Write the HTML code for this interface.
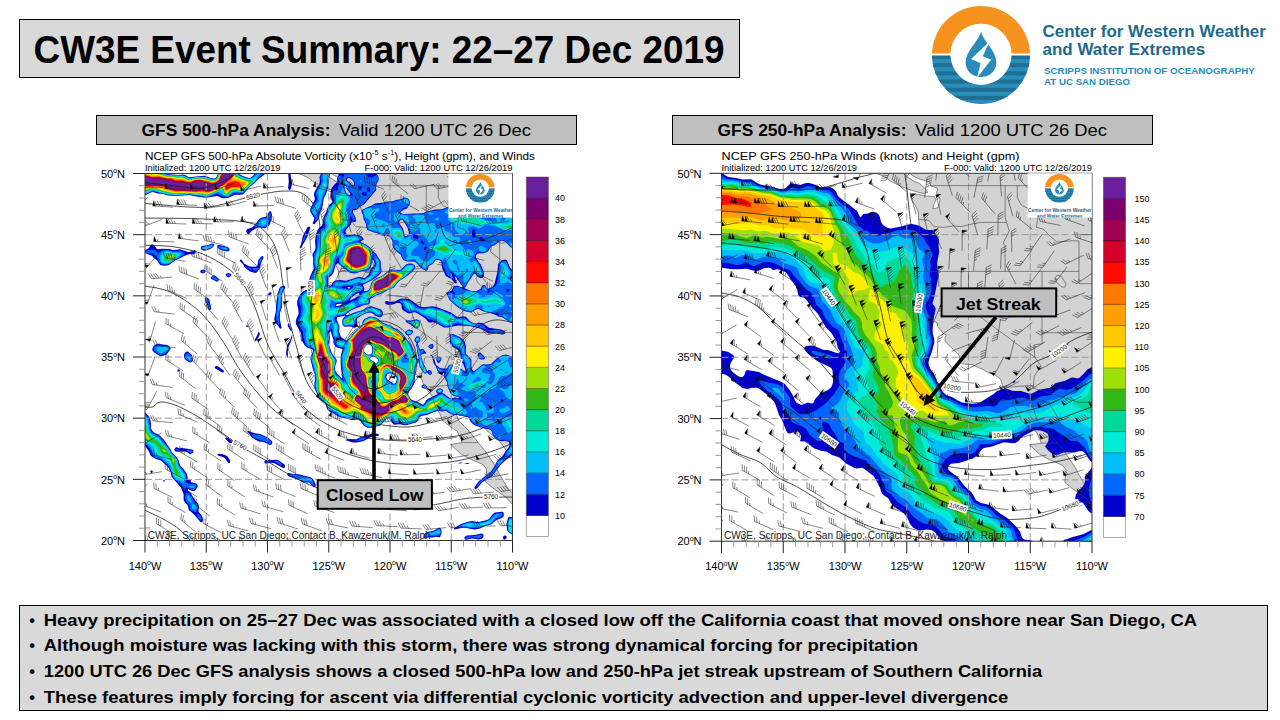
<!DOCTYPE html>
<html lang="en"><head><meta charset="utf-8"><title>CW3E Event Summary: 22–27 Dec 2019</title>
<style>html,body{margin:0;padding:0;background:#fff;overflow:hidden}svg{display:block}text{font-family:"Liberation Sans", sans-serif}</style></head><body>
<svg width="1280" height="720" viewBox="0 0 1280 720">
<rect width="1280" height="720" fill="#fff"/>
<rect x="19.5" y="19.5" width="720" height="58" fill="#d9d9d9" stroke="#000" stroke-width="1"/>
<text x="33.5" y="62.5" font-size="38.4" font-weight="bold" text-anchor="start" fill="#000" textLength="691" lengthAdjust="spacingAndGlyphs">CW3E Event Summary: 22–27 Dec 2019</text>
<clipPath id="lg981"><circle cx="981" cy="55" r="49"/></clipPath>
<g clip-path="url(#lg981)">
<rect x="932" y="6" width="98" height="49" fill="#f6921e"/>
<rect x="932" y="55" width="98" height="49" fill="#2a8cbb"/>
<rect x="932" y="55.00" width="98" height="4.08" fill="#1f6f94"/>
<rect x="932" y="63.17" width="98" height="4.08" fill="#1f6f94"/>
<rect x="932" y="71.33" width="98" height="4.08" fill="#1f6f94"/>
<rect x="932" y="79.50" width="98" height="4.08" fill="#1f6f94"/>
<rect x="932" y="87.67" width="98" height="4.08" fill="#1f6f94"/>
<rect x="932" y="95.83" width="98" height="4.08" fill="#1f6f94"/>
<rect x="932" y="53.52" width="98" height="1.96" fill="#fff"/>
</g>
<circle cx="981" cy="54.31" r="30.6" fill="#fff"/>
<path d="M981.00,31.67 C983.72,41.86 996.40,50.92 996.40,62.24 C996.40,71.30 989.15,76.96 981.00,76.96 C972.85,76.96 965.60,71.30 965.60,62.24 C965.60,50.92 978.28,41.86 981.00,31.67Z" fill="#2a8cbb"/>
<path d="M989.38,41.63 L971.04,59.07 L980.55,63.37 L977.15,77.41 L991.19,59.75 L982.81,56.13 Z" fill="#fff"/>
<text x="1042.5" y="37.1" font-size="16.6" font-weight="bold" text-anchor="start" fill="#1d6a8c" textLength="223.3" lengthAdjust="spacingAndGlyphs">Center for Western Weather</text>
<text x="1042.5" y="54.9" font-size="16.6" font-weight="bold" text-anchor="start" fill="#1d6a8c" textLength="162.7" lengthAdjust="spacingAndGlyphs">and Water Extremes</text>
<text x="1044" y="73.6" font-size="9.0" font-weight="bold" text-anchor="start" fill="#2a8cbb" textLength="210.8" lengthAdjust="spacingAndGlyphs">SCRIPPS INSTITUTION OF OCEANOGRAPHY</text>
<text x="1044" y="84.9" font-size="9.0" font-weight="bold" text-anchor="start" fill="#2a8cbb" textLength="86.1" lengthAdjust="spacingAndGlyphs">AT UC SAN DIEGO</text>
<rect x="96.5" y="115.5" width="480" height="29" fill="#bfbfbf" stroke="#000" stroke-width="1"/>
<text x="141.5" y="135.7" font-size="16.3" font-weight="bold" text-anchor="start" fill="#000" textLength="189" lengthAdjust="spacingAndGlyphs">GFS 500-hPa Analysis:</text>
<text x="339.0" y="135.7" font-size="16.3" font-weight="normal" text-anchor="start" fill="#000" textLength="192" lengthAdjust="spacingAndGlyphs">Valid 1200 UTC 26 Dec</text>
<rect x="672.5" y="115.5" width="480" height="29" fill="#bfbfbf" stroke="#000" stroke-width="1"/>
<text x="717.5" y="135.7" font-size="16.3" font-weight="bold" text-anchor="start" fill="#000" textLength="189" lengthAdjust="spacingAndGlyphs">GFS 250-hPa Analysis:</text>
<text x="915.0" y="135.7" font-size="16.3" font-weight="normal" text-anchor="start" fill="#000" textLength="192" lengthAdjust="spacingAndGlyphs">Valid 1200 UTC 26 Dec</text>
<text x="145" y="159.7" font-size="11.3" font-weight="normal" text-anchor="start" fill="#000" textLength="390" lengthAdjust="spacingAndGlyphs">NCEP GFS 500-hPa Absolute Vorticity (x10<tspan font-size="7" dy="-4.5">-5</tspan><tspan dy="4.5"> s</tspan><tspan font-size="7" dy="-4.5">-1</tspan><tspan dy="4.5">), Height (gpm), and Winds</tspan></text>
<text x="145" y="171.3" font-size="8.9" font-weight="normal" text-anchor="start" fill="#000" textLength="135.5" lengthAdjust="spacingAndGlyphs">Initialized: 1200 UTC 12/26/2019</text>
<text x="512.5" y="171.3" font-size="8.9" font-weight="normal" text-anchor="end" fill="#000" textLength="148" lengthAdjust="spacingAndGlyphs">F-000: Valid: 1200 UTC 12/26/2019</text>
<clipPath id="clipL"><rect x="145" y="173.5" width="367.5" height="367.0"/></clipPath>
<g clip-path="url(#clipL)">
<rect x="140" y="170" width="380" height="380" fill="#fff"/>
<path d="M323.8 155.2L328.8 168.6L331.8 173.5L334.9 175.9L342.2 179.6L351.4 182.1L352.6 185.7L359.4 188.8L358.2 193.1L361.8 199.2L361.2 202.9L360.0 207.8L354.5 209.0L355.7 204.7L357.5 199.8L355.9 196.5L348.3 196.1L332.2 193.3L333.0 199.2L337.3 205.9L339.8 211.4L340.4 214.5L340.4 219.4L341.4 228.5L340.1 239.6L336.7 254.8L334.1 261.1L338.5 271.4L338.5 274.4L339.2 283.0L336.1 290.4L340.4 295.8L343.2 303.2L344.3 308.7L352.6 316.6L353.2 320.3L359.4 322.7L359.4 326.4L364.9 333.1L368.0 335.0L366.7 337.4L366.7 341.1L374.7 349.0L380.8 355.2L382.0 362.1L384.2 363.7L393.7 364.3L399.8 367.4L404.7 369.2L409.6 372.3L415.7 374.1L421.8 379.0L423.7 385.1L425.3 387.6L431.7 395.5L435.3 405.9L439.6 413.3L442.7 420.6L448.8 425.5L457.4 431.6L462.3 442.6L450.6 444.5L460.4 453.6L469.0 458.5L483.1 464.6L486.8 469.5L485.5 481.8L492.9 487.9L506.4 497.7L513.1 505.0L519.2 503.2L519.2 498.9L508.8 489.7L503.9 481.8L499.0 473.2L496.0 467.1L488.6 456.1L484.9 450.6L478.2 442.6L469.0 431.0L458.6 420.6L455.5 412.0L453.7 405.9L454.3 397.4L469.0 402.3L475.8 412.0L479.4 419.4L483.1 426.7L488.6 432.2L495.3 437.7L501.5 443.6L505.8 450.0L513.7 456.1L521.1 461.0L530.9 461.0L530.9 155.2ZM288.3 162.5L294.5 172.3L303.0 175.3L309.2 178.4L312.8 181.5L317.7 183.9L323.8 187.0L330.0 189.4L336.1 191.2L344.7 193.7L349.6 192.8L348.3 190.0L341.6 183.7L336.1 181.5L329.4 177.3L325.7 173.3L317.7 168.6L299.3 162.5Z" fill="#d3d3d3" stroke="none"/>
<path fill="#0000cd" fill-rule="evenodd" d="M143.0,195.7L143.0,171.0L160.8,171.0L167.1,174.0L178.0,174.9L183.0,174.6L186.0,175.6L189.0,177.2L204.0,175.8L207.0,176.4L211.0,178.1L214.0,178.4L215.7,178.0L216.5,177.0L219.1,171.0L239.8,171.0L239.0,174.0L242.9,176.0L249.0,178.0L250.0,178.0L253.1,176.0L255.0,172.5L256.4,171.0L265.7,171.0L265.3,173.0L264.0,175.0L258.5,179.0L254.7,183.0L250.7,186.0L243.0,194.2L241.0,194.7L235.0,194.8L228.0,197.9L223.0,198.2L217.0,195.9L206.0,197.7L196.0,196.5L189.0,195.0L178.0,195.9L168.0,195.5L163.3,194.0L158.0,193.4L153.0,191.9L150.0,192.8L147.0,194.6ZM288.1,171.0L290.9,171.0L290.7,176.0L291.9,183.0L291.2,188.0L290.0,190.2L289.0,190.1L288.0,188.0L288.8,182.0ZM330.5,171.0L330.2,174.0L328.7,180.0L328.5,186.0L326.4,193.0L323.7,199.0L322.1,209.0L319.9,213.0L319.1,218.0L318.1,220.0L315.0,223.6L314.0,224.2L313.0,224.1L312.7,223.0L314.1,220.0L314.2,218.0L310.5,212.0L310.2,210.0L310.6,208.0L315.0,199.0L314.0,195.0L314.4,192.0L319.2,184.0L319.8,182.0L319.5,177.0L322.3,171.0ZM339.0,172.6L342.0,172.2L343.4,171.0L369.6,171.0L370.0,172.8L371.0,172.2L371.1,171.0L373.0,171.0L373.0,172.0L374.0,172.9L377.0,174.3L378.6,177.0L378.7,180.0L376.5,184.0L376.0,188.0L376.4,190.0L364.0,204.5L360.0,206.5L357.0,209.5L354.0,210.4L353.0,210.0L353.0,212.6L355.4,217.0L356.2,221.0L355.0,221.9L352.0,221.8L350.5,225.0L347.0,228.4L345.4,231.0L345.8,233.0L348.0,235.2L355.0,234.3L360.0,235.5L362.3,237.0L363.7,239.0L363.2,240.0L361.2,241.0L360.5,242.0L366.0,244.6L370.7,248.0L373.0,251.2L376.4,254.0L377.8,257.0L380.6,261.0L380.9,267.0L381.5,270.0L380.9,273.0L379.0,275.2L373.0,279.4L362.8,285.0L364.6,288.0L363.8,291.0L366.0,291.2L368.7,290.0L370.0,287.7L371.3,283.0L373.0,280.5L376.0,278.6L382.0,276.0L389.0,270.3L393.0,269.8L400.0,270.0L401.6,269.0L406.0,264.5L409.0,263.6L412.0,263.5L414.5,265.0L415.5,267.0L415.3,268.0L412.0,272.3L403.0,278.7L399.0,281.0L394.0,287.5L387.9,290.0L382.0,293.5L377.6,295.0L370.0,298.9L370.3,302.0L369.0,304.2L364.2,305.0L351.8,310.0L348.6,312.0L345.8,315.0L347.0,315.2L351.0,314.0L355.0,312.2L363.1,310.0L370.0,306.5L372.0,306.4L380.0,309.0L381.5,310.0L382.8,312.0L383.0,314.0L382.3,316.0L381.0,317.1L379.0,317.2L377.0,316.4L372.0,312.9L370.0,312.6L367.0,313.0L362.2,315.0L357.7,318.0L356.7,320.0L357.5,324.0L357.3,326.0L356.0,327.2L354.0,327.5L350.0,326.5L345.0,326.7L344.0,326.4L342.8,325.0L342.2,323.0L342.4,320.0L343.4,318.0L345.5,316.0L345.0,315.5L343.0,316.3L337.5,317.0L336.7,318.0L336.8,320.0L339.4,326.0L339.2,332.0L341.0,337.0L346.0,340.4L347.0,340.4L350.0,337.5L353.3,333.0L361.0,326.6L362.0,325.0L362.9,321.0L364.3,319.0L370.0,316.5L375.0,317.3L378.0,318.7L383.0,323.1L385.0,323.8L386.0,323.7L388.0,324.9L390.0,325.3L393.3,328.0L397.0,328.7L402.0,332.8L411.2,345.0L412.6,348.0L415.0,356.7L418.0,359.1L418.5,359.0L418.6,358.0L417.4,353.0L417.0,348.0L416.1,345.0L416.6,343.0L415.0,341.7L414.4,340.0L414.6,339.0L416.0,337.0L417.0,336.3L419.0,336.5L420.2,338.0L420.4,340.0L419.5,342.0L417.6,343.0L420.0,349.8L422.0,348.7L423.0,348.8L426.3,353.0L426.0,353.4L424.0,353.4L421.0,354.7L423.0,363.1L426.4,369.0L427.0,371.1L429.0,369.9L430.0,370.1L431.2,371.0L431.9,373.0L431.6,374.0L430.0,374.9L429.0,374.8L427.0,372.3L426.0,373.6L425.0,373.8L424.0,373.1L419.6,367.0L419.0,359.4L418.5,362.0L415.9,366.0L414.8,372.0L414.6,383.0L411.4,389.0L410.0,390.2L408.4,393.0L408.2,395.0L411.0,399.2L412.0,400.0L418.0,401.9L423.0,404.9L424.0,404.2L426.6,400.0L428.0,398.7L438.0,394.0L436.1,392.0L436.1,391.0L437.0,389.5L439.0,388.6L441.0,388.5L442.9,390.0L443.0,391.0L442.1,393.0L444.0,393.8L449.6,398.0L459.8,398.0L458.0,396.9L453.0,395.8L450.3,393.0L447.3,386.0L447.0,382.0L445.5,380.0L445.1,378.0L443.5,376.0L444.3,373.0L440.0,372.9L437.6,371.0L435.5,366.0L433.6,363.0L432.5,358.0L431.4,356.0L430.0,355.0L431.0,354.6L433.0,356.6L433.5,358.0L433.0,359.0L434.0,359.3L434.5,360.0L436.0,365.0L440.0,368.1L443.0,368.6L447.0,368.4L448.1,366.0L450.0,364.5L454.0,365.2L458.0,367.0L462.0,369.3L465.0,371.7L465.7,371.0L463.3,364.0L461.3,362.0L460.3,360.0L460.5,355.0L459.0,350.4L452.8,347.0L450.3,344.0L449.7,342.0L450.0,338.0L449.4,335.0L450.2,334.0L453.0,333.9L459.0,336.5L461.4,338.0L464.9,342.0L466.0,346.0L465.7,353.0L466.1,354.0L470.3,358.0L471.4,360.0L471.4,367.0L473.0,371.3L474.0,371.2L477.0,369.1L481.0,365.4L483.0,364.3L487.0,364.6L491.0,364.0L497.0,358.3L502.0,355.4L506.0,354.5L513.0,357.0L515.0,357.3L515.0,453.2L508.0,458.2L501.0,464.6L492.0,476.3L482.0,482.6L477.4,488.0L476.0,489.0L475.0,488.9L474.4,488.0L474.6,487.0L479.0,481.0L491.0,471.4L494.0,467.0L497.8,460.0L502.8,456.0L504.9,452.0L508.9,447.0L509.6,445.0L509.0,441.9L505.0,440.8L501.0,441.2L497.0,439.9L494.0,437.0L492.4,434.0L492.0,432.0L490.7,430.0L488.0,428.9L484.0,428.5L482.0,427.6L480.0,427.6L479.0,426.8L475.0,425.5L471.7,423.0L469.5,420.0L469.2,418.0L467.4,417.0L459.0,415.6L458.0,415.0L455.0,415.1L452.0,414.5L449.0,413.1L446.0,410.7L442.0,411.5L440.0,410.9L437.9,411.0L434.0,411.9L427.0,415.0L421.1,416.0L419.9,417.0L417.6,421.0L416.0,422.4L407.0,425.0L404.0,425.2L400.0,424.3L394.0,424.7L392.2,423.0L390.4,419.0L389.0,418.2L387.0,418.7L385.1,420.0L382.9,423.0L380.0,425.6L372.0,427.8L368.0,427.8L364.0,425.8L359.0,419.5L352.0,419.9L341.0,417.6L338.0,416.4L334.0,413.4L329.0,411.3L327.0,409.0L326.0,405.0L325.0,403.1L320.0,399.4L317.7,396.0L314.4,387.0L314.4,383.0L314.9,380.0L314.7,374.0L312.6,368.0L310.6,360.0L310.6,357.0L313.2,351.0L313.1,350.0L311.7,349.0L307.0,347.5L304.4,345.0L301.6,340.0L301.0,332.9L295.9,324.0L295.7,322.0L296.3,319.0L298.6,314.0L298.3,309.0L297.2,305.0L297.2,301.0L298.6,297.0L300.0,294.6L303.8,291.0L308.1,289.0L309.2,287.0L309.8,284.0L309.4,280.0L309.6,278.0L312.5,271.0L313.8,269.0L313.1,264.0L313.2,258.0L312.4,255.0L313.0,253.0L315.0,250.1L315.5,248.0L315.1,241.0L315.7,235.0L318.0,229.0L321.5,226.0L322.6,224.0L323.6,217.0L325.3,214.0L328.0,206.8L329.1,205.0L332.5,202.0L332.5,201.0L330.4,197.0L330.8,190.0L332.0,187.6L334.9,184.0L337.2,182.0L336.9,178.0L338.2,176.0ZM345.0,185.4L344.2,186.0L346.0,192.4L347.3,194.0L349.0,194.8L350.0,194.7L350.4,194.0L350.2,193.0L347.5,190.0L346.0,186.3ZM347.0,178.8L346.7,180.0L347.6,181.0L350.0,182.6L352.0,184.9L353.4,185.0L354.1,184.0L354.1,183.0L353.0,180.7L351.0,179.0L349.0,178.1ZM374.0,261.2L373.0,259.7L372.0,260.0L371.4,265.0L370.4,268.0L369.0,269.5L367.0,270.4L362.0,270.9L356.0,273.2L354.0,273.5L350.0,272.8L342.0,266.7L338.0,263.0L335.7,265.0L333.7,272.0L332.1,275.0L328.5,278.0L328.2,285.0L329.0,285.7L331.0,285.5L333.1,282.0L335.0,280.8L337.0,280.2L340.0,280.1L346.0,280.8L359.0,276.8L361.0,277.1L363.0,278.1L365.0,278.1L369.0,274.0L370.7,269.0L374.0,266.0L374.6,264.0ZM369.0,343.6L367.7,344.0L365.0,346.8L364.0,348.7L363.9,350.0L364.0,351.2L365.2,353.0L367.0,354.4L369.0,354.8L371.0,354.2L372.0,353.1L372.3,351.0L372.0,346.5L371.0,344.9ZM387.5,374.0L386.2,377.0L387.0,379.2L393.0,383.6L394.0,383.8L395.7,383.0L396.9,379.0L395.0,375.6L392.9,374.0L391.0,373.4L389.0,373.4ZM331.0,331.3L330.0,331.7L329.4,333.0L330.0,338.0L329.1,345.0L331.0,351.0L332.9,355.0L335.6,358.0L336.7,360.0L336.6,362.0L334.9,367.0L335.0,370.1L337.0,373.5L342.0,378.4L342.3,377.0L341.5,375.0L341.7,372.0L341.1,367.0L341.4,354.0L342.9,350.0L342.6,349.0L337.0,347.6L334.4,345.0L333.5,343.0L333.3,339.0L332.0,336.0ZM336.0,305.2L336.3,306.0L338.0,306.0L343.3,304.0L341.0,303.7L337.0,304.0ZM347.6,288.0L349.0,288.6L350.4,288.0L350.0,287.0L348.0,287.1ZM359.0,293.3L358.0,293.2L356.2,294.0L351.0,297.8L350.0,300.2L351.0,300.2L353.0,298.9L355.0,298.3L359.3,295.0L359.5,294.0ZM371.0,357.2L369.9,359.0L370.5,360.0L373.0,361.1L376.0,363.5L377.0,363.4L378.0,361.0L378.1,360.0L377.6,359.0L375.0,356.9L373.0,356.6ZM362.0,210.0L369.0,206.5L371.0,206.1L375.0,203.4L385.0,202.4L387.0,201.5L393.0,201.3L396.0,199.9L402.0,199.1L404.0,197.6L405.0,197.5L408.0,198.6L409.8,201.0L409.8,204.0L407.0,208.4L404.0,209.5L400.7,212.0L400.3,213.0L403.5,214.0L423.0,213.3L424.0,213.0L425.0,211.9L435.0,209.6L442.0,209.3L448.0,206.7L450.0,206.4L453.0,207.6L454.0,209.2L457.0,211.0L461.0,212.0L464.0,211.3L467.0,211.4L471.0,210.3L475.0,210.0L483.0,212.1L488.0,212.0L490.0,210.7L492.0,210.3L503.0,212.3L508.0,210.4L512.0,212.0L515.0,212.7L515.0,247.6L511.0,247.6L505.0,241.7L503.0,240.8L500.0,240.8L499.0,242.3L497.4,243.0L495.0,245.0L491.0,246.5L488.3,251.0L487.0,252.1L483.0,253.4L479.0,253.2L477.0,254.0L475.8,256.0L476.0,257.6L479.0,262.5L480.5,264.0L483.2,270.0L484.0,273.0L483.9,276.0L483.0,277.7L481.0,278.2L479.0,277.6L477.0,276.2L475.0,273.4L472.7,275.0L471.3,278.0L468.0,282.3L465.6,287.0L464.2,288.0L471.0,291.0L476.0,291.2L480.6,289.0L482.0,286.0L483.0,285.1L484.0,284.8L485.0,285.3L487.0,288.5L489.0,288.6L492.2,287.0L494.5,284.0L497.4,272.0L498.0,265.0L498.6,263.0L502.0,260.3L505.0,259.6L507.0,260.2L509.8,267.0L513.0,270.8L513.9,273.0L513.5,276.0L511.4,279.0L511.8,280.0L513.8,282.0L515.0,282.2L515.0,322.6L511.0,322.7L501.7,317.0L498.0,316.4L497.0,315.4L491.0,313.3L485.0,312.0L481.0,310.3L479.0,308.9L476.0,309.6L471.0,312.5L465.0,311.2L459.0,308.2L457.8,307.0L456.0,306.1L449.6,300.0L446.0,293.0L447.0,292.2L448.5,292.0L451.0,290.7L454.0,286.3L457.0,285.4L461.0,287.3L462.8,287.0L456.0,276.9L455.0,276.5L454.8,277.0L457.0,283.0L456.0,283.6L454.8,283.0L452.0,279.5L445.9,276.0L442.4,269.0L441.7,266.0L441.5,262.0L440.7,261.0L439.0,259.9L436.0,259.8L433.0,263.7L428.7,266.0L427.6,270.0L426.0,270.7L422.0,268.7L415.0,261.8L413.0,261.4L407.0,261.6L403.2,260.0L401.5,257.0L401.0,254.8L397.0,252.0L393.4,248.0L392.4,245.0L392.6,243.0L392.1,240.0L389.5,237.0L387.0,235.6L382.0,235.5L376.7,233.0L374.0,232.6L367.5,230.0L366.5,228.0L366.0,224.3L363.6,219.0L363.0,215.0L361.6,212.0L361.5,211.0ZM401.0,219.8L399.6,221.0L398.8,223.0L399.2,224.0L402.7,228.0L404.9,236.0L406.0,236.2L408.0,235.0L409.1,233.0L407.3,227.0L403.0,220.5L402.0,219.8ZM271.0,211.5L271.9,214.0L271.7,218.0L270.1,224.0L268.4,226.0L265.0,228.3L259.0,227.6L257.0,227.9L251.6,231.0L249.0,233.9L248.0,234.1L247.0,233.6L246.1,231.0L247.0,229.3L252.0,227.4L255.0,224.9L258.0,220.4L260.0,218.4L262.0,217.4L266.0,216.7L267.0,215.7L269.0,211.7L270.0,211.1ZM310.0,226.7L310.3,228.0L307.4,237.0L302.7,245.0L302.0,247.1L301.0,248.3L300.0,248.3L299.8,247.0L301.1,244.0L302.8,236.0L307.0,227.9L308.0,226.8ZM214.4,245.0L213.0,247.3L209.0,249.6L206.0,250.5L204.0,250.7L202.0,250.1L200.9,249.0L200.7,248.0L201.0,247.0L202.0,246.1L208.0,245.1L212.0,243.5L213.9,244.0ZM144.7,252.0L145.4,250.0L149.0,248.0L150.6,245.0L152.0,244.3L153.9,245.0L157.0,249.1L158.0,249.3L162.0,248.7L170.0,249.1L173.0,250.3L180.0,249.2L188.0,252.0L192.0,251.5L195.0,249.8L195.5,251.0L195.2,253.0L194.0,254.3L189.0,254.3L184.0,256.0L180.0,258.3L175.7,260.0L169.0,264.9L165.0,265.8L162.0,265.6L160.0,264.7L157.0,260.3L154.0,258.2L152.0,255.8L146.0,253.5ZM217.2,246.0L218.0,245.1L219.0,245.0L227.0,246.8L228.9,248.0L229.5,249.0L229.3,251.0L228.0,251.6L222.0,250.5L217.6,248.0ZM263.4,257.0L263.4,258.0L261.9,261.0L259.4,269.0L257.0,272.2L255.0,273.1L250.0,271.5L246.0,268.6L244.5,267.0L242.9,264.0L239.9,261.0L239.8,260.0L241.0,259.5L242.0,260.3L244.0,263.6L249.0,266.3L252.0,266.8L256.0,266.4L257.0,266.0L257.6,265.0L258.1,261.0L259.0,259.1L262.0,256.0L263.0,256.3ZM200.2,272.0L200.3,271.0L201.0,270.3L203.0,269.4L204.8,270.0L205.5,271.0L205.0,272.5L203.0,273.5L201.2,273.0ZM225.7,275.0L226.0,273.8L228.0,273.1L231.0,273.8L231.4,275.0L230.0,276.8L228.0,277.5L226.1,276.0ZM211.1,277.0L213.0,275.4L215.0,275.6L218.8,279.0L218.5,281.0L217.0,281.8L211.0,278.8L210.7,278.0ZM283.0,285.7L284.0,285.8L285.0,286.6L285.3,288.0L283.0,291.6L282.2,294.0L282.1,307.0L280.0,313.0L279.8,319.0L281.6,328.0L281.0,328.7L280.0,328.6L275.9,323.0L274.3,320.0L274.2,319.0L275.9,311.0L276.1,305.0L277.4,294.0L279.5,288.0L281.0,286.4ZM268.1,294.0L268.7,293.0L270.0,292.2L271.0,292.3L271.5,293.0L271.5,294.0L270.0,295.3L268.4,295.0ZM206.0,297.3L208.0,298.1L209.2,300.0L211.4,309.0L210.0,310.2L209.0,310.0L208.1,309.0L207.0,304.8L204.8,300.0L205.0,298.2ZM385.0,302.0L386.0,301.0L387.0,300.9L390.0,301.7L395.0,301.6L399.0,299.2L402.0,298.4L409.0,298.9L411.0,299.9L419.0,306.1L424.0,307.2L433.0,306.3L438.0,307.6L451.0,312.4L457.0,316.8L459.0,317.0L463.0,316.2L466.0,316.8L469.7,321.0L473.1,323.0L476.0,323.4L480.0,322.8L482.0,323.0L484.1,324.0L489.0,327.8L501.0,329.5L504.2,331.0L505.3,332.0L505.5,333.0L504.7,334.0L502.0,334.5L496.0,333.4L489.0,333.5L480.0,328.5L470.0,326.0L458.0,325.6L448.0,327.6L444.0,327.4L436.0,322.9L433.0,322.3L429.0,322.4L428.0,321.8L424.9,318.0L416.0,312.6L414.0,312.2L409.0,313.4L407.0,312.7L402.7,310.0L401.7,308.0L401.5,305.0L401.0,304.0L399.4,303.0L397.0,302.8L393.0,304.5L389.0,305.1L386.0,304.3L385.0,303.0ZM405.3,321.0L406.0,320.3L411.0,320.6L417.0,319.3L419.5,321.0L419.9,323.0L419.7,326.0L418.0,328.0L417.0,328.4L415.0,328.3L411.3,325.0L407.0,322.7ZM288.0,320.9L288.2,323.0L289.0,323.9L291.7,330.0L291.8,331.0L291.0,331.6L287.8,326.0ZM245.6,326.0L247.0,325.2L248.7,326.0L248.0,326.8L247.0,327.1ZM405.3,333.0L405.4,332.0L406.2,331.0L409.0,329.5L412.0,330.2L413.1,331.0L413.4,332.0L411.0,334.6L409.0,335.4L408.0,335.5L406.0,334.4ZM259.0,331.4L259.8,334.0L259.3,336.0L256.0,340.9L255.0,340.5L255.0,339.2L257.3,335.0L258.0,332.7ZM292.0,334.3L292.3,336.0L292.0,338.8L288.5,347.0L287.8,352.0L288.0,358.0L287.0,357.1L286.0,354.0L287.0,345.9L287.6,344.0L290.3,340.0ZM152.3,350.0L152.5,348.0L153.7,346.0L157.0,343.8L167.0,345.1L169.0,346.1L170.6,348.0L170.1,350.0L166.0,354.9L162.0,356.1L160.0,355.9L158.0,355.1L153.6,352.0ZM428.4,346.0L430.0,344.4L432.0,344.1L433.0,344.5L433.7,346.0L433.0,348.1L432.0,348.8L431.0,348.9L429.2,348.0L428.4,347.0ZM186.0,351.8L188.0,351.5L191.9,355.0L193.1,360.0L192.0,362.1L190.0,362.4L186.0,360.3L184.8,359.0L184.1,357.0L184.0,355.0L184.8,353.0ZM478.0,353.6L479.0,352.6L480.0,352.5L481.0,352.9L484.8,357.0L485.0,358.0L484.4,359.0L483.0,359.5L481.0,359.5L479.0,358.5L477.5,356.0ZM439.0,356.5L441.0,357.6L441.6,359.0L440.0,362.1L439.0,363.0L438.0,362.7L437.0,361.6L436.3,359.0L437.0,357.4ZM214.6,367.0L216.0,366.1L218.0,366.2L224.0,370.7L223.8,372.0L223.0,372.5L222.0,372.4L215.0,368.2ZM177.2,371.0L178.0,369.5L179.0,369.3L179.7,370.0L179.3,371.0L178.0,372.0ZM421.6,386.0L423.0,384.7L425.0,384.4L426.8,386.0L426.7,388.0L425.0,388.8L423.0,388.3L421.4,387.0ZM143.0,409.9L148.0,415.3L149.8,418.0L151.0,423.0L150.8,428.0L152.0,430.5L154.0,432.4L159.0,434.9L164.0,439.8L170.3,449.0L172.0,452.5L176.4,457.0L178.6,460.0L180.0,465.2L183.5,469.0L186.9,474.0L188.0,479.8L190.0,479.4L190.6,480.0L191.0,482.3L195.0,482.9L196.9,484.0L197.7,485.0L197.6,487.0L195.0,490.7L192.0,490.9L188.0,488.9L187.5,490.0L190.8,493.0L193.6,498.0L198.3,504.0L199.0,507.0L198.5,511.0L198.8,512.0L201.5,515.0L202.9,519.0L202.9,521.0L202.0,521.9L201.0,522.0L200.0,521.5L194.0,514.4L188.9,510.0L187.5,505.0L184.6,502.0L183.6,500.0L183.6,494.0L180.7,487.0L171.6,477.0L170.7,472.0L168.0,467.0L161.0,460.5L156.0,459.1L151.1,456.0L150.3,455.0L149.0,451.6L145.0,446.1L144.3,444.0L143.0,442.4ZM247.6,431.0L248.7,431.0L253.9,433.0L261.0,434.2L268.0,437.8L271.8,441.0L272.4,442.0L272.0,443.9L271.0,444.8L270.0,445.0L264.0,442.2L259.0,441.2L255.0,439.5L251.4,437.0L249.6,434.0L247.4,432.0ZM379.2,435.0L378.0,436.0L373.0,435.9L363.0,441.2L356.0,442.5L353.0,442.4L345.0,440.0L348.0,438.9L356.0,439.2L362.0,436.5L365.0,435.9L372.0,433.6L378.0,433.8ZM225.3,438.0L226.0,437.2L228.4,438.0L231.7,441.0L232.1,443.0L231.0,443.5L229.0,442.4L225.4,439.0ZM174.4,449.0L176.0,447.3L177.0,447.3L179.0,448.2L182.0,448.1L191.0,449.2L193.0,450.0L193.6,451.0L192.6,453.0L190.0,454.4L187.0,452.1L185.0,451.4L176.0,451.7L174.7,451.0ZM217.7,454.0L219.0,453.7L223.0,454.3L227.0,456.1L228.0,457.0L230.2,461.0L230.0,462.8L229.0,463.5L228.3,463.0L224.7,458.0L223.0,456.9L218.0,455.5L217.4,455.0ZM264.3,462.0L264.7,461.0L266.0,460.3L277.0,459.8L279.0,460.4L285.0,465.0L285.2,466.0L285.0,467.0L284.0,468.0L283.0,468.0L274.0,462.9L271.0,462.7L266.0,463.7L264.6,463.0ZM458.3,463.0L461.0,462.6L463.4,463.0L459.0,463.5ZM464.1,463.0L469.5,463.0L468.0,463.9L467.0,463.9ZM150.4,471.0L151.0,470.4L152.0,470.4L152.7,471.0L152.7,472.0L152.0,472.9L151.0,473.1L150.3,472.0ZM287.2,474.0L288.0,472.8L293.0,474.1L300.0,474.5L305.0,476.1L310.0,476.9L311.8,478.0L313.5,480.0L315.6,484.0L315.8,486.0L315.0,487.0L314.0,487.3L309.0,482.6L303.0,482.5L299.0,480.0L289.0,476.5L287.4,475.0ZM163.1,481.0L164.0,479.8L165.1,481.0L164.0,481.7ZM503.7,513.0L503.8,516.0L502.0,518.1L496.5,520.0L491.0,524.6L485.4,526.0L480.0,528.4L475.0,529.4L471.0,529.1L465.0,527.4L460.9,528.0L455.0,529.6L453.9,529.0L454.2,528.0L461.0,524.1L468.0,521.7L472.0,521.0L477.0,522.1L479.0,522.1L486.9,520.0L489.0,519.0L492.8,514.0L495.0,512.4L502.0,511.7L503.0,512.1ZM509.0,516.8L513.0,517.2L515.0,518.9L515.0,535.5L513.0,535.5L508.0,531.5L507.0,530.0L506.6,524.0L507.9,518.0ZM441.3,529.0L441.6,533.0L440.0,537.3L436.0,536.7L432.0,537.6L428.0,537.6L425.0,538.7L423.8,538.0L423.5,536.0L424.4,534.0L426.0,532.4L434.0,530.4L439.0,527.7L440.0,527.9ZM483.6,535.0L483.4,537.0L482.0,538.7L479.0,539.6L472.0,538.6L466.0,539.7L464.6,539.0L464.4,538.0L465.0,536.5L467.0,535.4L475.0,535.0L481.0,533.6L482.7,534.0ZM505.0,535.4L506.2,536.0L506.7,537.0L506.6,538.0L505.0,539.6L504.0,539.7L503.2,539.0L503.0,537.0L504.0,535.5Z"/>
<path fill="#0066ff" fill-rule="evenodd" d="M143.0,194.8L143.0,171.0L147.8,171.0L151.0,171.5L152.7,171.0L159.9,171.0L163.4,173.0L168.0,174.7L177.0,175.3L183.0,175.2L190.0,177.9L197.0,176.8L204.0,176.4L213.0,179.0L215.0,178.8L216.4,178.0L219.5,171.0L239.3,171.0L238.3,174.0L239.0,174.9L249.0,178.6L251.0,178.2L253.0,177.0L256.0,173.1L259.0,171.2L262.3,171.0L263.2,173.0L262.0,175.0L258.0,178.3L254.8,182.0L250.0,185.9L247.4,189.0L243.0,193.0L241.0,193.4L237.0,192.9L234.0,193.1L228.0,197.0L222.0,196.3L217.0,193.5L209.0,196.5L206.0,197.0L189.0,194.6L178.0,195.6L168.0,194.9L153.0,191.1L151.0,191.6L146.0,194.1ZM329.7,171.0L329.2,175.0L327.7,180.0L327.7,186.0L325.0,193.7L323.3,197.0L320.6,209.0L318.4,213.0L318.0,218.0L316.0,220.6L315.5,220.0L314.9,217.0L311.4,212.0L311.2,209.0L314.0,203.9L316.9,200.0L317.0,198.0L315.7,195.0L315.6,193.0L321.1,183.0L321.4,181.0L320.5,178.0L321.0,175.8L323.7,171.0ZM344.8,171.0L358.0,171.0L360.0,172.3L365.0,172.4L367.1,176.0L369.0,177.2L372.0,177.7L376.0,174.9L377.0,175.6L378.0,177.2L378.1,180.0L375.6,184.0L375.2,187.0L375.4,190.0L373.3,192.0L370.3,196.0L367.1,199.0L363.4,204.0L362.0,205.1L360.0,205.3L357.6,208.0L356.1,209.0L353.0,209.1L352.0,209.8L352.2,213.0L354.4,217.0L355.1,220.0L354.0,220.6L353.0,220.1L351.0,216.3L350.0,215.7L350.2,218.0L349.2,224.0L343.3,231.0L343.7,233.0L345.0,235.0L347.0,236.4L351.0,236.1L354.0,235.3L360.0,236.4L361.0,237.0L361.9,238.0L361.9,239.0L361.0,239.9L357.0,242.0L354.0,241.7L352.9,242.0L353.0,242.5L356.0,242.0L359.0,242.2L364.0,244.3L370.0,248.2L371.6,250.0L373.7,254.0L373.0,254.1L371.2,260.0L370.7,265.0L369.0,268.5L367.0,269.7L363.0,270.1L356.0,272.6L352.0,272.6L350.0,271.9L342.0,265.9L340.0,264.0L339.0,262.0L339.0,257.7L338.0,257.5L337.0,257.9L336.2,259.0L335.8,262.0L334.4,265.0L332.0,273.0L331.0,274.3L326.9,277.0L327.1,286.0L329.0,286.6L332.8,286.0L333.4,283.0L335.0,281.8L337.0,281.2L346.0,281.8L358.0,277.8L360.0,277.8L363.0,279.1L365.0,278.9L370.0,275.0L370.6,274.0L371.4,270.0L374.4,267.0L375.5,265.0L375.7,263.0L373.7,258.0L373.8,255.0L374.5,254.0L375.0,254.0L379.7,261.0L380.5,271.0L380.0,272.4L378.7,274.0L370.0,280.6L364.0,283.4L362.0,283.8L359.0,283.5L358.0,283.9L361.0,285.5L363.0,287.4L363.2,289.0L361.5,291.0L357.0,292.4L352.0,295.6L350.4,297.0L348.0,300.2L346.0,301.5L343.0,302.4L335.6,303.0L334.9,304.0L335.2,307.0L336.0,307.3L339.0,306.7L347.4,304.0L352.0,301.0L356.0,300.4L357.9,298.0L360.4,296.0L360.9,294.0L362.0,292.8L367.0,291.6L369.0,290.4L370.0,289.0L371.9,283.0L373.2,281.0L375.0,279.6L382.6,276.0L389.0,270.8L393.0,270.3L400.0,270.7L402.0,269.5L406.0,265.4L408.0,264.5L413.0,264.6L414.4,266.0L414.7,267.0L411.1,272.0L403.0,278.1L398.5,281.0L393.7,287.0L386.9,290.0L382.0,292.8L378.4,294.0L369.0,298.5L368.6,299.0L369.4,302.0L369.0,303.0L368.0,303.7L365.0,304.0L361.0,305.4L358.0,305.8L354.7,308.0L349.0,310.8L343.7,315.0L338.0,315.7L335.5,317.0L334.8,318.0L334.8,320.0L338.1,324.0L338.8,327.0L338.1,332.0L339.2,335.0L339.3,337.0L340.6,339.0L346.0,341.6L347.0,341.5L353.9,333.0L361.1,327.0L364.2,320.0L366.0,318.7L370.0,317.2L374.0,317.6L377.0,318.8L383.6,324.0L387.0,324.7L388.0,325.6L391.0,326.7L393.0,328.5L397.0,329.5L400.0,331.7L403.4,335.0L409.2,343.0L411.4,347.0L415.0,357.7L417.0,358.7L417.7,360.0L417.2,363.0L415.3,366.0L414.5,371.0L414.1,383.0L410.7,389.0L409.3,390.0L408.0,392.3L407.5,394.0L407.7,395.0L411.0,400.2L412.0,400.9L417.0,402.7L423.0,405.8L424.0,405.4L427.0,401.1L429.0,399.5L441.0,393.8L443.0,394.3L449.0,398.4L451.0,398.8L458.0,398.8L459.0,399.1L460.0,400.2L461.0,400.4L461.6,400.0L461.8,399.0L461.0,397.6L453.0,395.2L451.0,393.0L447.8,386.0L447.5,382.0L444.6,376.0L444.6,375.0L446.0,373.0L446.0,371.9L445.0,371.3L443.0,372.2L440.0,372.1L438.0,370.5L436.9,368.0L437.0,366.7L441.0,369.2L446.0,370.4L447.0,369.9L449.0,365.6L450.0,365.2L453.0,365.6L458.0,367.5L461.9,370.0L465.0,372.9L467.0,373.0L467.3,372.0L465.3,367.0L464.8,363.0L462.9,361.0L462.0,359.0L461.9,355.0L460.0,349.6L459.0,348.5L453.4,346.0L451.0,343.1L451.0,334.8L453.0,334.8L458.5,337.0L460.1,338.0L463.6,342.0L465.0,347.0L465.0,354.0L469.1,358.0L470.8,361.0L470.5,368.0L472.0,372.6L473.0,372.6L477.0,369.7L481.0,366.0L483.0,364.9L487.0,365.4L491.0,364.6L493.0,363.4L497.2,359.0L502.0,356.0L506.0,355.2L509.0,355.9L512.0,357.7L515.0,357.8L515.0,439.6L513.0,439.3L511.0,440.0L515.0,441.4L515.0,452.0L506.0,457.8L503.7,461.0L497.7,467.0L495.0,471.5L492.1,475.0L483.0,480.6L477.0,486.8L476.7,486.0L480.0,480.9L484.0,478.3L487.5,475.0L491.5,472.0L494.3,468.0L498.0,461.0L500.0,459.2L504.1,457.0L505.0,456.0L506.2,452.0L508.7,449.0L511.1,445.0L510.7,441.0L510.0,440.7L507.0,440.7L504.0,439.5L500.0,440.2L497.0,439.2L494.0,435.7L493.0,433.9L492.7,432.0L491.0,429.3L488.0,428.2L484.9,428.0L483.0,426.9L480.0,426.9L479.0,426.0L475.0,424.6L470.8,421.0L470.0,417.5L469.0,416.5L464.0,416.1L458.0,414.5L454.0,414.4L450.0,413.1L447.0,410.4L446.0,410.2L442.0,410.8L440.0,410.3L437.0,410.4L434.0,411.2L427.0,414.1L421.0,414.9L419.2,416.0L417.3,420.0L416.0,421.4L414.0,422.4L407.0,424.2L404.0,424.2L400.0,423.0L395.0,423.4L394.0,423.0L391.4,418.0L390.0,417.2L388.0,417.7L385.4,419.0L382.0,423.1L379.0,425.3L372.0,427.2L368.0,427.0L364.3,425.0L359.0,418.3L352.0,418.9L341.8,417.0L339.0,416.0L335.0,412.7L330.0,410.7L328.0,408.7L326.8,405.0L325.7,403.0L320.7,399.0L319.0,397.1L316.7,392.0L315.0,386.0L315.6,380.0L315.4,374.0L311.7,362.0L311.2,359.0L311.6,356.0L314.1,350.0L313.0,348.5L308.0,346.7L305.9,345.0L303.6,338.0L302.7,331.0L298.2,324.0L298.1,320.0L300.7,315.0L300.6,312.0L301.3,308.0L299.0,302.1L298.9,300.0L300.0,296.9L304.0,292.2L309.0,289.8L310.6,287.0L311.4,284.0L310.6,280.0L310.9,278.0L313.2,272.0L315.1,269.0L314.1,264.0L313.9,255.0L316.0,251.0L316.8,248.0L317.2,236.0L320.3,230.0L324.4,227.0L324.8,225.0L324.2,221.0L324.4,218.0L326.7,214.0L327.8,210.0L329.0,207.8L333.8,202.0L334.2,200.0L332.7,196.0L332.9,192.0L334.0,190.6L337.0,190.5L338.1,190.0L337.7,187.0L339.3,185.0L339.4,182.0L338.0,177.9L340.0,175.2L341.5,177.0L342.0,179.2L344.3,175.0ZM347.0,177.5L345.8,180.0L346.5,181.0L349.4,183.0L352.0,186.5L353.0,186.6L354.8,185.0L354.9,183.0L353.4,180.0L350.0,177.1L349.0,176.9ZM361.0,185.9L359.5,186.0L358.2,187.0L358.0,188.1L359.0,189.4L361.0,189.2L362.1,188.0L362.3,187.0ZM363.0,192.3L362.1,193.0L361.9,194.0L362.5,195.0L364.0,196.0L366.0,196.0L366.9,195.0L366.9,194.0L366.0,192.2ZM369.0,186.9L367.0,187.8L366.4,189.0L366.8,191.0L368.0,191.7L370.0,191.5L370.5,191.0L370.1,188.0ZM332.0,328.5L329.0,330.2L328.0,332.0L327.9,334.0L328.8,338.0L327.9,344.0L330.6,352.0L332.8,356.0L335.8,360.0L335.8,362.0L334.2,369.0L335.0,372.1L336.0,374.2L339.0,376.6L343.0,381.3L343.5,381.0L343.7,380.0L343.0,379.0L343.0,377.0L342.3,375.0L342.3,371.0L341.6,367.0L341.6,357.0L341.9,354.0L343.7,349.0L343.5,348.0L338.0,346.8L335.0,344.1L334.6,342.0L334.9,339.0L332.9,336.0ZM340.9,287.0L341.8,288.0L346.0,288.5L349.0,289.6L352.1,288.0L353.3,286.0L353.0,285.4L344.0,286.0ZM369.0,343.1L367.0,344.0L365.0,346.2L363.9,348.0L363.7,351.0L364.0,352.2L366.0,354.3L367.1,355.0L369.0,355.3L371.0,354.8L372.0,353.8L372.9,351.0L372.2,346.0L371.0,344.5ZM387.0,373.6L385.5,376.0L385.6,378.0L386.8,380.0L393.0,384.4L395.0,384.3L396.0,383.6L397.0,381.6L397.4,379.0L395.3,375.0L393.0,373.4L391.0,372.7L389.0,372.7ZM406.0,354.6L405.0,354.9L404.0,357.0L405.0,358.4L406.0,358.9L406.9,358.0ZM502.0,399.2L501.0,400.0L501.1,401.0L502.0,401.7L503.0,401.7L503.8,401.0L503.5,400.0ZM344.0,184.7L343.4,186.0L346.0,193.7L349.0,195.6L352.0,195.8L352.9,195.0L352.4,194.0L348.4,190.0L346.0,185.1L345.0,184.5ZM371.0,356.5L369.7,358.0L369.9,360.0L373.0,361.4L376.0,364.0L377.0,364.0L378.4,361.0L378.0,358.8L375.0,356.4L373.0,356.1ZM362.2,211.0L362.9,210.0L365.0,208.9L371.0,206.7L374.0,204.8L380.0,204.5L383.0,203.4L385.0,203.4L387.0,202.4L390.0,202.0L392.0,202.7L393.0,202.5L395.4,201.0L402.0,199.6L405.0,198.2L407.0,198.6L409.0,200.5L409.4,202.0L409.3,204.0L407.0,207.3L403.0,208.3L399.7,212.0L399.4,213.0L402.0,214.3L414.0,214.5L416.0,213.9L420.0,214.3L423.0,214.0L429.0,211.6L436.0,210.5L439.0,210.5L440.0,209.9L442.0,210.0L448.0,207.5L450.0,207.2L452.5,208.0L455.0,210.6L461.0,212.5L464.0,211.9L467.0,212.2L472.0,210.6L475.0,210.4L482.0,212.5L489.0,212.5L491.0,211.1L492.0,211.0L503.0,212.8L505.0,212.4L508.0,211.0L515.0,213.6L515.0,234.4L512.7,235.0L513.2,236.0L515.0,237.0L515.0,246.7L512.0,247.2L511.0,247.0L504.0,240.2L501.0,239.9L500.0,240.1L498.2,242.0L494.0,244.7L491.0,245.4L488.0,249.4L487.3,251.0L485.7,252.0L483.0,252.6L479.0,252.3L477.0,252.7L475.0,255.0L474.7,258.0L479.0,264.0L482.9,272.0L482.9,274.0L481.7,276.0L480.0,276.5L479.0,276.4L477.1,275.0L475.0,272.1L472.0,274.6L471.2,277.0L466.8,283.0L466.0,285.2L465.0,286.6L464.0,287.0L461.0,283.6L457.9,278.0L454.7,275.0L454.0,273.5L451.0,271.5L450.4,272.0L450.5,273.0L453.5,278.0L453.0,278.4L447.0,275.1L444.7,269.0L443.0,266.0L442.4,262.0L441.8,261.0L439.0,259.4L437.0,259.1L435.0,260.0L433.0,263.0L429.0,265.0L428.0,266.0L427.0,269.9L426.0,270.2L422.0,268.1L417.0,263.2L416.0,261.7L415.0,261.1L412.0,260.6L408.0,261.1L404.0,259.5L402.8,258.0L401.2,254.0L397.9,252.0L394.1,248.0L393.0,245.0L393.4,243.0L392.8,240.0L390.0,236.6L387.0,234.7L384.0,235.1L382.0,234.7L377.0,232.4L374.2,232.0L368.0,229.5L366.8,226.0L366.7,224.0L366.0,223.0L365.7,221.0L364.5,219.0ZM401.0,219.1L398.6,221.0L397.7,223.0L397.9,224.0L402.0,228.2L404.2,236.0L405.0,237.3L408.0,235.8L409.9,234.0L410.1,233.0L407.8,226.0L403.5,220.0L402.0,219.1ZM413.8,234.0L412.9,236.0L413.5,238.0L416.0,239.0L418.3,239.0L418.1,236.0L417.3,235.0L415.0,233.8ZM420.5,241.0L421.0,242.7L422.0,243.9L424.0,244.6L424.1,243.0L423.1,241.0L422.0,240.6ZM427.0,246.6L425.0,246.5L424.0,248.3L424.0,250.1L425.0,250.2L427.0,248.4L427.4,247.0ZM474.0,229.0L473.0,229.6L472.1,231.0L471.7,235.0L472.4,237.0L474.0,237.7L475.4,237.0L475.9,236.0L475.2,230.0ZM479.6,237.0L479.2,238.0L479.5,239.0L480.8,241.0L484.0,241.8L485.0,241.1L485.1,240.0L483.2,238.0L481.0,237.1ZM270.1,213.0L271.0,214.9L270.5,218.0L267.9,224.0L266.0,226.4L264.0,227.4L259.0,226.5L255.0,227.5L254.3,227.0L260.0,219.7L262.0,218.5L266.0,217.8L267.1,217.0L269.0,213.7ZM306.0,233.7L306.6,234.0L304.0,240.7L303.0,241.7L303.0,240.0L304.0,236.9ZM213.6,245.0L213.4,246.0L212.0,247.3L207.0,249.6L203.0,249.7L201.8,249.0L201.5,248.0L202.0,247.0L207.0,246.1L212.0,244.2L213.0,244.3ZM218.3,247.0L219.0,245.9L227.0,247.5L228.6,249.0L228.5,250.0L227.0,250.5L223.0,249.8L219.0,248.1ZM145.9,251.0L148.0,250.0L153.0,249.5L155.0,250.2L157.0,252.5L158.0,252.7L162.0,250.5L165.0,249.9L168.7,250.0L173.0,251.5L180.0,250.7L181.4,251.0L184.6,253.0L184.9,254.0L179.0,257.8L174.4,260.0L170.0,263.3L167.0,264.5L163.0,264.7L161.1,264.0L160.1,263.0L157.0,257.6L153.0,253.6L148.0,253.4L146.0,252.2ZM262.0,257.6L261.9,259.0L260.0,263.7L259.0,263.7L258.8,262.0L259.2,260.0L261.0,258.0ZM515.0,321.9L513.0,322.4L511.0,322.2L502.0,316.4L499.0,315.7L498.3,315.0L498.7,313.0L497.0,312.3L495.0,313.2L493.0,313.3L485.0,311.6L479.0,308.2L477.0,308.3L471.0,311.8L466.0,311.0L459.7,308.0L452.2,302.0L448.9,298.0L447.3,293.0L452.0,292.3L453.2,294.0L454.0,294.5L455.0,294.2L455.0,293.0L453.8,292.0L453.0,290.0L454.6,287.0L457.0,286.5L459.1,287.0L464.0,289.4L467.0,289.9L470.0,291.2L476.0,291.7L482.0,289.4L482.5,287.0L483.0,286.2L484.0,285.8L485.0,286.3L487.6,290.0L487.7,292.0L487.2,293.0L488.7,293.0L489.5,292.0L490.1,289.0L491.3,288.0L494.0,287.0L496.0,285.0L498.0,279.0L499.1,265.0L499.8,263.0L502.5,261.0L505.7,261.0L507.0,262.5L509.2,268.0L512.2,272.0L512.2,275.0L510.0,278.0L510.0,279.0L513.0,282.2L515.0,282.7ZM509.0,288.9L507.1,289.0L506.3,290.0L506.2,291.0L507.0,291.9L508.0,292.0L509.5,291.0L509.8,290.0ZM246.0,267.0L247.0,266.8L252.0,268.7L254.0,268.0L257.0,267.9L258.0,267.3L258.5,268.0L257.0,270.3L256.0,270.9L253.0,269.7L250.0,269.5ZM201.6,272.0L201.6,271.0L203.0,270.3L204.6,271.0L204.0,272.3L203.0,272.5ZM226.5,275.0L227.0,274.0L229.0,274.1L230.0,275.0L229.8,276.0L228.0,276.8L226.8,276.0ZM211.9,277.0L213.0,276.1L214.1,276.0L217.0,278.0L217.8,279.0L218.0,280.2L217.0,280.8L213.0,279.0L211.7,278.0ZM283.0,286.7L283.9,287.0L284.2,288.0L282.0,292.0L281.5,294.0L281.2,307.0L279.4,312.0L278.8,318.0L279.4,323.0L279.0,325.2L276.7,322.0L276.1,319.0L276.1,315.0L277.8,300.0L277.7,296.0L280.4,288.0L281.7,287.0ZM206.0,298.6L207.0,298.6L208.2,300.0L208.4,302.0L210.4,308.0L210.4,309.0L210.0,309.4L209.0,309.1L208.4,308.0L207.6,304.0L205.7,300.0ZM399.1,301.0L400.2,300.0L403.0,299.4L408.0,300.3L411.0,301.8L417.0,306.7L422.0,308.5L424.0,308.6L429.0,307.5L433.0,307.4L442.0,310.0L451.0,313.9L457.0,317.9L459.0,318.3L463.0,317.7L465.0,318.0L469.9,322.0L472.0,323.1L476.0,324.1L480.0,324.0L482.0,324.5L484.0,325.9L486.2,329.0L486.0,329.5L477.0,326.7L469.0,325.3L464.0,325.1L458.0,323.6L455.0,323.9L451.1,326.0L449.0,326.6L445.0,326.7L440.0,324.3L434.0,320.6L432.0,319.8L429.0,319.4L426.0,317.0L422.0,315.1L416.0,311.2L414.0,311.0L410.0,311.9L408.0,311.5L404.6,309.0L402.7,304.0ZM381.8,312.0L382.1,314.0L381.8,315.0L380.0,316.3L377.0,315.5L373.0,312.5L371.0,311.8L366.0,312.7L357.6,317.0L355.9,319.0L355.4,321.0L356.1,325.0L355.0,326.3L350.0,325.6L345.0,325.9L344.0,325.5L343.0,324.0L342.7,322.0L343.1,320.0L344.0,318.5L346.0,316.8L356.0,312.6L364.0,310.2L369.0,307.4L372.0,307.1L380.0,309.9ZM406.4,321.0L410.0,321.3L416.0,320.1L418.0,320.5L419.0,321.5L419.5,323.0L419.2,326.0L418.0,327.6L415.0,327.6L412.5,325.0L407.1,322.0ZM486.3,330.0L487.0,329.6L491.0,330.4L495.0,329.5L498.6,330.0L502.0,331.0L503.4,332.0L503.4,333.0L500.0,333.4L489.0,331.5ZM405.8,333.0L406.0,332.0L407.0,330.9L409.0,330.2L412.0,331.0L412.4,332.0L412.0,333.0L411.0,333.9L409.0,334.8L407.0,334.5ZM418.0,336.8L419.5,338.0L419.7,340.0L419.0,341.4L417.0,342.2L415.4,341.0L415.3,339.0L416.9,337.0ZM417.0,343.9L418.3,346.0L420.0,351.1L422.0,349.7L423.0,350.1L424.0,352.0L422.0,353.5L421.0,353.5L420.5,355.0L422.8,364.0L426.3,370.0L426.6,372.0L426.0,373.0L424.6,373.0L422.0,369.9L419.9,366.0L419.3,358.0L417.6,352.0L417.3,347.0L416.4,345.0ZM153.5,349.0L154.0,347.4L155.2,346.0L158.0,344.8L162.0,345.7L167.0,345.9L168.9,347.0L169.5,348.0L168.9,350.0L166.0,353.1L164.0,354.2L161.0,355.1L160.0,355.0L156.9,353.0L154.0,350.4ZM430.0,345.3L432.0,345.0L432.8,346.0L432.0,347.8L431.0,348.1L429.5,347.0L429.4,346.0ZM186.0,353.6L187.0,353.0L188.0,353.2L190.4,355.0L192.0,358.9L192.0,361.1L191.0,361.7L190.0,361.6L187.1,360.0L186.1,359.0L185.1,356.0ZM479.0,354.5L480.0,354.0L481.0,354.4L483.6,357.0L483.7,358.0L482.0,358.7L480.0,358.2L478.7,356.0ZM439.0,357.2L440.5,358.0L440.8,359.0L440.0,360.8L439.0,361.6L437.6,361.0L436.9,359.0L437.3,358.0ZM429.0,370.9L430.0,370.9L431.1,372.0L431.0,373.6L430.0,374.2L429.0,373.9L428.5,373.0L428.4,372.0ZM422.5,386.0L424.0,384.9L425.0,384.9L426.3,386.0L426.5,387.0L426.0,388.0L424.0,388.1L422.4,387.0ZM442.4,390.0L442.5,391.0L441.0,392.8L439.0,393.1L436.8,392.0L436.7,391.0L438.0,389.5L440.0,389.0ZM143.0,412.3L147.8,417.0L149.0,418.9L149.7,423.0L149.9,428.0L151.0,431.3L153.0,433.3L158.0,435.6L161.5,439.0L168.6,448.0L172.0,453.5L177.1,459.0L179.3,466.0L182.9,470.0L186.1,475.0L186.3,477.0L185.6,481.0L186.0,482.6L190.0,484.1L194.0,484.1L196.1,485.0L196.2,487.0L194.0,489.7L192.0,489.7L189.0,488.0L187.0,487.5L185.4,488.0L185.0,490.4L184.0,489.9L181.5,485.0L175.0,479.6L172.6,477.0L171.2,471.0L169.0,466.6L161.0,459.1L156.0,458.0L152.1,455.0L150.6,451.0L148.3,447.0L144.1,442.0L143.0,441.3ZM251.9,434.0L260.0,435.1L262.9,436.0L266.6,438.0L270.4,441.0L271.2,442.0L271.2,443.0L270.0,443.8L265.0,441.4L254.0,438.0L251.9,436.0L251.5,435.0ZM365.9,438.0L363.4,440.0L358.0,441.0L353.8,441.0L357.0,440.6L362.0,437.4L365.0,437.3ZM175.8,450.0L176.0,449.3L182.0,450.0L177.0,450.5ZM186.9,450.0L189.0,449.6L191.4,450.0L192.4,451.0L192.2,452.0L191.0,453.0L190.0,453.1L187.4,451.0ZM269.7,462.0L267.0,462.7L266.0,462.6L265.5,462.0L268.0,461.0ZM272.8,461.0L277.5,461.0L280.5,463.0L282.2,465.0L280.2,465.0L274.0,461.2ZM288.5,474.0L300.0,475.6L310.0,477.9L313.1,481.0L314.5,485.0L314.0,486.0L309.0,481.6L304.0,481.7L302.1,481.0L299.0,478.6L291.8,477.0L288.5,475.0ZM186.1,493.0L187.0,492.7L189.5,494.0L193.0,499.5L197.3,505.0L197.8,508.0L196.0,512.6L191.0,510.2L190.0,509.0L189.7,505.0L186.1,501.0L185.2,499.0L185.1,497.0ZM502.8,514.0L502.0,516.0L496.0,518.7L491.0,523.8L480.0,527.5L471.0,528.2L465.0,526.7L461.0,527.3L458.4,527.0L462.0,524.4L468.0,522.5L473.0,522.0L478.0,523.0L486.0,521.2L489.0,519.9L494.0,514.4L496.9,513.0L501.0,512.7L502.1,513.0ZM197.0,513.2L199.0,514.2L200.7,516.0L201.5,519.0L201.0,520.1L200.0,519.6L197.9,517.0L196.9,515.0ZM510.0,517.7L513.0,518.3L514.0,520.0L515.0,524.0L515.0,534.4L512.0,534.1L508.3,531.0L507.7,530.0L507.6,523.0L508.6,519.0ZM440.8,530.0L440.9,533.0L440.0,535.0L439.0,535.6L429.0,536.2L425.0,537.9L424.2,537.0L425.0,534.4L427.0,532.8L434.0,531.2L439.0,528.6L440.0,528.9ZM482.6,536.0L482.0,537.1L478.0,538.5L473.0,537.4L471.0,537.5L467.0,538.7L465.6,538.0L465.9,537.0L467.0,536.5L474.0,536.2L481.0,534.6L482.4,535.0Z"/>
<path fill="#00bef8" fill-rule="evenodd" d="M143.0,194.1L143.0,171.0L146.7,171.0L149.0,172.0L151.0,172.2L153.8,171.0L158.9,171.0L162.0,172.9L167.3,175.0L177.0,175.7L183.0,175.7L188.0,178.0L190.0,178.4L196.0,177.3L204.0,176.9L213.0,179.5L215.0,179.2L217.0,178.0L219.9,171.0L238.9,171.0L237.7,174.0L237.9,175.0L242.0,176.9L249.0,179.2L251.0,178.8L254.0,177.0L257.0,173.9L258.0,173.6L259.7,174.0L259.7,175.0L254.2,182.0L250.0,185.3L247.0,188.7L243.0,191.9L241.0,192.5L237.0,191.8L233.1,192.0L229.0,195.6L227.0,196.4L225.0,195.9L218.0,192.0L209.0,195.9L206.0,196.5L189.0,194.1L178.0,195.2L168.0,194.3L159.0,192.2L154.0,190.5L151.0,190.9L146.0,193.4ZM328.3,171.0L328.2,175.0L326.5,180.0L327.2,184.0L327.0,186.0L322.2,196.0L321.0,203.1L318.8,208.0L316.8,211.0L316.0,215.5L313.0,213.0L312.1,210.0L315.0,205.4L318.4,202.0L318.9,197.0L317.5,193.0L318.0,191.0L321.6,185.0L323.3,181.0L322.5,177.0L323.2,175.0L325.7,171.0ZM346.7,174.0L346.0,171.0L350.1,171.0L349.9,172.0L348.9,173.0L347.0,174.2ZM361.0,179.9L361.7,181.0L361.2,182.0L360.4,182.0L360.0,181.0ZM345.0,180.8L348.1,183.0L348.8,184.0L348.9,185.0L348.0,186.4L346.0,184.2L343.1,183.0ZM342.8,188.0L344.8,193.0L346.0,194.6L349.5,197.0L349.8,199.0L349.2,201.0L346.8,205.0L347.0,206.3L347.8,207.0L347.0,207.2L346.0,209.0L348.3,217.0L348.0,223.0L346.4,226.0L341.8,230.0L342.0,232.0L344.0,237.1L345.0,237.6L354.0,236.3L359.0,237.2L360.3,238.0L359.9,239.0L358.0,240.0L346.5,243.0L345.1,244.0L343.4,250.0L341.0,254.0L340.0,254.9L336.5,256.0L335.0,257.5L332.7,268.0L331.5,271.0L330.0,273.1L325.5,276.0L325.2,277.0L326.2,282.0L325.8,286.0L326.1,287.0L327.0,287.3L334.0,287.2L339.0,288.7L346.0,289.7L349.0,290.6L352.3,289.0L356.0,285.8L360.0,286.4L361.2,287.0L361.9,288.0L361.6,289.0L360.4,290.0L357.0,291.2L351.0,294.9L347.0,299.1L344.5,301.0L342.0,301.7L337.0,302.0L334.0,301.7L332.0,300.0L331.1,301.0L329.6,305.0L329.9,307.0L330.7,308.0L332.0,307.7L333.0,306.3L333.9,308.0L335.0,308.3L339.0,307.5L348.0,304.5L352.0,302.4L354.9,303.0L355.7,304.0L355.8,305.0L354.6,307.0L344.0,313.6L342.0,314.5L337.0,315.0L333.5,317.0L333.2,320.0L333.7,321.0L337.0,323.8L337.8,326.0L337.2,332.0L338.2,335.0L337.0,337.4L334.0,336.1L333.6,335.0L333.1,331.0L333.6,327.0L332.0,322.7L331.0,322.9L327.0,330.7L326.7,334.0L327.7,339.0L327.1,344.0L329.7,352.0L335.1,360.0L335.2,362.0L333.8,369.0L335.0,374.4L340.0,378.7L344.0,383.5L345.2,380.0L342.9,375.0L343.6,369.0L342.4,365.0L342.3,357.0L342.8,354.0L344.5,351.0L345.6,347.0L340.0,346.2L337.7,345.0L336.5,343.0L337.4,340.0L338.0,339.3L340.8,341.0L344.5,342.0L345.7,343.0L347.0,345.6L347.7,344.0L347.4,342.0L348.4,340.0L351.0,337.4L354.3,333.0L361.4,327.0L364.9,320.0L370.0,317.6L374.0,318.0L377.0,319.3L383.0,324.1L386.0,325.0L390.0,327.0L393.0,329.1L397.0,330.3L402.0,334.0L405.1,338.0L410.5,347.0L414.5,358.0L417.2,360.0L417.0,362.1L415.4,364.0L414.3,367.0L413.5,374.0L413.7,376.0L413.3,382.0L410.0,388.8L408.3,390.0L406.9,393.0L407.3,395.0L409.5,398.0L411.0,401.6L414.0,402.3L423.0,406.6L424.0,406.6L427.0,402.4L429.0,400.6L435.5,398.0L440.0,395.1L442.0,394.8L448.0,398.5L452.0,400.0L454.7,402.0L458.0,402.6L459.5,404.0L461.4,407.0L464.8,409.0L466.7,411.0L467.1,413.0L466.0,414.3L464.0,414.5L462.0,413.5L459.0,414.1L455.0,414.1L449.7,412.0L447.0,409.3L443.0,409.2L441.0,408.3L439.9,409.0L434.0,410.4L427.0,413.2L423.0,413.4L420.0,414.1L418.0,415.8L416.2,420.0L415.0,421.0L413.0,421.8L405.0,423.3L401.0,421.8L395.0,421.5L394.0,420.6L392.4,417.0L391.0,416.2L388.0,417.0L385.0,418.7L381.0,423.2L378.3,425.0L373.0,426.4L369.0,426.5L365.4,425.0L360.9,419.0L359.0,417.2L353.0,417.7L342.0,416.2L339.4,415.0L336.0,412.0L330.8,410.0L328.7,408.0L326.4,403.0L320.6,398.0L319.0,395.9L316.8,391.0L315.9,387.0L315.6,384.0L316.3,380.0L316.0,374.0L311.8,359.0L312.3,356.0L314.8,350.0L314.6,349.0L313.0,347.3L308.0,345.2L306.8,344.0L305.3,335.0L305.4,333.0L306.2,331.0L306.0,329.1L303.0,326.2L300.0,321.0L300.4,319.0L302.5,315.0L302.7,312.0L303.6,309.0L303.2,307.0L300.8,301.0L300.8,299.0L301.7,297.0L305.0,293.0L310.6,290.0L313.5,285.0L313.6,283.0L312.4,279.0L313.7,273.0L316.4,269.0L315.1,264.0L315.5,255.0L317.3,251.0L318.3,245.0L319.3,242.0L319.4,236.0L322.6,231.0L326.2,228.0L326.7,227.0L326.8,225.0L325.6,221.0L325.9,218.0L327.5,215.0L329.6,209.0L331.6,206.0L334.5,203.0L335.5,201.0L335.9,199.0L335.6,196.0L336.3,195.0L339.2,194.0L340.5,193.0L342.0,188.8ZM368.4,343.0L366.8,344.0L364.0,347.3L363.6,352.0L366.3,355.0L370.8,356.0L369.1,359.0L370.0,360.5L373.0,361.8L376.0,364.4L377.0,364.4L378.5,362.0L378.9,360.0L378.6,359.0L376.0,356.6L372.0,355.0L373.2,352.0L372.9,347.0L371.9,345.0L370.0,343.2ZM385.6,374.0L384.7,376.0L384.5,378.0L384.8,379.0L387.0,381.4L391.0,384.6L394.0,385.4L396.0,384.6L397.0,382.9L397.9,379.0L397.6,377.0L396.2,375.0L393.4,373.0L390.0,372.0L388.0,372.2ZM406.0,352.9L403.3,356.0L401.1,360.0L401.0,361.0L402.0,363.1L405.0,362.4L408.0,362.5L409.0,361.1L408.9,359.0L407.0,354.2ZM372.1,380.0L371.0,381.0L371.0,382.9L372.0,382.8L373.1,382.0L373.3,381.0ZM399.5,202.0L400.0,201.0L402.0,201.0L404.0,199.0L405.0,198.9L407.0,199.2L409.0,202.0L408.0,204.1L407.0,204.2L406.0,203.9L403.0,201.4L401.0,201.2L400.0,202.1ZM363.0,211.0L366.0,209.0L370.0,207.8L371.3,208.0L372.0,210.6L374.4,209.0L378.0,208.2L379.0,208.8L379.5,210.0L378.9,211.0L376.0,212.8L375.1,214.0L374.8,216.0L375.5,218.0L377.0,218.9L380.0,219.4L384.0,221.5L386.0,221.7L392.0,227.4L394.0,227.9L400.0,227.7L401.0,228.6L403.0,232.9L404.0,238.6L405.0,239.0L406.0,238.6L410.0,235.7L410.6,236.0L410.4,239.0L411.0,239.8L416.0,241.0L417.8,242.0L418.5,243.0L418.6,245.0L413.0,249.4L411.5,252.0L410.9,255.0L414.0,256.2L418.0,255.7L421.3,260.0L427.0,261.8L428.9,261.0L431.0,258.0L434.0,256.5L434.9,255.0L435.5,252.0L434.9,251.0L433.5,250.0L430.0,249.6L429.1,248.0L430.0,246.2L435.4,245.0L436.4,244.0L436.5,241.0L436.0,238.3L430.6,242.0L429.0,242.6L428.0,242.3L427.6,240.0L425.5,238.0L423.0,234.7L420.0,233.0L420.6,231.0L420.0,228.0L419.0,227.5L417.6,228.0L416.0,231.1L412.0,231.4L411.0,231.0L409.8,228.0L410.0,225.0L414.0,224.5L415.0,223.8L415.9,222.0L415.1,219.0L412.0,216.0L416.0,214.8L423.0,215.0L424.4,216.0L424.7,219.0L426.0,223.7L428.0,224.1L433.0,222.7L435.0,224.0L436.5,229.0L434.3,231.0L434.2,232.0L435.0,232.7L436.3,232.0L436.6,230.0L437.3,229.0L442.0,226.7L443.0,226.8L444.1,228.0L445.0,230.8L449.6,232.0L453.0,236.3L455.0,236.9L459.0,237.1L460.0,237.9L460.2,239.0L459.4,243.0L459.8,244.0L463.7,248.0L464.6,250.0L466.0,250.6L468.0,249.1L469.0,249.3L472.0,250.6L474.0,252.7L473.0,256.4L472.0,257.5L469.2,259.0L470.0,261.6L471.0,262.4L472.0,262.5L474.0,260.8L475.0,260.8L476.8,262.0L481.5,271.0L481.8,274.0L481.0,275.1L479.0,275.4L477.4,274.0L475.0,270.3L474.0,270.3L472.9,272.0L470.3,274.0L470.1,277.0L467.0,281.3L465.0,282.8L464.0,282.3L463.1,281.0L462.9,279.0L463.6,277.0L462.0,274.1L460.0,273.4L458.0,275.2L457.0,275.5L456.0,275.0L452.0,270.2L448.8,268.0L448.6,265.0L446.1,261.0L446.4,259.0L446.0,257.8L445.0,257.4L444.1,258.0L443.0,260.0L442.0,260.1L438.0,258.5L436.0,258.5L435.0,259.1L432.0,263.0L427.8,265.0L426.0,269.2L421.4,266.0L415.0,259.6L413.0,259.1L408.0,260.3L406.8,260.0L405.7,259.0L405.8,258.0L408.2,256.0L406.3,253.0L406.2,251.0L406.9,248.0L406.1,247.0L400.0,246.8L399.0,251.0L396.0,249.2L395.0,248.0L394.6,245.0L399.0,246.2L399.3,242.0L397.0,240.0L394.0,240.1L390.3,236.0L389.6,234.0L390.1,231.0L389.0,229.0L387.0,228.5L386.2,229.0L384.2,233.0L383.0,234.0L377.0,231.2L375.1,231.0L374.0,229.4L372.0,230.0L368.9,229.0L367.9,226.0L370.0,223.4L370.2,221.0L369.0,219.5L366.0,217.7L365.0,216.5L363.0,212.0ZM384.0,223.1L383.0,223.6L382.1,225.0L383.0,226.3L384.5,226.0L384.6,224.0ZM418.4,222.0L421.0,223.0L421.2,222.0L420.0,220.9ZM453.0,240.4L453.0,241.8L454.0,242.6L456.0,243.2L457.1,243.0L457.3,242.0L456.0,240.2L454.0,239.8ZM468.0,268.3L467.0,268.2L465.8,270.0L466.0,270.7L467.0,271.0L468.0,270.2ZM453.0,259.9L452.5,261.0L453.0,262.7L456.5,265.0L456.9,266.0L457.0,269.0L458.0,270.2L459.0,270.4L459.6,270.0L459.6,269.0L457.6,265.0L457.6,263.0L456.9,261.0L455.0,259.5ZM444.6,212.0L446.0,210.6L448.6,209.0L451.0,208.4L454.0,210.9L456.0,211.8L460.0,212.9L465.0,212.8L467.0,213.7L468.0,215.0L469.0,215.1L470.3,215.0L471.6,214.0L471.1,212.0L472.2,211.0L476.0,210.9L480.0,212.8L485.3,214.0L482.0,215.4L477.3,216.0L479.5,218.0L489.0,221.0L495.0,222.3L496.9,222.0L497.3,221.0L496.6,219.0L495.0,217.6L491.0,216.3L488.3,214.0L492.0,212.2L495.0,212.2L497.9,213.0L499.3,214.0L500.9,216.0L500.2,221.0L501.0,221.5L503.0,221.3L504.8,220.0L505.4,219.0L506.0,215.5L507.0,214.4L511.0,215.0L513.0,215.9L515.0,217.6L515.0,231.0L511.0,229.7L507.0,230.7L505.0,230.5L497.0,227.0L493.0,225.8L491.0,225.8L488.0,224.6L486.0,224.5L484.1,225.0L483.0,226.8L481.0,227.3L479.0,228.9L475.0,226.9L468.8,226.0L467.8,229.0L467.9,230.0L469.0,231.1L469.0,232.9L468.0,233.4L467.4,233.0L466.9,231.0L466.0,230.6L464.3,234.0L463.0,234.8L461.0,235.0L455.1,230.0L454.2,227.0L454.6,224.0L453.6,223.0L450.0,221.5L448.3,220.0L448.1,218.0L449.0,214.7L445.2,213.0ZM394.0,213.3L398.0,211.5L398.1,213.0L400.0,214.5L405.0,215.1L408.4,216.0L408.0,218.8L409.4,221.0L409.7,223.0L409.0,223.8L408.0,223.6L407.0,223.0L404.0,219.3L402.0,218.1L400.0,218.3L396.0,221.8L395.0,221.3L393.9,220.0ZM427.7,214.0L428.5,213.0L430.0,212.5L433.4,213.0L433.0,214.0L431.0,214.6ZM434.5,220.0L434.8,219.0L436.2,218.0L438.0,217.5L438.9,218.0L438.7,220.0L438.0,220.6L436.0,220.7ZM267.0,219.2L267.4,220.0L266.9,222.0L265.0,225.5L263.0,226.1L258.7,225.0L258.4,224.0L258.8,223.0L261.3,220.0L263.0,219.3ZM468.0,239.9L469.0,239.5L472.0,242.5L472.0,243.5L471.0,243.8L469.0,243.1L468.0,241.3ZM491.5,244.0L491.6,243.0L493.0,241.5L495.0,241.1L495.8,242.0L494.0,244.0ZM358.0,242.7L362.0,243.8L367.0,246.6L370.0,248.9L371.6,251.0L372.2,254.0L370.7,259.0L370.1,265.0L369.0,267.5L367.0,269.0L362.0,269.9L356.0,272.0L351.0,271.6L341.0,264.1L339.9,262.0L339.9,260.0L340.6,258.0L343.0,255.4L343.7,254.0L344.2,249.0L345.4,247.0L350.0,244.3ZM510.0,242.7L512.0,242.6L512.7,243.0L512.9,245.0L512.4,246.0L511.3,246.0L510.0,245.0L509.6,244.0ZM212.6,245.0L212.5,246.0L207.0,248.9L203.2,249.0L202.4,248.0L203.0,247.5L208.0,246.5L211.4,245.0ZM478.8,248.0L480.0,246.3L482.0,245.9L485.6,248.0L486.4,250.0L485.0,251.3L481.0,251.5L479.5,251.0ZM221.0,248.0L222.0,247.4L226.3,248.0L227.4,249.0L224.0,249.2ZM159.4,258.0L159.7,256.0L161.5,253.0L163.0,251.9L166.0,250.9L168.0,250.9L172.0,252.2L180.0,252.7L181.5,254.0L181.2,255.0L178.8,257.0L174.0,259.6L171.0,262.0L167.0,263.5L164.0,263.7L161.7,263.0L160.4,261.0ZM378.1,260.0L378.9,262.0L379.0,271.2L377.7,273.0L370.0,280.0L363.0,283.0L358.0,282.0L351.0,284.4L344.0,284.6L338.0,286.2L336.0,285.8L334.7,285.0L334.2,284.0L334.9,283.0L336.0,282.5L338.0,282.3L345.0,283.1L347.0,282.8L352.9,280.0L357.0,278.8L360.0,278.8L363.0,279.9L365.0,279.6L371.5,275.0L372.7,270.0L376.1,266.0L376.8,263.0L375.3,259.0L375.6,258.0L376.0,257.8ZM502.8,262.0L504.8,262.0L506.0,263.0L508.4,269.0L510.3,272.0L510.1,275.0L507.3,278.0L513.0,283.0L515.0,283.6L515.0,291.0L513.8,290.0L511.8,285.0L508.0,282.1L506.0,282.4L503.0,284.4L498.9,285.0L498.7,284.0L500.2,280.0L499.8,274.0L500.0,271.0L500.9,268.0L500.6,264.0L501.2,263.0ZM413.6,266.0L413.9,267.0L411.0,270.8L403.0,277.7L397.9,281.0L393.0,286.9L382.0,292.4L378.0,293.7L372.0,296.7L367.7,298.0L367.1,299.0L368.6,301.0L368.6,302.0L368.0,302.8L360.0,304.1L358.4,303.0L358.1,302.0L358.7,300.0L360.0,298.0L361.9,297.0L362.3,294.0L364.0,293.0L368.0,291.7L370.0,290.0L372.2,283.0L374.0,280.7L383.0,276.1L389.0,271.2L393.0,270.6L400.0,271.3L402.0,270.4L407.0,265.5L409.0,265.0L412.0,265.0ZM484.0,286.8L485.3,288.0L486.2,290.0L486.0,291.1L485.0,290.7L483.6,289.0L483.3,288.0ZM282.0,287.8L283.0,288.0L280.6,293.0L280.8,298.0L280.2,307.0L279.0,310.3L278.3,311.0L278.0,315.6L277.4,315.0L278.4,305.0L278.5,296.0L280.9,289.0ZM452.0,299.0L456.0,298.3L459.0,295.1L463.0,294.2L467.0,291.0L478.0,292.8L479.2,297.0L481.0,297.5L491.0,296.1L494.0,292.8L497.0,292.1L499.0,293.9L501.0,294.2L503.0,296.0L503.5,300.0L505.3,303.0L505.4,304.0L503.0,306.8L499.5,307.0L499.5,308.0L498.7,309.0L494.0,310.7L492.3,312.0L489.0,312.0L488.0,311.5L485.0,311.3L482.1,309.0L482.0,308.0L483.0,307.0L483.1,306.0L479.0,304.5L476.3,305.0L475.4,306.0L475.2,308.0L474.4,309.0L471.0,311.1L465.6,310.0L456.7,305.0L452.0,300.0ZM490.5,306.0L490.0,305.7L488.0,306.0L487.5,307.0L489.0,307.3L489.8,307.0ZM402.6,301.0L405.0,300.7L408.0,301.6L416.0,307.9L422.0,310.0L424.0,310.0L428.0,308.6L431.0,308.4L442.0,311.0L451.0,315.3L458.0,319.5L465.0,319.5L471.0,323.2L476.5,325.0L474.0,325.6L465.0,324.5L460.0,322.3L457.0,321.8L454.0,322.5L450.0,325.3L446.0,325.8L440.4,323.0L433.0,317.4L423.0,314.4L416.0,309.7L411.0,310.5L408.6,310.0L406.0,307.6ZM510.0,304.7L511.0,305.0L511.6,306.0L511.0,307.4L510.0,307.4L509.2,306.0L509.4,305.0ZM380.9,313.0L380.1,315.0L379.0,315.3L376.0,314.2L373.0,311.6L370.0,311.2L367.0,311.8L356.5,317.0L354.6,320.0L353.8,324.0L353.0,324.5L345.0,325.3L344.0,324.7L343.2,323.0L344.0,319.6L347.0,317.2L356.5,313.0L365.0,310.3L369.0,308.0L372.0,307.7L379.7,311.0ZM511.0,310.4L513.0,313.0L515.0,313.2L515.0,321.1L513.0,321.6L511.0,321.2L509.6,320.0L509.5,319.0L512.0,316.0L512.9,314.0L510.5,312.0L510.3,311.0ZM502.7,315.0L504.0,314.7L505.0,315.2L507.5,318.0L507.0,318.4L505.0,317.8L502.9,316.0ZM410.2,322.0L416.0,320.8L418.0,321.3L419.1,323.0L418.9,326.0L418.0,327.1L416.0,327.5L414.9,327.0L413.0,324.5L410.7,323.0ZM406.4,333.0L406.6,332.0L408.0,330.9L410.0,330.9L411.4,332.0L411.1,333.0L409.0,334.3L407.0,334.0ZM453.0,336.4L458.2,338.0L460.0,339.4L462.2,342.0L464.0,349.1L463.8,352.0L463.0,354.2L461.8,352.0L460.8,348.0L460.0,347.3L455.0,345.2L452.9,343.0L452.3,341.0L452.5,337.0ZM418.0,337.5L419.0,338.7L419.0,340.0L418.0,341.3L417.0,341.5L416.0,340.6L415.9,339.0L417.0,337.7ZM156.4,348.0L158.0,346.7L162.0,347.1L166.0,346.7L168.0,347.6L168.3,349.0L164.8,352.0L161.0,353.5L159.4,353.0L158.2,352.0L156.4,349.0ZM418.0,346.2L422.4,364.0L425.4,369.0L426.1,371.0L426.0,372.1L425.0,372.7L422.0,369.2L420.3,366.0L419.5,357.0L417.7,350.0L417.6,347.0ZM422.0,350.7L422.6,352.0L422.0,352.6L420.9,352.0ZM464.0,355.0L467.0,357.3L469.3,360.0L469.8,362.0L469.5,370.0L470.2,373.0L472.0,374.5L473.0,374.6L473.9,374.0L475.9,371.0L477.0,370.5L481.0,366.8L483.0,365.8L485.1,366.0L485.4,367.0L482.2,369.0L481.7,371.0L483.0,373.0L484.0,373.4L490.2,374.0L490.4,375.0L489.9,377.0L488.0,378.9L486.7,379.0L490.0,379.0L491.0,380.0L487.1,383.0L487.4,384.0L490.0,384.2L492.3,383.0L494.9,379.0L494.4,378.0L495.2,376.0L495.0,374.5L493.2,372.0L492.6,369.0L489.4,366.0L493.0,364.4L496.0,361.9L499.0,362.8L501.0,362.0L501.0,360.5L499.3,359.0L501.5,357.0L504.0,355.9L507.3,356.0L508.6,357.0L507.9,361.0L510.2,367.0L511.0,367.6L512.9,367.0L512.9,365.0L515.0,363.3L515.0,367.7L514.0,367.5L513.0,368.0L512.6,371.0L509.0,374.6L507.0,375.6L502.0,376.3L499.9,377.0L499.0,378.0L496.6,386.0L495.9,387.0L493.0,389.0L490.0,389.0L487.0,392.9L482.0,393.9L480.9,395.0L480.9,399.0L479.5,401.0L479.7,402.0L482.0,402.0L485.7,407.0L486.2,408.0L486.2,410.0L487.0,410.7L489.0,410.4L490.5,409.0L492.2,406.0L492.0,403.8L493.0,404.0L493.9,406.0L493.8,409.0L493.0,412.4L491.0,413.1L488.0,412.2L487.0,413.0L486.7,414.0L487.2,417.0L483.4,419.0L484.2,420.0L486.0,420.8L490.0,420.2L492.7,421.0L495.5,423.0L495.6,424.0L495.0,424.5L486.0,426.0L481.0,423.1L476.0,423.0L472.0,420.5L471.9,419.0L474.0,417.5L476.0,417.4L478.0,419.3L479.0,419.5L482.3,418.0L482.9,412.0L482.0,411.0L479.0,410.0L476.0,407.6L475.0,407.3L471.0,409.1L470.3,408.0L471.8,405.0L472.3,402.0L475.0,400.6L475.9,399.0L476.0,396.0L475.3,392.0L472.0,391.6L470.0,390.9L467.0,391.7L462.0,389.7L461.2,389.0L461.5,388.0L465.1,386.0L465.0,385.0L459.9,383.0L458.9,382.0L458.0,379.6L457.0,379.5L455.7,384.0L453.1,387.0L452.6,389.0L455.0,389.1L457.0,390.0L457.7,391.0L458.0,393.5L458.7,395.0L454.0,395.0L452.0,393.3L450.7,390.0L449.0,387.2L447.9,384.0L447.9,381.0L446.6,378.0L446.7,377.0L448.0,375.8L448.7,374.0L448.0,371.0L449.2,366.0L450.0,365.7L452.8,366.0L455.0,367.5L458.0,368.1L460.8,370.0L462.0,372.0L461.9,375.0L463.0,375.9L467.0,376.4L468.0,375.7L468.7,374.0L468.8,372.0L466.6,367.0L466.7,363.0L463.7,359.0L463.4,357.0ZM480.5,378.0L479.0,377.0L477.0,377.2L472.2,382.0L473.0,382.9L480.9,380.0ZM486.1,385.0L485.0,384.5L481.9,386.0L481.1,387.0L483.0,388.1L484.0,388.2L485.5,387.0ZM500.2,369.0L500.4,370.0L502.3,370.0L502.4,369.0ZM505.2,373.0L506.7,373.0L507.9,372.0L507.0,371.3L505.7,372.0ZM187.4,357.0L188.0,356.4L190.0,357.5L191.0,360.3L190.0,360.6L188.8,360.0L187.8,359.0ZM439.0,357.9L440.0,359.2L439.0,360.4L438.0,360.2L437.6,359.0L438.0,358.2ZM438.0,368.4L441.7,371.0L440.0,371.2L438.0,369.5ZM515.0,376.7L515.0,381.9L514.0,380.7L513.6,379.0L514.0,377.6ZM515.0,395.1L512.7,396.0L511.0,399.8L510.0,399.6L506.0,397.4L505.1,394.0L504.0,392.1L503.0,391.1L499.9,390.0L499.2,389.0L500.0,388.1L501.0,388.0L504.0,389.3L506.0,389.0L508.0,388.0L509.8,386.0L515.0,384.8ZM423.2,386.0L425.0,385.4L425.8,386.0L426.1,387.0L425.0,387.8L424.0,387.6L423.2,387.0ZM437.3,391.0L438.0,390.0L440.0,389.4L441.8,390.0L442.0,391.0L441.0,392.1L439.0,392.5L437.7,392.0ZM464.0,398.4L465.0,398.2L467.0,398.9L468.4,400.0L468.6,401.0L467.0,401.9L465.0,401.9L464.1,401.0ZM510.1,409.0L510.0,410.0L508.8,411.0L503.0,413.6L501.1,413.0L499.1,411.0L500.0,408.7L504.0,408.5L506.0,406.0L507.0,405.8L508.8,407.0ZM143.0,414.7L145.0,415.9L147.6,419.0L149.4,430.0L151.0,433.0L153.0,434.6L157.0,436.2L159.0,437.7L163.1,443.0L168.0,448.3L171.7,454.0L176.5,459.0L178.3,466.0L184.5,474.0L185.3,476.0L184.0,482.6L183.0,483.8L176.0,479.1L173.6,477.0L170.4,467.0L168.0,463.6L161.0,457.6L157.0,456.7L154.5,455.0L153.2,453.0L150.9,447.0L143.0,440.4ZM515.0,415.1L515.0,429.8L512.0,430.4L509.0,433.3L508.0,433.5L507.0,433.1L506.5,432.0L506.0,429.0L502.0,424.4L502.0,420.0L504.0,417.2L509.0,417.5L513.0,415.5ZM500.0,435.1L500.8,436.0L500.0,438.0L497.9,438.0L499.0,435.5ZM515.0,443.9L515.0,450.2L509.0,454.2L508.0,454.5L507.2,454.0L507.9,452.0L511.0,447.3L514.0,443.8ZM502.5,460.0L502.1,461.0L498.0,464.8L497.9,463.0L499.0,461.2L501.0,459.9L502.0,459.6ZM301.6,478.0L303.0,477.7L308.0,478.4L309.9,479.0L311.9,481.0L311.0,481.4L309.0,480.3L304.0,480.7L302.7,480.0ZM188.7,486.0L194.0,485.7L194.7,486.0L194.7,487.0L193.8,488.0L192.0,488.1L189.7,487.0ZM188.0,495.5L189.0,496.0L190.0,497.6L192.0,503.0L196.0,506.0L196.4,508.0L196.0,509.0L195.0,509.7L193.0,509.4L192.0,508.3L192.0,503.0L189.0,501.6L187.5,500.0L186.9,497.0ZM499.2,515.0L495.0,517.8L491.0,523.0L489.0,524.1L486.0,524.6L481.0,526.5L479.0,526.9L473.0,526.6L470.0,527.4L466.0,526.2L461.3,526.0L463.0,524.7L469.0,523.1L473.0,522.9L478.0,523.7L486.0,522.0L490.0,520.0L495.3,515.0L498.0,514.1ZM510.0,518.8L512.0,518.8L513.0,520.0L513.7,524.0L512.4,528.0L513.0,530.0L515.0,529.4L515.0,532.7L512.0,533.2L509.0,531.0L508.4,530.0L508.3,523.0L509.0,520.0ZM440.0,530.0L440.1,533.0L439.0,534.1L432.0,535.0L429.0,534.6L426.0,536.4L425.0,536.0L426.8,534.0L428.9,533.0L433.0,532.5L439.0,529.6Z"/>
<path fill="#00ecd8" fill-rule="evenodd" d="M143.0,193.4L143.0,171.0L145.8,171.0L148.0,172.2L151.0,172.8L155.1,171.0L157.5,171.0L167.0,175.4L177.0,176.2L183.0,176.1L189.0,178.8L191.0,178.8L196.0,177.6L203.0,177.3L206.0,177.8L210.0,179.3L213.0,179.9L215.0,179.6L217.0,178.4L220.2,171.0L238.5,171.0L237.0,175.0L242.0,177.5L249.0,179.7L251.0,179.3L254.0,177.8L255.5,178.0L255.1,180.0L253.5,182.0L243.0,191.2L241.0,191.7L236.0,190.9L233.0,191.2L231.0,192.4L228.6,195.0L227.0,195.8L225.0,195.2L223.7,194.0L222.0,189.5L211.0,194.6L207.0,195.9L202.0,195.1L196.0,194.9L189.0,193.8L176.0,194.7L167.0,193.5L160.0,191.9L154.0,189.9L151.0,190.2L146.0,192.7ZM325.0,182.7L326.2,184.0L326.0,186.0L322.8,189.0L322.1,188.0L324.0,183.3ZM343.0,193.3L344.0,193.6L346.7,196.0L347.9,198.0L347.4,201.0L345.3,205.0L344.5,210.0L346.7,217.0L346.7,222.0L346.3,224.0L345.1,226.0L340.5,229.0L340.4,231.0L342.0,235.0L343.0,239.1L354.0,237.4L355.7,238.0L356.0,239.0L351.0,241.4L343.6,243.0L342.7,247.0L340.4,252.0L339.0,253.2L335.0,255.0L334.2,256.0L333.3,258.0L332.2,266.0L331.0,269.4L328.2,273.0L324.5,275.0L323.7,276.0L324.9,279.0L325.2,281.0L324.5,287.0L325.0,288.0L333.0,288.0L338.0,289.9L349.0,291.9L350.0,291.8L356.0,288.1L357.0,288.1L357.7,289.0L354.0,292.2L350.0,294.1L345.0,299.1L343.0,300.5L340.0,301.1L337.0,301.1L330.0,298.2L329.5,299.0L329.4,302.0L327.4,306.0L328.0,309.4L329.0,310.8L330.0,310.8L339.0,308.3L352.0,303.7L353.3,304.0L354.0,305.0L353.2,307.0L344.0,312.6L341.0,313.7L336.0,314.0L332.0,315.4L330.0,315.3L329.6,316.0L329.2,322.0L325.5,326.0L325.8,329.0L325.4,334.0L326.6,339.0L326.4,344.0L328.9,352.0L334.0,359.4L334.6,361.0L333.4,369.0L334.3,375.0L340.0,379.7L344.0,385.5L346.0,384.5L348.0,385.4L348.4,384.0L348.3,378.0L349.0,373.1L345.3,368.0L344.4,365.0L345.6,359.0L348.0,351.7L349.1,344.0L348.0,342.0L348.1,341.0L354.6,333.0L361.6,327.0L363.0,325.0L364.6,321.0L365.5,320.0L370.0,318.0L374.0,318.4L377.0,319.7L383.0,324.5L387.0,326.3L393.0,329.8L399.0,332.0L402.0,334.5L405.3,339.0L410.0,348.0L414.4,360.0L415.0,360.6L415.3,360.0L416.3,360.0L416.6,361.0L416.0,362.3L414.0,362.4L412.6,374.0L412.8,379.0L412.0,380.0L411.0,379.8L409.4,378.0L409.5,374.0L408.7,369.0L409.7,360.0L406.0,350.6L405.4,353.0L398.1,362.0L397.6,366.0L402.0,368.1L406.5,373.0L408.5,377.0L408.8,382.0L407.3,385.0L404.0,389.7L403.4,392.0L406.0,393.6L409.8,399.0L410.1,402.0L410.7,403.0L414.0,403.2L423.0,407.4L424.0,407.5L425.0,407.0L427.0,403.6L429.0,401.7L436.0,399.0L440.0,395.9L442.0,395.6L443.8,397.0L445.0,400.0L447.0,402.1L455.0,406.9L458.0,407.6L461.0,409.0L461.9,410.0L461.9,411.0L461.0,412.2L452.0,409.2L448.0,407.2L441.0,405.1L437.0,408.5L430.0,411.3L426.0,412.5L422.0,412.7L419.0,413.5L417.3,415.0L415.7,419.0L414.7,420.0L413.0,420.7L405.0,422.0L401.0,420.4L396.0,419.4L395.0,418.6L393.7,416.0L392.0,414.9L385.0,418.1L379.0,424.0L376.0,425.1L370.0,425.9L368.0,425.5L366.0,424.3L361.3,418.0L359.0,416.1L355.0,416.3L342.0,415.2L340.0,414.1L336.4,411.0L331.0,408.9L329.3,407.0L327.0,402.9L321.0,397.6L319.1,395.0L317.4,391.0L316.4,386.0L316.9,380.0L316.5,374.0L315.6,371.0L315.2,367.0L312.4,359.0L312.9,356.0L315.0,351.0L315.3,349.0L313.0,345.9L308.9,343.0L308.1,339.0L308.7,335.0L308.0,329.1L304.8,323.0L302.6,321.0L302.2,320.0L306.2,311.0L305.5,307.0L302.9,302.0L302.5,299.0L306.0,293.8L311.1,291.0L314.7,287.0L315.9,285.0L315.9,283.0L314.4,279.0L314.2,275.0L315.0,272.0L317.5,269.0L316.0,263.3L316.0,260.0L317.0,255.4L321.1,243.0L321.4,237.0L325.1,231.0L328.4,228.0L328.9,227.0L329.0,225.0L327.7,222.0L327.5,220.0L330.2,210.0L332.1,207.0L335.6,203.0L338.6,197.0L341.8,195.0ZM347.1,389.0L354.0,394.5L356.1,393.0L356.5,392.0L356.1,391.0L354.7,390.0L350.0,388.2ZM368.0,342.9L364.0,347.0L363.3,351.0L363.8,353.0L366.0,355.3L369.3,356.0L369.5,357.0L368.7,359.0L369.0,360.0L370.0,360.9L373.0,362.1L376.0,364.7L377.0,364.8L378.0,364.0L379.2,360.0L379.0,359.0L376.0,356.1L373.0,355.0L373.6,350.0L372.9,346.0L370.3,343.0L369.0,342.6ZM373.0,378.1L371.0,379.5L369.7,382.0L371.0,390.7L373.9,394.0L381.3,398.0L381.0,395.0L377.4,391.0L376.4,389.0L376.2,385.0L377.5,380.0L377.4,378.0L377.0,377.2ZM385.0,370.0L384.0,371.2L383.2,377.0L383.8,387.0L385.0,389.1L387.9,392.0L390.7,392.0L397.0,389.0L397.2,384.0L398.4,378.0L398.1,376.0L394.5,373.0L386.3,370.0ZM450.5,218.0L452.0,217.6L456.0,219.0L460.0,219.1L469.0,216.4L473.0,215.8L475.0,216.5L479.0,219.2L484.0,220.1L494.0,223.5L505.0,224.7L507.0,224.4L512.0,222.5L515.0,223.7L515.0,229.5L511.0,228.8L506.0,229.6L493.0,224.3L488.0,223.3L484.0,223.7L478.0,226.2L476.0,226.0L470.0,223.9L465.0,224.3L462.0,223.5L458.0,223.8L451.9,221.0L450.8,220.0ZM263.0,221.2L264.0,221.8L264.1,223.0L263.3,224.0L262.1,224.0L261.5,223.0L261.9,222.0ZM393.0,230.2L397.0,229.4L399.0,229.7L401.0,231.0L402.0,232.1L403.0,235.0L402.0,239.4L400.0,240.2L394.7,237.0L392.7,234.0L392.6,231.0ZM446.0,234.7L447.0,234.4L448.1,235.0L448.4,237.0L448.0,237.8L447.0,238.0L445.8,237.0L445.4,236.0ZM429.9,248.0L431.0,246.8L436.0,246.1L438.4,245.0L439.3,244.0L440.0,241.5L441.0,240.5L443.0,239.7L444.0,240.1L444.4,241.0L443.7,243.0L444.8,244.0L451.0,246.8L452.9,249.0L457.0,251.2L460.1,252.0L466.0,252.7L469.7,255.0L469.8,256.0L468.0,256.8L466.0,256.9L462.0,255.1L455.0,254.8L452.0,253.6L446.0,255.3L438.0,251.7L435.0,249.9L431.0,248.8ZM346.4,247.0L348.0,245.7L351.0,244.5L356.0,243.4L359.0,243.3L362.0,244.3L369.4,249.0L371.4,252.0L371.6,254.0L370.2,259.0L369.6,265.0L368.0,267.8L357.0,271.4L352.0,271.2L349.3,270.0L346.0,266.9L342.0,264.2L340.7,262.0L340.7,260.0L341.6,258.0L344.0,255.0L345.2,249.0ZM161.4,260.0L161.3,258.0L162.5,255.0L164.1,253.0L166.0,252.1L168.0,251.9L172.0,252.8L176.0,253.1L178.6,254.0L179.1,255.0L177.4,257.0L169.0,262.2L164.0,262.5L162.7,262.0ZM475.0,262.7L476.0,263.3L477.1,266.0L480.4,271.0L481.0,273.0L480.0,274.3L479.0,274.3L478.0,273.4L476.1,270.0L474.7,266.0L474.6,264.0ZM412.6,267.0L411.0,269.3L408.0,271.7L404.4,276.0L397.5,281.0L393.6,286.0L392.2,287.0L382.0,291.9L378.0,293.2L372.0,296.2L366.0,297.4L364.4,297.0L363.6,296.0L363.4,295.0L363.9,294.0L368.0,292.3L370.0,290.7L372.5,283.0L374.0,281.1L383.0,276.3L389.0,271.5L393.0,271.0L399.0,271.8L401.0,271.7L407.6,266.0L411.8,266.0ZM377.0,268.9L377.0,270.0L375.0,272.2L374.3,272.0L374.0,271.0L376.0,268.8ZM506.0,269.4L507.0,270.2L507.9,272.0L507.9,274.0L505.0,276.1L504.0,276.4L503.0,276.2L501.9,275.0L502.1,272.0L504.0,269.7ZM371.7,277.0L370.5,279.0L366.8,281.0L364.0,281.4L363.0,282.1L361.9,282.0L360.0,281.0L365.0,280.7L368.1,278.0L371.0,276.8ZM459.1,298.0L459.3,297.0L461.0,296.1L464.0,296.7L469.0,296.1L473.0,296.6L480.0,299.2L485.0,299.0L493.0,297.6L496.0,297.5L499.9,299.0L504.0,303.0L504.1,304.0L503.0,304.9L502.0,305.1L495.9,303.0L494.0,302.8L486.0,304.7L478.0,302.9L473.0,304.4L469.0,306.4L467.0,306.5L464.0,305.6L460.9,303.0L459.5,300.0ZM360.7,300.0L362.0,298.8L364.0,298.6L367.0,300.3L367.7,301.0L367.5,302.0L365.0,302.7L363.0,302.7L361.4,302.0ZM405.1,303.0L406.0,302.2L408.0,303.0L410.4,305.0L412.7,308.0L411.0,309.1L409.0,308.5L407.0,306.5ZM364.8,311.0L369.0,308.6L371.0,308.4L375.4,310.0L378.7,312.0L379.4,313.0L379.0,314.0L377.6,314.0L373.0,310.6L370.0,310.5L366.0,311.3ZM424.4,312.0L426.8,310.0L430.0,309.4L441.0,311.6L453.6,318.0L455.6,320.0L449.7,324.0L447.0,324.6L445.3,324.0L440.3,320.0L436.8,318.0L433.0,314.4L427.0,313.7L424.6,313.0ZM484.8,310.0L485.0,309.6L486.0,309.5L487.1,310.0L486.0,310.9ZM364.6,312.0L356.0,316.4L352.0,323.0L351.0,323.6L345.0,324.6L344.0,323.9L343.7,322.0L344.0,320.8L345.0,319.5L347.0,318.0L358.0,313.0L363.0,311.7ZM462.3,322.0L462.7,321.0L465.0,320.8L471.9,324.0L471.0,324.4L465.8,324.0L463.2,323.0ZM412.4,323.0L413.8,322.0L416.0,321.5L418.0,322.0L418.9,324.0L418.6,326.0L417.5,327.0L416.0,327.2ZM334.0,323.5L335.0,323.5L336.0,324.4L337.0,327.0L336.1,332.0L337.1,335.0L336.0,335.8L334.6,335.0L334.1,332.0L334.7,327.0ZM406.9,333.0L407.2,332.0L408.0,331.4L409.0,331.3L410.4,332.0L410.2,333.0L409.0,333.8L408.0,333.9ZM417.0,338.6L418.0,338.5L418.3,339.0L418.0,340.4L417.0,340.6L416.6,340.0ZM455.0,339.4L456.0,339.0L460.0,341.4L461.0,343.0L461.0,344.0L460.2,345.0L458.0,345.1L456.6,344.0L455.0,341.0ZM339.7,343.0L343.6,343.0L344.6,344.0L344.5,345.0L343.0,345.5L340.6,345.0L339.4,344.0ZM421.0,359.8L422.4,365.0L425.4,370.0L425.6,371.0L425.0,372.0L422.0,368.5L420.7,366.0L420.3,362.0ZM497.6,375.0L501.0,374.3L502.5,375.0L498.0,375.7ZM486.0,381.9L481.0,385.0L472.0,388.5L470.0,388.5L469.0,388.1L468.5,387.0L468.7,386.0L470.0,384.7L478.0,382.0L485.0,381.3ZM424.0,386.0L425.0,385.8L425.4,387.0L424.0,387.0ZM438.0,391.0L439.0,390.0L440.0,389.8L441.0,390.0L441.5,391.0L440.0,392.0L439.0,392.0ZM143.0,416.9L145.0,417.8L146.5,420.0L148.8,431.0L150.0,433.3L152.0,435.4L156.0,436.9L158.0,438.2L162.6,444.0L167.0,448.2L171.0,454.0L175.8,459.0L176.6,461.0L177.7,467.0L184.0,475.6L184.0,477.7L183.0,480.5L182.0,481.0L174.9,477.0L173.6,475.0L171.1,466.0L169.0,461.5L165.0,459.5L162.0,456.8L156.4,454.0L155.0,452.0L154.4,448.0L153.2,446.0L148.0,443.1L143.0,439.5ZM507.0,421.6L509.0,421.1L510.0,421.8L511.4,426.0L511.0,427.0L510.0,426.7L506.7,423.0ZM514.0,448.0L513.1,450.0L511.0,450.8L511.0,449.2L512.0,447.9L513.0,447.4ZM511.0,519.8L512.0,520.3L512.7,523.0L511.1,528.0L512.2,531.0L512.0,532.1L509.8,531.0L508.9,529.0L509.3,522.0L510.0,520.2ZM491.1,521.0L490.8,522.0L489.7,523.0L481.0,525.7L479.0,526.0L477.8,525.0L479.7,524.0L486.0,522.8ZM466.1,525.0L469.0,523.9L470.7,525.0L470.0,526.4L468.1,526.0Z"/>
<path fill="#00d89a" fill-rule="evenodd" d="M143.0,192.7L143.0,171.0L144.7,171.0L148.0,172.6L151.0,173.3L155.0,171.8L157.0,171.6L167.0,175.8L177.0,176.6L182.0,176.4L184.0,176.9L189.0,179.3L191.0,179.2L196.0,177.9L203.0,177.7L213.0,180.3L215.0,180.0L217.0,178.9L220.5,171.0L238.1,171.0L236.4,175.0L237.0,175.8L248.0,180.1L250.0,180.3L254.1,179.0L254.2,180.0L252.7,182.0L243.0,190.5L241.0,191.1L236.0,190.3L233.0,190.5L231.0,191.5L228.0,194.7L227.0,195.1L226.0,195.0L224.5,194.0L223.4,192.0L222.7,189.0L222.0,188.7L210.0,194.5L207.0,195.4L188.0,193.4L176.0,194.3L167.0,193.0L154.0,189.3L151.0,189.7L146.0,192.0ZM340.0,198.7L343.0,197.5L345.0,197.5L345.9,199.0L346.0,200.0L344.3,204.0L343.1,212.0L345.3,218.0L345.1,224.0L343.6,226.0L339.0,227.7L338.3,229.0L341.2,236.0L341.5,241.0L341.1,246.0L339.0,251.0L338.0,252.0L334.1,254.0L332.6,256.0L332.2,258.0L332.1,263.0L331.1,267.0L330.1,269.0L326.4,273.0L322.7,275.0L324.2,281.0L323.1,288.0L323.1,290.0L325.0,296.5L327.5,301.0L327.0,303.0L324.9,306.0L326.9,313.0L326.8,315.0L324.4,322.0L321.4,326.0L323.0,327.4L323.9,329.0L324.1,334.0L325.5,339.0L325.6,343.0L328.1,352.0L333.8,361.0L333.0,369.0L333.2,374.0L333.9,376.0L340.3,381.0L341.7,383.0L343.0,386.5L345.6,390.0L350.0,392.3L353.0,395.6L354.0,396.0L356.0,393.8L357.4,393.0L357.4,392.0L356.0,390.0L351.0,387.5L349.5,385.0L348.8,379.0L349.6,373.0L349.0,371.6L346.0,368.0L345.2,366.0L345.7,361.0L349.0,351.0L350.0,344.0L348.4,342.0L348.5,341.0L354.9,333.0L361.9,327.0L364.4,322.0L366.0,320.1L370.0,318.4L374.0,318.7L377.0,320.1L383.0,324.9L392.5,330.0L399.0,332.4L402.0,334.9L405.4,340.0L407.3,346.0L410.0,350.2L413.0,357.4L413.5,361.0L412.8,365.0L412.9,369.0L411.5,375.0L411.5,378.0L411.0,378.2L409.4,369.0L410.2,361.0L410.1,359.0L406.6,349.0L402.3,344.0L402.0,342.8L402.0,344.7L403.0,347.4L404.7,350.0L405.3,352.0L401.0,358.0L397.6,361.0L396.7,363.0L396.6,366.0L397.0,366.7L401.0,368.5L404.0,370.9L406.5,374.0L407.8,377.0L408.3,381.0L407.7,383.0L404.0,388.8L402.8,392.0L402.9,393.0L405.0,393.5L406.0,394.2L409.5,399.0L409.8,401.0L408.8,404.0L410.0,404.3L413.4,404.0L424.0,408.3L425.0,408.0L426.0,407.0L427.7,404.0L429.0,402.8L436.2,400.0L440.0,396.9L442.0,396.5L445.7,402.0L454.0,407.7L458.0,408.5L461.0,410.0L461.0,411.3L459.0,411.1L441.0,403.8L436.1,408.0L431.0,410.1L426.0,411.7L421.0,412.1L418.0,413.0L416.0,415.0L415.0,418.0L413.0,419.4L407.0,420.7L405.0,420.6L398.0,417.8L394.0,414.2L392.0,413.7L384.3,418.0L378.0,423.8L375.0,424.7L370.0,425.1L367.0,423.9L362.6,418.0L359.0,414.9L355.0,414.8L352.0,414.0L343.0,414.3L341.0,413.5L337.0,410.1L332.0,408.3L330.0,406.5L327.0,402.0L321.3,397.0L319.7,395.0L318.3,392.0L317.1,385.0L317.5,380.0L316.1,367.0L313.1,359.0L313.5,356.0L315.9,349.0L315.0,346.9L311.3,342.0L310.3,340.0L310.6,335.0L309.6,329.0L309.9,326.0L308.0,323.3L305.7,318.0L306.1,316.0L308.4,312.0L307.9,309.0L308.0,307.0L304.7,301.0L304.4,299.0L307.0,294.5L312.5,291.0L315.6,288.0L317.8,285.0L317.7,283.0L316.4,280.0L315.2,275.0L316.0,272.0L318.5,269.0L318.5,267.0L316.9,262.0L317.1,259.0L320.4,252.0L322.0,247.1L322.7,239.0L323.3,237.0L326.2,232.0L330.0,228.6L331.1,227.0L331.4,225.0L329.9,221.0L329.5,218.0L330.8,211.0L332.6,208.0ZM368.0,342.7L363.8,347.0L363.1,351.0L363.4,353.0L366.0,355.7L369.0,356.9L368.3,359.0L368.5,360.0L369.5,361.0L373.0,362.5L376.0,365.1L377.0,365.3L378.4,364.0L379.2,362.0L379.4,359.0L377.0,356.3L374.0,355.0L373.4,354.0L373.9,349.0L372.8,345.0L370.0,342.5ZM375.3,327.0L387.0,334.2L389.0,335.1L394.1,336.0L392.6,334.0L389.4,332.0L384.0,330.4L377.4,327.0ZM377.4,370.0L375.8,372.0L374.7,375.0L373.2,377.0L370.7,379.0L369.5,381.0L369.1,383.0L370.0,389.4L371.0,391.8L373.1,394.0L381.0,399.6L383.0,400.2L383.4,400.0L381.2,394.0L377.5,390.0L376.7,388.0L376.7,385.0L378.3,379.0L378.1,370.0ZM385.0,369.0L383.9,370.0L383.0,373.2L382.9,387.0L384.0,389.0L387.0,392.2L390.0,393.0L396.0,390.4L397.8,389.0L397.7,384.0L399.0,377.0L398.0,375.1L395.2,373.0L387.0,369.0ZM484.6,222.0L480.0,224.3L477.0,225.0L474.4,224.0L472.0,222.2L467.0,222.8L463.0,222.2L458.0,222.5L456.0,222.0L453.6,220.0L460.0,220.3L469.0,217.5L473.0,217.0L475.0,217.7L479.0,220.4L483.6,221.0ZM515.0,228.4L512.0,228.0L506.0,228.7L500.0,226.0L500.0,225.5L501.0,225.1L506.0,225.6L510.0,224.4L512.0,224.3L515.0,225.1ZM395.0,232.6L398.0,231.1L401.0,232.4L402.0,233.6L402.4,235.0L401.5,238.0L400.0,238.7L396.5,237.0L394.7,234.0ZM344.0,241.0L344.7,240.0L348.0,239.0L351.0,238.6L352.7,239.0L352.2,240.0L350.0,241.1L346.0,241.5ZM359.0,243.7L362.0,244.7L368.0,248.5L369.6,250.0L370.9,252.0L371.1,254.0L369.7,259.0L369.1,265.0L368.0,267.0L367.0,267.8L358.0,270.6L355.0,271.0L351.0,270.3L349.0,269.0L346.0,266.0L342.7,264.0L341.5,262.0L341.6,260.0L344.5,255.0L345.7,249.0L347.1,247.0L349.0,245.7L352.0,244.6L356.0,243.8ZM432.4,248.0L438.0,246.5L441.0,245.2L444.0,245.1L448.0,247.0L452.0,250.0L452.6,251.0L450.0,251.5L447.0,253.3L445.0,253.4L438.0,250.8L434.0,248.4ZM163.3,260.0L163.3,258.0L164.0,256.0L166.0,253.6L168.0,253.1L175.0,253.7L177.3,255.0L177.2,256.0L176.2,257.0L170.0,261.2L166.0,261.5L164.2,261.0ZM409.0,267.0L409.5,268.0L407.0,270.0L406.1,273.0L402.7,277.0L397.1,281.0L393.0,286.0L372.0,295.7L368.0,296.4L365.7,296.0L365.1,295.0L365.7,294.0L369.0,292.4L370.3,291.0L372.8,283.0L375.0,280.6L383.0,276.6L389.0,271.8L393.0,271.3L401.0,272.3L406.3,269.0L408.0,267.1ZM325.3,290.0L326.0,289.1L333.0,289.0L339.0,291.8L343.0,292.2L345.2,293.0L346.2,294.0L346.2,295.0L344.2,298.0L342.0,299.7L339.0,300.3L336.0,300.1L333.0,298.8L328.0,295.5L325.6,292.0ZM459.6,298.0L460.0,297.2L461.0,296.8L465.0,297.7L472.0,297.9L475.7,299.0L478.1,301.0L476.6,302.0L472.0,303.4L469.0,305.3L466.0,305.5L464.0,304.8L461.8,303.0ZM500.5,303.0L499.0,303.0L494.0,301.5L488.0,303.3L483.7,303.0L480.7,302.0L480.0,301.0L482.0,300.6L485.0,301.3L488.7,300.0L496.0,298.7L499.0,300.0L500.4,302.0ZM363.2,301.0L364.0,300.1L366.2,301.0L365.0,302.0ZM352.3,306.0L351.8,307.0L343.0,312.1L339.0,312.8L335.8,312.0L335.5,311.0L336.7,310.0L344.0,306.9L351.0,305.0L352.0,305.3ZM434.9,313.0L436.0,312.4L438.0,312.3L441.9,313.0L452.3,319.0L452.5,320.0L449.0,322.5L447.0,322.5L443.1,318.0L437.0,315.4ZM354.4,316.0L353.0,319.4L350.1,323.0L346.0,324.1L345.0,324.0L344.2,323.0L344.6,321.0L346.0,319.6L350.8,317.0ZM464.9,322.0L467.9,323.0L465.3,323.0ZM414.4,323.0L416.0,322.2L418.0,322.7L418.6,325.0L418.0,326.4L417.0,326.9L416.0,326.7L415.2,326.0ZM421.0,362.7L421.3,365.0L422.0,365.2L424.5,369.0L424.0,369.9L421.7,367.0L421.0,365.2ZM482.4,383.0L481.0,384.0L476.0,385.4L472.0,387.2L470.0,387.4L469.6,387.0L469.8,386.0L471.0,385.3L475.0,384.3L477.7,383.0L480.0,382.6ZM143.0,418.9L144.8,420.0L145.2,423.0L147.0,426.7L147.9,431.0L150.0,434.9L152.0,436.8L157.0,439.0L162.0,444.7L167.0,449.3L170.2,454.0L175.2,459.0L176.0,461.0L176.7,467.0L180.7,473.0L181.3,475.0L181.0,476.0L178.0,476.8L175.6,476.0L174.4,474.0L172.0,465.0L169.7,460.0L165.0,456.7L161.0,454.7L158.3,452.0L157.2,448.0L154.7,445.0L152.0,443.4L148.0,441.9L143.0,438.6Z"/>
<path fill="#30b818" fill-rule="evenodd" d="M143.0,191.9L143.0,171.0L150.0,173.7L152.0,173.7L155.0,172.6L157.0,172.4L167.0,176.2L172.0,176.2L177.0,177.0L183.0,177.0L189.0,179.8L196.0,178.2L202.0,178.1L205.0,178.5L210.0,180.3L213.0,180.7L216.0,180.0L217.3,179.0L220.9,171.0L237.7,171.0L235.8,175.0L236.0,176.0L242.0,178.7L248.0,180.7L252.0,181.0L250.7,183.0L243.0,189.8L241.0,190.5L236.0,189.8L232.9,190.0L230.6,191.0L227.0,194.5L225.0,193.8L223.8,192.0L223.0,188.3L222.0,188.2L211.0,193.7L207.0,195.0L202.0,194.1L196.0,194.1L188.0,193.1L176.0,194.0L166.0,192.2L161.0,191.0L157.0,189.3L154.0,188.8L151.0,189.1L146.0,191.2ZM341.0,200.2L343.0,199.6L343.8,200.0L344.0,200.8L342.9,204.0L342.8,208.0L341.5,213.0L343.8,218.0L343.8,223.0L342.8,225.0L338.0,225.9L336.4,227.0L336.4,229.0L340.2,236.0L340.2,240.0L339.3,246.0L337.0,250.9L334.0,252.5L331.6,255.0L331.1,257.0L331.4,263.0L330.0,267.5L326.0,272.0L322.2,274.0L321.7,275.0L323.2,280.0L323.1,282.0L322.1,285.0L322.0,289.0L324.1,302.0L323.0,307.0L324.6,312.0L324.7,314.0L321.6,322.0L318.2,325.0L318.8,327.0L321.0,328.5L321.8,330.0L322.1,333.0L324.4,339.0L325.0,343.0L326.3,347.0L327.3,352.0L333.1,361.0L332.7,376.0L340.3,382.0L341.4,384.0L342.6,388.0L345.3,391.0L349.4,393.0L353.0,397.4L354.0,396.9L356.0,394.3L358.2,393.0L358.0,391.9L356.6,390.0L352.0,387.5L350.5,386.0L349.2,380.0L350.1,373.0L349.1,371.0L346.4,368.0L345.5,366.0L345.6,363.0L349.2,352.0L350.5,344.0L348.8,342.0L348.8,341.0L355.2,333.0L362.1,327.0L366.0,320.6L370.0,318.8L373.0,318.8L376.1,320.0L384.0,325.9L392.0,330.1L399.0,332.8L402.0,335.4L405.0,340.0L405.8,343.0L405.0,344.8L404.0,344.6L401.0,340.0L400.9,341.0L402.0,346.0L404.8,351.0L404.7,353.0L400.0,358.7L396.8,361.0L396.0,365.0L396.6,367.0L400.0,368.4L404.0,371.3L406.1,374.0L407.5,377.0L407.7,382.0L404.0,388.2L402.3,393.0L406.0,394.6L409.2,399.0L409.5,401.0L407.7,404.0L407.7,405.0L410.0,405.5L413.0,405.0L423.0,408.8L425.0,408.9L426.2,408.0L429.0,403.8L431.0,402.7L437.0,400.7L441.0,397.5L442.1,398.0L443.0,401.2L450.5,406.0L450.0,406.5L444.0,404.2L442.0,401.6L435.0,407.6L429.0,410.1L417.9,412.0L416.0,413.2L413.0,417.3L408.0,419.0L406.0,419.4L404.0,418.8L400.0,417.0L396.0,413.6L394.0,412.8L392.0,412.8L383.5,418.0L377.9,423.0L375.0,423.9L370.0,424.2L367.7,423.0L363.0,416.7L359.0,413.4L352.0,412.5L347.0,413.4L343.0,413.2L341.0,412.2L337.0,409.1L332.0,407.1L330.6,406.0L327.0,401.2L322.0,396.8L319.8,394.0L318.4,390.0L317.9,385.0L318.2,380.0L316.9,371.0L316.9,367.0L313.8,358.0L316.4,349.0L312.2,339.0L311.7,329.0L313.0,326.7L313.4,325.0L313.0,323.8L309.5,321.0L308.5,318.0L308.5,316.0L310.5,312.0L310.0,309.0L310.6,306.0L309.0,302.6L306.7,299.0L307.1,297.0L308.4,295.0L312.0,292.6L319.2,286.0L319.6,285.0L316.3,275.0L316.5,273.0L318.9,270.0L319.6,268.0L319.6,266.0L318.0,262.0L317.9,260.0L319.0,257.5L323.0,252.0L324.2,249.0L324.6,246.0L324.0,240.0L324.5,238.0L327.9,232.0L331.7,229.0L333.5,227.0L333.8,226.0L331.1,219.0L331.0,215.0L331.5,212.0L336.0,205.2ZM369.0,342.2L367.0,343.2L364.0,346.4L363.0,350.0L363.0,353.0L363.4,354.0L365.0,355.6L368.3,357.0L367.8,359.0L369.0,361.1L373.0,362.8L376.0,365.6L377.0,365.7L378.2,365.0L379.4,363.0L379.9,359.0L377.4,356.0L373.9,354.0L374.5,350.0L374.0,346.0L374.2,344.0L371.0,342.4ZM373.9,326.0L375.9,328.0L381.0,330.7L387.4,335.0L394.0,336.5L394.8,336.0L393.0,333.8L390.4,332.0L385.0,330.4L378.0,326.7L376.0,326.0ZM377.0,369.2L374.8,372.0L373.2,376.0L370.0,379.0L368.7,381.0L368.6,383.0L370.3,391.0L372.6,394.0L381.3,401.0L387.0,402.0L389.7,401.0L390.0,400.5L392.5,400.0L391.0,399.7L386.0,400.7L384.0,398.9L381.7,394.0L377.5,389.0L377.1,386.0L378.7,379.0L379.0,370.0L378.0,369.2ZM386.0,368.3L384.0,369.2L383.0,371.0L382.2,386.0L383.0,388.3L386.0,392.0L388.0,393.4L390.0,393.6L396.0,391.1L398.0,389.4L398.1,383.0L399.2,377.0L398.2,375.0L395.6,373.0L390.0,370.3L387.0,368.2ZM505.7,227.0L509.0,225.9L512.6,226.0L508.0,227.3ZM397.1,234.0L399.0,233.1L400.0,233.3L401.3,235.0L401.0,236.4L400.0,236.8L398.0,236.3L396.9,235.0ZM347.0,247.8L349.0,246.2L352.0,245.0L356.0,244.2L359.0,244.1L361.7,245.0L368.0,249.1L370.0,251.5L370.5,254.0L369.2,259.0L368.8,264.0L368.0,266.2L366.0,267.6L357.0,270.4L355.0,270.5L350.0,269.1L347.0,266.0L343.8,264.0L342.3,262.0L342.3,260.0L344.9,255.0L345.9,250.0ZM436.8,249.0L437.1,248.0L443.0,246.3L446.0,246.9L448.4,249.0L448.0,250.1L445.0,251.1L439.0,249.9ZM165.7,259.0L166.4,256.0L168.0,254.6L173.0,254.2L175.8,255.0L176.0,256.0L175.1,257.0L170.0,260.4L167.0,260.5L166.0,260.0ZM404.4,272.0L404.8,273.0L403.1,276.0L395.5,282.0L392.0,286.3L382.0,291.1L378.0,292.3L372.0,295.2L370.0,295.5L367.5,295.0L371.0,290.7L373.1,283.0L376.0,280.2L382.8,277.0L388.0,272.7L390.0,271.7L394.0,271.6L401.0,272.9ZM326.5,291.0L327.7,290.0L333.0,290.0L339.0,294.0L342.0,294.7L342.8,296.0L342.7,297.0L342.0,298.1L340.3,299.0L335.0,298.9L332.9,298.0L328.9,295.0L327.2,293.0ZM460.4,298.0L461.0,297.5L465.0,298.8L470.0,299.3L472.3,300.0L472.3,301.0L469.0,304.1L467.0,304.7L465.0,304.5L463.0,303.4L460.8,300.0ZM349.8,307.0L346.0,310.0L343.8,311.0L340.0,311.7L338.6,311.0L339.4,310.0L345.0,307.3ZM352.2,318.0L352.1,319.0L350.0,322.0L347.0,323.3L344.8,323.0L345.0,321.4L347.0,319.8L350.7,318.0ZM416.0,322.9L418.0,323.3L418.3,324.0L418.0,326.0L417.0,326.6L416.0,326.3L415.3,325.0L415.3,324.0ZM411.0,355.7L412.4,358.0L412.9,361.0L412.0,371.7L411.0,373.3L410.1,371.0L409.8,369.0L410.8,361.0L410.5,356.0ZM143.0,424.8L146.0,427.6L147.3,432.0L150.0,436.5L152.0,438.5L156.8,441.0L166.0,449.4L169.0,454.1L174.5,459.0L175.3,461.0L175.7,467.0L178.9,473.0L178.0,474.5L177.0,474.7L176.0,474.2L175.0,472.7L174.0,470.0L172.8,464.0L168.0,455.1L166.0,454.2L163.0,453.9L161.5,453.0L158.7,447.0L156.0,443.7L154.0,442.5L148.0,440.8L143.0,437.4L143.0,433.2L144.6,430.0L144.0,427.8L143.0,426.2Z"/>
<path fill="#9fe00a" fill-rule="evenodd" d="M143.0,171.5L151.0,174.3L157.0,173.2L167.0,176.6L172.0,176.6L177.0,177.5L182.0,177.2L189.0,180.2L195.0,178.7L201.0,178.4L204.0,178.7L210.0,180.7L213.0,181.1L216.0,180.4L217.8,179.0L221.2,171.0L237.3,171.0L235.1,176.0L236.0,176.8L241.0,179.0L249.4,182.0L249.4,183.0L245.8,187.0L242.0,189.7L240.0,190.0L235.0,189.3L232.0,189.7L229.6,191.0L227.0,193.8L226.0,193.8L224.9,193.0L223.0,187.6L211.0,193.2L207.0,194.5L202.0,193.6L196.0,193.7L188.0,192.7L183.0,192.8L176.0,193.5L167.0,191.9L161.0,190.4L157.0,188.7L154.0,188.4L151.0,188.6L143.0,190.9ZM341.0,202.6L341.6,204.0L341.8,208.0L339.7,214.0L341.8,218.0L342.1,222.0L341.0,223.6L337.0,224.3L335.0,223.4L332.8,220.0L332.2,217.0L332.3,214.0L332.9,212.0L336.5,206.0L339.0,203.5ZM334.0,229.8L336.0,231.2L339.1,236.0L339.2,239.0L338.5,244.0L336.0,249.7L333.0,251.8L329.7,255.0L330.8,262.0L329.3,267.0L325.0,271.4L321.1,274.0L320.8,276.0L322.1,280.0L322.0,281.2L321.0,282.7L320.0,281.9L319.0,280.0L317.4,274.0L317.6,273.0L319.9,270.0L320.9,267.0L320.8,265.0L319.2,262.0L319.1,260.0L321.6,256.0L325.4,253.0L327.6,246.0L325.7,242.0L325.7,239.0L329.0,233.0L332.0,230.5ZM348.0,247.4L353.0,245.2L359.0,244.4L362.0,245.7L368.2,250.0L369.6,252.0L370.0,254.0L368.8,259.0L368.4,264.0L367.0,266.5L358.0,269.7L355.0,269.9L351.0,269.0L347.0,265.2L343.7,263.0L343.1,262.0L343.0,260.0L345.4,255.0L346.3,250.0ZM174.7,256.0L173.8,257.0L170.0,259.4L169.0,259.6L167.9,259.0L168.2,257.0L168.8,256.0L170.0,255.3L173.9,255.0ZM402.1,274.0L402.7,275.0L401.4,277.0L395.1,282.0L391.8,286.0L382.0,290.7L377.6,292.0L373.0,294.3L371.0,294.7L369.7,294.0L371.3,291.0L373.3,283.0L376.0,280.4L383.0,277.1L388.0,273.0L390.0,272.0L394.0,271.9ZM320.0,288.0L321.0,289.5L321.9,293.0L321.0,307.0L322.6,311.0L322.9,314.0L322.4,316.0L320.0,320.5L317.0,323.0L316.0,324.5L312.0,320.8L311.0,319.0L311.1,316.0L312.3,313.0L312.8,306.0L308.9,298.0L309.6,296.0L316.0,290.4ZM328.8,292.0L332.0,291.0L334.0,291.8L336.7,294.0L338.1,297.0L337.0,298.0L334.0,297.7L331.6,296.0L328.9,293.0ZM461.5,299.0L462.7,299.0L468.0,301.0L468.4,302.0L468.0,303.0L466.0,303.6L464.0,303.2L462.0,300.9ZM349.1,320.0L349.3,321.0L348.2,322.0L347.0,322.3L345.8,322.0L347.0,320.9ZM316.0,326.1L319.3,330.0L320.6,334.0L323.7,340.0L327.0,353.0L332.4,361.0L332.1,377.0L339.4,382.0L340.7,384.0L342.0,389.3L345.0,392.0L349.1,394.0L351.7,398.0L353.0,398.9L356.0,394.6L358.7,393.0L357.0,389.9L352.0,386.9L350.5,385.0L349.5,379.0L350.5,373.0L349.5,371.0L346.7,368.0L345.9,366.0L346.2,362.0L349.7,352.0L351.0,344.0L349.2,342.0L349.1,341.0L355.5,333.0L362.3,327.0L366.0,321.0L368.0,319.8L371.0,319.0L375.3,320.0L383.0,325.7L392.0,330.4L398.0,332.6L400.0,333.9L403.0,337.2L404.8,341.0L405.0,342.0L404.0,343.0L400.6,339.0L399.0,338.3L398.8,339.0L400.5,341.0L401.8,346.0L404.2,350.0L404.7,352.0L403.7,354.0L399.0,359.0L395.0,361.0L393.2,358.0L395.0,356.4L394.1,354.0L388.0,351.0L385.0,353.1L383.0,357.3L382.0,358.0L381.0,358.1L379.2,356.0L374.9,354.0L375.0,352.9L376.0,350.4L378.0,349.4L382.0,351.7L383.0,351.8L384.0,350.8L384.5,349.0L383.7,347.0L382.4,346.0L377.0,344.7L371.0,341.8L368.0,342.4L364.0,346.1L362.8,351.0L363.0,356.0L367.0,357.4L367.4,360.0L369.0,361.8L372.5,363.0L376.0,366.1L377.0,366.4L379.0,365.5L380.0,366.3L381.0,366.0L385.0,363.3L390.0,363.5L392.0,364.2L396.1,367.0L400.0,368.7L403.0,370.8L406.4,375.0L407.6,379.0L407.4,382.0L403.0,389.6L401.9,393.0L402.0,394.0L404.0,393.9L406.0,395.0L409.0,399.0L409.2,401.0L408.8,402.0L405.9,405.0L409.0,406.6L414.0,406.5L423.9,410.0L417.0,411.3L412.0,415.5L408.0,417.7L406.0,418.1L401.0,416.1L396.0,411.9L395.0,411.6L392.0,412.1L382.7,418.0L377.7,422.0L376.0,422.7L371.0,423.1L368.6,422.0L364.0,415.9L359.0,412.0L353.0,410.9L347.0,412.5L344.0,412.5L342.0,411.8L337.0,408.1L331.9,406.0L327.7,401.0L321.2,395.0L319.2,391.0L318.9,381.0L317.4,371.0L317.5,367.0L316.5,363.0L314.5,358.0L314.9,355.0L316.9,349.0L314.8,342.0L313.4,334.0L314.1,330.0ZM372.8,326.0L387.0,335.2L395.0,337.2L396.7,337.0L391.0,332.0L384.0,329.6L377.0,325.9L374.0,325.4ZM363.0,361.5L363.0,364.9L363.6,363.0ZM366.0,370.8L366.0,372.0L367.0,373.3L367.5,373.0L367.3,372.0ZM377.0,368.2L374.6,371.0L373.0,375.0L372.0,376.0L370.0,377.0L369.0,376.3L368.5,377.0L368.0,382.6L369.6,390.0L370.5,392.0L372.2,394.0L376.2,397.0L380.0,401.3L382.0,402.4L386.0,403.0L391.0,400.6L393.5,400.0L394.0,399.4L395.9,399.0L392.0,398.9L388.0,399.8L386.0,399.7L384.1,398.0L381.5,393.0L378.0,389.1L377.5,386.0L379.1,379.0L379.4,370.0L379.0,368.5ZM387.0,367.6L384.0,368.8L382.7,371.0L381.8,386.0L383.0,389.0L386.0,392.6L388.0,393.9L390.0,394.2L395.0,392.2L398.0,390.0L398.5,388.0L398.4,383.0L399.5,377.0L399.0,375.5L397.3,374.0L390.1,370.0ZM417.0,323.6L418.0,324.0L418.1,325.0L417.0,326.2L415.8,325.0L416.1,324.0ZM412.0,360.7L412.0,369.0L411.0,371.5L410.4,369.0L411.0,363.6L411.9,363.0ZM440.2,400.0L440.4,401.0L439.8,402.0L436.0,406.0L430.0,408.9L428.0,409.4L426.8,409.0L428.3,406.0L430.3,404.0L438.0,401.3ZM145.0,433.0L146.0,432.7L147.0,433.8L150.2,439.0L149.0,439.9L148.0,439.7L144.5,437.0L143.9,435.0ZM162.4,449.0L163.0,448.9L165.1,450.0L166.0,451.0L165.8,452.0L164.2,452.0L163.0,451.1ZM171.0,457.8L172.0,457.6L174.0,459.4L174.5,461.0L174.0,463.1L173.0,462.1Z"/>
<path fill="#fff000" fill-rule="evenodd" d="M248.1,183.0L246.0,186.0L242.0,189.1L240.0,189.5L235.0,188.8L232.0,189.2L230.0,190.0L227.0,193.0L226.0,193.2L224.8,192.0L223.7,188.0L223.0,187.0L211.0,192.8L207.0,194.0L202.0,193.1L196.0,193.3L188.0,192.4L183.0,192.4L176.0,193.1L167.0,191.3L156.0,188.0L151.7,188.0L143.0,189.7L143.0,172.1L151.0,174.8L157.0,174.1L167.0,177.0L172.0,176.9L177.0,178.0L182.0,177.7L189.0,180.7L195.0,179.0L200.0,178.7L204.0,179.1L210.0,181.1L213.0,181.5L216.0,180.7L218.0,179.2L221.5,171.0L237.0,171.0L234.9,175.0L234.6,177.0L241.0,179.7L247.5,182.0ZM340.0,204.5L340.8,206.0L340.7,208.0L337.9,213.0L338.2,215.0L340.2,219.0L340.3,221.0L339.0,222.6L337.0,222.7L335.7,222.0L334.2,220.0L333.6,218.0L333.6,215.0L337.0,207.0L338.0,205.7ZM334.0,231.8L336.0,233.6L337.7,236.0L338.1,238.0L337.7,243.0L335.0,248.6L330.0,252.3L329.0,252.2L328.6,250.0L330.5,246.0L330.2,245.0L327.5,242.0L327.2,240.0L331.0,233.5L332.7,232.0ZM359.0,244.8L361.0,245.5L366.1,249.0L368.9,252.0L369.4,254.0L368.1,263.0L367.5,265.0L366.0,266.6L358.0,269.3L355.0,269.5L350.6,268.0L348.0,265.1L344.6,263.0L343.9,262.0L343.7,260.0L345.8,255.0L346.8,250.0L348.0,248.0L352.0,245.9L356.0,244.9ZM327.0,255.2L328.7,257.0L329.9,260.0L330.1,262.0L329.4,265.0L328.0,267.2L323.8,271.0L321.0,272.5L320.0,272.1L321.8,268.0L322.2,266.0L320.2,261.0L320.7,259.0L322.1,257.0L324.0,255.5ZM401.3,275.0L401.4,276.0L400.8,277.0L395.7,281.0L392.3,285.0L390.0,286.7L382.0,290.4L378.0,291.5L374.0,293.3L372.0,293.6L371.5,293.0L372.9,285.0L374.3,282.0L377.0,280.1L383.0,277.4L389.0,272.7L391.0,272.2L394.0,272.3L399.9,274.0ZM319.0,290.1L320.3,291.0L320.8,294.0L320.1,302.0L318.7,306.0L321.0,311.0L321.4,314.0L321.0,316.0L319.0,319.5L317.0,321.1L316.0,321.3L314.0,320.2L313.2,319.0L313.9,310.0L314.7,306.0L312.7,303.0L310.8,298.0L311.7,296.0L315.0,292.5L317.0,290.9ZM333.6,294.0L335.0,295.0L335.0,296.1L333.8,296.0L333.3,295.0ZM316.0,330.8L317.0,330.2L317.6,331.0L320.9,338.0L323.0,341.0L325.0,347.0L326.3,353.0L331.8,361.0L332.1,363.0L331.9,371.0L331.1,377.0L332.0,378.3L337.0,380.9L339.0,382.5L340.4,385.0L341.2,390.0L344.0,392.5L348.0,394.7L350.2,399.0L353.0,400.6L354.5,397.0L356.0,395.0L359.1,393.0L357.0,389.4L352.0,386.4L351.0,385.0L349.9,379.0L350.8,373.0L350.0,371.1L347.1,368.0L346.2,366.0L346.5,362.0L350.6,350.0L351.4,344.0L351.1,343.0L349.6,342.0L349.4,341.0L355.8,333.0L362.5,327.0L366.0,321.5L368.0,320.2L371.0,319.4L375.0,320.3L383.0,326.2L399.6,334.0L403.1,338.0L404.0,340.0L403.0,340.7L401.0,338.7L396.0,336.2L391.0,331.6L384.0,329.2L378.0,325.7L375.0,324.9L371.8,325.0L372.0,326.0L381.0,331.3L387.0,335.5L395.0,337.5L399.0,339.6L400.1,341.0L401.6,346.0L404.0,350.0L404.5,352.0L404.0,353.3L400.0,357.9L398.0,359.1L397.0,359.2L396.2,358.0L396.0,355.8L395.1,354.0L389.0,350.6L383.4,346.0L381.4,345.0L376.0,343.8L371.0,341.5L369.0,341.8L367.0,342.8L364.8,345.0L363.1,348.0L361.6,360.0L362.0,366.7L364.0,370.8L366.4,374.0L367.5,377.0L367.8,383.0L370.2,392.0L372.0,394.1L375.8,397.0L380.0,402.1L382.0,403.5L384.0,404.1L386.0,403.7L390.0,401.4L397.0,399.0L398.4,398.0L398.0,397.4L395.0,398.3L388.0,399.2L386.0,398.9L384.8,398.0L382.1,393.0L378.5,389.0L378.0,388.0L377.9,385.0L379.5,380.0L379.5,372.0L380.3,368.0L384.0,364.6L387.0,363.6L391.0,364.2L402.0,370.3L405.5,374.0L406.9,377.0L407.4,380.0L406.7,383.0L403.0,389.1L401.2,394.0L402.0,394.5L404.0,394.1L405.0,394.5L407.5,397.0L409.0,400.0L408.5,402.0L407.7,403.0L403.5,405.0L410.0,408.7L415.0,408.1L418.6,409.0L418.0,410.0L415.4,411.0L412.0,414.0L408.0,416.5L406.0,417.0L402.0,415.4L398.8,413.0L396.0,410.0L395.0,409.9L390.0,412.4L378.0,420.7L376.0,421.3L371.0,421.2L368.0,419.2L365.0,415.0L360.0,411.4L356.0,409.2L353.0,409.0L348.0,411.4L344.0,411.7L342.0,410.9L337.0,407.2L332.0,405.1L328.0,400.2L322.0,395.0L319.9,391.0L319.7,381.0L318.5,376.0L318.0,366.0L315.2,358.0L315.5,355.0L317.4,349.0L316.3,344.0L315.9,339.0L314.8,335.0ZM387.0,367.0L384.0,368.5L382.4,371.0L381.5,378.0L381.3,386.0L382.6,389.0L386.0,393.4L388.0,394.5L390.0,394.8L395.0,392.8L398.4,390.0L398.8,388.0L398.6,383.0L399.7,377.0L399.0,375.2L397.7,374.0L390.6,370.0ZM437.2,403.0L436.8,404.0L434.4,406.0L430.0,408.0L428.9,408.0L428.8,407.0L429.4,406.0L431.0,404.5L435.0,402.9Z"/>
<path fill="#ffc800" fill-rule="evenodd" d="M246.9,183.0L246.0,185.1L242.0,188.4L240.0,188.9L235.0,188.4L232.0,188.7L230.0,189.4L227.0,192.1L226.0,192.4L224.7,191.0L224.0,186.8L223.0,186.6L212.0,192.0L208.0,193.4L206.0,193.5L202.0,192.5L196.0,192.9L184.0,192.0L177.0,192.8L167.0,190.7L157.0,187.6L152.0,187.5L147.0,188.4L143.0,188.1L143.0,172.7L151.0,175.3L157.0,174.8L167.0,177.3L172.0,177.3L177.0,178.6L182.0,178.3L189.0,181.1L195.0,179.3L200.0,179.0L204.0,179.6L212.0,181.9L215.0,181.5L218.0,179.6L221.8,171.0L236.7,171.0L234.1,176.0L234.0,178.3L237.0,178.7L241.0,180.5L245.0,181.6ZM336.0,215.2L337.0,216.0L338.6,219.0L338.7,220.0L338.0,221.1L337.0,221.1L336.0,220.4L335.1,219.0L335.0,216.0ZM334.0,234.5L336.4,237.0L336.8,241.0L336.0,244.5L334.0,247.3L333.0,247.6L331.6,244.0L329.4,242.0L329.1,240.0L332.7,235.0ZM348.0,248.7L352.0,246.3L358.0,245.1L361.0,245.9L366.5,250.0L368.2,252.0L368.7,254.0L367.7,263.0L366.9,265.0L366.0,266.0L358.0,268.9L356.0,269.1L351.7,268.0L348.0,264.4L345.6,263.0L344.7,262.0L344.3,260.0L346.2,255.0L347.2,250.0ZM326.0,256.3L327.4,257.0L328.8,259.0L329.3,261.0L329.2,263.0L327.7,266.0L323.0,269.4L323.3,265.0L321.8,262.0L321.5,260.0L323.0,257.5L324.0,256.7ZM400.0,275.0L400.5,276.0L400.1,277.0L395.0,281.1L391.7,285.0L390.0,286.3L382.0,290.0L374.0,292.8L373.0,292.7L372.4,292.0L372.7,287.0L373.4,284.0L374.6,282.0L376.0,280.8L383.0,277.6L388.0,273.6L390.0,272.6L395.0,272.8L398.7,274.0ZM319.0,292.0L319.5,294.0L318.9,301.0L318.0,303.1L317.0,304.1L316.0,304.3L313.6,302.0L312.7,298.0L316.0,293.1L318.0,291.9ZM317.0,308.8L319.2,311.0L319.9,313.0L319.9,315.0L318.0,318.7L317.0,319.4L316.0,319.4L315.0,318.2L315.8,310.0ZM371.0,319.7L373.0,319.9L375.0,320.8L382.0,326.3L388.6,329.0L392.1,331.0L392.0,331.5L384.3,329.0L379.0,325.4L376.0,324.5L373.0,324.4L369.8,325.0L370.9,326.0L381.0,331.6L387.0,335.9L395.0,337.7L399.0,340.0L400.3,342.0L401.4,346.0L403.8,350.0L404.3,352.0L404.0,353.0L400.0,357.5L398.0,358.7L396.8,358.0L396.3,355.0L395.0,353.4L389.0,350.1L384.0,346.0L382.0,344.9L376.0,343.5L371.0,341.1L368.0,342.0L364.0,345.6L362.9,348.0L361.0,359.7L362.0,368.3L366.7,376.0L367.5,383.0L369.9,392.0L371.6,394.0L376.0,397.6L381.0,403.8L383.0,405.0L385.0,404.8L390.0,401.7L397.5,399.0L401.8,395.0L403.0,394.4L404.0,394.4L406.0,395.6L408.0,398.0L408.7,400.0L408.2,402.0L406.0,403.7L398.7,404.0L394.6,406.0L393.9,407.0L393.7,409.0L393.0,410.0L385.9,415.0L379.0,419.2L377.0,419.8L375.0,419.8L370.0,418.5L365.7,414.0L360.0,410.4L357.4,408.0L357.3,407.0L358.5,406.0L358.7,405.0L354.6,401.0L354.2,399.0L354.8,397.0L357.0,394.4L359.1,394.0L359.5,393.0L357.0,388.9L352.4,386.0L351.6,385.0L350.3,380.0L351.0,372.4L350.3,371.0L347.0,367.4L346.3,365.0L346.8,362.0L351.3,349.0L351.6,343.0L350.1,342.0L349.8,341.0L356.0,333.0L362.7,327.0L366.0,322.0L368.0,320.6ZM392.1,332.0L393.0,331.5L399.0,333.9L402.0,337.0L402.3,338.0L402.0,338.5L396.3,336.0ZM317.0,335.0L318.0,336.0L318.0,338.8L317.7,337.0L317.0,336.0ZM318.2,339.0L319.0,338.8L322.0,341.3L323.0,342.9L326.0,354.0L329.0,357.8L331.4,362.0L331.6,371.0L330.6,378.0L332.0,379.4L337.0,381.7L339.0,383.6L340.0,386.0L340.1,390.0L346.6,396.0L346.5,399.0L346.9,400.0L352.0,401.5L353.8,403.0L355.0,405.0L355.0,406.3L348.0,410.4L345.0,411.0L343.0,410.5L338.0,406.8L332.0,404.0L329.0,400.0L323.0,395.0L320.9,392.0L320.5,390.0L320.4,381.0L319.0,376.0L318.5,371.0L318.6,366.0L315.8,357.0L317.8,349.0L317.1,344.0ZM385.0,364.5L387.0,364.1L391.0,364.5L393.1,366.0L400.0,369.2L403.6,372.0L406.3,376.0L407.1,380.0L406.4,383.0L402.8,389.0L400.7,394.0L399.0,395.9L397.0,397.1L388.0,398.3L386.1,398.0L384.9,395.0L379.8,390.0L378.7,388.0L378.6,385.0L380.0,381.2L380.7,382.0L380.6,385.0L381.1,387.0L382.6,390.0L386.0,394.9L389.0,395.7L391.0,395.7L395.0,393.6L398.0,391.1L399.0,389.1L398.7,384.0L400.0,378.0L399.7,376.0L398.0,374.0L390.0,369.2L388.0,367.0L385.8,367.0L384.0,368.3L382.5,370.0L381.8,372.0L381.0,377.8L379.9,375.0L380.3,369.0L381.7,367.0ZM396.5,407.0L398.0,405.4L401.0,405.2L406.0,407.3L409.0,410.0L411.0,410.4L413.5,410.0L413.3,411.0L411.4,413.0L408.0,415.5L406.0,416.0L403.0,414.9L399.3,412.0L396.5,408.0Z"/>
<path fill="#ffa000" fill-rule="evenodd" d="M245.8,184.0L244.3,186.0L241.4,188.0L232.0,188.2L230.0,188.9L226.0,191.7L224.7,190.0L224.0,185.7L212.0,191.6L208.0,193.0L206.0,193.0L202.0,192.0L196.0,192.5L183.0,191.6L176.0,192.2L168.0,190.4L158.0,187.3L153.0,187.1L147.0,187.6L143.0,186.7L143.0,173.2L152.0,176.0L158.0,175.6L167.0,177.7L172.0,177.7L176.0,179.1L182.0,178.9L189.0,181.5L195.0,179.6L200.0,179.3L203.0,179.7L212.0,182.3L215.0,181.8L218.1,180.0L219.3,178.0L222.1,171.0L236.4,171.0L233.7,176.0L232.6,179.0L233.0,179.5L237.0,179.5L241.0,181.3L244.1,182.0L245.7,183.0ZM334.0,237.6L335.0,238.2L335.6,241.0L335.0,243.4L334.0,244.0L331.8,242.0L331.1,241.0L331.1,240.0L332.0,238.6ZM358.0,245.5L361.0,246.4L366.0,250.4L367.9,253.0L368.1,255.0L367.2,263.0L366.3,265.0L364.0,266.5L358.0,268.5L356.0,268.7L353.0,268.0L351.3,267.0L349.0,264.5L345.5,262.0L344.9,260.0L346.6,255.0L347.4,251.0L348.4,249.0L352.0,246.8ZM325.0,257.5L327.1,258.0L328.0,259.3L328.4,261.0L328.0,263.5L326.0,265.8L325.0,265.7L322.7,261.0L323.1,259.0ZM399.1,275.0L399.7,276.0L399.5,277.0L393.5,282.0L389.9,286.0L382.0,289.6L374.0,292.1L373.0,291.2L372.9,288.0L373.6,284.0L374.9,282.0L376.1,281.0L383.0,277.8L388.0,273.9L390.0,272.9L394.6,273.0L397.6,274.0ZM317.0,295.5L317.7,298.0L317.7,300.0L317.0,301.8L316.0,302.4L315.0,301.9L314.1,299.0L315.0,296.8L316.0,295.8ZM371.0,320.1L374.5,321.0L376.3,323.0L375.0,323.7L370.0,324.5L367.4,326.0L372.0,326.6L381.0,331.8L387.0,336.2L394.0,337.5L398.0,339.4L400.0,341.8L401.2,346.0L403.6,350.0L404.1,352.0L403.7,353.0L400.0,357.1L398.0,358.2L396.1,354.0L395.1,353.0L390.0,350.4L384.4,346.0L382.0,344.7L376.0,343.3L371.0,340.8L368.0,341.8L364.0,345.4L362.8,348.0L361.0,357.0L360.8,361.0L361.4,367.0L362.0,369.1L366.4,376.0L367.2,383.0L369.6,392.0L371.3,394.0L376.1,398.0L381.0,404.6L383.0,405.7L385.0,405.4L391.0,401.4L398.0,399.1L403.0,394.7L404.0,394.6L406.0,395.9L407.7,398.0L408.5,400.0L407.9,402.0L406.0,403.4L400.0,403.4L397.3,404.0L395.3,405.0L393.0,407.0L391.8,410.0L386.6,414.0L380.0,417.9L377.0,418.8L370.0,416.7L366.0,413.0L360.6,410.0L358.9,408.0L359.5,406.0L359.3,405.0L355.9,402.0L354.5,400.0L354.4,399.0L356.0,395.5L357.0,394.7L360.0,394.0L359.8,393.0L357.0,388.4L353.3,386.0L352.0,384.6L350.7,380.0L351.4,374.0L351.2,372.0L347.7,368.0L346.6,365.0L347.4,361.0L351.7,350.0L352.1,343.0L350.1,341.0L356.4,333.0L362.9,327.0L366.5,322.0L368.0,320.9ZM392.8,332.0L394.0,332.0L398.0,333.6L399.8,335.0L401.0,337.0L400.0,337.1L397.0,336.1ZM319.0,341.4L321.0,341.8L322.3,343.0L323.5,346.0L325.2,354.0L329.0,358.8L330.8,362.0L331.2,370.0L329.9,377.0L330.1,379.0L332.0,380.5L337.0,382.5L338.5,384.0L339.3,386.0L339.7,391.0L344.2,396.0L344.1,400.0L344.7,401.0L346.4,402.0L351.0,402.7L352.5,404.0L352.6,405.0L349.0,408.8L347.0,409.9L345.0,410.2L343.0,409.6L338.0,405.9L333.0,403.4L330.4,400.0L324.0,395.0L321.7,392.0L321.2,390.0L321.0,380.0L319.5,376.0L319.1,371.0L319.2,366.0L316.4,357.0L316.8,354.0L318.3,349.0L317.8,344.0ZM386.0,364.4L391.0,364.7L394.6,367.0L400.0,369.4L404.0,372.7L406.1,376.0L406.8,379.0L406.6,382.0L402.6,389.0L401.0,392.7L400.0,394.3L398.0,395.7L395.6,396.0L395.7,395.0L399.0,390.0L398.9,384.0L400.2,378.0L400.0,376.0L398.0,373.8L391.4,370.0L388.3,367.0L387.0,366.6L385.4,367.0L383.0,369.0L381.3,372.0L381.0,374.1L380.4,371.0L380.7,369.0L383.3,366.0ZM398.7,407.0L401.0,406.3L405.0,407.8L409.7,412.0L409.5,413.0L407.0,414.8L404.0,414.4L401.9,413.0L399.2,410.0L398.3,408.0Z"/>
<path fill="#ff7800" fill-rule="evenodd" d="M244.4,184.0L243.0,186.0L241.0,187.4L232.0,187.6L230.0,188.3L226.0,190.9L224.8,189.0L224.8,187.0L225.4,185.0L225.0,184.6L213.0,190.8L208.0,192.5L206.0,192.4L202.0,191.4L196.0,192.1L183.0,191.2L177.0,191.8L169.0,190.1L164.0,188.0L159.0,186.9L148.0,187.0L143.0,185.8L143.0,173.8L152.0,176.5L159.0,176.3L167.0,178.1L171.1,178.0L176.0,179.8L182.0,179.6L189.0,181.9L195.0,179.9L199.0,179.6L203.0,180.1L212.0,182.7L216.0,181.7L218.5,180.0L222.5,171.0L236.1,171.0L230.8,180.0L231.0,180.7L235.0,180.2L237.0,180.4L243.8,183.0ZM358.0,245.9L361.0,246.9L366.5,252.0L367.4,255.0L367.1,261.0L366.4,264.0L365.0,265.5L359.0,267.7L356.0,268.2L352.0,266.8L349.3,264.0L346.4,262.0L345.5,260.0L347.8,251.0L349.0,249.0L352.7,247.0ZM325.0,259.0L326.0,258.9L327.1,260.0L327.2,262.0L326.0,263.1L324.3,261.0L324.2,260.0ZM398.9,276.0L398.8,277.0L393.9,281.0L389.0,286.2L381.0,289.6L375.0,291.3L373.8,291.0L373.2,289.0L373.6,285.0L374.4,283.0L376.5,281.0L383.2,278.0L388.0,274.2L390.0,273.2L393.0,273.0L396.6,274.0ZM371.0,320.6L373.2,321.0L374.3,322.0L374.2,323.0L368.0,324.9L366.9,326.0L367.0,327.0L370.0,326.4L372.0,326.9L381.0,332.0L387.0,336.5L393.0,337.4L398.0,339.7L399.8,342.0L401.1,346.0L403.4,350.0L404.0,352.0L403.0,353.7L399.0,357.5L398.0,357.6L397.1,355.0L395.5,353.0L390.0,350.1L384.8,346.0L382.0,344.4L376.0,343.0L371.0,340.6L368.0,341.7L364.0,345.1L362.9,347.0L360.9,356.0L360.5,360.0L361.0,366.0L362.0,369.8L365.6,375.0L366.4,377.0L366.9,383.0L369.3,392.0L371.0,394.0L375.8,398.0L381.0,405.2L383.0,406.2L385.0,405.9L391.0,401.7L398.0,399.3L403.0,394.9L404.0,394.8L405.8,396.0L407.5,398.0L408.2,400.0L407.6,402.0L406.0,403.1L400.0,402.9L395.0,404.8L393.3,406.0L390.9,410.0L386.0,414.0L381.0,416.7L378.0,417.8L376.0,417.7L371.3,416.0L367.0,412.6L361.0,409.6L359.7,408.0L360.3,406.0L359.8,405.0L355.3,401.0L354.6,399.0L355.8,396.0L357.0,394.9L358.0,394.6L360.0,395.5L360.2,393.0L358.0,389.1L353.2,385.0L352.0,383.1L351.0,379.0L351.7,374.0L351.5,372.0L348.0,367.9L346.9,365.0L347.7,361.0L352.6,349.0L352.5,343.0L352.0,342.0L350.6,341.0L356.8,333.0L362.3,328.0L367.0,322.0L369.0,321.0ZM394.3,333.0L396.0,333.0L398.0,334.0L399.7,336.0L398.0,336.1L395.0,334.2ZM320.0,342.4L321.2,343.0L322.6,345.0L325.0,355.0L329.0,359.8L330.2,362.0L330.9,370.0L329.3,379.0L331.0,380.9L336.0,382.7L338.0,384.5L338.8,387.0L338.9,391.0L342.5,396.0L342.9,401.0L345.0,402.8L349.0,404.0L350.0,405.0L349.4,407.0L347.0,409.0L345.0,409.3L343.7,409.0L334.8,403.0L330.9,399.0L325.0,394.8L322.6,392.0L322.0,390.0L321.9,380.0L320.3,377.0L319.9,375.0L319.7,365.0L317.0,357.0L317.3,354.0L318.7,349.0L318.5,344.0L319.0,342.9ZM385.4,365.0L387.0,364.6L390.0,364.6L400.0,369.6L404.0,373.0L405.8,376.0L406.6,379.0L406.3,382.0L401.0,392.0L399.0,394.1L398.1,393.0L399.4,390.0L399.2,384.0L400.4,378.0L400.2,376.0L398.6,374.0L391.0,369.5L388.0,366.5L386.0,366.4L385.0,366.9L381.4,370.0L381.0,371.0L381.0,369.5L381.7,368.0L383.7,366.0ZM400.4,408.0L402.0,407.7L405.0,408.8L407.8,412.0L407.8,413.0L406.0,413.9L403.6,413.0L400.8,410.0Z"/>
<path fill="#ff0a00" fill-rule="evenodd" d="M235.8,171.0L231.0,178.9L223.5,185.0L213.0,190.4L208.0,192.0L202.0,190.9L196.0,191.7L183.0,190.9L176.0,191.2L169.0,189.6L165.0,187.5L163.0,186.9L157.0,186.2L148.0,186.4L143.0,185.0L143.0,174.3L152.0,177.0L159.0,176.8L167.0,178.5L171.0,178.5L176.0,180.5L182.0,180.3L188.0,182.2L190.0,182.2L195.0,180.2L199.0,179.9L202.0,180.3L212.0,183.1L216.0,182.1L218.9,180.0L222.8,171.0ZM225.1,188.0L225.6,186.0L228.0,183.1L234.0,181.3L236.0,181.2L238.3,182.0L240.7,184.0L241.0,185.0L240.8,186.0L239.0,186.7L231.0,187.2L226.0,190.2ZM349.8,249.0L354.1,247.0L358.0,246.3L360.3,247.0L364.7,251.0L366.1,253.0L366.8,256.0L366.5,262.0L366.0,263.7L365.0,265.0L359.0,267.3L356.0,267.7L353.0,266.8L347.0,261.6L346.1,260.0L348.3,251.0ZM398.0,276.0L398.0,277.0L397.2,278.0L393.0,281.2L388.7,286.0L382.0,288.9L375.0,290.8L373.8,290.0L373.5,288.0L373.8,285.0L375.5,282.0L378.0,280.4L384.0,277.8L389.0,273.9L393.0,273.4L397.0,274.9ZM371.0,321.3L372.4,322.0L371.5,323.0L370.0,323.3L367.2,325.0L365.6,327.0L366.0,327.8L369.0,326.8L372.0,327.2L380.6,332.0L387.0,336.8L393.0,337.6L398.0,339.9L399.6,342.0L400.9,346.0L403.3,350.0L403.7,352.0L401.0,355.4L398.6,357.0L398.0,356.6L397.5,355.0L396.0,353.0L390.0,349.8L383.7,345.0L381.0,343.8L376.0,342.8L371.0,340.3L370.0,340.4L368.0,341.5L363.9,345.0L362.8,347.0L360.5,357.0L360.3,361.0L360.9,367.0L361.8,370.0L365.3,375.0L366.1,377.0L366.7,383.0L368.6,391.0L370.6,394.0L375.5,398.0L381.0,405.7L383.0,406.6L385.0,406.3L391.0,401.9L398.0,399.6L403.0,395.2L404.0,395.1L405.5,396.0L407.2,398.0L407.9,400.0L407.3,402.0L406.0,402.8L400.0,402.6L395.0,404.5L392.9,406.0L390.2,410.0L386.0,413.4L382.0,415.7L378.0,416.9L372.0,415.1L367.7,412.0L362.0,409.7L360.4,408.0L360.9,406.0L360.4,405.0L355.6,401.0L354.8,399.0L356.0,396.1L358.0,394.9L361.0,396.6L361.0,395.0L359.0,390.0L353.5,384.0L352.0,381.6L351.4,379.0L351.9,374.0L351.7,372.0L351.0,370.6L347.7,367.0L347.1,365.0L347.7,362.0L350.4,355.0L353.1,350.0L352.8,342.0L351.3,341.0L351.8,340.0L353.9,338.0L358.0,332.0L362.6,328.0L367.0,322.7L368.0,322.0ZM395.6,334.0L397.0,333.9L398.1,335.0L397.0,335.1ZM320.0,343.4L321.0,343.7L322.0,345.1L324.3,355.0L329.0,360.9L329.9,363.0L330.5,370.0L328.6,378.0L328.8,380.0L332.0,382.4L336.0,383.5L337.5,385.0L338.1,387.0L338.1,391.0L339.0,393.1L341.1,396.0L341.8,401.0L343.0,402.7L348.0,405.8L348.0,407.0L347.0,408.0L345.0,408.5L343.0,407.6L337.1,403.0L332.9,399.0L326.0,394.4L323.1,391.0L322.7,380.0L320.9,377.0L320.3,375.0L320.0,371.0L320.4,365.0L317.6,357.0L317.8,354.0L319.1,349.0L319.0,345.0ZM384.1,366.0L387.0,364.8L390.5,365.0L400.3,370.0L402.8,372.0L405.0,374.8L406.3,378.0L406.1,382.0L401.0,391.1L400.0,392.2L399.4,384.0L400.6,378.0L399.8,375.0L397.0,372.7L391.0,369.3L388.0,366.3L386.0,366.2L384.0,367.2L383.0,367.0ZM403.0,409.3L405.0,410.2L406.0,412.2L405.0,412.3L403.0,411.0L402.5,410.0Z"/>
<path fill="#d2002a" fill-rule="evenodd" d="M235.5,171.0L231.0,178.2L223.0,185.0L213.0,190.0L209.0,191.4L207.0,191.5L202.0,190.3L196.0,191.3L183.0,190.5L176.0,190.8L169.0,189.1L165.0,186.7L163.0,186.1L149.0,186.0L143.0,184.4L143.0,174.9L152.0,177.5L160.0,177.4L167.0,178.9L171.0,178.9L176.0,181.2L182.0,181.0L189.0,182.7L195.0,180.5L200.0,180.3L212.0,183.5L216.0,182.4L219.0,180.3L223.2,171.0ZM234.3,183.0L233.9,184.0L231.0,184.7L228.0,188.0L226.0,188.8L226.0,186.6L228.0,184.4ZM358.0,246.7L361.0,248.1L365.0,253.0L366.2,256.0L366.2,261.0L365.8,263.0L364.2,265.0L359.0,266.9L356.0,267.2L354.0,266.7L352.0,265.3L347.2,261.0L346.7,259.0L348.9,251.0L349.5,250.0L352.7,248.0ZM396.9,276.0L397.1,277.0L396.5,278.0L392.6,281.0L389.4,285.0L388.1,286.0L381.0,288.8L376.0,290.2L375.0,290.2L374.0,289.3L373.8,287.0L374.4,284.0L375.8,282.0L377.3,281.0L383.0,278.6L388.0,274.8L390.0,273.9L393.9,274.0ZM365.0,325.6L365.7,326.0L361.7,331.0L367.0,327.6L370.0,326.9L372.0,327.4L380.2,332.0L386.0,336.6L388.0,337.3L393.0,337.8L397.7,340.0L399.4,342.0L400.7,346.0L403.5,351.0L403.0,353.1L399.0,356.5L396.0,352.7L390.0,349.5L384.0,344.9L381.0,343.6L376.0,342.5L371.0,340.1L370.0,340.1L366.0,342.8L363.6,345.0L362.6,347.0L360.2,358.0L360.7,367.0L361.5,370.0L365.0,375.0L365.9,377.0L366.4,383.0L368.3,391.0L369.3,393.0L375.2,398.0L381.0,406.1L383.0,407.0L386.0,406.0L391.2,402.0L398.0,399.9L403.0,395.4L405.0,395.8L407.5,399.0L407.5,401.0L406.9,402.0L405.0,402.6L400.0,402.2L396.0,403.5L393.0,405.5L390.0,409.6L386.0,412.9L383.0,414.8L380.0,415.8L377.8,416.0L375.0,415.2L372.2,414.0L368.0,411.2L362.0,409.1L361.0,408.0L361.5,406.0L360.9,405.0L355.8,401.0L355.1,399.0L356.4,396.0L358.0,395.2L361.0,397.8L362.0,398.0L361.7,395.0L359.4,390.0L352.4,381.0L351.8,379.0L352.0,372.0L347.6,366.0L347.5,364.0L348.0,361.9L351.0,354.4L353.7,350.0L353.0,345.0L353.4,340.0L357.0,334.7L359.0,333.0L358.7,332.0ZM320.0,344.5L321.0,344.8L321.6,346.0L324.0,355.9L328.4,361.0L329.6,364.0L330.1,370.0L327.7,379.0L327.8,380.0L331.0,382.8L335.0,383.9L336.5,385.0L337.4,387.0L337.6,392.0L340.3,397.0L341.1,402.0L342.0,403.3L346.3,406.0L346.0,407.3L343.8,407.0L338.0,402.1L335.3,399.0L327.0,394.0L324.3,391.0L323.5,384.0L323.6,380.0L321.5,377.0L320.8,375.0L320.9,364.0L318.1,357.0L318.1,355.0L319.5,350.0ZM387.9,365.0L390.0,365.0L400.0,370.0L402.5,372.0L405.0,375.2L406.1,378.0L406.1,381.0L401.0,390.1L400.0,388.7L399.6,385.0L400.7,379.0L400.6,376.0L398.0,373.2L390.9,369.0L389.0,366.7L387.6,366.0Z"/>
<path fill="#a00050" fill-rule="evenodd" d="M235.2,171.0L231.0,177.5L222.4,185.0L213.0,189.6L209.0,190.9L207.0,191.0L202.0,189.7L196.0,190.8L176.0,190.3L170.0,189.0L164.0,185.6L149.0,185.5L143.0,183.9L143.0,175.4L147.0,176.2L152.0,178.0L160.0,177.8L167.0,179.3L171.0,179.5L176.0,181.8L182.0,181.6L189.0,183.0L191.0,182.6L195.0,180.9L199.0,180.6L202.1,181.0L210.0,183.6L213.0,183.8L216.0,182.8L219.0,180.8L220.2,179.0L223.5,171.0ZM350.3,250.0L354.1,248.0L357.0,247.2L359.0,247.4L361.0,248.8L365.5,256.0L365.8,261.0L364.6,264.0L363.0,265.1L360.0,266.2L356.0,266.7L353.0,265.4L348.1,261.0L347.5,260.0L347.5,258.0L349.1,252.0ZM396.0,276.3L396.3,277.0L395.8,278.0L392.0,280.9L389.0,284.9L387.4,286.0L377.0,289.6L375.0,289.6L374.5,289.0L374.1,287.0L374.7,284.0L376.0,282.1L377.7,281.0L384.0,278.4L388.0,275.2L390.0,274.2L393.0,274.2ZM369.0,327.3L372.0,327.7L379.9,332.0L387.0,337.4L393.0,338.0L397.4,340.0L399.2,342.0L400.4,346.0L403.3,351.0L402.8,353.0L400.0,355.5L399.0,355.8L396.0,352.3L390.0,349.2L384.0,344.7L381.0,343.3L376.0,342.3L371.0,339.8L370.0,339.9L367.0,341.8L362.8,346.0L360.0,358.0L360.5,367.0L361.3,370.0L365.6,377.0L366.1,383.0L368.5,393.0L375.0,398.2L380.5,406.0L383.0,407.4L386.0,406.4L389.9,403.0L391.8,402.0L398.0,400.7L403.0,395.7L405.0,396.1L407.2,399.0L407.2,401.0L406.0,402.1L399.0,401.8L395.0,403.6L392.1,406.0L389.0,410.0L383.0,414.4L380.0,415.2L376.0,414.5L369.6,411.0L362.9,409.0L361.7,408.0L362.2,406.0L361.5,405.0L358.3,403.0L356.0,400.9L355.3,399.0L355.5,398.0L357.0,395.8L358.0,395.6L361.0,398.5L363.0,399.0L363.8,398.0L365.0,394.6L363.0,394.4L362.0,393.9L359.0,389.0L353.0,380.8L352.1,378.0L352.3,372.0L351.2,370.0L348.4,367.0L347.7,365.0L348.0,362.9L351.1,355.0L354.3,350.0L353.4,344.0L354.5,339.0L356.4,336.0L358.0,334.4L366.0,328.5ZM321.0,346.7L323.4,356.0L328.0,361.5L329.2,365.0L329.5,371.0L326.7,380.0L330.0,383.2L335.0,384.9L336.2,386.0L336.7,388.0L336.9,392.0L339.0,397.0L339.0,399.2L338.0,399.2L328.0,393.5L325.0,390.0L324.5,384.0L324.7,380.0L321.6,376.0L321.0,371.0L321.7,365.0L318.6,356.0L319.0,353.0ZM389.0,365.5L391.0,365.7L394.0,367.5L399.6,370.0L403.0,372.8L405.0,375.6L406.0,379.0L405.8,381.0L403.0,386.5L401.0,389.0L400.0,387.1L399.8,385.0L401.1,378.0L400.4,375.0L398.0,373.0L391.2,369.0L388.6,366.0Z"/>
<path fill="#7b006b" fill-rule="evenodd" d="M234.9,171.0L231.0,176.8L223.0,184.1L218.0,187.0L212.0,189.6L209.0,190.4L207.0,190.4L202.0,189.1L196.0,190.4L176.0,189.8L170.0,188.5L166.0,185.7L163.0,184.6L151.0,185.2L143.0,183.5L143.0,176.0L147.0,176.6L152.0,178.4L160.0,178.3L166.0,179.7L170.8,180.0L174.0,181.8L176.0,182.4L183.0,182.3L189.0,183.4L195.0,181.2L199.0,180.9L202.0,181.4L210.0,184.0L213.0,184.2L217.0,182.6L219.3,181.0L220.6,179.0L223.9,171.0ZM357.0,247.7L359.0,248.0L361.2,250.0L364.8,256.0L365.4,260.0L365.0,262.5L364.0,264.0L362.0,265.0L357.0,266.3L355.0,265.9L353.0,264.7L349.0,261.0L348.0,259.0L350.3,251.0L353.2,249.0ZM395.4,277.0L395.0,278.0L392.0,280.2L389.0,284.3L387.0,285.8L377.7,289.0L376.0,289.3L375.0,288.8L374.5,287.0L374.9,284.0L376.5,282.0L378.0,281.1L384.0,278.7L388.0,275.5L390.0,274.6L393.0,274.8ZM370.0,327.4L372.2,328.0L381.0,333.0L386.0,337.3L388.0,337.8L392.1,338.0L397.0,340.0L399.0,342.2L400.7,347.0L403.0,350.8L403.1,352.0L400.0,355.1L399.0,355.1L397.0,352.7L390.1,349.0L384.0,344.4L382.0,343.4L376.0,342.1L371.0,339.6L369.0,340.2L364.0,344.1L362.5,346.0L362.0,349.2L360.4,354.0L359.6,361.0L360.6,369.0L365.3,377.0L365.9,383.0L367.0,387.1L367.2,390.0L367.0,391.2L366.1,392.0L363.0,392.7L362.0,392.5L353.0,379.7L352.5,378.0L352.5,372.0L351.6,370.0L348.7,367.0L348.1,364.0L351.5,355.0L354.8,350.0L353.7,344.0L354.5,340.0L356.0,337.1L358.0,334.8L366.0,328.8L368.0,327.8ZM321.0,349.8L322.7,356.0L327.6,362.0L328.9,366.0L329.0,371.0L327.2,377.0L326.0,378.6L325.0,378.7L322.8,377.0L321.8,375.0L321.6,371.0L322.4,366.0L322.2,364.0L319.5,358.0L319.1,356.0L319.5,353.0ZM389.3,366.0L391.0,365.9L399.3,370.0L402.9,373.0L405.0,376.2L405.7,379.0L405.2,382.0L402.0,387.5L401.0,388.1L400.1,385.0L401.4,378.0L400.6,375.0L398.0,372.7L391.6,369.0ZM326.0,382.4L327.0,382.3L330.0,384.2L335.0,386.1L335.9,388.0L336.1,392.0L336.8,395.0L336.6,396.0L336.0,396.2L334.0,395.7L329.0,393.0L326.7,391.0L325.6,388.0ZM355.6,399.0L356.2,397.0L357.0,396.1L358.0,395.9L362.0,399.6L365.8,399.0L367.6,395.0L369.0,394.5L374.4,398.0L381.0,406.9L383.0,407.8L385.0,407.4L390.0,403.4L392.9,402.0L396.3,402.0L393.0,404.5L388.0,410.3L383.0,413.9L380.0,414.6L376.0,413.5L371.0,410.5L363.0,408.5L362.4,408.0L362.2,407.0L362.9,406.0L362.2,405.0L357.5,402.0L356.0,400.4ZM399.6,400.0L402.0,396.7L403.0,396.0L404.0,395.9L406.0,397.6L407.0,400.0L406.7,401.0L405.0,402.0L400.3,401.0Z"/>
<path fill="#6a1e9c" fill-rule="evenodd" d="M234.5,171.0L231.0,176.1L226.0,180.3L222.5,184.0L215.0,188.0L209.0,189.8L202.0,188.4L195.0,190.0L175.0,189.2L170.0,188.0L165.0,184.3L163.0,183.7L152.0,184.9L149.0,184.6L143.0,183.0L143.0,176.5L147.0,177.1L152.0,178.8L160.0,178.8L166.0,180.4L170.0,180.5L174.0,182.5L176.0,182.9L183.0,182.9L189.0,183.8L191.0,183.5L195.0,181.6L199.0,181.3L202.0,181.8L209.0,184.4L213.0,184.6L218.0,182.5L219.8,181.0L221.5,178.0L224.4,171.0ZM351.3,251.0L354.8,249.0L357.0,248.3L359.0,248.7L360.0,249.5L364.6,257.0L365.0,260.0L364.0,263.2L363.0,264.1L360.0,265.2L356.0,265.7L354.0,264.8L349.8,261.0L349.0,259.8L348.8,258.0L350.2,253.0ZM394.2,277.0L393.9,278.0L391.0,280.4L388.6,284.0L387.0,285.4L378.0,288.5L376.0,288.6L375.1,288.0L375.0,284.8L375.9,283.0L377.0,281.9L384.0,279.0L388.0,275.9L390.0,275.0L392.0,275.2ZM370.0,327.7L372.0,328.2L379.0,332.0L382.0,334.0L386.0,337.7L394.0,338.8L397.0,340.4L399.0,342.8L400.4,347.0L402.2,350.0L402.7,352.0L401.0,354.0L399.0,354.5L396.0,351.6L390.6,349.0L383.0,343.5L380.0,342.5L376.7,342.0L371.0,339.3L369.0,339.9L363.8,344.0L362.3,346.0L360.2,354.0L359.4,360.0L360.3,369.0L365.0,377.0L365.5,383.0L366.7,388.0L366.0,390.4L363.0,391.6L362.0,391.4L360.0,389.2L353.3,379.0L352.5,371.0L349.1,367.0L348.5,364.0L351.8,355.0L355.5,350.0L354.0,344.0L354.5,341.0L356.0,337.7L358.4,335.0L366.2,329.0L368.0,328.0ZM321.0,352.3L322.5,357.0L327.4,363.0L328.5,367.0L328.5,370.0L327.0,375.9L326.0,377.5L325.0,377.8L323.0,376.4L322.2,374.0L322.9,364.0L320.1,358.0L319.7,356.0L320.0,353.4ZM391.0,366.3L400.0,370.7L404.0,375.0L405.1,377.0L405.4,380.0L405.0,381.7L402.0,386.7L401.0,387.0L400.5,385.0L401.7,379.0L401.4,376.0L399.0,373.1L391.9,369.0L390.2,367.0ZM327.0,384.7L328.0,384.4L333.0,386.1L334.4,387.0L335.2,389.0L335.6,394.0L335.0,394.7L331.0,393.2L327.8,391.0L326.5,388.0ZM356.0,398.0L357.0,396.6L358.0,396.5L361.0,399.7L363.0,400.4L369.0,398.7L370.3,397.0L372.0,397.2L375.0,399.2L381.0,407.7L382.0,408.4L384.0,408.3L386.0,407.4L390.0,404.0L392.1,404.0L391.0,406.2L388.8,409.0L383.0,413.3L380.0,414.0L377.0,413.0L372.0,409.7L363.3,408.0L363.0,407.0L363.8,406.0L363.0,405.0L359.3,403.0L357.0,401.1L356.0,399.7ZM402.2,397.0L404.0,396.4L405.1,397.0L406.3,399.0L406.0,401.1L402.6,401.0L400.8,400.0L400.8,399.0Z"/>
<g stroke="#9a9a9a" stroke-width="1" stroke-dasharray="7 3" fill="none"><line x1="206.25" y1="173.5" x2="206.25" y2="540.5"/><line x1="145" y1="234.67" x2="512.5" y2="234.67"/><line x1="267.50" y1="173.5" x2="267.50" y2="540.5"/><line x1="145" y1="295.83" x2="512.5" y2="295.83"/><line x1="328.75" y1="173.5" x2="328.75" y2="540.5"/><line x1="145" y1="357.00" x2="512.5" y2="357.00"/><line x1="390.00" y1="173.5" x2="390.00" y2="540.5"/><line x1="145" y1="418.17" x2="512.5" y2="418.17"/><line x1="451.25" y1="173.5" x2="451.25" y2="540.5"/><line x1="145" y1="479.33" x2="512.5" y2="479.33"/></g>
<path d="M323.8 155.2L328.8 168.6L331.8 173.5L334.9 175.9L342.2 179.6L351.4 182.1L352.6 185.7L359.4 188.8L358.2 193.1L361.8 199.2L361.2 202.9L360.0 207.8L354.5 209.0L355.7 204.7L357.5 199.8L355.9 196.5L348.3 196.1L332.2 193.3L333.0 199.2L337.3 205.9L339.8 211.4L340.4 214.5L340.4 219.4L341.4 228.5L340.1 239.6L336.7 254.8L334.1 261.1L338.5 271.4L338.5 274.4L339.2 283.0L336.1 290.4L340.4 295.8L343.2 303.2L344.3 308.7L352.6 316.6L353.2 320.3L359.4 322.7L359.4 326.4L364.9 333.1L368.0 335.0L366.7 337.4L366.7 341.1L374.7 349.0L380.8 355.2L382.0 362.1L384.2 363.7L393.7 364.3L399.8 367.4L404.7 369.2L409.6 372.3L415.7 374.1L421.8 379.0L423.7 385.1L425.3 387.6L431.7 395.5L435.3 405.9L439.6 413.3L442.7 420.6L448.8 425.5L457.4 431.6L462.3 442.6L450.6 444.5L460.4 453.6L469.0 458.5L483.1 464.6L486.8 469.5L485.5 481.8L492.9 487.9L506.4 497.7L513.1 505.0L519.2 503.2L519.2 498.9L508.8 489.7L503.9 481.8L499.0 473.2L496.0 467.1L488.6 456.1L484.9 450.6L478.2 442.6L469.0 431.0L458.6 420.6L455.5 412.0L453.7 405.9L454.3 397.4L469.0 402.3L475.8 412.0L479.4 419.4L483.1 426.7L488.6 432.2L495.3 437.7L501.5 443.6L505.8 450.0L513.7 456.1L521.1 461.0L530.9 461.0L530.9 155.2ZM288.3 162.5L294.5 172.3L303.0 175.3L309.2 178.4L312.8 181.5L317.7 183.9L323.8 187.0L330.0 189.4L336.1 191.2L344.7 193.7L349.6 192.8L348.3 190.0L341.6 183.7L336.1 181.5L329.4 177.3L325.7 173.3L317.7 168.6L299.3 162.5ZM349.6 185.7L537.0 185.7M341.0 219.4L350.8 220.6L355.7 226.7L365.5 227.3L375.3 226.1L382.7 226.7L394.9 223.7L402.2 222.4L427.7 222.4M426.3 185.7L426.3 217.5L427.7 222.4L430.4 231.0L424.3 243.2L426.1 245.1L426.4 271.4M438.4 185.7L438.4 198.2L442.7 205.3L451.9 210.2L459.2 214.5L457.4 227.3L464.1 229.2L472.1 237.1L477.6 242.0L494.1 240.8L499.6 241.1L499.6 283.6L537.0 283.6M499.6 234.7L537.0 234.7M338.5 271.4L499.6 271.4M390.0 271.4L390.0 308.1L455.8 357.0L461.7 365.6L454.9 376.6L454.7 384.9M462.9 271.4L462.9 343.5L454.9 344.8L455.8 357.0M462.9 332.5L537.0 332.5M425.3 387.2L454.7 384.9L453.7 387.6L499.4 401.9L537.0 401.9M462.3 442.6L478.2 442.6M478.2 275.0L475.8 278.1L477.6 282.4L481.9 286.7L485.5 287.3L486.8 283.6L484.3 279.9L481.9 276.3Z" fill="none" stroke="#444" stroke-width="0.6" stroke-linejoin="round"/>
<path d="M130.8,172.0L150.7,167.1M135.4,170.9l-4.2,-4.3M155.8,170.7L175.4,164.9M155.8,170.7l-4.3,-4.1M158.2,170.0l-4.3,-4.1M160.6,169.3l-4.3,-4.1M163.0,168.6l-4.3,-4.1M165.4,167.9l-2.2,-2.1M178.9,171.4L198.8,166.6M183.4,170.3l-2.1,-2.2M204.3,170.6L224.3,165.8M208.9,169.5l-2.1,-2.2M229.3,172.0L249.3,167.3M233.9,171.0l-4.1,-4.4M253.9,170.4L274.3,168.4M258.6,170.0l-3.5,-4.9M276.7,171.1L297.2,170.2M281.4,170.9l-1.6,-2.5M304.0,165.9L323.6,172.0M328.7,168.2L348.3,174.2M328.7,168.2l-1.4,-5.8M331.1,169.0l-1.4,-5.8M333.5,169.7l-1.4,-5.8M335.8,170.4l-0.7,-2.9M351.6,164.1L368.5,175.7M351.6,164.1l0.5,-6.0M353.6,165.5l0.5,-6.0M355.7,167.0l0.5,-6.0M357.7,168.4l0.2,-3.0M377.2,167.9L396.5,174.7M377.2,167.9l-1.1,-5.9M379.5,168.7l-1.1,-5.9M381.9,169.5l-1.1,-5.9M401.1,167.7L421.6,168.4M401.1,167.7l-2.8,-5.3M403.6,167.8l-2.8,-5.3M425.4,167.4L445.4,171.6M425.4,167.4l-1.9,-5.7M427.8,167.9l-1.9,-5.7M452.6,178.4L467.6,164.3M452.6,178.4l-5.7,-1.7M454.5,176.6l-5.7,-1.7M456.3,174.9l-2.9,-0.9M486.3,178.4L482.1,158.4M486.3,178.4l-4.5,4.0M485.8,176.0l-2.2,2.0M500.4,174.5L518.8,165.6M502.6,173.4l-2.5,-1.7M142.9,187.8L163.4,187.6M147.6,187.8l-3.0,-5.2M150.1,187.8l-3.0,-5.2M152.6,187.7l-1.5,-2.6M164.9,188.7L185.4,189.5M169.6,188.9l-2.8,-5.3M172.1,189.0l-2.8,-5.3M190.5,189.0L210.9,187.3M195.2,188.6l-3.4,-4.9M215.7,189.6L235.1,183.0M220.1,188.1l-2.3,-2.0M241.0,190.9L260.9,186.0M245.5,189.8l-4.2,-4.3M263.4,188.0L283.8,186.5M268.1,187.7l-3.4,-5.0M289.1,183.5L308.9,188.7M293.6,184.7l-1.6,-5.8M313.3,186.2L332.9,192.3M317.8,187.6l-0.7,-2.9M340.7,183.9L360.3,189.9M345.2,185.3l-0.7,-2.9M365.1,181.7L384.1,189.4M365.1,181.7l-0.8,-5.9M367.4,182.6l-0.8,-5.9M369.7,183.6l-0.8,-5.9M372.1,184.5l-0.8,-5.9M374.4,185.5l-0.4,-3.0M391.9,181.3L408.1,193.8M391.9,181.3l0.8,-5.9M393.9,182.8l0.8,-5.9M395.8,184.4l0.8,-5.9M397.8,185.9l0.4,-3.0M414.3,188.7L434.3,184.3M414.3,188.7l-4.1,-4.4M416.8,188.2l-4.1,-4.4M437.2,188.9L457.3,184.7M437.2,188.9l-4.0,-4.5M439.7,188.4l-4.0,-4.5M442.1,187.9l-4.0,-4.5M444.6,187.3l-2.0,-2.2M464.7,190.5L484.0,183.7M464.7,190.5l-4.6,-3.9M467.0,189.7l-4.6,-3.9M469.4,188.9l-4.6,-3.9M486.9,190.0L507.4,188.4M486.9,190.0l-3.4,-4.9M489.4,189.8l-3.4,-4.9M491.9,189.6l-3.4,-4.9M133.7,212.4L147.5,197.3M136.9,209.0l-5.9,-1.3M138.6,207.1l-5.9,-1.3M140.2,205.3l-5.9,-1.3M152.7,205.8L173.2,207.2M157.4,206.2l-2.6,-5.4M159.9,206.3l-2.6,-5.4M162.4,206.5l-2.6,-5.4M176.6,204.3L197.1,205.4M181.3,204.6l-2.7,-5.3M183.8,204.7l-2.7,-5.3M186.3,204.8l-2.7,-5.3M204.5,208.4L224.8,205.6M209.1,207.7l-3.7,-4.7M211.6,207.4l-3.7,-4.7M214.1,207.0l-1.8,-2.4M226.8,206.1L246.7,201.1M231.4,205.0l-4.2,-4.3M233.8,204.4l-4.2,-4.3M253.4,206.2L273.9,205.4M258.1,206.0l-1.6,-2.5M276.4,202.2L295.9,208.5M276.4,202.2l-1.3,-5.9M278.8,202.9l-1.3,-5.9M281.2,203.7l-1.3,-5.9M283.5,204.5l-1.3,-5.9M302.1,199.8L318.3,212.4M302.1,199.8l0.8,-5.9M304.1,201.3l0.8,-5.9M306.1,202.9l0.8,-5.9M308.0,204.4l0.8,-5.9M330.1,198.3L343.3,214.0M330.1,198.3l2.1,-5.6M331.7,200.2l2.1,-5.6M333.3,202.1l2.1,-5.6M334.9,204.0l1.0,-2.8M355.1,196.7L364.2,215.1M355.1,196.7l3.3,-5.0M356.2,198.9l3.3,-5.0M357.3,201.2l3.3,-5.0M358.4,203.4l1.7,-2.5M381.6,195.8L389.4,214.8M381.6,195.8l3.7,-4.8M382.5,198.1l3.7,-4.8M383.5,200.4l3.7,-4.8M384.4,202.8l1.8,-2.4M401.1,200.8L419.0,210.9M401.1,200.8l-0.1,-6.0M403.3,202.0l-0.1,-6.0M405.5,203.3l-0.0,-3.0M426.8,210.9L444.6,200.7M426.8,210.9l-5.2,-3.0M428.9,209.6l-5.2,-3.0M431.1,208.4l-5.2,-3.0M433.3,207.1l-5.2,-3.0M448.2,205.4L468.5,203.0M448.2,205.4l-3.6,-4.8M450.7,205.1l-3.6,-4.8M453.1,204.8l-3.6,-4.8M455.6,204.5l-3.6,-4.8M472.9,204.0L493.3,205.6M472.9,204.0l-2.6,-5.4M475.4,204.2l-2.6,-5.4M477.9,204.4l-2.6,-5.4M499.2,203.9L519.7,203.6M499.2,203.9l-3.1,-5.2M501.7,203.8l-3.1,-5.2M504.2,203.8l-3.1,-5.2M506.7,203.8l-1.5,-2.6M142.4,226.7L161.6,219.6M146.8,225.1l-4.6,-3.8M149.2,224.2l-4.6,-3.8M165.8,223.2L186.3,224.0M170.5,223.4l-2.8,-5.3M173.0,223.5l-2.8,-5.3M175.5,223.6l-1.4,-2.7M192.2,223.3L212.7,223.9M196.9,223.4l-2.8,-5.3M199.4,223.5l-2.8,-5.3M201.9,223.5l-1.4,-2.6M213.6,221.8L234.1,221.8M218.3,221.8l-3.0,-5.2M220.8,221.8l-1.5,-2.6M240.8,221.0L261.1,224.0M245.4,221.7l-1.1,-2.8M266.7,218.7L285.1,227.8M266.7,218.7l-0.4,-6.0M268.9,219.8l-0.4,-6.0M271.2,220.9l-0.4,-6.0M273.4,222.0l-0.4,-6.0M294.6,214.9L303.5,233.4M294.6,214.9l3.4,-5.0M295.7,217.2l3.4,-5.0M296.8,219.4l3.4,-5.0M297.9,221.7l3.4,-5.0M320.4,212.4L325.5,232.3M320.4,212.4l4.3,-4.2M321.1,214.8l4.3,-4.2M321.7,217.3l4.3,-4.2M322.3,219.7l2.1,-2.1M344.9,213.1L351.3,232.6M344.9,213.1l4.0,-4.5M345.7,215.5l4.0,-4.5M346.5,217.9l4.0,-4.5M347.3,220.2l2.0,-2.2M371.5,214.9L379.0,234.0M371.5,214.9l3.7,-4.7M372.5,217.2l3.7,-4.7M373.4,219.6l3.7,-4.7M374.3,221.9l1.9,-2.3M395.2,214.5L404.1,233.0M395.2,214.5l3.4,-4.9M396.3,216.7l3.4,-4.9M397.4,219.0l3.4,-4.9M414.6,230.3L427.6,214.4M414.6,230.3l-5.9,-1.0M416.2,228.3l-5.9,-1.0M417.8,226.4l-5.9,-1.0M419.3,224.5l-3.0,-0.5M438.2,228.5L457.3,221.1M438.2,228.5l-4.7,-3.8M440.5,227.6l-4.7,-3.8M442.9,226.7l-2.3,-1.9M461.9,221.1L481.9,225.7M461.9,221.1l-1.8,-5.7M464.4,221.7l-1.8,-5.7M466.8,222.2l-0.9,-2.9M488.4,223.8L508.7,221.4M488.4,223.8l-3.6,-4.8M490.8,223.5l-3.6,-4.8M493.3,223.2l-3.6,-4.8M137.4,251.4L142.6,231.6M138.6,246.9l-5.8,1.6M139.2,244.4l-5.8,1.6M139.9,242.0l-5.8,1.6M140.5,239.6l-5.8,1.6M141.1,237.2l-2.9,0.8M153.6,241.4L174.0,241.8M158.3,241.5l-1.4,-2.6M178.2,238.3L198.5,240.8M182.8,238.9l-1.2,-2.8M204.7,240.5L224.6,245.4M204.7,240.5l-1.7,-5.8M207.2,241.1l-1.7,-5.8M209.6,241.7l-1.7,-5.8M212.0,242.3l-1.7,-5.8M214.4,242.9l-0.8,-2.9M229.5,237.0L248.8,244.1M229.5,237.0l-1.0,-5.9M231.9,237.8l-1.0,-5.9M234.2,238.7l-1.0,-5.9M236.6,239.6l-1.0,-5.9M256.0,234.7L270.1,249.6M256.0,234.7l1.7,-5.8M257.7,236.6l1.7,-5.8M259.4,238.4l1.7,-5.8M261.1,240.2l1.7,-5.8M281.5,232.8L289.4,251.7M281.5,232.8l3.6,-4.8M282.5,235.1l3.6,-4.8M283.4,237.4l3.6,-4.8M284.4,239.7l3.6,-4.8M309.4,232.6L311.0,253.1M309.4,232.6l4.9,-3.4M309.6,235.1l4.9,-3.4M309.8,237.6l4.9,-3.4M310.0,240.1l4.9,-3.4M333.9,232.8L337.2,253.1M333.9,232.8l4.7,-3.8M334.3,235.3l4.7,-3.8M334.7,237.8l4.7,-3.8M356.7,231.6L363.7,250.9M356.7,231.6l3.9,-4.6M357.6,234.0l3.9,-4.6M358.4,236.3l3.9,-4.6M359.3,238.7l1.9,-2.3M383.5,233.5L391.1,252.6M383.5,233.5l3.7,-4.7M384.5,235.9l3.7,-4.7M385.4,238.2l3.7,-4.7M386.3,240.5l1.9,-2.4M403.3,248.6L419.7,236.3M403.3,248.6l-5.5,-2.4M405.3,247.1l-5.5,-2.4M407.3,245.6l-5.5,-2.4M431.6,251.8L438.3,232.4M431.6,251.8l-5.9,1.1M432.4,249.4l-5.9,1.1M433.2,247.1l-2.9,0.6M449.9,246.1L469.3,239.5M449.9,246.1l-4.5,-3.9M476.1,237.7L495.7,243.5M476.1,237.7l-1.4,-5.8M478.5,238.4l-0.7,-2.9M501.3,243.6L520.0,235.1M501.3,243.6l-4.9,-3.5M146.5,267.7L159.6,251.9M149.5,264.1l-5.9,-1.0M165.3,257.9L185.5,261.3M165.3,257.9l-2.1,-5.6M167.7,258.3l-2.1,-5.6M170.2,258.7l-2.1,-5.6M172.6,259.1l-2.1,-5.6M175.1,259.5l-1.0,-2.8M192.2,256.2L211.6,262.9M192.2,256.2l-1.1,-5.9M194.6,257.0l-1.1,-5.9M196.9,257.8l-1.1,-5.9M199.3,258.6l-1.1,-5.9M201.7,259.4l-0.6,-2.9M217.9,254.0L236.1,263.4M217.9,254.0l-0.3,-6.0M220.1,255.1l-0.3,-6.0M222.3,256.3l-0.3,-6.0M224.6,257.4l-0.3,-6.0M242.1,251.3L256.7,265.7M242.1,251.3l1.5,-5.8M243.9,253.0l1.5,-5.8M245.7,254.8l1.5,-5.8M247.5,256.6l1.5,-5.8M270.3,249.4L277.7,268.5M270.3,249.4l3.8,-4.7M271.2,251.7l3.8,-4.7M272.1,254.0l3.8,-4.7M273.0,256.3l3.8,-4.7M300.4,250.3L300.8,270.7M300.4,250.3l5.1,-3.1M300.4,252.7l5.1,-3.1M300.5,255.2l5.1,-3.1M300.5,257.7l5.1,-3.1M300.6,260.2l2.6,-1.6M326.1,250.0L323.4,270.3M326.1,250.0l5.5,-2.3M325.8,252.5l5.5,-2.3M325.5,254.9l5.5,-2.3M325.1,257.4l2.8,-1.1M350.3,249.4L351.3,269.9M350.3,249.4l5.0,-3.3M350.4,251.9l5.0,-3.3M350.6,254.4l5.0,-3.3M369.3,249.6L374.7,269.4M369.3,249.6l4.2,-4.3M369.9,252.0l4.2,-4.3M370.6,254.4l4.2,-4.3M391.4,250.8L401.5,268.6M391.4,250.8l3.0,-5.2M392.6,253.0l3.0,-5.2M393.8,255.1l3.0,-5.2M420.8,268.3L429.2,249.6M420.8,268.3l-6.0,0.6M421.9,266.0l-6.0,0.6M422.9,263.7l-3.0,0.3M443.3,265.2L455.7,248.9M443.3,265.2l-6.0,-0.8M444.8,263.2l-6.0,-0.8M464.5,254.8L484.2,260.5M464.5,254.8l-1.4,-5.8M466.9,255.5l-1.4,-5.8M469.3,256.2l-0.7,-2.9M490.5,251.8L506.6,264.5M490.5,251.8l0.9,-5.9M136.8,285.5L140.4,265.3M137.6,280.9l-5.6,2.0M138.0,278.4l-5.6,2.0M138.5,276.0l-5.6,2.0M138.9,273.5l-5.6,2.0M139.4,271.0l-2.8,1.0M151.6,278.7L172.1,277.1M151.6,278.7l-3.4,-5.0M154.1,278.5l-3.4,-5.0M156.6,278.3l-3.4,-5.0M159.1,278.1l-3.4,-5.0M161.6,277.9l-1.7,-2.5M179.8,271.7L199.0,279.1M179.8,271.7l-0.9,-5.9M182.1,272.6l-0.9,-5.9M184.5,273.5l-0.9,-5.9M186.8,274.4l-0.9,-5.9M204.8,270.6L222.4,281.2M204.8,270.6l0.1,-6.0M207.0,271.9l0.1,-6.0M209.1,273.2l0.1,-6.0M211.2,274.5l0.1,-6.0M232.5,267.8L246.3,283.0M232.5,267.8l1.8,-5.7M234.2,269.7l1.8,-5.7M235.9,271.5l1.8,-5.7M237.5,273.4l1.8,-5.7M259.3,268.8L266.4,288.1M259.3,268.8l3.8,-4.6M260.2,271.2l3.8,-4.6M261.0,273.5l3.8,-4.6M261.9,275.9l3.8,-4.6M262.8,278.2l1.9,-2.3M286.4,267.4L288.3,287.8M314.6,267.6L311.7,287.9M314.6,267.6l5.6,-2.2M314.2,270.1l5.6,-2.2M313.9,272.5l5.6,-2.2M313.5,275.0l5.6,-2.2M313.2,277.5l2.8,-1.1M342.2,266.5L333.6,285.1M342.2,266.5l6.0,-0.5M341.2,268.8l6.0,-0.5M340.1,271.0l6.0,-0.5M368.0,268.0L357.8,285.8M368.0,268.0l6.0,-0.0M366.8,270.2l6.0,-0.0M365.6,272.4l6.0,-0.0M390.0,267.7L385.3,287.7M390.0,267.7l5.7,-1.7M389.4,270.1l5.7,-1.7M388.8,272.6l2.9,-0.9M405.5,286.9L417.7,270.5M405.5,286.9l-6.0,-0.7M407.0,284.9l-6.0,-0.7M427.1,286.1L440.6,270.7M427.1,286.1l-5.9,-1.2M428.7,284.2l-5.9,-1.2M430.4,282.3l-2.9,-0.6M451.5,284.9L467.0,271.5M451.5,284.9l-5.7,-2.0M453.4,283.2l-5.7,-2.0M455.3,281.6l-2.8,-1.0M474.5,272.2L492.9,281.3M474.5,272.2l-0.4,-6.0M476.7,273.3l-0.4,-6.0M479.0,274.5l-0.2,-3.0M500.2,271.5L515.9,284.7M500.2,271.5l1.1,-5.9M502.1,273.1l1.1,-5.9M504.0,274.7l0.5,-3.0M147.0,304.3L154.1,285.1M148.6,299.9l-5.9,1.0M167.8,290.2L186.6,298.4M167.8,290.2l-0.7,-6.0M170.1,291.2l-0.7,-6.0M172.4,292.2l-0.7,-6.0M174.7,293.2l-0.3,-3.0M194.0,288.8L210.6,300.9M194.0,288.8l0.6,-6.0M196.0,290.3l0.6,-6.0M198.0,291.8l0.6,-6.0M200.1,293.2l0.6,-6.0M220.5,288.1L233.9,303.6M220.5,288.1l2.0,-5.7M222.2,290.0l2.0,-5.7M223.8,291.9l2.0,-5.7M225.4,293.8l2.0,-5.7M247.6,286.4L256.6,304.9M247.6,286.4l3.3,-5.0M248.7,288.7l3.3,-5.0M249.8,290.9l3.3,-5.0M250.9,293.2l3.3,-5.0M252.0,295.4l1.7,-2.5M271.8,284.9L276.4,304.9M301.0,286.3L301.7,306.7M301.1,291.0l2.5,-1.6M325.9,283.9L320.6,303.7M325.9,283.9l5.8,-1.6M325.3,286.3l5.8,-1.6M324.6,288.8l5.8,-1.6M324.0,291.2l5.8,-1.6M354.9,287.8L341.0,302.8M354.9,287.8l5.8,1.3M353.2,289.6l5.8,1.3M351.5,291.5l5.8,1.3M380.1,288.9L364.7,302.4M380.1,288.9l5.7,1.9M378.2,290.5l5.7,1.9M376.4,292.2l5.7,1.9M407.8,297.5L387.5,294.8M407.8,297.5l2.3,5.6M405.3,297.2l2.3,5.6M420.1,306.6L424.0,286.4M420.1,306.6l-5.7,1.9M420.5,304.1l-5.7,1.9M421.0,301.7l-5.7,1.9M440.2,300.5L454.0,285.4M440.2,300.5l-5.9,-1.3M441.8,298.7l-5.9,-1.3M443.5,296.8l-2.9,-0.6M462.1,301.1L480.0,291.1M462.1,301.1l-5.2,-3.1M464.3,299.8l-5.2,-3.1M466.5,298.6l-2.6,-1.5M487.3,288.1L504.3,299.5M487.3,288.1l0.4,-6.0M489.4,289.5l0.4,-6.0M491.5,290.9l0.4,-6.0M139.6,322.5L142.3,302.2M140.3,317.9l-5.5,2.3M140.6,315.4l-5.5,2.3M140.9,312.9l-5.5,2.3M141.2,310.4l-5.5,2.3M141.6,308.0l-2.8,1.1M154.1,311.7L174.4,314.1M154.1,311.7l-2.4,-5.5M156.6,312.0l-2.4,-5.5M159.1,312.3l-1.2,-2.8M179.9,308.4L196.7,320.2M179.9,308.4l0.5,-6.0M181.9,309.8l0.5,-6.0M184.0,311.3l0.5,-6.0M204.5,304.5L218.0,319.9M204.5,304.5l1.9,-5.7M206.1,306.4l1.9,-5.7M207.8,308.3l1.9,-5.7M209.4,310.2l1.9,-5.7M232.6,304.5L242.6,322.4M232.6,304.5l3.1,-5.2M233.8,306.7l3.1,-5.2M235.0,308.9l3.1,-5.2M236.3,311.0l3.1,-5.2M260.2,301.0L266.6,320.5M283.5,301.6L287.7,321.7M284.5,306.2l2.2,-2.0M310.8,303.5L311.7,324.0M311.0,308.2l2.5,-1.6M340.9,304.7L334.3,324.1M340.9,304.7l5.9,-1.2M340.1,307.1l5.9,-1.2M339.3,309.4l5.9,-1.2M338.5,311.8l5.9,-1.2M368.7,305.7L353.1,319.1M368.7,305.7l5.7,2.0M366.8,307.3l5.7,2.0M364.9,309.0l5.7,2.0M363.0,310.6l2.8,1.0M394.7,312.8L374.4,315.8M394.7,312.8l3.7,4.7M392.2,313.2l3.7,4.7M389.8,313.5l3.7,4.7M415.6,324.2L409.0,304.8M415.6,324.2l-3.9,4.5M414.8,321.9l-3.9,4.5M414.0,319.5l-3.9,4.5M413.2,317.1l-2.0,2.3M436.5,324.5L436.2,304.0M436.5,324.5l-5.1,3.1M436.5,322.0l-5.1,3.1M436.4,319.5l-5.1,3.1M453.7,321.8L467.0,306.3M453.7,321.8l-5.9,-1.1M455.3,319.9l-5.9,-1.1M457.0,318.0l-2.9,-0.5M474.0,315.6L494.2,311.9M474.0,315.6l-3.9,-4.6M476.5,315.1l-3.9,-4.6M478.9,314.7l-1.9,-2.3M500.3,314.3L520.7,312.0M500.3,314.3l-3.6,-4.8M502.8,314.0l-3.6,-4.8M505.3,313.8l-3.6,-4.8M507.8,313.5l-1.8,-2.4M149.9,341.2L155.5,321.4M151.2,336.6l-2.9,0.7M166.1,323.8L184.0,333.8M166.1,323.8l-0.1,-6.0M168.3,325.0l-0.1,-6.0M170.5,326.3l-0.1,-3.0M192.9,322.0L207.2,336.7M192.9,322.0l1.6,-5.8M194.7,323.8l1.6,-5.8M196.4,325.6l1.6,-5.8M221.8,322.0L232.4,339.5M221.8,322.0l2.9,-5.3M223.1,324.1l2.9,-5.3M224.4,326.2l2.9,-5.3M225.6,328.4l2.9,-5.3M247.2,322.8L254.9,341.8M247.2,322.8l3.7,-4.7M248.2,325.1l3.7,-4.7M249.1,327.4l3.7,-4.7M250.0,329.7l3.7,-4.7M251.0,332.1l1.8,-2.4M272.8,322.3L279.2,341.8M274.3,326.8l2.0,-2.2M297.7,321.6L301.8,341.7M298.7,326.2l4.5,-4.0M299.2,328.6l2.2,-2.0M327.0,320.1L325.2,340.6M355.2,323.8L344.3,341.1M352.7,327.7l3.0,0.1M382.5,326.2L362.7,331.6M378.0,327.4l4.3,4.2M375.6,328.1l2.1,2.1M405.9,339.0L390.7,325.3M402.4,335.9l-0.6,2.9M426.6,339.1L419.7,319.8M426.6,339.1l-3.9,4.6M425.7,336.7l-3.9,4.6M424.9,334.4l-3.9,4.6M424.1,332.0l-3.9,4.6M450.5,340.7L448.9,320.3M450.5,340.7l-4.9,3.4M450.3,338.2l-4.9,3.4M450.1,335.7l-4.9,3.4M449.9,333.2l-2.5,1.7M464.9,336.1L479.5,321.7M464.9,336.1l-5.8,-1.6M466.7,334.3l-5.8,-1.6M468.5,332.6l-5.8,-1.6M486.9,334.8L506.9,330.2M486.9,334.8l-4.1,-4.4M489.3,334.3l-4.1,-4.4M491.8,333.7l-4.1,-4.4M494.2,333.1l-2.1,-2.2M137.1,359.7L140.4,339.5M137.8,355.1l-5.6,2.1M138.2,352.6l-5.6,2.1M138.6,350.2l-5.6,2.1M139.1,347.7l-5.6,2.1M139.5,345.2l-2.8,1.1M155.2,345.2L175.6,347.8M155.2,345.2l-2.3,-5.5M157.7,345.5l-2.3,-5.5M160.2,345.8l-1.2,-2.8M181.3,340.5L197.0,353.7M181.3,340.5l1.1,-5.9M183.3,342.1l1.1,-5.9M185.2,343.7l0.5,-3.0M206.9,341.8L219.4,358.0M206.9,341.8l2.3,-5.5M208.4,343.8l2.3,-5.5M209.9,345.8l2.3,-5.5M232.3,340.4L242.1,358.4M232.3,340.4l3.1,-5.1M233.5,342.6l3.1,-5.1M234.7,344.8l3.1,-5.1M235.9,347.0l3.1,-5.1M237.1,349.2l1.6,-2.6M257.2,339.6L266.1,358.1M284.6,339.0L291.7,358.3M286.2,343.5l3.8,-4.6M287.1,345.8l1.9,-2.3M309.0,339.5L313.4,359.5M310.0,344.0l4.4,-4.1M310.5,346.5l4.4,-4.1M336.5,337.7L333.8,358.0M335.9,342.3l5.6,-2.3M368.8,340.4L356.1,356.6M365.9,344.1l5.9,0.8M392.4,355.5L376.3,342.9M392.4,355.5l-0.8,5.9M390.5,354.0l-0.8,5.9M388.5,352.4l-0.8,5.9M386.5,350.9l-0.8,5.9M384.6,349.4l-0.4,3.0M416.4,356.6L408.3,337.8M414.6,352.3l-1.8,2.4M437.5,356.8L436.6,336.3M437.5,356.8l-5.1,3.2M437.4,354.3l-5.1,3.2M437.3,351.8l-5.1,3.2M437.2,349.3l-5.1,3.2M458.2,358.5L465.6,339.4M458.2,358.5l-5.9,0.9M459.1,356.2l-5.9,0.9M460.0,353.8l-5.9,0.9M460.9,351.5l-5.9,0.9M475.7,353.4L491.9,340.9M475.7,353.4l-5.6,-2.3M477.7,351.9l-5.6,-2.3M479.7,350.4l-5.6,-2.3M481.7,348.8l-2.8,-1.1M499.3,350.6L519.2,345.8M499.3,350.6l-4.1,-4.4M501.7,350.0l-4.1,-4.4M504.1,349.4l-4.1,-4.4M506.6,348.9l-4.1,-4.4M147.9,376.1L154.9,356.8M165.8,359.8L183.0,370.9M165.8,359.8l0.3,-6.0M167.9,361.2l0.3,-6.0M170.0,362.5l0.1,-3.0M192.2,360.3L206.5,375.1M192.2,360.3l1.7,-5.8M193.9,362.1l1.7,-5.8M195.7,363.9l1.7,-5.8M218.2,358.7L229.9,375.5M218.2,358.7l2.5,-5.4M219.6,360.7l2.5,-5.4M221.0,362.8l2.5,-5.4M222.5,364.8l1.3,-2.7M243.1,358.3L253.9,375.7M243.1,358.3l2.8,-5.3M244.4,360.4l2.8,-5.3M245.7,362.6l2.8,-5.3M247.0,364.7l2.8,-5.3M248.4,366.8l1.4,-2.6M269.5,357.5L279.6,375.3M271.9,361.6l1.5,-2.6M297.2,356.0L303.9,375.3M298.7,360.4l3.9,-4.5M299.5,362.8l3.9,-4.5M321.6,358.4L328.5,377.7M323.2,362.8l3.9,-4.6M324.0,365.2l3.9,-4.6M324.8,367.5l1.9,-2.3M349.2,356.6L350.6,377.0M349.5,361.3l5.0,-3.4M349.7,363.8l5.0,-3.4M349.9,366.2l5.0,-3.4M365.6,373.1L383.3,362.8M365.6,373.1l-5.2,-3.0M394.5,378.4L398.4,358.3M395.4,373.8l-2.8,1.0M421.1,378.1L424.7,357.9M421.9,373.4l-2.8,1.0M442.0,375.0L450.0,356.1M467.2,375.3L478.2,358.0M467.2,375.3l-6.0,-0.3M468.5,373.2l-6.0,-0.3M469.8,371.1l-6.0,-0.3M471.2,369.0l-6.0,-0.3M490.3,371.3L507.5,360.1M490.3,371.3l-5.4,-2.7M492.4,369.9l-5.4,-2.7M494.5,368.5l-5.4,-2.7M496.6,367.2l-5.4,-2.7M134.6,394.5L141.3,375.2M136.1,390.1l-5.9,1.1M136.9,387.7l-5.9,1.1M137.8,385.4l-2.9,0.6M152.2,384.4L172.5,387.5M152.2,384.4l-2.2,-5.6M154.7,384.8l-2.2,-5.6M157.2,385.2l-1.1,-2.8M179.2,376.1L195.5,388.5M179.2,376.1l0.7,-6.0M181.1,377.6l0.7,-6.0M183.1,379.1l0.7,-6.0M206.5,375.8L220.7,390.6M206.5,375.8l1.7,-5.8M208.2,377.6l1.7,-5.8M210.0,379.4l1.7,-5.8M233.1,374.6L245.8,390.8M233.1,374.6l2.2,-5.6M234.7,376.6l2.2,-5.6M236.2,378.6l2.2,-5.6M237.8,380.6l2.2,-5.6M256.4,376.5L268.6,392.9M282.3,373.5L292.0,391.6M284.6,377.7l3.2,-5.1M285.7,379.9l1.6,-2.6M307.4,373.7L316.6,392.0M309.5,377.9l3.3,-5.0M310.6,380.1l3.3,-5.0M311.7,382.3l1.6,-2.5M329.1,377.4L340.4,394.5M331.7,381.3l2.7,-5.4M333.1,383.4l2.7,-5.4M334.5,385.5l2.7,-5.4M335.8,387.6l1.3,-2.7M354.3,374.3L366.4,390.8M357.0,378.1l2.4,-5.5M358.5,380.1l2.4,-5.5M360.0,382.1l1.2,-2.7M374.7,389.9L393.4,381.6M379.0,388.0l-4.9,-3.5M406.2,393.6L418.1,376.9M408.9,389.8l-6.0,-0.6M410.4,387.8l-6.0,-0.6M430.5,391.7L442.7,375.2M433.3,387.9l-3.0,-0.3M453.5,392.8L467.4,377.7M476.2,392.1L491.4,378.4M476.2,392.1l-5.7,-1.9M478.0,390.4l-5.7,-1.9M479.9,388.7l-5.7,-1.9M481.7,387.1l-5.7,-1.9M483.6,385.4l-2.8,-0.9M500.7,386.8L520.6,381.9M500.7,386.8l-4.2,-4.3M503.2,386.2l-4.2,-4.3M505.6,385.6l-4.2,-4.3M508.0,385.0l-4.2,-4.3M510.4,384.4l-2.1,-2.2M147.1,409.4L156.7,391.3M147.1,409.4l-6.0,0.2M148.3,407.1l-6.0,0.2M149.5,404.9l-6.0,0.2M150.6,402.7l-6.0,0.2M166.1,397.6L185.1,405.3M166.1,397.6l-0.8,-5.9M168.4,398.6l-0.8,-5.9M170.7,399.5l-0.4,-3.0M191.8,398.0L208.6,409.8M191.8,398.0l0.6,-6.0M193.9,399.4l0.6,-6.0M195.9,400.9l0.6,-6.0M197.9,402.3l0.3,-3.0M219.7,393.4L234.7,407.4M219.7,393.4l1.4,-5.8M221.6,395.1l1.4,-5.8M223.4,396.8l1.4,-5.8M225.2,398.6l0.7,-2.9M243.5,393.5L257.5,408.5M243.5,393.5l1.8,-5.7M245.2,395.3l1.8,-5.7M246.9,397.1l1.8,-5.7M248.6,399.0l1.8,-5.7M268.5,396.6L282.4,411.6M271.7,400.0l0.9,-2.9M291.9,393.6L304.4,409.9M294.7,397.3l2.3,-5.5M296.3,399.3l2.3,-5.5M316.1,396.1L331.2,410.0M319.5,399.3l1.3,-5.9M321.4,401.0l1.3,-5.9M323.2,402.7l1.3,-5.9M341.8,394.5L358.6,406.2M345.6,397.2l0.5,-6.0M347.7,398.6l0.5,-6.0M349.8,400.1l0.5,-6.0M351.8,401.5l0.5,-6.0M353.9,402.9l0.3,-3.0M362.5,399.2L382.4,404.2M367.1,400.3l-1.6,-5.8M369.5,400.9l-1.6,-5.8M371.9,401.6l-1.6,-5.8M374.4,402.2l-1.6,-5.8M376.8,402.8l-0.8,-2.9M391.0,407.8L409.4,398.7M395.2,405.7l-5.0,-3.3M397.5,404.6l-5.0,-3.3M399.7,403.5l-5.0,-3.3M401.9,402.4l-2.5,-1.7M414.6,409.1L432.5,399.0M418.7,406.8l-5.2,-3.1M420.9,405.6l-2.6,-1.5M439.0,409.3L455.7,397.5M463.3,407.5L479.6,395.0M490.2,409.1L507.4,397.9M494.2,406.5l-2.7,-1.4M136.1,428.4L142.9,409.1M137.6,424.0l-5.9,1.1M138.5,421.6l-5.9,1.1M152.8,420.8L173.2,422.8M152.8,420.8l-2.5,-5.5M155.2,421.1l-2.5,-5.5M157.7,421.3l-1.2,-2.7M178.7,414.4L197.7,422.1M178.7,414.4l-0.8,-5.9M181.0,415.4l-0.8,-5.9M183.4,416.3l-0.4,-3.0M203.7,414.5L220.4,426.4M203.7,414.5l0.6,-6.0M205.7,416.0l0.6,-6.0M207.8,417.4l0.6,-6.0M209.8,418.9l0.3,-3.0M231.5,413.2L247.0,426.7M231.5,413.2l1.2,-5.9M233.4,414.8l1.2,-5.9M235.3,416.5l1.2,-5.9M237.2,418.1l1.2,-5.9M253.6,414.8L269.4,427.8M253.6,414.8l1.0,-5.9M255.5,416.3l1.0,-5.9M257.4,417.9l1.0,-5.9M259.4,419.5l1.0,-5.9M278.6,412.6L294.3,425.7M282.2,415.6l1.0,-5.9M304.0,414.1L320.5,426.3M307.7,416.9l0.7,-6.0M309.8,418.4l0.7,-6.0M311.8,419.8l0.3,-3.0M328.9,415.3L347.2,424.6M333.1,417.4l-0.3,-6.0M335.3,418.5l-0.3,-6.0M337.6,419.7l-0.3,-6.0M339.8,420.8l-0.2,-3.0M352.3,416.3L371.5,423.5M356.7,418.0l-1.0,-5.9M359.0,418.9l-1.0,-5.9M361.4,419.7l-1.0,-5.9M363.7,420.6l-1.0,-5.9M366.0,421.5l-0.5,-3.0M376.5,421.6L397.0,421.8M381.2,421.6l-2.9,-5.2M383.7,421.7l-2.9,-5.2M386.2,421.7l-2.9,-5.2M388.7,421.7l-2.9,-5.2M391.2,421.8l-1.5,-2.6M399.0,423.4L419.2,420.0M403.6,422.6l-3.8,-4.6M406.1,422.2l-3.8,-4.6M408.5,421.8l-3.8,-4.6M427.3,422.7L446.7,416.4M431.7,421.3l-4.5,-4.0M434.1,420.5l-2.2,-2.0M448.9,424.5L467.3,415.4M453.1,422.4l-5.0,-3.3M476.5,423.8L494.5,414.0M480.6,421.6l-5.1,-3.1M498.9,423.8L517.6,415.3M503.2,421.8l-2.4,-1.7M144.4,444.0L161.5,432.8M144.4,444.0l-5.4,-2.7M146.5,442.7l-5.4,-2.7M148.6,441.3l-5.4,-2.7M166.9,435.8L186.8,440.9M166.9,435.8l-1.6,-5.8M169.3,436.4l-1.6,-5.8M171.8,437.0l-0.8,-2.9M192.7,432.3L210.2,443.2M192.7,432.3l0.2,-6.0M194.9,433.7l0.2,-6.0M197.0,435.0l0.1,-3.0M217.1,430.4L233.8,442.4M217.1,430.4l0.6,-6.0M219.2,431.9l0.6,-6.0M221.2,433.4l0.6,-6.0M243.7,430.8L260.5,442.6M243.7,430.8l0.5,-6.0M245.8,432.2l0.5,-6.0M247.8,433.7l0.5,-6.0M249.9,435.1l0.5,-6.0M267.5,433.0L284.8,444.1M267.5,433.0l0.3,-6.0M269.6,434.4l0.3,-6.0M271.7,435.7l0.3,-6.0M273.8,437.1l0.3,-6.0M292.0,432.4L309.1,443.8M315.5,432.3L333.4,442.4M319.6,434.6l-0.1,-6.0M321.8,435.9l-0.1,-6.0M337.6,435.2L356.9,441.9M342.0,436.7l-1.1,-5.9M344.4,437.5l-1.1,-5.9M346.7,438.3l-0.6,-2.9M364.0,435.7L384.2,438.9M368.6,436.5l-2.2,-5.6M371.1,436.9l-2.2,-5.6M373.6,437.2l-2.2,-5.6M389.8,439.4L410.3,440.0M394.5,439.6l-2.8,-5.3M397.0,439.6l-2.8,-5.3M399.5,439.7l-2.8,-5.3M412.3,439.1L432.7,436.6M417.0,438.5l-3.6,-4.8M419.5,438.2l-3.6,-4.8M422.0,437.9l-1.8,-2.4M436.5,440.6L456.7,437.2M441.1,439.8l-3.8,-4.6M443.6,439.4l-3.8,-4.6M461.5,440.4L481.0,434.2M465.9,438.9l-4.4,-4.1M468.3,438.2l-2.2,-2.0M489.6,440.7L508.4,432.5M493.9,438.8l-4.8,-3.6M135.8,465.2L145.4,447.1M152.5,454.9L172.5,459.4M152.5,454.9l-1.8,-5.7M154.9,455.5l-1.8,-5.7M157.4,456.0l-0.9,-2.9M179.9,451.9L197.6,462.2M179.9,451.9l0.0,-6.0M182.0,453.1l0.0,-6.0M184.2,454.4l0.0,-3.0M204.1,449.4L221.1,460.9M204.1,449.4l0.4,-6.0M206.2,450.8l0.4,-6.0M208.3,452.2l0.2,-3.0M227.7,448.7L244.7,460.1M227.7,448.7l0.4,-6.0M229.8,450.1l0.4,-6.0M231.9,451.5l0.4,-6.0M253.7,450.3L271.4,460.7M253.7,450.3l0.1,-6.0M255.9,451.5l0.1,-6.0M258.1,452.8l0.1,-6.0M260.2,454.1l0.1,-6.0M276.7,449.2L294.1,460.1M276.7,449.2l0.2,-6.0M278.9,450.6l0.2,-6.0M281.0,451.9l0.2,-6.0M283.1,453.2l0.2,-6.0M303.0,449.0L320.7,459.2M303.0,449.0l-0.0,-6.0M305.1,450.2l-0.0,-6.0M307.3,451.5l-0.0,-6.0M309.5,452.7l-0.0,-6.0M311.6,454.0l-0.0,-3.0M325.1,452.7L344.2,460.4M349.8,452.9L369.6,458.2M354.3,454.1l-1.6,-5.8M356.7,454.8l-0.8,-2.9M377.5,453.3L397.9,455.3M382.2,453.7l-2.5,-5.5M384.7,454.0l-1.2,-2.7M400.0,454.8L420.5,454.5M404.7,454.8l-3.1,-5.2M407.2,454.7l-1.5,-2.6M426.4,456.9L446.8,455.1M431.0,456.5l-3.4,-4.9M448.4,458.8L468.5,455.0M453.0,458.0l-3.9,-4.6M476.6,459.8L496.3,454.3M498.4,460.3L518.3,455.4M498.4,460.3l-4.2,-4.3M500.9,459.7l-4.2,-4.3M503.3,459.1l-4.2,-4.3M505.7,458.5l-4.2,-4.3M508.1,457.9l-2.1,-2.2M142.0,475.0L162.2,471.6M142.0,475.0l-3.8,-4.6M144.4,474.6l-3.8,-4.6M146.9,474.2l-1.9,-2.3M165.3,469.1L183.5,478.7M165.3,469.1l-0.2,-6.0M167.6,470.3l-0.2,-6.0M169.8,471.5l-0.1,-3.0M190.5,466.7L207.6,477.9M190.5,466.7l0.3,-6.0M192.6,468.1l0.3,-6.0M194.7,469.4l0.2,-3.0M217.6,469.0L234.5,480.6M217.6,469.0l0.5,-6.0M219.7,470.4l0.5,-6.0M221.7,471.8l0.2,-3.0M241.8,468.4L259.4,478.8M241.8,468.4l0.1,-6.0M244.0,469.6l0.1,-6.0M246.1,470.9l0.0,-3.0M267.2,470.4L285.2,480.1M267.2,470.4l-0.2,-6.0M269.4,471.6l-0.2,-6.0M271.6,472.8l-0.2,-6.0M288.7,469.8L306.7,479.7M288.7,469.8l-0.1,-6.0M290.9,471.0l-0.1,-6.0M293.1,472.2l-0.1,-6.0M295.3,473.4l-0.1,-6.0M316.0,470.3L334.9,478.2M316.0,470.3l-0.8,-6.0M318.3,471.2l-0.8,-6.0M320.6,472.2l-0.8,-6.0M322.9,473.2l-0.8,-6.0M325.3,474.1l-0.4,-3.0M338.9,471.9L358.5,477.9M338.9,471.9l-1.3,-5.9M341.3,472.6l-1.3,-5.9M343.6,473.3l-1.3,-5.9M346.0,474.1l-1.3,-5.9M348.4,474.8l-0.7,-2.9M361.7,473.3L381.8,477.5M361.7,473.3l-1.9,-5.7M364.2,473.8l-1.9,-5.7M366.6,474.3l-1.9,-5.7M369.1,474.9l-1.9,-5.7M371.5,475.4l-0.9,-2.8M388.3,473.5L408.7,474.7M413.5,474.2L433.9,473.1M436.8,474.1L457.1,471.5M461.1,473.9L481.1,469.8M488.5,477.6L508.6,473.8M488.5,477.6l-3.9,-4.5M491.0,477.1l-3.9,-4.5M493.4,476.7l-3.9,-4.5M495.9,476.2l-3.9,-4.5M498.3,475.7l-2.0,-2.3M132.1,497.7L147.4,484.1M132.1,497.7l-5.7,-1.9M133.9,496.0l-5.7,-1.9M135.8,494.4l-5.7,-1.9M137.7,492.7l-5.7,-1.9M154.1,488.5L172.5,497.4M154.1,488.5l-0.4,-6.0M156.3,489.6l-0.4,-6.0M158.6,490.7l-0.2,-3.0M179.6,485.9L197.0,496.7M179.6,485.9l0.2,-6.0M181.7,487.2l0.2,-6.0M183.9,488.5l0.1,-3.0M206.0,484.7L222.5,496.9M206.0,484.7l0.7,-6.0M208.0,486.2l0.7,-6.0M210.0,487.7l0.3,-3.0M227.6,485.7L244.8,496.9M227.6,485.7l0.3,-6.0M229.7,487.1l0.3,-6.0M231.8,488.4l0.2,-3.0M254.4,490.3L273.7,497.1M254.4,490.3l-1.1,-5.9M256.7,491.1l-1.1,-5.9M259.1,491.9l-0.5,-2.9M276.6,488.9L295.6,496.7M276.6,488.9l-0.8,-5.9M278.9,489.9l-0.8,-5.9M281.2,490.8l-0.8,-5.9M300.9,488.3L319.7,496.4M300.9,488.3l-0.7,-6.0M303.2,489.3l-0.7,-6.0M305.5,490.3l-0.7,-6.0M307.8,491.3l-0.4,-3.0M325.3,487.4L344.8,493.8M325.3,487.4l-1.2,-5.9M327.7,488.1l-1.2,-5.9M330.1,488.9l-1.2,-5.9M332.5,489.7l-1.2,-5.9M352.5,487.8L372.4,492.5M352.5,487.8l-1.7,-5.7M354.9,488.4l-1.7,-5.7M357.3,488.9l-1.7,-5.7M359.7,489.5l-1.7,-5.7M362.2,490.1l-0.9,-2.9M375.9,489.9L396.2,492.3M375.9,489.9l-2.4,-5.5M378.4,490.2l-2.4,-5.5M380.9,490.4l-2.4,-5.5M383.3,490.7l-2.4,-5.5M385.8,491.0l-1.2,-2.8M402.4,492.8L422.9,492.7M402.4,492.8l-3.0,-5.2M404.9,492.8l-3.0,-5.2M407.4,492.8l-3.0,-5.2M409.9,492.8l-3.0,-5.2M412.4,492.8l-1.5,-2.6M424.4,495.1L444.7,492.2M424.4,495.1l-3.7,-4.7M426.9,494.7l-3.7,-4.7M429.3,494.4l-3.7,-4.7M431.8,494.0l-3.7,-4.7M434.3,493.7l-1.9,-2.4M450.5,492.0L470.8,488.6M450.5,492.0l-3.8,-4.6M453.0,491.6l-3.8,-4.6M455.5,491.2l-3.8,-4.6M457.9,490.8l-3.8,-4.6M460.4,490.4l-1.9,-2.3M473.7,493.8L494.2,492.1M473.7,493.8l-3.4,-4.9M476.2,493.6l-3.4,-4.9M478.7,493.4l-3.4,-4.9M481.2,493.2l-3.4,-4.9M501.2,491.6L521.4,488.1M501.2,491.6l-3.8,-4.6M503.7,491.1l-3.8,-4.6M506.2,490.7l-3.8,-4.6M508.6,490.3l-3.8,-4.6M142.1,504.7L161.2,512.1M142.1,504.7l-0.9,-5.9M144.4,505.6l-0.9,-5.9M146.7,506.5l-0.5,-3.0M168.0,502.5L185.7,512.8M168.0,502.5l0.0,-6.0M170.2,503.7l0.0,-6.0M172.3,505.0l0.0,-3.0M193.6,503.4L209.8,516.1M193.6,503.4l0.8,-5.9M195.6,505.0l0.8,-5.9M197.6,506.5l0.4,-3.0M217.3,504.1L234.7,515.0M217.3,504.1l0.2,-6.0M219.4,505.4l0.2,-6.0M221.6,506.7l0.1,-3.0M241.0,507.9L260.7,513.9M241.0,507.9l-1.4,-5.8M243.4,508.7l-1.4,-5.8M245.8,509.4l-0.7,-2.9M263.3,506.3L283.0,511.6M263.3,506.3l-1.5,-5.8M265.7,506.9l-1.5,-5.8M268.1,507.6l-0.8,-2.9M289.0,505.2L307.7,513.7M289.0,505.2l-0.6,-6.0M291.3,506.2l-0.6,-6.0M293.6,507.2l-0.6,-6.0M315.0,506.0L334.4,512.5M315.0,506.0l-1.2,-5.9M317.3,506.8l-1.2,-5.9M319.7,507.5l-1.2,-5.9M340.1,505.2L360.0,510.1M340.1,505.2l-1.7,-5.8M342.6,505.8l-1.7,-5.8M345.0,506.4l-1.7,-5.8M347.4,507.0l-0.8,-2.9M362.2,506.7L382.4,509.6M362.2,506.7l-2.2,-5.6M364.6,507.0l-2.2,-5.6M367.1,507.4l-2.2,-5.6M369.6,507.7l-1.1,-2.8M386.5,509.3L406.9,510.7M386.5,509.3l-2.6,-5.4M389.0,509.5l-2.6,-5.4M391.5,509.7l-2.6,-5.4M394.0,509.8l-2.6,-5.4M413.6,509.9L434.0,508.2M413.6,509.9l-3.4,-4.9M416.1,509.7l-3.4,-4.9M418.6,509.5l-3.4,-4.9M421.1,509.3l-3.4,-4.9M438.5,510.8L458.7,507.3M438.5,510.8l-3.9,-4.6M440.9,510.4l-3.9,-4.6M443.4,510.0l-3.9,-4.6M445.9,509.5l-1.9,-2.3M462.6,508.4L483.0,507.1M462.6,508.4l-3.3,-5.0M465.1,508.3l-3.3,-5.0M467.6,508.1l-3.3,-5.0M470.1,507.9l-1.7,-2.5M486.3,508.1L506.8,507.6M486.3,508.1l-3.1,-5.1M488.8,508.0l-3.1,-5.1M491.3,507.9l-3.1,-5.1M129.8,528.4L150.3,527.9M129.8,528.4l-3.1,-5.1M132.3,528.4l-3.1,-5.1M134.8,528.3l-3.1,-5.1M156.4,523.6L173.8,534.4M156.4,523.6l0.2,-6.0M158.5,524.9l0.2,-6.0M160.7,526.2l0.2,-6.0M180.7,519.6L196.5,532.6M180.7,519.6l1.0,-5.9M182.6,521.2l1.0,-5.9M184.5,522.7l0.5,-3.0M203.2,523.4L221.4,532.7M203.2,523.4l-0.3,-6.0M205.4,524.5l-0.3,-6.0M207.6,525.7l-0.2,-3.0M228.7,525.6L248.4,531.0M228.7,525.6l-1.5,-5.8M231.1,526.3l-1.5,-5.8M233.5,526.9l-0.8,-2.9M251.0,523.4L270.8,528.6M251.0,523.4l-1.6,-5.8M253.4,524.0l-1.6,-5.8M255.8,524.6l-0.8,-2.9M278.3,522.7L297.9,529.0M278.3,522.7l-1.3,-5.9M280.7,523.4l-1.3,-5.9M283.1,524.2l-1.3,-5.9M302.3,523.7L321.5,530.8M302.3,523.7l-1.0,-5.9M304.7,524.5l-1.0,-5.9M307.0,525.4l-1.0,-5.9M327.9,523.7L347.9,528.0M327.9,523.7l-1.9,-5.7M330.3,524.2l-1.9,-5.7M332.7,524.8l-1.9,-5.7M352.0,526.1L372.5,527.6M352.0,526.1l-2.6,-5.4M354.5,526.3l-2.6,-5.4M357.0,526.5l-2.6,-5.4M359.5,526.6l-1.3,-2.7M376.5,525.6L397.0,526.7M376.5,525.6l-2.7,-5.3M379.0,525.8l-2.7,-5.3M381.5,525.9l-2.7,-5.3M384.0,526.0l-1.4,-2.7M400.9,528.1L421.4,528.9M400.9,528.1l-2.8,-5.3M403.4,528.2l-2.8,-5.3M405.9,528.3l-2.8,-5.3M408.4,528.4l-1.4,-2.7M426.0,529.5L446.4,527.6M426.0,529.5l-3.5,-4.9M428.5,529.3l-3.5,-4.9M430.9,529.1l-3.5,-4.9M450.3,527.7L470.8,527.5M450.3,527.7l-3.0,-5.2M452.8,527.6l-3.0,-5.2M455.3,527.6l-3.0,-5.2M475.2,525.9L495.7,526.0M475.2,525.9l-3.0,-5.2M477.7,525.9l-3.0,-5.2M480.2,525.9l-3.0,-5.2M500.0,525.2L520.4,527.0M500.0,525.2l-2.6,-5.4M502.4,525.4l-2.6,-5.4M504.9,525.7l-2.6,-5.4M507.4,525.9l-1.3,-2.7M143.2,538.9L159.2,551.7M143.2,538.9l0.9,-5.9M145.2,540.4l0.9,-5.9M147.1,542.0l0.9,-5.9M166.5,537.9L182.5,550.6M166.5,537.9l0.9,-5.9M168.4,539.5l0.9,-5.9M170.4,541.0l0.9,-5.9M192.3,541.8L211.0,550.1M192.3,541.8l-0.6,-6.0M194.6,542.8l-0.6,-6.0M196.9,543.8l-0.6,-6.0M215.7,542.9L235.1,549.4M215.7,542.9l-1.2,-5.9M218.0,543.7l-1.2,-5.9M220.4,544.5l-1.2,-5.9M240.0,541.9L259.4,548.7M240.0,541.9l-1.1,-5.9M242.4,542.7l-1.1,-5.9M244.8,543.6l-0.6,-2.9M264.9,543.0L284.2,549.8M264.9,543.0l-1.1,-5.9M267.2,543.8l-1.1,-5.9M269.6,544.7l-0.5,-2.9M288.4,542.7L307.3,550.6M288.4,542.7l-0.8,-6.0M290.7,543.7l-0.8,-6.0M293.0,544.6l-0.4,-3.0M312.2,543.1L332.4,546.3M312.2,543.1l-2.1,-5.6M314.6,543.5l-2.1,-5.6M317.1,543.9l-1.1,-2.8M340.6,543.7L361.1,545.0M340.6,543.7l-2.7,-5.4M343.1,543.8l-2.7,-5.4M345.6,544.0l-2.7,-5.4M362.9,543.4L383.3,544.7M362.9,543.4l-2.7,-5.4M365.4,543.6l-2.7,-5.4M367.9,543.7l-2.7,-5.4M389.5,543.5L409.9,544.8M389.5,543.5l-2.7,-5.4M392.0,543.6l-2.7,-5.4M394.5,543.8l-2.7,-5.4M412.4,544.2L432.9,545.3M412.4,544.2l-2.7,-5.3M414.9,544.4l-2.7,-5.3M417.4,544.5l-2.7,-5.3M436.4,545.2L456.8,546.1M436.4,545.2l-2.8,-5.3M438.9,545.3l-2.8,-5.3M441.4,545.4l-1.4,-2.7M461.7,546.7L482.1,547.6M461.7,546.7l-2.8,-5.3M464.1,546.8l-2.8,-5.3M466.6,546.9l-1.4,-2.7M486.7,546.2L507.2,546.3M486.7,546.2l-3.0,-5.2M489.2,546.2l-3.0,-5.2M491.7,546.3l-1.5,-2.6" fill="none" stroke="#222" stroke-width="0.55"/><path d="M130.8,172.0L130.1,166.9L133.5,171.3ZM178.9,171.4L178.1,166.2L181.6,170.7ZM204.3,170.6L203.6,165.4L207.1,169.9ZM229.3,172.0L228.6,166.9L232.0,171.4ZM253.9,170.4L253.9,165.2L256.7,170.2ZM276.7,171.1L277.0,165.9L279.5,171.0ZM304.0,165.9L306.1,161.1L306.7,166.8ZM142.9,187.8L143.3,182.6L145.7,187.8ZM164.9,188.7L165.6,183.6L167.7,188.8ZM190.5,189.0L190.6,183.7L193.3,188.7ZM215.7,189.6L214.4,184.5L218.3,188.7ZM241.0,190.9L240.2,185.8L243.7,190.3ZM263.4,188.0L263.5,182.8L266.2,187.8ZM289.1,183.5L290.9,178.6L291.8,184.2ZM313.3,186.2L315.4,181.4L316.0,187.0ZM340.7,183.9L342.7,179.1L343.4,184.8ZM133.7,212.4L130.2,208.6L135.6,210.4ZM152.7,205.8L153.6,200.7L155.5,206.0ZM176.6,204.3L177.4,199.2L179.4,204.5ZM204.5,208.4L204.2,203.1L207.2,208.0ZM226.8,206.1L226.0,200.9L229.5,205.4ZM253.4,206.2L253.7,200.9L256.2,206.1ZM142.4,226.7L141.1,221.7L145.0,225.7ZM165.8,223.2L166.5,218.0L168.6,223.3ZM192.2,223.3L192.9,218.1L195.0,223.3ZM213.6,221.8L214.1,216.6L216.4,221.8ZM240.8,221.0L242.1,215.9L243.6,221.4ZM137.4,251.4L132.5,249.6L138.1,248.7ZM153.6,241.4L154.2,236.2L156.4,241.5ZM178.2,238.3L179.3,233.2L180.9,238.7ZM146.5,267.7L142.8,264.0L148.3,265.5ZM136.8,285.5L131.7,284.1L137.3,282.8ZM286.4,267.4L291.6,267.4L286.6,270.2ZM147.0,304.3L142.3,302.1L148.0,301.7ZM271.8,284.9L277.0,284.3L272.5,287.7ZM301.0,286.3L306.2,286.6L301.1,289.1ZM139.6,322.5L134.6,321.4L140.0,319.8ZM260.2,301.0L265.3,299.8L261.1,303.6ZM283.5,301.6L288.7,301.0L284.1,304.4ZM310.8,303.5L316.0,303.8L310.9,306.3ZM149.9,341.2L145.0,339.3L150.7,338.5ZM272.8,322.3L277.9,321.2L273.7,325.0ZM297.7,321.6L302.9,321.0L298.3,324.3ZM327.0,320.1L332.1,321.1L326.7,322.9ZM355.2,323.8L359.4,327.0L353.7,326.1ZM382.5,326.2L383.4,331.3L379.8,326.9ZM405.9,339.0L402.0,342.6L403.8,337.2ZM137.1,359.7L132.0,358.4L137.5,357.0ZM257.2,339.6L262.1,337.8L258.4,342.2ZM284.6,339.0L289.7,337.7L285.6,341.7ZM309.0,339.5L314.1,338.8L309.6,342.2ZM336.5,337.7L341.6,338.9L336.2,340.4ZM368.8,340.4L372.5,344.0L367.0,342.6ZM416.4,356.6L411.5,358.2L415.3,354.0ZM147.9,376.1L143.2,373.9L148.8,373.5ZM269.5,357.5L274.3,355.4L270.9,359.9ZM297.2,356.0L302.3,354.7L298.1,358.6ZM321.6,358.4L326.7,357.1L322.5,361.0ZM349.2,356.6L354.4,356.7L349.4,359.4ZM394.5,378.4L389.5,377.0L395.1,375.7ZM421.1,378.1L416.1,376.7L421.6,375.3ZM442.0,375.0L437.4,372.5L443.1,372.4ZM134.6,394.5L129.8,392.3L135.5,391.9ZM256.4,376.5L260.9,373.8L258.1,378.7ZM282.3,373.5L287.2,371.5L283.7,376.0ZM307.4,373.7L312.2,371.8L308.6,376.2ZM329.1,377.4L333.8,374.9L330.7,379.7ZM354.3,374.3L358.7,371.6L355.9,376.6ZM374.7,389.9L373.0,385.0L377.2,388.8ZM406.2,393.6L402.2,390.2L407.8,391.4ZM430.5,391.7L426.6,388.2L432.1,389.4ZM453.5,392.8L450.0,388.9L455.4,390.7ZM268.5,396.6L272.6,393.4L270.4,398.6ZM291.9,393.6L296.3,390.8L293.6,395.8ZM316.1,396.1L320.0,392.6L318.1,398.0ZM341.8,394.5L345.2,390.5L344.1,396.1ZM362.5,399.2L364.3,394.3L365.3,399.9ZM391.0,407.8L389.1,403.0L393.5,406.6ZM414.6,409.1L412.5,404.3L417.1,407.7ZM439.0,409.3L436.4,404.8L441.2,407.7ZM463.3,407.5L460.5,403.1L465.5,405.8ZM490.2,409.1L487.8,404.5L492.6,407.5ZM136.1,428.4L131.3,426.2L137.0,425.8ZM278.6,412.6L282.3,408.9L280.7,414.4ZM304.0,414.1L307.5,410.2L306.2,415.7ZM328.9,415.3L331.7,410.9L331.4,416.5ZM352.3,416.3L354.6,411.6L354.9,417.3ZM376.5,421.6L377.0,416.4L379.3,421.6ZM399.0,423.4L398.6,418.2L401.7,422.9ZM427.3,422.7L426.1,417.6L429.9,421.9ZM448.9,424.5L447.1,419.6L451.4,423.2ZM476.5,423.8L474.5,419.0L479.0,422.5ZM498.9,423.8L497.2,418.8L501.4,422.6ZM292.0,432.4L295.3,428.4L294.4,434.0ZM315.5,432.3L318.5,428.0L318.0,433.7ZM337.6,435.2L339.8,430.4L340.2,436.1ZM364.0,435.7L365.3,430.7L366.7,436.2ZM389.8,439.4L390.4,434.2L392.6,439.5ZM412.3,439.1L412.2,433.9L415.1,438.8ZM436.5,440.6L436.1,435.4L439.3,440.1ZM461.5,440.4L460.4,435.2L464.1,439.5ZM489.6,440.7L488.0,435.8L492.2,439.6ZM135.8,465.2L131.4,462.3L137.1,462.7ZM325.1,452.7L327.5,448.1L327.7,453.8ZM349.8,452.9L351.6,448.0L352.5,453.6ZM377.5,453.3L378.5,448.1L380.3,453.5ZM400.0,454.8L400.4,449.6L402.8,454.8ZM426.4,456.9L426.4,451.6L429.1,456.6ZM448.4,458.8L447.9,453.6L451.1,458.3ZM476.6,459.8L475.7,454.7L479.3,459.1ZM388.3,473.5L389.1,468.4L391.1,473.7ZM413.5,474.2L413.7,469.0L416.3,474.1ZM436.8,474.1L436.6,468.9L439.6,473.8ZM461.1,473.9L460.5,468.7L463.8,473.4Z" fill="#000" stroke="#000" stroke-width="0.3"/>
<path d="M140.0,182.0L142.9,182.3L145.9,182.7L149.0,183.0L152.0,183.4L155.1,183.8L158.1,184.1L161.1,184.5L164.1,184.8L167.0,185.1L169.7,185.4L172.4,185.7L175.0,186.0L178.2,186.4L181.3,186.7L184.2,187.1L187.0,187.5L189.6,187.8L192.3,188.0L194.8,188.1L197.4,188.1L200.0,188.0L202.9,187.7L205.8,187.2L208.6,186.6L211.3,185.9L214.0,185.0L216.7,184.1L219.4,183.1L222.0,182.0L225.0,180.6L227.9,179.0L230.7,177.3L233.5,175.5L236.3,173.6L239.2,171.8L242.0,170.0M140.0,203.0L143.0,203.2L146.0,203.5L149.1,203.8L152.3,204.0L155.5,204.3L158.7,204.6L161.8,204.9L165.0,205.2L168.1,205.4L171.2,205.7L174.2,206.0L177.1,206.2L180.0,206.4L182.7,206.6L185.3,206.8L187.7,206.9L190.0,207.0L193.8,207.2L197.0,207.3L199.7,207.4L202.1,207.4L204.4,207.3L206.6,207.2L209.1,206.9L211.8,206.5L215.0,206.0L217.3,205.6L219.8,205.0L222.4,204.4L225.1,203.7L227.9,202.9L230.7,202.1L233.6,201.2L236.5,200.4L239.3,199.6L242.2,198.8L245.0,198.0L247.8,197.2L250.4,196.6L253.0,196.0L256.2,195.3L259.3,194.7L262.5,194.0L265.6,193.4L268.6,192.9L271.6,192.4L274.5,191.9L277.3,191.6L280.0,191.3L282.6,191.1L285.0,191.0L288.5,191.0L291.8,191.0L294.8,191.2L297.5,191.7L300.1,192.4L302.6,193.5L305.0,195.0L307.0,196.6L309.0,198.5L310.9,200.7L312.6,203.1L314.2,205.7L315.7,208.6L316.9,211.7L318.0,215.0L318.6,217.4L319.1,220.0L319.5,222.7L319.8,225.6L320.0,228.5L320.2,231.6L320.3,234.7L320.3,237.8L320.3,240.9L320.3,244.0L320.1,247.0L320.0,250.0L319.8,253.0L319.4,256.0L319.0,259.1L318.5,262.2L317.9,265.3L317.3,268.4L316.7,271.5L316.1,274.4L315.5,277.3L314.9,280.0L314.4,282.6L314.0,285.0L313.4,288.6L312.8,291.5L312.2,294.1L311.8,296.5L311.4,299.0L311.1,301.7L311.0,305.0L311.0,307.4L311.0,309.9L311.1,312.5L311.2,315.3L311.3,318.1L311.5,321.0L311.8,323.9L312.0,326.8L312.3,329.6L312.6,332.3L313.0,335.0L313.4,337.9L313.9,340.7L314.4,343.6L315.0,346.4L315.6,349.2L316.2,351.9L316.9,354.6L317.6,357.2L318.3,359.6L319.0,362.0L320.1,365.2L321.3,368.2L322.5,371.1L323.8,373.8L325.1,376.3L326.5,378.7L327.8,381.0L329.4,383.4L331.0,385.6L332.7,387.6L334.3,389.5L336.0,391.3L337.5,393.0L339.1,395.0L340.5,396.9L341.9,398.6L343.6,400.3L345.8,402.0L347.8,403.2L350.0,404.5L352.4,405.7L355.0,406.9L357.6,408.0L360.1,409.1L362.5,410.0L365.1,410.9L367.7,411.8L370.2,412.5L372.7,413.1L375.2,413.6L377.8,413.8L380.5,413.8L383.3,413.7L386.2,413.3L389.0,412.9L391.8,412.3L394.4,411.7L396.8,411.0L399.1,410.2L401.3,409.3L403.6,408.3L405.9,407.2L408.3,406.0L410.6,404.9L412.9,403.6L415.4,402.3L417.9,400.9L420.4,399.5L422.7,398.0L425.0,396.4L427.2,394.8L429.3,393.1L431.3,391.4L433.3,389.6L435.2,387.7L437.1,385.9L438.9,384.0L441.0,381.8L443.0,379.5L444.9,377.2L446.7,374.8L448.4,372.4L450.0,370.0L451.4,367.6L452.7,365.1L453.8,362.6L454.9,360.0L455.9,357.5L457.0,355.0L458.0,352.5L458.7,349.9L459.5,347.4L460.4,344.9L461.5,342.4L463.0,340.0L464.7,338.0L466.6,336.0L468.7,334.0L471.0,332.0L473.3,330.2L475.7,328.5L478.0,327.0L480.3,325.6L482.6,324.3L484.9,323.1L487.3,322.0L489.8,321.1L492.3,320.4L495.0,320.0L497.8,319.9L500.7,320.1L503.7,320.6L506.8,321.2L509.9,321.9L513.0,322.5L516.0,323.0M417.0,362.0L416.6,364.8L416.3,367.7L415.9,370.5L415.4,373.3L414.7,376.0L413.7,378.6L412.5,381.2L411.2,383.7L409.7,386.1L408.1,388.4L406.3,390.5L404.4,392.4L402.4,394.3L400.2,396.0L398.0,397.5L395.7,398.8L393.2,400.0L390.7,401.0L388.2,401.8L385.6,402.4L383.0,402.8L380.3,403.0L377.7,403.0L375.0,402.8L372.4,402.4L369.8,401.8L367.3,401.0L364.8,400.0L362.3,398.8L360.0,397.5L357.8,396.0L355.6,394.3L353.6,392.4L351.7,390.5L349.9,388.4L348.3,386.1L346.8,383.7L345.5,381.2L344.3,378.6L343.3,376.0L342.5,373.3L341.8,370.5L341.4,367.7L341.1,364.8L341.0,362.0L341.1,359.2L341.4,356.3L341.8,353.5L342.5,350.7L343.3,348.0L344.3,345.4L345.5,342.8L346.8,340.3L348.3,337.9L349.9,335.6L351.7,333.5L353.6,331.6L355.6,329.7L357.8,328.0L360.0,326.5L362.3,325.2L364.8,324.0L367.3,323.0L369.8,322.2L372.4,321.6L375.0,321.2L377.7,321.0L380.3,321.0L383.0,321.2L385.6,321.6L388.2,322.2L390.7,323.0L393.2,324.0L395.7,325.2L398.0,326.5L400.2,328.0L402.4,329.7L404.4,331.6L406.3,333.5L408.1,335.6L409.7,337.9L411.2,340.3L412.5,342.8L413.7,345.4L414.7,348.0L415.6,351.4L416.1,354.9L416.5,358.5L417.0,362.0ZM394.0,363.0L393.6,365.9L393.2,368.8L392.8,371.6L392.0,374.3L390.9,376.8L389.6,379.2L388.1,381.4L386.5,383.3L384.7,385.0L382.7,386.4L380.6,387.5L378.5,388.3L375.5,388.9L372.5,388.9L369.5,388.3L367.4,387.5L365.3,386.4L363.3,385.0L361.5,383.3L359.9,381.4L358.4,379.2L357.1,376.8L356.0,374.3L355.1,371.6L354.5,368.8L354.1,365.9L354.0,363.0L354.1,360.1L354.5,357.2L355.1,354.4L356.0,351.7L357.1,349.2L358.4,346.8L359.9,344.6L361.5,342.7L363.3,341.0L365.3,339.6L367.4,338.5L369.5,337.7L372.5,337.1L375.5,337.1L378.5,337.7L380.6,338.5L382.7,339.6L384.7,341.0L386.5,342.7L388.1,344.6L389.6,346.8L390.9,349.2L392.0,351.7L392.9,355.3L393.5,359.2L394.0,363.0ZM140.0,218.0L143.0,218.0L146.0,218.1L149.0,218.1L152.1,218.1L155.2,218.2L158.3,218.2L161.4,218.2L164.5,218.2L167.6,218.3L170.7,218.3L173.8,218.3L176.8,218.3L179.8,218.4L182.8,218.4L185.8,218.5L188.7,218.5L191.6,218.6L194.4,218.6L197.2,218.7L199.8,218.8L202.5,218.9L205.0,219.0L208.4,219.2L211.8,219.3L215.1,219.5L218.3,219.6L221.4,219.8L224.5,219.9L227.5,220.1L230.4,220.3L233.3,220.5L236.0,220.8L238.6,221.1L241.1,221.4L243.5,221.7L245.8,222.1L248.0,222.5L250.0,223.0L253.6,224.1L256.6,225.2L259.1,226.6L261.2,228.0L263.0,229.6L264.7,231.2L266.3,233.1L268.0,235.0L269.7,237.0L271.2,239.2L272.6,241.5L273.8,243.9L275.0,246.4L276.0,249.1L277.0,252.0L278.0,255.0L278.6,257.4L279.2,259.9L279.8,262.6L280.2,265.4L280.7,268.2L281.1,271.1L281.5,274.0L281.8,276.9L282.2,279.7L282.6,282.4L283.0,285.0L283.5,287.9L283.9,290.7L284.2,293.3L284.6,295.9L284.9,298.5L285.3,301.1L285.8,303.9L286.3,306.8L287.0,310.0L287.5,312.4L288.1,314.8L288.7,317.3L289.3,319.9L290.0,322.6L290.6,325.3L291.4,328.0L292.1,330.8L292.8,333.6L293.6,336.4L294.4,339.3L295.2,342.1L296.0,345.0L296.7,347.7L297.5,350.5L298.2,353.4L299.0,356.4L299.7,359.4L300.5,362.4L301.3,365.4L302.1,368.3L303.0,371.2L303.9,374.1L304.8,376.8L305.8,379.3L306.9,381.8L308.0,384.0L309.7,386.9L311.4,389.5L313.3,391.9L315.2,394.1L317.2,396.2L319.3,398.1L321.4,399.9L323.6,401.7L325.8,403.3L328.0,405.0L330.3,406.6L332.8,408.1L335.4,409.5L338.1,410.7L340.7,411.9L343.4,413.1L346.0,414.1L348.5,415.1L350.8,416.1L353.0,417.0L356.0,418.3L358.5,419.5L360.7,420.4L363.0,421.2L365.8,422.0L369.4,422.8L371.6,423.2L374.1,423.7L376.8,424.1L379.7,424.6L382.7,425.0L385.7,425.5L388.8,425.8L391.9,426.2L394.8,426.5L397.7,426.7L400.4,426.9L402.8,427.0L406.1,427.0L409.0,426.9L411.7,426.6L414.3,426.3L416.8,425.8L419.3,425.3L422.0,424.7L425.0,424.0L427.6,423.4L430.3,422.8L433.1,422.2L436.0,421.5L438.9,420.7L441.8,419.9L444.7,419.0L447.5,418.0L450.2,417.0L452.8,415.8L455.3,414.5L457.6,413.1L459.9,411.6L462.2,410.0L464.4,408.3L466.5,406.6L468.7,404.9L470.8,403.2L472.9,401.6L475.0,400.0L477.3,398.3L479.6,396.6L481.8,394.9L484.0,393.2L486.2,391.5L488.3,389.8L490.5,388.2L492.7,386.6L495.0,385.0L497.6,383.3L500.2,381.6L502.8,380.0L505.4,378.4L508.1,376.8L510.7,375.2L513.4,373.6L516.0,372.0M140.0,245.0L142.9,245.1L145.9,245.3L148.9,245.4L151.9,245.4L154.8,245.5L157.8,245.6L160.8,245.7L163.7,245.9L166.6,246.1L169.5,246.3L172.3,246.6L175.0,247.0L177.9,247.5L180.8,248.0L183.7,248.6L186.5,249.2L189.3,249.8L192.0,250.6L194.7,251.3L197.3,252.2L199.9,253.0L202.5,254.0L205.0,255.0L207.7,256.2L210.5,257.5L213.2,258.9L215.8,260.4L218.4,261.9L221.0,263.5L223.4,265.1L225.7,266.8L227.9,268.4L230.0,270.0L232.4,272.0L234.5,274.0L236.5,276.0L238.4,278.0L240.1,280.1L241.8,282.3L243.4,284.6L245.0,287.0L246.4,289.2L247.7,291.5L248.9,293.8L250.1,296.2L251.3,298.6L252.4,301.2L253.6,304.0L254.8,306.9L256.0,310.0L256.9,312.3L257.7,314.8L258.6,317.4L259.5,320.0L260.3,322.8L261.2,325.6L262.1,328.5L263.0,331.4L263.9,334.2L264.9,337.0L265.9,339.8L266.9,342.4L268.0,345.0L269.2,347.7L270.6,350.3L271.9,352.9L273.4,355.5L274.8,358.0L276.3,360.5L277.8,363.0L279.3,365.4L280.8,367.8L282.2,370.2L283.6,372.6L285.0,375.0L286.4,377.6L287.9,380.3L289.3,382.9L290.6,385.6L292.0,388.2L293.4,390.8L294.7,393.3L296.0,395.7L297.4,397.9L298.7,400.1L300.0,402.0L302.0,404.7L303.9,406.9L305.7,408.9L307.5,410.7L309.5,412.3L311.6,414.0L313.9,415.8L315.9,417.3L318.1,418.8L320.3,420.3L322.7,421.7L325.1,423.2L327.5,424.6L329.9,425.9L332.3,427.2L334.7,428.3L337.3,429.5L339.9,430.5L342.5,431.5L345.1,432.3L347.7,433.1L350.3,433.9L352.9,434.6L355.6,435.3L358.3,436.0L360.9,436.6L363.6,437.2L366.3,437.7L369.0,438.2L371.8,438.6L374.7,439.0L377.8,439.4L380.4,439.7L383.1,439.9L386.0,440.1L388.9,440.3L391.9,440.4L394.8,440.6L397.7,440.7L400.5,440.7L403.1,440.8L405.6,440.8L408.7,440.8L411.3,440.7L413.7,440.5L416.0,440.3L418.6,440.1L421.5,439.8L425.0,439.4L427.4,439.2L430.0,438.9L432.8,438.7L435.7,438.5L438.7,438.2L441.8,437.9L445.0,437.6L448.1,437.2L451.2,436.8L454.3,436.4L457.2,435.9L460.0,435.3L462.9,434.6L465.8,433.9L468.7,433.0L471.4,432.2L474.2,431.2L476.9,430.3L479.6,429.3L482.2,428.2L484.9,427.2L487.4,426.1L490.0,425.0L493.1,423.6L496.0,422.1L499.0,420.6L501.8,419.0L504.7,417.4L507.5,415.8L510.3,414.2L513.1,412.6L516.0,411.0M140.0,285.0L142.7,285.6L145.5,286.1L148.2,286.6L150.9,287.0L153.6,287.4L156.4,287.9L159.1,288.5L161.8,289.2L164.5,289.9L167.3,290.9L170.0,292.0L172.3,293.1L174.7,294.3L177.1,295.6L179.5,296.9L181.9,298.4L184.3,299.9L186.7,301.5L189.0,303.1L191.4,304.8L193.6,306.6L195.8,308.4L198.0,310.2L200.0,312.0L202.1,314.0L204.2,316.2L206.2,318.4L208.1,320.7L209.9,323.0L211.8,325.4L213.5,327.8L215.3,330.2L217.0,332.7L218.7,335.1L220.3,337.6L222.0,340.0L223.6,342.4L225.2,344.9L226.7,347.4L228.1,349.9L229.6,352.5L231.0,355.0L232.4,357.5L233.9,360.1L235.3,362.6L236.8,365.1L238.4,367.6L240.0,370.0L241.7,372.4L243.5,374.9L245.3,377.4L247.2,379.9L249.1,382.4L251.0,384.8L252.9,387.2L254.8,389.6L256.7,391.8L258.5,394.0L260.3,396.1L262.0,398.0L264.2,400.4L266.2,402.6L268.2,404.6L270.2,406.5L272.1,408.3L274.0,410.0L275.9,411.7L277.9,413.3L280.0,415.0L282.1,416.6L284.3,418.2L286.5,419.7L288.7,421.1L290.9,422.6L293.2,424.0L295.5,425.4L297.7,426.8L300.0,428.3L302.3,429.8L304.5,431.4L306.7,433.0L309.0,434.6L311.2,436.2L313.5,437.8L315.9,439.3L318.3,440.8L320.8,442.2L323.1,443.4L325.4,444.6L327.8,445.8L330.2,447.0L332.6,448.1L335.1,449.2L337.7,450.3L340.3,451.3L343.0,452.3L345.8,453.3L348.2,454.1L350.7,454.9L353.3,455.7L355.9,456.5L358.6,457.3L361.3,458.0L364.0,458.7L366.8,459.4L369.6,460.1L372.3,460.7L375.1,461.2L377.8,461.7L380.5,462.1L383.3,462.5L386.1,462.9L389.0,463.2L391.8,463.4L394.7,463.7L397.5,463.9L400.3,464.0L403.0,464.1L405.8,464.3L408.4,464.3L411.0,464.4L414.0,464.4L417.0,464.4L420.0,464.3L422.9,464.2L425.7,464.0L428.5,463.9L431.2,463.6L433.8,463.4L436.4,463.2L438.9,463.0L441.8,462.8L444.4,462.5L446.9,462.3L449.3,462.1L451.7,461.8L454.3,461.4L457.0,460.9L460.0,460.3L462.4,459.8L465.0,459.2L467.6,458.5L470.4,457.8L473.3,457.0L476.1,456.2L479.0,455.4L481.9,454.5L484.7,453.7L487.4,452.8L490.0,452.0L493.1,451.0L496.0,449.9L499.0,448.8L501.8,447.7L504.7,446.5L507.5,445.4L510.3,444.3L513.1,443.1L516.0,442.0M140.0,406.0L142.5,406.3L145.0,406.7L147.5,407.0L149.9,407.2L152.0,407.0L154.1,406.0L155.8,404.4L157.6,402.8L160.0,402.0L162.0,402.0L164.3,402.1L166.8,402.6L169.4,403.2L172.1,404.0L175.0,405.0L177.3,405.9L179.6,406.9L182.1,408.1L184.7,409.4L187.3,410.7L189.9,412.1L192.5,413.6L195.0,415.0L197.5,416.5L200.1,418.1L202.6,419.7L205.2,421.4L207.7,423.1L210.2,424.8L212.6,426.4L215.0,428.0L217.6,429.8L220.1,431.6L222.6,433.3L225.0,435.0L227.4,436.7L229.7,438.4L232.0,440.0L234.2,441.5L236.3,443.0L238.4,444.4L240.5,445.8L242.6,447.2L244.7,448.6L247.0,450.0L249.4,451.4L251.7,452.7L254.1,454.0L256.6,455.4L259.3,456.8L262.0,458.3L265.0,460.0L267.2,461.3L269.6,462.7L272.0,464.2L274.5,465.8L277.1,467.4L279.7,469.0L282.3,470.6L284.9,472.1L287.5,473.6L290.0,475.0L292.5,476.3L294.9,477.6L297.3,478.9L299.8,480.1L302.2,481.3L304.6,482.5L307.1,483.6L309.7,484.8L312.3,485.9L315.0,487.0L317.5,488.0L320.1,489.0L322.7,489.9L325.3,490.9L328.0,491.8L330.7,492.7L333.5,493.6L336.3,494.5L339.2,495.3L342.1,496.2L345.0,497.0L347.8,497.8L350.6,498.5L353.5,499.3L356.5,500.0L359.5,500.8L362.5,501.5L365.5,502.2L368.5,502.9L371.5,503.5L374.4,504.0L377.2,504.5L380.0,505.0L382.9,505.4L385.9,505.8L388.7,506.1L391.6,506.3L394.4,506.5L397.1,506.7L399.8,506.8L402.5,506.9L405.0,507.0L407.6,507.0L410.0,507.0L413.1,507.0L415.9,506.9L418.5,506.8L421.1,506.6L423.7,506.3L426.4,505.9L429.5,505.5L433.0,505.0L435.4,504.6L437.8,504.1L440.4,503.6L443.1,503.0L445.8,502.4L448.6,501.8L451.5,501.1L454.5,500.5L457.5,499.9L460.6,499.3L463.7,498.8L466.8,498.4L470.0,498.0L472.8,497.8L475.7,497.6L478.6,497.4L481.6,497.3L484.7,497.2L487.8,497.2L490.9,497.1L494.0,497.1L497.2,497.1L500.3,497.1L503.5,497.1L506.7,497.1L509.8,497.1L512.9,497.1L516.0,497.0M140.0,508.0L142.5,509.2L145.2,510.4L147.8,511.7L150.5,512.9L153.1,514.1L155.7,515.3L158.2,516.5L160.6,517.7L162.9,518.9L165.0,520.0L167.7,521.5L170.0,522.9L172.2,524.2L174.2,525.5L176.1,526.9L178.0,528.4L180.0,530.0L182.4,532.1L184.7,534.4L187.1,536.8L189.4,539.2L191.7,541.6L194.0,544.0M440.0,222.0L440.7,224.5L441.4,227.2L442.0,229.9L442.7,232.4L443.7,234.7L445.0,236.7L447.0,238.6L449.4,240.2L452.1,241.4L455.0,242.4L458.0,243.0L460.6,243.3L463.4,243.3L466.3,243.1L469.2,242.7L472.1,242.2L475.0,241.7L477.7,241.1L480.3,240.5L482.9,239.8L485.6,238.9L488.5,237.9L491.7,236.7L494.4,235.6L497.2,234.4L500.3,233.1L503.4,231.7L506.6,230.3L509.7,228.8L512.9,227.4L516.0,226.0" fill="none" stroke="#1a1a1a" stroke-width="0.8" stroke-linejoin="round"/>
<g transform="translate(253.0,196.0) rotate(-14)"><rect x="-8.2" y="-4.0" width="16.3" height="8.0" fill="#fff"/><text x="0" y="2.3" font-size="6.4" text-anchor="middle" fill="#222">5520</text></g>
<g transform="translate(311.0,288.0) rotate(-90)"><rect x="-8.2" y="-4.0" width="16.3" height="8.0" fill="#fff"/><text x="0" y="2.3" font-size="6.4" text-anchor="middle" fill="#222">5520</text></g>
<g transform="translate(337.5,393.0) rotate(52)"><rect x="-8.2" y="-4.0" width="16.3" height="8.0" fill="#fff"/><text x="0" y="2.3" font-size="6.4" text-anchor="middle" fill="#222">5520</text></g>
<g transform="translate(240.0,279.0) rotate(50)"><rect x="-8.2" y="-4.0" width="16.3" height="8.0" fill="#fff"/><text x="0" y="2.3" font-size="6.4" text-anchor="middle" fill="#222">5640</text></g>
<g transform="translate(301.0,397.0) rotate(55)"><rect x="-8.2" y="-4.0" width="16.3" height="8.0" fill="#fff"/><text x="0" y="2.3" font-size="6.4" text-anchor="middle" fill="#222">5640</text></g>
<g transform="translate(415.0,440.0) rotate(0)"><rect x="-8.2" y="-4.0" width="16.3" height="8.0" fill="#fff"/><text x="0" y="2.3" font-size="6.4" text-anchor="middle" fill="#222">5640</text></g>
<g transform="translate(240.0,445.0) rotate(28)"><rect x="-8.2" y="-4.0" width="16.3" height="8.0" fill="#fff"/><text x="0" y="2.3" font-size="6.4" text-anchor="middle" fill="#222">5760</text></g>
<g transform="translate(491.0,497.0) rotate(0)"><rect x="-8.2" y="-4.0" width="16.3" height="8.0" fill="#fff"/><text x="0" y="2.3" font-size="6.4" text-anchor="middle" fill="#222">5760</text></g>
<g transform="translate(457.0,366.0) rotate(-75)"><rect x="-8.2" y="-4.0" width="16.3" height="8.0" fill="#fff"/><text x="0" y="2.3" font-size="6.4" text-anchor="middle" fill="#222">5520</text></g>
<text x="147.7" y="538.6" font-size="10" textLength="283" lengthAdjust="spacingAndGlyphs" fill="#222">CW3E, Scripps, UC San Diego; Contact B. Kawzenuk/M. Ralph</text>
</g>
<rect x="145" y="173.5" width="367.5" height="367.0" fill="none" stroke="#333" stroke-width="1"/>
<line x1="145.00" y1="540.5" x2="145.00" y2="552.5" stroke="#222" stroke-width="1"/>
<line x1="133" y1="173.50" x2="145" y2="173.50" stroke="#222" stroke-width="1"/>
<line x1="157.25" y1="540.5" x2="157.25" y2="546.5" stroke="#999" stroke-width="1"/>
<line x1="139" y1="185.73" x2="145" y2="185.73" stroke="#999" stroke-width="1"/>
<line x1="169.50" y1="540.5" x2="169.50" y2="546.5" stroke="#999" stroke-width="1"/>
<line x1="139" y1="197.97" x2="145" y2="197.97" stroke="#999" stroke-width="1"/>
<line x1="181.75" y1="540.5" x2="181.75" y2="546.5" stroke="#999" stroke-width="1"/>
<line x1="139" y1="210.20" x2="145" y2="210.20" stroke="#999" stroke-width="1"/>
<line x1="194.00" y1="540.5" x2="194.00" y2="546.5" stroke="#999" stroke-width="1"/>
<line x1="139" y1="222.43" x2="145" y2="222.43" stroke="#999" stroke-width="1"/>
<line x1="206.25" y1="540.5" x2="206.25" y2="552.5" stroke="#222" stroke-width="1"/>
<line x1="133" y1="234.67" x2="145" y2="234.67" stroke="#222" stroke-width="1"/>
<line x1="218.50" y1="540.5" x2="218.50" y2="546.5" stroke="#999" stroke-width="1"/>
<line x1="139" y1="246.90" x2="145" y2="246.90" stroke="#999" stroke-width="1"/>
<line x1="230.75" y1="540.5" x2="230.75" y2="546.5" stroke="#999" stroke-width="1"/>
<line x1="139" y1="259.13" x2="145" y2="259.13" stroke="#999" stroke-width="1"/>
<line x1="243.00" y1="540.5" x2="243.00" y2="546.5" stroke="#999" stroke-width="1"/>
<line x1="139" y1="271.37" x2="145" y2="271.37" stroke="#999" stroke-width="1"/>
<line x1="255.25" y1="540.5" x2="255.25" y2="546.5" stroke="#999" stroke-width="1"/>
<line x1="139" y1="283.60" x2="145" y2="283.60" stroke="#999" stroke-width="1"/>
<line x1="267.50" y1="540.5" x2="267.50" y2="552.5" stroke="#222" stroke-width="1"/>
<line x1="133" y1="295.83" x2="145" y2="295.83" stroke="#222" stroke-width="1"/>
<line x1="279.75" y1="540.5" x2="279.75" y2="546.5" stroke="#999" stroke-width="1"/>
<line x1="139" y1="308.07" x2="145" y2="308.07" stroke="#999" stroke-width="1"/>
<line x1="292.00" y1="540.5" x2="292.00" y2="546.5" stroke="#999" stroke-width="1"/>
<line x1="139" y1="320.30" x2="145" y2="320.30" stroke="#999" stroke-width="1"/>
<line x1="304.25" y1="540.5" x2="304.25" y2="546.5" stroke="#999" stroke-width="1"/>
<line x1="139" y1="332.53" x2="145" y2="332.53" stroke="#999" stroke-width="1"/>
<line x1="316.50" y1="540.5" x2="316.50" y2="546.5" stroke="#999" stroke-width="1"/>
<line x1="139" y1="344.77" x2="145" y2="344.77" stroke="#999" stroke-width="1"/>
<line x1="328.75" y1="540.5" x2="328.75" y2="552.5" stroke="#222" stroke-width="1"/>
<line x1="133" y1="357.00" x2="145" y2="357.00" stroke="#222" stroke-width="1"/>
<line x1="341.00" y1="540.5" x2="341.00" y2="546.5" stroke="#999" stroke-width="1"/>
<line x1="139" y1="369.23" x2="145" y2="369.23" stroke="#999" stroke-width="1"/>
<line x1="353.25" y1="540.5" x2="353.25" y2="546.5" stroke="#999" stroke-width="1"/>
<line x1="139" y1="381.47" x2="145" y2="381.47" stroke="#999" stroke-width="1"/>
<line x1="365.50" y1="540.5" x2="365.50" y2="546.5" stroke="#999" stroke-width="1"/>
<line x1="139" y1="393.70" x2="145" y2="393.70" stroke="#999" stroke-width="1"/>
<line x1="377.75" y1="540.5" x2="377.75" y2="546.5" stroke="#999" stroke-width="1"/>
<line x1="139" y1="405.93" x2="145" y2="405.93" stroke="#999" stroke-width="1"/>
<line x1="390.00" y1="540.5" x2="390.00" y2="552.5" stroke="#222" stroke-width="1"/>
<line x1="133" y1="418.17" x2="145" y2="418.17" stroke="#222" stroke-width="1"/>
<line x1="402.25" y1="540.5" x2="402.25" y2="546.5" stroke="#999" stroke-width="1"/>
<line x1="139" y1="430.40" x2="145" y2="430.40" stroke="#999" stroke-width="1"/>
<line x1="414.50" y1="540.5" x2="414.50" y2="546.5" stroke="#999" stroke-width="1"/>
<line x1="139" y1="442.63" x2="145" y2="442.63" stroke="#999" stroke-width="1"/>
<line x1="426.75" y1="540.5" x2="426.75" y2="546.5" stroke="#999" stroke-width="1"/>
<line x1="139" y1="454.87" x2="145" y2="454.87" stroke="#999" stroke-width="1"/>
<line x1="439.00" y1="540.5" x2="439.00" y2="546.5" stroke="#999" stroke-width="1"/>
<line x1="139" y1="467.10" x2="145" y2="467.10" stroke="#999" stroke-width="1"/>
<line x1="451.25" y1="540.5" x2="451.25" y2="552.5" stroke="#222" stroke-width="1"/>
<line x1="133" y1="479.33" x2="145" y2="479.33" stroke="#222" stroke-width="1"/>
<line x1="463.50" y1="540.5" x2="463.50" y2="546.5" stroke="#999" stroke-width="1"/>
<line x1="139" y1="491.57" x2="145" y2="491.57" stroke="#999" stroke-width="1"/>
<line x1="475.75" y1="540.5" x2="475.75" y2="546.5" stroke="#999" stroke-width="1"/>
<line x1="139" y1="503.80" x2="145" y2="503.80" stroke="#999" stroke-width="1"/>
<line x1="488.00" y1="540.5" x2="488.00" y2="546.5" stroke="#999" stroke-width="1"/>
<line x1="139" y1="516.03" x2="145" y2="516.03" stroke="#999" stroke-width="1"/>
<line x1="500.25" y1="540.5" x2="500.25" y2="546.5" stroke="#999" stroke-width="1"/>
<line x1="139" y1="528.27" x2="145" y2="528.27" stroke="#999" stroke-width="1"/>
<line x1="512.50" y1="540.5" x2="512.50" y2="552.5" stroke="#222" stroke-width="1"/>
<line x1="133" y1="540.50" x2="145" y2="540.50" stroke="#222" stroke-width="1"/>
<text x="145.0" y="569.5" font-size="11" text-anchor="middle">140<tspan font-size="7.0" dy="-4.7">o</tspan><tspan dy="4.7">W</tspan></text>
<text x="125" y="177.7" font-size="11" text-anchor="end">50<tspan font-size="7.0" dy="-4.7">o</tspan><tspan dy="4.7">N</tspan></text>
<text x="206.2" y="569.5" font-size="11" text-anchor="middle">135<tspan font-size="7.0" dy="-4.7">o</tspan><tspan dy="4.7">W</tspan></text>
<text x="125" y="238.9" font-size="11" text-anchor="end">45<tspan font-size="7.0" dy="-4.7">o</tspan><tspan dy="4.7">N</tspan></text>
<text x="267.5" y="569.5" font-size="11" text-anchor="middle">130<tspan font-size="7.0" dy="-4.7">o</tspan><tspan dy="4.7">W</tspan></text>
<text x="125" y="300.0" font-size="11" text-anchor="end">40<tspan font-size="7.0" dy="-4.7">o</tspan><tspan dy="4.7">N</tspan></text>
<text x="328.8" y="569.5" font-size="11" text-anchor="middle">125<tspan font-size="7.0" dy="-4.7">o</tspan><tspan dy="4.7">W</tspan></text>
<text x="125" y="361.2" font-size="11" text-anchor="end">35<tspan font-size="7.0" dy="-4.7">o</tspan><tspan dy="4.7">N</tspan></text>
<text x="390.0" y="569.5" font-size="11" text-anchor="middle">120<tspan font-size="7.0" dy="-4.7">o</tspan><tspan dy="4.7">W</tspan></text>
<text x="125" y="422.4" font-size="11" text-anchor="end">30<tspan font-size="7.0" dy="-4.7">o</tspan><tspan dy="4.7">N</tspan></text>
<text x="451.2" y="569.5" font-size="11" text-anchor="middle">115<tspan font-size="7.0" dy="-4.7">o</tspan><tspan dy="4.7">W</tspan></text>
<text x="125" y="483.5" font-size="11" text-anchor="end">25<tspan font-size="7.0" dy="-4.7">o</tspan><tspan dy="4.7">N</tspan></text>
<text x="512.5" y="569.5" font-size="11" text-anchor="middle">110<tspan font-size="7.0" dy="-4.7">o</tspan><tspan dy="4.7">W</tspan></text>
<text x="125" y="544.7" font-size="11" text-anchor="end">20<tspan font-size="7.0" dy="-4.7">o</tspan><tspan dy="4.7">N</tspan></text>
<rect x="526.3" y="515.40" width="22.1" height="21.45" fill="#ffffff"/>
<rect x="526.3" y="494.25" width="22.1" height="21.45" fill="#0000cd"/>
<rect x="526.3" y="473.10" width="22.1" height="21.45" fill="#0066ff"/>
<rect x="526.3" y="451.95" width="22.1" height="21.45" fill="#00bef8"/>
<rect x="526.3" y="430.80" width="22.1" height="21.45" fill="#00ecd8"/>
<rect x="526.3" y="409.65" width="22.1" height="21.45" fill="#00d89a"/>
<rect x="526.3" y="388.50" width="22.1" height="21.45" fill="#30b818"/>
<rect x="526.3" y="367.35" width="22.1" height="21.45" fill="#9fe00a"/>
<rect x="526.3" y="346.20" width="22.1" height="21.45" fill="#fff000"/>
<rect x="526.3" y="325.05" width="22.1" height="21.45" fill="#ffc800"/>
<rect x="526.3" y="303.90" width="22.1" height="21.45" fill="#ffa000"/>
<rect x="526.3" y="282.75" width="22.1" height="21.45" fill="#ff7800"/>
<rect x="526.3" y="261.60" width="22.1" height="21.45" fill="#ff0a00"/>
<rect x="526.3" y="240.45" width="22.1" height="21.45" fill="#d2002a"/>
<rect x="526.3" y="219.30" width="22.1" height="21.45" fill="#a00050"/>
<rect x="526.3" y="198.15" width="22.1" height="21.45" fill="#7b006b"/>
<rect x="526.3" y="177.00" width="22.1" height="21.45" fill="#6a1e9c"/>
<rect x="526.3" y="177" width="22.1" height="359.55" fill="none" stroke="#444" stroke-opacity="0.55" stroke-width="0.8"/>
<line x1="526.3" y1="515.40" x2="548.4" y2="515.40" stroke="#000" stroke-opacity="0.55" stroke-width="0.7"/>
<text x="555" y="518.70" font-size="9">10</text>
<line x1="526.3" y1="494.25" x2="548.4" y2="494.25" stroke="#000" stroke-opacity="0.55" stroke-width="0.7"/>
<text x="555" y="497.55" font-size="9">12</text>
<line x1="526.3" y1="473.10" x2="548.4" y2="473.10" stroke="#000" stroke-opacity="0.55" stroke-width="0.7"/>
<text x="555" y="476.40" font-size="9">14</text>
<line x1="526.3" y1="451.95" x2="548.4" y2="451.95" stroke="#000" stroke-opacity="0.55" stroke-width="0.7"/>
<text x="555" y="455.25" font-size="9">16</text>
<line x1="526.3" y1="430.80" x2="548.4" y2="430.80" stroke="#000" stroke-opacity="0.55" stroke-width="0.7"/>
<text x="555" y="434.10" font-size="9">18</text>
<line x1="526.3" y1="409.65" x2="548.4" y2="409.65" stroke="#000" stroke-opacity="0.55" stroke-width="0.7"/>
<text x="555" y="412.95" font-size="9">20</text>
<line x1="526.3" y1="388.50" x2="548.4" y2="388.50" stroke="#000" stroke-opacity="0.55" stroke-width="0.7"/>
<text x="555" y="391.80" font-size="9">22</text>
<line x1="526.3" y1="367.35" x2="548.4" y2="367.35" stroke="#000" stroke-opacity="0.55" stroke-width="0.7"/>
<text x="555" y="370.65" font-size="9">24</text>
<line x1="526.3" y1="346.20" x2="548.4" y2="346.20" stroke="#000" stroke-opacity="0.55" stroke-width="0.7"/>
<text x="555" y="349.50" font-size="9">26</text>
<line x1="526.3" y1="325.05" x2="548.4" y2="325.05" stroke="#000" stroke-opacity="0.55" stroke-width="0.7"/>
<text x="555" y="328.35" font-size="9">28</text>
<line x1="526.3" y1="303.90" x2="548.4" y2="303.90" stroke="#000" stroke-opacity="0.55" stroke-width="0.7"/>
<text x="555" y="307.20" font-size="9">30</text>
<line x1="526.3" y1="282.75" x2="548.4" y2="282.75" stroke="#000" stroke-opacity="0.55" stroke-width="0.7"/>
<text x="555" y="286.05" font-size="9">32</text>
<line x1="526.3" y1="261.60" x2="548.4" y2="261.60" stroke="#000" stroke-opacity="0.55" stroke-width="0.7"/>
<text x="555" y="264.90" font-size="9">34</text>
<line x1="526.3" y1="240.45" x2="548.4" y2="240.45" stroke="#000" stroke-opacity="0.55" stroke-width="0.7"/>
<text x="555" y="243.75" font-size="9">36</text>
<line x1="526.3" y1="219.30" x2="548.4" y2="219.30" stroke="#000" stroke-opacity="0.55" stroke-width="0.7"/>
<text x="555" y="222.60" font-size="9">38</text>
<line x1="526.3" y1="198.15" x2="548.4" y2="198.15" stroke="#000" stroke-opacity="0.55" stroke-width="0.7"/>
<text x="555" y="201.45" font-size="9">40</text>
<text x="721.5" y="159.7" font-size="11.3" font-weight="normal" text-anchor="start" fill="#000" textLength="298" lengthAdjust="spacingAndGlyphs">NCEP GFS 250-hPa Winds (knots) and Height (gpm)</text>
<text x="721.5" y="171.3" font-size="8.9" font-weight="normal" text-anchor="start" fill="#000" textLength="135.5" lengthAdjust="spacingAndGlyphs">Initialized: 1200 UTC 12/26/2019</text>
<text x="1092" y="171.3" font-size="8.9" font-weight="normal" text-anchor="end" fill="#000" textLength="148" lengthAdjust="spacingAndGlyphs">F-000: Valid: 1200 UTC 12/26/2019</text>
<clipPath id="clipR"><rect x="721.5" y="173.3" width="370.5" height="367.90000000000003"/></clipPath>
<g clip-path="url(#clipR)">
<rect x="715" y="170" width="385" height="380" fill="#fff"/>
<path d="M901.8 154.9L906.8 168.4L909.8 173.3L912.9 175.8L920.3 179.4L929.6 181.9L930.8 185.6L937.6 188.6L936.4 192.9L940.1 199.1L939.5 202.7L938.2 207.6L932.7 208.9L933.9 204.6L935.8 199.7L934.2 196.4L926.5 196.0L910.2 193.2L911.1 199.1L915.4 205.8L917.9 211.3L918.5 214.4L918.5 219.3L919.5 228.5L918.2 239.5L914.8 254.8L912.2 261.1L916.6 271.4L916.6 274.5L917.2 283.1L914.2 290.5L918.5 295.9L921.3 303.3L922.4 308.8L930.8 316.8L931.5 320.5L937.6 322.9L937.6 326.6L943.2 333.3L946.3 335.2L945.0 337.6L945.0 341.3L953.1 349.3L959.2 355.4L960.5 362.4L962.7 364.0L972.2 364.6L978.4 367.7L983.3 369.5L988.3 372.6L994.4 374.4L1000.6 379.3L1002.5 385.4L1004.1 387.9L1010.5 395.9L1014.2 406.3L1018.5 413.7L1021.6 421.0L1027.8 425.9L1036.4 432.0L1041.4 443.1L1029.6 444.9L1039.5 454.1L1048.2 459.0L1062.4 465.2L1066.1 470.1L1064.8 482.3L1072.2 488.5L1085.8 498.3L1092.6 505.6L1098.8 503.8L1098.8 499.5L1088.3 490.3L1083.4 482.3L1078.4 473.7L1075.3 467.6L1067.9 456.6L1064.2 451.1L1057.4 443.1L1048.2 431.4L1037.7 421.0L1034.6 412.4L1032.7 406.3L1033.3 397.7L1048.2 402.6L1055.0 412.4L1058.7 419.8L1062.4 427.1L1067.9 432.7L1074.7 438.2L1080.9 444.1L1085.2 450.4L1093.2 456.6L1100.6 461.5L1110.5 461.5L1110.5 154.9ZM866.0 162.3L872.2 172.1L880.8 175.1L887.0 178.2L890.7 181.3L895.6 183.7L901.8 186.8L908.0 189.2L914.2 191.1L922.8 193.5L927.7 192.7L926.5 189.9L919.7 183.5L914.2 181.3L907.4 177.1L903.7 173.1L895.6 168.4L877.1 162.3Z" fill="#d3d3d3" stroke="none"/>
<path fill="#0000cd" fill-rule="evenodd" d="M719.0,171.0L720.2,171.0L725.0,175.3L728.4,177.0L736.0,177.9L743.0,179.5L751.0,179.3L753.0,180.2L757.0,183.0L761.0,184.8L769.0,185.9L780.0,189.2L783.0,189.2L785.0,188.5L790.0,183.9L792.0,183.2L800.0,184.9L806.0,183.1L809.0,182.9L813.0,184.0L821.0,187.5L830.0,187.0L832.3,188.0L835.8,191.0L838.0,196.0L840.1,198.0L857.1,211.0L860.0,217.0L861.0,217.1L863.1,214.0L868.0,213.6L871.0,211.9L873.0,211.7L876.0,212.6L878.2,214.0L879.9,217.0L880.7,221.0L882.1,224.0L885.0,226.5L888.0,228.0L891.0,228.4L901.0,226.6L908.0,224.4L912.0,224.0L918.0,225.3L926.0,229.7L928.0,230.1L932.0,229.9L933.0,230.5L938.0,237.2L939.0,240.0L938.5,245.0L939.2,252.0L937.0,263.0L938.5,276.0L934.4,297.0L932.5,303.0L932.7,304.0L935.1,307.0L935.7,309.0L933.5,319.0L932.6,330.0L932.7,333.0L934.2,339.0L934.3,343.0L931.5,353.0L929.5,358.0L928.1,364.0L929.5,368.0L934.2,374.0L937.0,381.0L942.0,390.6L944.0,393.2L947.0,395.4L952.0,397.0L958.7,401.0L962.0,402.4L972.0,403.7L977.0,403.3L980.0,402.5L993.6,394.0L997.0,390.9L1004.0,388.5L1006.0,388.5L1013.0,391.1L1021.0,391.1L1029.0,393.4L1032.0,393.4L1039.0,389.7L1050.0,387.8L1056.2,383.0L1065.0,380.7L1071.0,377.8L1073.0,377.5L1077.0,378.3L1079.0,377.9L1083.0,374.5L1087.0,369.8L1092.0,367.1L1095.0,366.5L1095.0,513.2L1092.0,513.2L1090.0,512.6L1088.4,511.0L1083.0,503.0L1081.0,501.7L1077.0,500.9L1075.9,500.0L1075.2,498.0L1075.8,495.0L1077.0,492.7L1082.9,486.0L1084.1,484.0L1084.9,481.0L1084.8,477.0L1085.2,476.0L1093.3,466.0L1093.4,464.0L1092.8,463.0L1089.0,459.3L1085.0,453.0L1082.0,451.1L1079.0,451.2L1075.0,452.4L1064.0,452.4L1057.0,455.1L1055.0,455.0L1052.7,454.0L1048.8,451.0L1045.2,447.0L1045.4,446.0L1047.5,443.0L1048.5,440.0L1048.7,436.0L1047.8,434.0L1045.0,431.9L1041.0,430.7L1038.0,430.3L1034.0,430.6L1023.4,436.0L1021.0,438.0L1018.0,441.4L1015.0,442.9L1013.0,443.2L1006.0,442.4L1003.0,442.6L992.0,446.5L984.0,448.0L982.0,449.2L977.6,455.0L975.0,457.2L968.5,460.0L958.8,463.0L951.0,463.8L948.5,466.0L947.9,468.0L948.7,470.0L949.6,471.0L957.6,477.0L965.0,486.5L971.1,492.0L973.3,495.0L976.0,500.2L981.0,503.0L987.0,504.2L990.0,505.6L993.6,508.0L999.3,513.0L1005.9,517.0L1013.8,524.0L1017.3,528.0L1020.2,532.0L1021.8,537.0L1023.0,538.8L1025.0,539.8L1030.0,540.1L1032.0,540.8L1033.7,542.0L1035.0,544.0L949.6,544.0L948.4,543.0L941.8,540.0L939.6,538.0L935.0,532.3L932.0,530.2L927.0,529.4L920.0,530.6L916.0,529.3L913.0,527.5L910.0,524.0L907.4,518.0L904.0,513.6L893.3,506.0L891.0,503.3L888.0,498.0L884.0,495.5L882.0,493.6L881.0,491.6L879.8,487.0L873.6,476.0L864.0,468.7L862.0,467.8L857.0,468.5L854.0,467.8L846.0,463.6L839.0,457.3L832.0,454.9L827.0,451.7L821.0,450.7L814.0,448.2L812.0,446.9L808.0,442.9L806.0,441.8L804.0,441.3L801.0,441.6L800.0,441.0L801.0,438.0L800.9,436.0L799.6,433.0L798.0,431.5L796.0,431.3L790.0,433.6L788.0,433.4L786.0,430.2L782.0,420.0L779.0,415.1L775.3,404.0L774.2,402.0L770.1,397.0L760.0,389.2L758.0,388.1L756.0,387.7L752.0,387.8L747.0,389.0L742.5,388.0L734.6,382.0L728.0,376.1L725.0,374.5L719.2,373.0L719.0,350.2L728.0,351.7L733.2,355.0L734.4,357.0L730.7,363.0L730.0,366.0L730.4,369.0L732.0,371.2L738.0,376.4L741.0,377.1L743.0,376.7L744.3,375.0L745.7,371.0L747.0,370.1L759.0,372.0L764.0,374.7L781.0,381.7L784.9,384.0L791.0,392.1L793.7,397.0L795.2,401.0L797.0,403.1L801.0,404.7L803.0,404.4L808.0,402.4L810.0,403.3L812.0,403.5L813.3,403.0L815.2,399.0L819.7,394.0L828.0,390.0L830.4,388.0L831.9,386.0L833.1,382.0L832.6,371.0L832.0,368.7L831.0,367.8L818.0,361.6L811.0,356.5L805.4,351.0L804.3,349.0L804.6,347.0L807.0,345.7L812.0,345.4L815.0,346.2L823.0,349.7L829.0,350.2L836.6,353.0L839.0,353.2L840.0,352.0L839.8,351.0L837.8,348.0L836.3,341.0L831.4,333.0L825.6,327.0L818.0,314.0L811.6,307.0L806.0,299.5L804.0,297.7L800.0,296.8L798.8,296.0L798.0,294.2L797.3,290.0L795.6,286.0L791.1,280.0L787.2,274.0L785.3,272.0L779.0,269.4L777.0,269.3L773.0,270.3L771.0,268.3L769.0,267.8L764.0,268.2L759.0,270.4L756.0,270.9L753.0,270.5L747.0,268.8L737.0,269.3L730.0,269.1L719.0,267.0ZM1013.0,383.1L1012.7,382.0L1013.5,381.0L1015.0,380.4L1015.7,381.0L1014.0,383.0ZM1095.0,529.2L1095.0,544.0L1058.5,544.0L1060.5,542.0L1063.0,540.7L1071.0,537.6L1083.0,534.2L1091.0,530.2Z"/>
<path fill="#0066ff" fill-rule="evenodd" d="M719.0,173.7L725.0,177.9L727.0,178.7L735.0,179.4L743.0,181.4L751.0,181.7L760.0,186.2L763.0,186.9L771.0,187.6L781.0,191.1L785.0,190.8L792.0,187.4L799.1,189.0L808.0,185.9L812.0,186.6L821.0,189.8L829.0,190.4L832.0,192.8L836.1,199.0L849.0,209.4L857.9,225.0L864.0,230.2L868.0,231.2L871.0,234.2L879.0,235.9L897.0,230.6L907.0,229.4L914.0,230.2L916.0,230.9L919.0,234.1L924.0,237.9L926.0,242.7L929.0,246.5L932.7,254.0L932.3,256.0L929.7,262.0L930.9,266.0L929.4,274.0L931.0,279.0L931.0,283.0L931.6,287.0L931.3,291.0L930.0,297.0L926.0,304.0L925.4,306.0L926.0,309.0L928.7,315.0L929.6,318.0L929.8,331.0L931.8,339.0L932.0,343.0L929.0,353.0L924.9,361.0L924.6,364.0L927.0,369.5L933.0,376.7L941.0,391.9L944.0,396.2L946.0,397.7L952.0,399.7L963.0,405.6L972.0,407.2L980.0,407.0L986.0,405.7L995.0,406.4L997.0,405.0L999.6,401.0L1002.0,399.5L1007.0,399.9L1012.0,399.6L1019.0,397.8L1022.0,397.6L1027.0,398.7L1032.0,400.9L1034.0,400.2L1040.0,396.7L1051.0,395.0L1055.5,391.0L1059.0,389.1L1061.0,388.7L1066.0,390.1L1072.0,388.6L1082.0,381.7L1090.0,374.2L1092.0,373.1L1095.0,372.6L1095.0,461.3L1090.0,457.3L1088.4,455.0L1084.5,447.0L1079.0,442.2L1076.0,441.0L1071.0,440.8L1069.0,440.1L1067.2,438.0L1058.8,433.0L1053.9,429.0L1040.0,426.7L1033.0,427.3L1030.5,428.0L1015.0,437.7L1003.0,439.9L992.0,443.7L981.0,444.2L979.8,445.0L977.3,449.0L975.0,451.7L972.0,453.8L970.0,454.0L964.0,452.7L952.0,454.6L950.0,455.7L945.0,459.8L942.0,463.4L941.7,467.0L944.0,471.4L947.0,473.9L952.0,475.4L954.4,477.0L960.9,486.0L969.2,494.0L974.0,502.3L981.0,505.7L986.0,506.6L988.9,508.0L997.0,515.7L1003.0,518.9L1007.4,523.0L1012.0,526.4L1013.9,529.0L1017.7,540.0L1019.3,542.0L1021.8,544.0L958.4,544.0L958.1,542.0L957.5,541.0L955.0,538.9L953.0,538.0L948.0,537.6L944.0,535.7L940.1,531.0L934.9,526.0L932.0,524.9L924.0,523.6L919.0,521.1L912.0,515.5L907.0,508.2L898.0,502.3L891.0,494.3L886.0,491.0L884.1,484.0L878.6,473.0L876.0,470.3L870.0,465.7L866.0,460.6L864.0,459.5L855.8,457.0L846.9,453.0L845.8,451.0L846.2,447.0L845.4,444.0L844.1,443.0L840.5,442.0L838.1,440.0L836.0,435.0L832.0,430.1L829.0,424.0L826.0,422.2L823.0,421.5L822.2,422.0L823.4,438.0L822.3,440.0L821.0,440.8L819.0,441.1L817.0,440.4L809.7,435.0L806.9,430.0L805.0,428.0L799.0,425.0L795.0,423.8L792.1,422.0L790.8,420.0L789.6,416.0L784.0,409.0L780.8,402.0L773.0,394.8L767.5,391.0L758.8,382.0L758.2,381.0L759.0,380.7L762.0,380.8L769.0,383.0L775.0,383.4L780.0,385.3L781.9,387.0L789.5,397.0L790.0,399.0L790.0,404.3L791.2,407.0L799.1,414.0L801.0,414.4L808.0,414.0L816.0,410.4L823.0,405.5L828.0,401.0L830.3,398.0L833.6,395.0L835.9,391.0L838.2,388.0L839.4,385.0L838.6,378.0L839.6,372.0L840.5,370.0L844.5,365.0L845.8,359.0L847.1,356.0L847.0,353.0L845.7,348.0L841.9,341.0L838.9,331.0L837.0,329.1L833.0,326.9L825.0,318.0L821.9,310.0L816.0,304.5L815.0,299.4L811.5,293.0L806.0,289.0L803.0,286.1L799.0,280.9L794.1,276.0L791.4,272.0L789.3,270.0L783.0,267.7L775.0,263.4L770.0,262.1L764.0,262.2L754.0,266.0L751.0,265.2L747.0,262.0L745.0,262.4L741.0,264.6L738.0,265.1L735.0,264.7L727.0,262.5L719.0,263.4ZM820.0,416.1L819.1,417.0L819.2,418.0L821.0,420.3L821.4,420.0L821.0,416.9ZM811.5,352.0L812.0,350.9L815.0,351.0L829.0,354.7L831.6,356.0L832.4,357.0L832.0,358.0L831.0,358.4L828.0,358.6L824.0,356.6L818.4,356.0L813.0,353.9ZM1095.0,475.1L1095.0,503.1L1092.0,502.4L1090.6,501.0L1088.6,490.0L1090.6,482.0ZM1095.0,531.1L1095.0,544.0L1064.7,544.0L1076.0,540.5L1086.0,535.7L1091.8,532.0Z"/>
<path fill="#00bef8" fill-rule="evenodd" d="M719.0,177.7L725.0,180.5L734.0,180.7L742.0,182.7L750.0,183.4L760.0,187.5L771.0,188.7L781.0,192.3L785.0,192.3L792.0,190.3L797.0,191.4L800.0,191.4L806.0,189.2L808.0,188.9L815.0,190.0L822.0,192.5L828.0,193.3L830.0,194.6L833.1,199.0L844.0,211.0L849.0,221.3L850.9,224.0L854.0,227.0L858.1,230.0L863.9,238.0L868.0,241.6L874.0,243.4L881.0,243.0L888.0,240.2L893.0,236.8L898.0,235.7L900.0,236.2L904.0,238.6L912.0,238.6L914.0,239.0L915.3,240.0L918.6,248.0L920.4,250.0L923.3,252.0L924.6,254.0L922.4,259.0L922.8,264.0L924.3,270.0L922.9,277.0L923.8,281.0L926.4,288.0L926.9,291.0L926.2,296.0L922.2,303.0L921.7,306.0L923.0,311.0L926.4,320.0L926.9,328.0L929.4,340.0L929.6,343.0L927.0,352.2L922.5,360.0L922.2,364.0L924.4,369.0L931.4,378.0L942.3,397.0L945.0,399.5L951.0,401.4L961.0,407.9L968.0,410.5L973.0,411.4L980.0,411.5L986.0,411.0L991.0,411.6L996.0,412.9L1000.0,413.1L1004.0,411.6L1010.0,407.6L1015.0,406.0L1025.0,406.0L1032.0,407.7L1040.0,406.3L1047.0,401.0L1054.0,400.1L1060.0,397.6L1064.0,396.8L1069.0,394.8L1075.0,393.5L1077.2,392.0L1088.0,380.4L1093.0,377.2L1095.0,376.8L1095.0,453.4L1092.0,453.3L1091.0,452.8L1089.0,448.6L1087.7,442.0L1083.0,436.9L1077.9,434.0L1074.0,430.3L1068.0,427.9L1059.0,422.2L1053.0,421.3L1046.0,422.3L1039.0,422.2L1033.0,423.3L1028.0,425.5L1020.3,431.0L1015.0,433.5L1002.0,436.5L995.0,439.5L992.0,440.3L978.0,439.5L975.3,441.0L972.0,444.3L964.0,447.6L960.0,448.6L950.0,449.0L945.0,451.7L941.0,453.1L940.0,454.0L937.9,465.0L938.7,471.0L940.2,474.0L942.6,476.0L950.0,477.5L952.6,479.0L957.7,487.0L964.0,492.2L967.6,496.0L971.0,502.6L973.0,504.9L981.0,509.2L985.0,510.0L987.0,510.8L992.9,517.0L1009.8,529.0L1010.9,531.0L1012.6,538.0L1016.6,544.0L965.6,544.0L962.1,539.0L960.0,537.0L948.0,531.4L945.2,527.0L939.3,521.0L936.0,519.2L930.0,518.8L927.0,517.9L922.0,513.5L914.0,508.2L906.0,499.8L901.0,497.3L895.0,492.5L892.7,490.0L891.7,488.0L891.4,485.0L892.0,480.0L891.0,478.1L880.0,468.0L870.0,456.4L863.4,451.0L857.4,447.0L855.7,442.0L853.0,437.4L842.8,426.0L839.1,418.0L838.6,414.0L837.1,411.0L835.0,409.4L832.0,409.3L831.4,408.0L832.0,406.9L836.0,404.8L839.1,402.0L840.4,400.0L841.9,396.0L845.0,390.9L848.9,386.0L848.9,384.0L848.3,382.0L846.0,379.0L845.0,377.0L845.5,373.0L847.0,369.7L853.0,364.5L854.4,362.0L853.2,355.0L850.0,346.0L847.2,340.0L845.6,333.0L844.0,329.0L842.0,326.5L836.5,323.0L832.8,316.0L830.8,311.0L826.9,306.0L821.8,301.0L818.9,290.0L817.7,289.0L810.0,285.9L806.1,283.0L799.5,274.0L797.1,268.0L795.0,266.4L784.0,263.2L777.0,257.9L769.0,256.3L764.0,256.8L756.0,259.5L754.0,259.1L749.0,255.7L745.0,254.8L742.0,255.3L736.0,257.7L734.0,257.2L730.0,255.4L728.0,255.3L724.0,255.9L719.0,257.9ZM772.5,388.0L775.0,387.6L778.0,388.7L784.2,397.0L784.0,397.7L782.0,396.9L772.2,389.0ZM1095.0,533.1L1095.0,544.0L1079.0,544.0L1083.0,540.4L1088.0,537.4L1092.5,534.0Z"/>
<path fill="#00ecd8" fill-rule="evenodd" d="M719.0,181.7L725.0,182.6L733.0,182.0L741.0,184.0L750.0,185.0L761.0,188.9L772.0,189.9L781.0,193.5L785.0,193.6L791.0,192.5L799.0,193.5L808.0,191.5L815.0,192.6L822.0,195.6L827.0,196.8L829.0,198.2L834.0,203.2L837.0,208.8L845.9,223.0L851.0,229.3L856.0,234.0L863.0,245.3L868.7,248.0L874.0,252.0L876.0,252.5L881.0,251.3L888.0,250.8L895.0,247.2L901.0,246.2L904.0,247.3L908.0,251.3L912.9,254.0L916.2,262.0L916.7,267.0L918.3,271.0L917.9,278.0L918.4,281.0L921.1,287.0L922.0,290.0L921.9,295.0L919.1,302.0L918.7,305.0L923.5,320.0L923.8,326.0L926.5,343.0L926.3,346.0L925.1,351.0L920.1,360.0L920.1,364.0L922.4,369.0L931.0,380.9L937.0,390.2L942.0,399.6L944.0,401.1L951.0,403.8L961.2,411.0L972.0,415.6L975.0,415.7L982.0,414.6L985.0,414.6L990.5,416.0L995.0,417.9L1001.0,418.5L1010.0,417.1L1014.0,415.1L1020.0,413.3L1034.0,413.3L1042.0,412.3L1045.5,411.0L1052.0,406.1L1058.0,404.4L1064.0,401.8L1069.0,399.0L1079.0,395.4L1083.8,391.0L1089.0,383.4L1092.4,381.0L1095.0,379.9L1095.0,430.7L1093.0,430.5L1089.0,426.8L1085.0,425.8L1081.0,422.4L1075.0,420.1L1067.0,419.1L1060.0,415.8L1055.0,416.2L1049.0,415.7L1043.0,417.1L1037.0,417.6L1032.0,418.6L1016.1,429.0L1008.0,431.6L1004.0,432.3L997.0,432.4L990.8,435.0L987.0,436.0L984.0,436.0L979.0,434.3L977.0,434.6L973.0,436.8L969.0,440.1L959.0,443.9L956.0,444.0L950.0,442.8L945.0,443.1L941.0,441.4L935.0,439.6L931.0,437.3L928.0,437.0L926.3,438.0L927.0,441.1L930.4,446.0L931.5,452.0L934.3,459.0L934.9,472.0L936.0,476.0L937.0,477.8L939.9,479.0L947.6,480.0L950.0,481.3L955.0,489.0L957.0,490.6L962.0,493.5L965.0,496.3L967.0,499.2L969.7,505.0L972.0,507.9L980.0,514.6L986.0,516.5L996.0,522.9L1006.0,530.7L1007.3,533.0L1009.0,539.9L1013.0,544.0L975.1,544.0L973.3,541.0L968.0,537.5L963.0,533.0L958.0,530.6L955.0,528.6L945.0,517.7L938.0,514.3L933.0,513.0L928.0,509.5L921.0,506.7L918.0,504.5L914.6,501.0L912.0,496.0L910.0,493.8L908.0,492.2L900.0,488.1L898.9,487.0L898.3,485.0L898.1,477.0L897.1,474.0L883.0,463.1L880.0,459.1L876.1,455.0L870.0,445.6L866.0,443.0L864.9,441.0L863.8,434.0L862.7,431.0L861.0,429.1L856.0,425.4L854.0,423.2L852.7,421.0L851.0,416.0L847.6,411.0L846.9,409.0L846.9,404.0L850.6,396.0L852.8,394.0L858.0,391.0L858.5,390.0L857.8,384.0L856.2,379.0L855.8,376.0L853.9,372.0L856.0,370.1L860.0,368.3L862.0,366.0L862.7,364.0L862.3,359.0L864.3,354.0L864.1,352.0L862.0,349.9L860.0,349.0L856.0,348.1L854.7,347.0L850.4,336.0L848.7,326.0L847.0,324.1L842.0,321.5L840.4,320.0L838.6,314.0L836.0,308.2L832.0,302.4L828.3,298.0L825.0,285.9L824.0,284.0L821.0,282.9L814.0,283.0L811.1,282.0L809.0,280.5L806.9,278.0L805.3,275.0L804.0,268.5L795.0,259.2L790.0,256.0L784.1,253.0L782.0,252.4L775.0,252.3L770.0,251.7L762.0,253.2L756.0,253.4L747.7,251.0L743.0,250.2L738.0,249.7L728.0,250.2L719.0,249.2ZM1095.0,535.4L1095.0,544.0L1085.5,544.0L1085.6,543.0L1087.0,541.0L1093.0,536.3Z"/>
<path fill="#00d89a" fill-rule="evenodd" d="M719.0,184.0L726.0,184.4L733.0,183.7L740.0,185.4L749.0,186.2L761.0,189.9L772.0,190.9L779.0,194.1L782.0,194.7L791.0,194.3L797.0,195.2L808.0,194.0L815.0,195.2L821.0,198.9L830.0,203.1L832.0,204.8L836.0,213.3L841.0,221.6L854.0,238.6L856.8,246.0L858.0,248.0L868.0,260.7L873.1,265.0L876.0,269.7L878.0,271.7L880.0,272.4L882.4,272.0L883.2,271.0L885.5,265.0L887.6,262.0L889.0,260.9L895.0,258.2L897.0,257.7L902.0,257.8L905.0,257.3L907.0,258.3L908.6,260.0L910.4,263.0L914.4,273.0L915.0,282.0L918.3,292.0L918.1,295.0L915.2,302.0L915.1,304.0L920.4,319.0L920.2,327.0L920.7,332.0L920.3,337.0L922.0,343.0L922.4,348.0L922.0,351.0L917.6,360.0L917.5,363.0L918.5,366.0L936.0,391.0L938.2,395.0L940.0,399.9L942.0,402.1L949.0,404.9L959.0,412.5L973.0,419.7L976.0,419.8L982.0,418.1L986.0,418.4L992.0,421.3L1000.0,423.4L1002.2,425.0L1002.4,426.0L1000.0,426.7L993.0,426.3L990.0,426.6L983.0,430.4L976.0,431.1L965.4,436.0L956.0,438.2L946.0,437.8L929.0,431.7L921.0,431.8L920.3,434.0L921.9,441.0L924.5,448.0L926.0,455.4L928.3,460.0L931.2,468.0L933.4,478.0L935.0,480.0L945.0,482.0L948.0,483.6L952.0,489.7L954.0,491.9L957.0,493.8L961.0,495.7L963.0,497.3L965.5,501.0L969.0,508.6L980.0,520.4L983.0,522.2L989.0,522.8L992.0,523.8L1002.0,532.0L1003.3,534.0L1005.0,540.0L1007.2,544.0L983.7,544.0L982.3,542.0L976.9,537.0L969.0,532.0L965.0,527.9L959.7,526.0L957.0,524.2L949.0,512.5L947.0,511.4L942.0,509.8L935.0,508.6L929.0,503.7L924.0,501.5L913.0,490.8L909.0,486.2L905.2,483.0L903.9,480.0L903.8,474.0L903.1,472.0L897.8,467.0L894.7,463.0L888.1,459.0L884.9,452.0L883.9,448.0L880.0,445.1L879.2,444.0L879.0,442.0L881.1,438.0L881.2,437.0L880.1,435.0L877.1,432.0L873.5,424.0L870.0,420.0L865.0,419.7L863.3,419.0L862.0,417.7L860.5,415.0L860.6,413.0L861.5,410.0L861.5,408.0L860.4,406.0L858.0,403.5L857.6,401.0L858.0,400.0L860.3,398.0L867.0,394.6L868.5,393.0L869.5,391.0L869.2,389.0L865.7,381.0L865.0,378.0L865.5,376.0L869.5,367.0L868.6,360.0L868.2,351.0L867.0,348.7L862.2,345.0L856.8,339.0L854.1,333.0L853.2,326.0L852.0,322.8L850.0,320.2L846.5,318.0L845.0,316.5L841.1,308.0L837.8,304.0L832.3,295.0L830.7,290.0L829.7,280.0L828.0,278.5L825.0,277.6L821.0,277.3L816.0,277.8L813.0,277.0L811.5,275.0L811.3,271.0L809.8,267.0L808.2,265.0L804.0,261.6L800.2,257.0L797.7,255.0L790.0,250.7L784.0,248.1L779.0,247.1L771.0,247.0L764.0,249.0L761.0,249.3L754.0,247.6L745.3,247.0L737.0,244.7L727.0,245.5L719.0,245.4ZM1095.0,383.4L1095.0,414.1L1093.0,413.5L1089.0,413.5L1087.0,412.6L1083.8,410.0L1079.0,407.9L1073.0,404.1L1072.7,403.0L1074.9,401.0L1083.1,398.0L1086.4,396.0L1087.9,394.0L1090.4,387.0L1092.1,385.0ZM1095.0,538.1L1095.0,544.0L1089.3,544.0L1089.6,542.0L1090.4,541.0L1093.0,538.8Z"/>
<path fill="#30b818" fill-rule="evenodd" d="M719.0,185.6L726.0,186.1L733.0,185.7L739.0,186.9L749.0,187.6L762.0,191.2L771.9,192.0L778.0,194.9L781.0,195.7L790.0,196.0L796.0,196.8L807.0,196.4L812.0,196.9L815.0,198.1L822.0,203.7L829.0,206.2L831.0,208.6L838.0,222.5L841.9,228.0L844.0,232.4L847.8,237.0L856.1,256.0L860.1,260.0L867.0,268.3L871.0,271.6L878.0,284.5L879.0,285.8L881.0,287.1L882.0,287.0L885.0,284.5L890.0,283.4L894.0,281.1L895.7,279.0L900.3,269.0L905.0,265.1L906.0,265.1L907.0,266.1L911.0,275.0L912.3,286.0L913.5,292.0L913.3,296.0L910.9,302.0L910.8,305.0L916.0,315.0L917.1,319.0L916.2,334.0L918.4,343.0L918.6,347.0L917.9,351.0L914.8,360.0L915.0,363.0L915.8,366.0L923.0,375.2L935.0,392.0L936.6,395.0L938.6,401.0L940.1,403.0L942.0,404.3L948.0,406.8L958.0,414.8L966.0,418.4L972.0,422.4L975.0,423.4L981.0,423.0L983.1,424.0L983.0,425.0L982.1,426.0L980.0,427.0L970.0,428.4L962.0,428.1L953.0,432.3L948.0,433.4L943.0,432.5L931.0,427.5L923.0,425.9L916.0,422.5L913.0,422.9L911.3,425.0L911.0,427.0L911.7,429.0L914.0,432.2L915.0,435.0L915.2,437.0L914.3,442.0L914.9,447.0L917.1,454.0L918.2,460.0L919.9,463.0L927.1,470.0L929.0,473.8L930.4,479.0L931.6,481.0L934.0,482.2L942.0,483.4L946.0,485.1L952.0,493.3L955.8,496.0L960.0,497.9L962.0,499.6L963.4,502.0L965.5,508.0L966.8,510.0L975.0,518.0L979.0,522.9L983.0,525.1L989.0,526.0L991.0,526.8L998.8,534.0L1000.1,536.0L1003.4,544.0L994.4,544.0L994.3,541.0L993.9,540.0L992.0,538.3L978.0,530.9L966.0,522.9L960.0,519.5L952.9,509.0L951.0,507.9L942.7,506.0L938.0,504.3L934.4,502.0L931.0,498.7L925.0,495.4L921.6,490.0L917.0,486.1L915.5,484.0L915.2,482.0L915.7,478.0L914.9,476.0L909.5,470.0L905.9,467.0L901.8,461.0L894.8,456.0L893.7,453.0L893.4,447.0L892.0,439.0L889.0,429.2L887.5,427.0L881.5,421.0L879.0,415.5L876.3,412.0L876.3,411.0L877.9,408.0L877.9,406.0L875.8,402.0L873.0,398.0L873.2,397.0L874.8,395.0L878.8,392.0L879.2,390.0L878.4,387.0L874.0,378.3L873.3,376.0L873.1,373.0L874.2,367.0L872.5,361.0L871.7,352.0L871.0,349.0L869.1,346.0L860.6,337.0L859.0,334.6L857.5,330.0L856.3,322.0L854.8,319.0L849.1,313.0L844.0,305.5L840.7,302.0L836.3,295.0L834.8,291.0L834.0,287.0L833.8,284.0L834.6,278.0L834.0,276.5L829.0,273.3L823.0,270.6L817.1,266.0L814.0,262.7L802.0,253.1L795.0,249.4L790.0,246.1L787.0,244.9L778.0,242.6L770.0,241.3L768.0,241.4L764.0,243.4L762.0,243.9L757.0,242.6L747.0,243.3L743.0,242.3L738.0,240.2L735.0,239.7L729.0,239.6L725.0,240.7L719.0,241.3ZM1095.0,401.4L1095.0,405.0L1092.0,405.0L1090.6,404.0Z"/>
<path fill="#9fe00a" fill-rule="evenodd" d="M719.0,187.1L732.0,187.6L738.0,188.6L747.0,188.6L752.0,189.5L762.0,192.2L771.0,193.0L778.0,196.1L781.0,196.9L794.0,198.4L801.0,198.2L811.0,199.1L814.0,200.4L820.6,206.0L828.0,208.9L830.5,212.0L835.5,224.0L839.2,230.0L841.8,244.0L843.0,246.0L847.0,250.0L851.0,261.3L852.8,263.0L856.3,265.0L859.8,269.0L869.0,277.1L876.1,288.0L883.2,296.0L889.7,301.0L892.0,305.4L894.0,306.7L904.0,310.2L905.2,311.0L907.7,314.0L911.4,320.0L912.1,329.0L911.7,336.0L915.0,343.0L914.7,347.0L912.0,353.8L911.5,356.0L912.9,365.0L914.0,368.0L922.0,376.7L933.2,392.0L935.3,396.0L937.0,402.0L938.3,404.0L941.0,406.0L947.4,409.0L958.0,418.4L962.9,420.0L964.6,421.0L965.0,422.0L959.0,422.1L954.0,424.6L950.0,425.3L948.0,424.9L945.8,422.0L944.0,421.0L934.0,422.1L918.0,416.8L913.0,416.8L907.0,417.4L902.0,416.6L900.9,417.0L899.9,420.0L900.1,423.0L901.4,428.0L902.7,431.0L907.2,436.0L908.4,447.0L910.0,451.0L911.6,457.0L914.7,463.0L920.1,469.0L925.5,477.0L927.7,482.0L929.0,483.3L931.0,484.4L939.0,484.7L942.0,485.5L944.5,487.0L948.4,493.0L950.0,494.7L954.0,497.8L959.7,501.0L960.8,503.0L962.6,511.0L964.0,512.8L966.8,515.0L967.2,516.0L964.5,515.0L961.0,510.8L959.5,508.0L957.0,505.6L954.0,504.2L948.0,502.8L943.0,501.1L930.9,493.0L929.3,491.0L925.3,483.0L922.0,478.8L918.6,473.0L910.9,464.0L908.4,457.0L906.0,455.0L900.0,453.1L898.6,452.0L898.0,450.5L897.8,448.0L898.2,435.0L895.8,429.0L893.1,419.0L893.0,415.8L889.0,415.2L886.9,413.0L887.1,411.0L891.0,407.5L892.1,406.0L893.0,403.0L892.8,401.0L888.4,391.0L885.1,386.0L885.1,381.0L884.5,379.0L880.2,372.0L879.7,367.0L876.4,360.0L876.9,354.0L876.4,351.0L874.5,347.0L864.8,334.0L862.1,328.0L862.0,322.0L859.4,317.0L854.0,312.0L850.4,307.0L844.7,301.0L842.0,296.0L839.0,291.9L838.0,289.0L837.7,286.0L838.0,283.3L839.7,278.0L839.7,276.0L839.0,274.0L837.9,273.0L834.0,271.2L826.0,265.4L822.0,263.3L817.0,257.1L808.0,250.5L797.8,246.0L791.0,240.1L789.0,239.0L787.0,238.7L781.0,239.2L768.0,236.8L762.0,237.6L753.0,236.1L751.0,236.4L747.0,238.1L745.0,238.1L733.0,233.7L719.0,232.9ZM970.9,519.0L972.0,519.1L973.5,521.0L973.0,521.4Z"/>
<path fill="#fff000" fill-rule="evenodd" d="M719.0,188.4L732.0,189.3L738.0,190.4L745.0,189.9L750.0,190.4L762.0,193.4L771.0,194.5L780.0,198.1L793.0,200.1L801.0,199.9L809.0,201.0L812.0,201.9L819.0,207.4L826.7,211.0L829.1,214.0L830.7,219.0L831.6,224.0L834.7,233.0L833.8,243.0L831.0,249.6L830.0,250.1L825.0,250.7L823.0,249.4L819.0,245.4L802.9,242.0L793.8,235.0L789.0,232.7L786.0,232.5L780.0,233.5L774.0,233.5L765.0,230.6L759.0,231.6L751.0,229.7L745.0,230.6L719.0,228.1ZM832.7,253.0L835.0,252.6L836.3,253.0L837.3,254.0L837.4,260.0L839.0,263.4L847.0,266.3L853.0,271.7L859.0,274.2L861.7,276.0L867.3,283.0L868.7,286.0L869.0,287.7L864.0,290.0L858.0,290.6L852.0,294.8L850.0,294.8L849.1,294.0L848.5,291.0L848.9,279.0L845.1,274.0L843.0,268.8L841.0,267.3L836.0,265.8L833.5,264.0L832.8,262.0L833.3,258.0L832.5,254.0ZM870.0,288.4L875.0,292.5L880.0,298.3L885.8,303.0L886.6,305.0L887.2,310.0L890.0,311.8L894.6,313.0L896.3,314.0L898.1,317.0L902.5,322.0L903.3,324.0L902.3,330.0L902.5,335.0L903.7,338.0L907.5,344.0L908.3,346.0L907.5,355.0L911.2,368.0L914.0,372.0L921.0,378.3L931.9,393.0L933.4,396.0L934.7,402.0L936.3,405.0L938.8,407.0L946.1,411.0L948.4,414.0L948.7,415.0L948.0,415.5L934.0,415.8L928.0,414.3L923.0,410.6L920.0,410.4L914.0,411.8L911.0,411.7L907.9,411.0L905.6,409.0L903.3,401.0L899.4,395.0L895.8,386.0L896.0,378.0L898.3,373.0L897.0,367.4L893.4,362.0L889.7,358.0L888.5,352.0L884.8,350.0L884.2,346.0L883.6,345.0L875.4,340.0L874.2,338.0L875.1,332.0L876.0,330.8L878.0,329.7L880.0,327.6L881.5,325.0L881.7,323.0L881.0,321.7L878.5,320.0L879.5,311.0L878.7,309.0L875.0,303.1L870.0,301.5L868.8,300.0L868.5,298.0Z"/>
<path fill="#ffc800" fill-rule="evenodd" d="M719.0,189.8L730.0,190.4L738.0,192.1L745.0,191.5L750.8,192.0L761.0,194.6L770.0,196.1L779.0,199.8L793.0,202.4L801.0,202.0L811.0,204.3L813.0,205.4L818.0,209.7L821.4,212.0L824.0,215.0L824.4,218.0L822.5,222.0L822.2,224.0L822.3,228.0L823.4,233.0L823.0,235.9L822.0,236.8L814.0,234.3L809.0,233.5L804.0,229.6L801.0,228.7L795.0,229.1L787.0,228.0L775.0,228.4L773.0,227.7L768.0,224.7L760.0,225.7L750.0,222.9L745.0,223.6L737.0,224.0L728.0,223.1L719.0,223.4ZM909.0,372.7L914.0,376.4L918.0,378.7L920.0,380.7L930.2,394.0L931.4,397.0L932.5,403.0L934.0,406.0L935.0,407.3L939.2,410.0L940.0,411.0L939.0,411.7L937.0,411.8L931.4,410.0L929.0,408.7L926.0,406.0L920.5,404.0L918.0,402.0L917.2,400.0L916.4,393.0L913.0,382.8L909.6,378.0L908.6,374.0Z"/>
<path fill="#ffa000" fill-rule="evenodd" d="M719.0,191.2L730.0,191.9L738.0,193.9L745.0,193.4L750.0,193.8L766.2,198.0L779.0,205.0L792.0,208.4L798.9,211.0L801.2,214.0L801.6,217.0L800.8,218.0L795.0,220.7L791.0,221.4L788.0,221.1L779.0,218.7L774.0,219.2L769.0,218.8L762.0,220.6L749.0,216.8L741.0,218.5L734.0,217.5L727.0,217.3L722.0,218.3L719.0,218.2Z"/>
<path fill="#ff7800" fill-rule="evenodd" d="M719.0,192.9L729.0,193.4L737.0,195.9L747.0,196.6L750.0,197.4L756.0,200.0L762.0,201.0L764.0,202.0L768.0,207.0L772.0,210.0L767.0,211.1L761.0,213.2L755.0,213.9L741.0,212.6L735.0,211.2L729.0,210.4L719.0,211.8Z"/>
<path fill="#ff0a00" fill-rule="evenodd" d="M719.0,194.8L728.0,195.2L736.0,198.2L742.0,198.8L746.1,200.0L749.5,202.0L750.7,204.0L750.9,206.0L750.0,206.9L748.0,207.0L740.0,205.0L730.0,204.2L719.0,205.6Z"/>
<g stroke="#9a9a9a" stroke-width="1" stroke-dasharray="7 3" fill="none"><line x1="783.25" y1="173.3" x2="783.25" y2="541.2"/><line x1="721.5" y1="234.62" x2="1092" y2="234.62"/><line x1="845.00" y1="173.3" x2="845.00" y2="541.2"/><line x1="721.5" y1="295.93" x2="1092" y2="295.93"/><line x1="906.75" y1="173.3" x2="906.75" y2="541.2"/><line x1="721.5" y1="357.25" x2="1092" y2="357.25"/><line x1="968.50" y1="173.3" x2="968.50" y2="541.2"/><line x1="721.5" y1="418.57" x2="1092" y2="418.57"/><line x1="1030.25" y1="173.3" x2="1030.25" y2="541.2"/><line x1="721.5" y1="479.88" x2="1092" y2="479.88"/></g>
<path d="M901.8 154.9L906.8 168.4L909.8 173.3L912.9 175.8L920.3 179.4L929.6 181.9L930.8 185.6L937.6 188.6L936.4 192.9L940.1 199.1L939.5 202.7L938.2 207.6L932.7 208.9L933.9 204.6L935.8 199.7L934.2 196.4L926.5 196.0L910.2 193.2L911.1 199.1L915.4 205.8L917.9 211.3L918.5 214.4L918.5 219.3L919.5 228.5L918.2 239.5L914.8 254.8L912.2 261.1L916.6 271.4L916.6 274.5L917.2 283.1L914.2 290.5L918.5 295.9L921.3 303.3L922.4 308.8L930.8 316.8L931.5 320.5L937.6 322.9L937.6 326.6L943.2 333.3L946.3 335.2L945.0 337.6L945.0 341.3L953.1 349.3L959.2 355.4L960.5 362.4L962.7 364.0L972.2 364.6L978.4 367.7L983.3 369.5L988.3 372.6L994.4 374.4L1000.6 379.3L1002.5 385.4L1004.1 387.9L1010.5 395.9L1014.2 406.3L1018.5 413.7L1021.6 421.0L1027.8 425.9L1036.4 432.0L1041.4 443.1L1029.6 444.9L1039.5 454.1L1048.2 459.0L1062.4 465.2L1066.1 470.1L1064.8 482.3L1072.2 488.5L1085.8 498.3L1092.6 505.6L1098.8 503.8L1098.8 499.5L1088.3 490.3L1083.4 482.3L1078.4 473.7L1075.3 467.6L1067.9 456.6L1064.2 451.1L1057.4 443.1L1048.2 431.4L1037.7 421.0L1034.6 412.4L1032.7 406.3L1033.3 397.7L1048.2 402.6L1055.0 412.4L1058.7 419.8L1062.4 427.1L1067.9 432.7L1074.7 438.2L1080.9 444.1L1085.2 450.4L1093.2 456.6L1100.6 461.5L1110.5 461.5L1110.5 154.9ZM866.0 162.3L872.2 172.1L880.8 175.1L887.0 178.2L890.7 181.3L895.6 183.7L901.8 186.8L908.0 189.2L914.2 191.1L922.8 193.5L927.7 192.7L926.5 189.9L919.7 183.5L914.2 181.3L907.4 177.1L903.7 173.1L895.6 168.4L877.1 162.3ZM927.7 185.6L1116.7 185.6M919.1 219.3L929.0 220.5L933.9 226.6L943.8 227.3L953.7 226.0L961.1 226.6L973.4 223.6L980.8 222.4L1006.5 222.4M1005.1 185.6L1005.1 217.4L1006.5 222.4L1009.3 230.9L1003.1 243.2L1004.9 245.0L1005.2 271.4M1017.3 185.6L1017.3 198.1L1021.6 205.2L1030.9 210.1L1038.3 214.4L1036.4 227.3L1043.2 229.1L1051.2 237.1L1056.8 242.0L1073.5 240.7L1079.0 241.1L1079.0 283.7L1116.7 283.7M1079.0 234.6L1116.7 234.6M916.6 271.4L1079.0 271.4M968.5 271.4L968.5 308.2L1034.8 357.2L1040.7 365.8L1034.0 376.9L1033.7 385.2M1042.0 271.4L1042.0 343.8L1034.0 345.0L1034.8 357.2M1042.0 332.7L1116.7 332.7M1004.1 387.5L1033.7 385.2L1032.7 387.9L1078.8 402.3L1116.7 402.3M1041.4 443.1L1057.4 443.1M1057.4 275.1L1055.0 278.1L1056.8 282.4L1061.1 286.7L1064.8 287.3L1066.1 283.7L1063.6 280.0L1061.1 276.3Z" fill="none" stroke="#444" stroke-width="0.6" stroke-linejoin="round"/>
<path d="M706.9,170.1L727.1,166.7M711.5,169.4l-3.8,-4.6M714.0,169.0l-3.8,-4.6M716.4,168.5l-1.9,-2.3M730.4,171.0L750.8,169.8M735.1,170.8l-3.3,-5.0M737.6,170.6l-1.7,-2.5M755.5,171.7L776.0,170.2M760.2,171.4l-3.4,-5.0M780.8,171.5L801.3,170.5M785.5,171.2l-3.3,-5.0M802.4,171.1L822.4,167.0M807.0,170.2l-4.0,-4.5M838.1,177.8L839.7,157.3M838.5,173.1l-2.7,1.3M857.5,180.0L865.9,161.3M886.4,179.9L894.2,161.0M886.4,179.9l-5.9,0.8M887.4,177.6l-5.9,0.8M888.3,175.3l-5.9,0.8M889.3,173.0l-5.9,0.8M919.1,162.4L905.6,177.8M919.1,162.4l5.9,1.2M917.5,164.3l5.9,1.2M915.8,166.2l5.9,1.2M914.2,168.1l2.9,0.6M938.2,160.1L935.8,180.4M938.2,160.1l5.5,-2.4M937.9,162.6l5.5,-2.4M937.6,165.0l5.5,-2.4M937.3,167.5l2.8,-1.2M953.5,164.1L969.7,176.7M953.5,164.1l0.8,-5.9M955.5,165.7l0.8,-5.9M957.5,167.2l0.8,-5.9M990.5,161.1L987.8,181.4M990.5,161.1l5.5,-2.3M990.2,163.6l5.5,-2.3M989.8,166.0l2.8,-1.1M1011.5,160.9L1015.4,181.0M1011.5,160.9l4.5,-3.9M1012.0,163.3l4.5,-3.9M1012.4,165.8l2.3,-2.0M1029.6,162.9L1045.2,176.2M1029.6,162.9l1.1,-5.9M1031.5,164.5l1.1,-5.9M1033.4,166.1l0.5,-3.0M1063.0,157.4L1063.0,177.9M1063.0,157.4l5.2,-3.0M1063.0,159.9l5.2,-3.0M1063.0,162.4l2.6,-1.5M1085.3,159.5L1085.6,180.0M1085.3,159.5l5.2,-3.1M1085.4,162.0l5.2,-3.1M1085.4,164.5l2.6,-1.5M717.5,188.5L738.0,188.3M725.3,188.4l-1.5,-2.6M741.1,185.6L761.6,185.3M745.8,185.5l-3.1,-5.1M748.3,185.5l-3.1,-5.1M750.8,185.5l-3.1,-5.1M753.3,185.4l-1.5,-2.6M765.5,189.0L786.0,189.1M770.2,189.0l-3.0,-5.2M772.7,189.0l-3.0,-5.2M775.2,189.1l-1.5,-2.6M790.2,186.4L810.7,185.8M794.9,186.3l-3.1,-5.1M797.4,186.2l-3.1,-5.1M799.9,186.1l-1.6,-2.6M816.1,189.9L836.2,185.5M820.7,188.9l-4.0,-4.4M823.2,188.4l-4.0,-4.4M825.6,187.8l-2.0,-2.2M842.5,187.8L862.5,183.2M847.1,186.8l-4.1,-4.4M868.8,183.2L886.7,193.3M872.9,185.5l-0.0,-3.0M892.4,179.1L907.6,192.8M892.4,179.1l1.3,-5.9M894.3,180.8l1.3,-5.9M896.1,182.4l1.3,-5.9M898.0,184.1l1.3,-5.9M899.8,185.8l0.6,-2.9M926.9,177.4L924.7,197.8M926.9,177.4l5.5,-2.4M926.7,179.9l5.5,-2.4M926.4,182.4l5.5,-2.4M926.1,184.8l5.5,-2.4M925.9,187.3l2.7,-1.2M946.1,176.1L952.4,195.6M946.1,176.1l4.0,-4.4M946.9,178.5l4.0,-4.4M947.6,180.9l4.0,-4.4M948.4,183.3l4.0,-4.4M977.9,177.8L973.9,197.9M977.9,177.8l5.7,-1.9M977.4,180.3l5.7,-1.9M976.9,182.7l5.7,-1.9M1000.0,175.9L1001.5,196.3M1000.0,175.9l4.9,-3.4M1000.2,178.4l4.9,-3.4M1000.3,180.8l2.5,-1.7M1018.3,177.9L1032.0,193.1M1018.3,177.9l1.9,-5.7M1020.0,179.7l1.9,-5.7M1021.6,181.6l0.9,-2.9M1055.8,180.6L1038.2,191.2M1055.8,180.6l5.2,2.9M1053.6,181.9l5.2,2.9M1051.5,183.2l2.6,1.5M1073.1,177.2L1076.4,197.5M1073.1,177.2l4.7,-3.8M1073.5,179.7l4.7,-3.8M1073.9,182.2l2.3,-1.9M1089.0,184.7L1108.7,190.4M1089.0,184.7l-1.4,-5.8M1091.4,185.4l-1.4,-5.8M1093.8,186.1l-0.7,-2.9M707.7,210.3L724.4,198.5M714.0,205.8l-5.4,-2.5M716.1,204.4l-5.4,-2.5M718.1,202.9l-5.4,-2.5M720.2,201.5l-2.7,-1.3M730.8,202.6L751.3,203.7M738.6,203.0l-2.7,-5.3M741.1,203.2l-2.7,-5.3M743.6,203.3l-2.7,-5.3M746.1,203.4l-1.4,-2.7M754.2,202.8L774.6,203.8M762.0,203.2l-2.7,-5.3M764.5,203.3l-2.7,-5.3M767.0,203.4l-2.7,-5.3M777.9,206.4L798.3,207.0M785.7,206.6l-2.8,-5.3M788.2,206.7l-2.8,-5.3M804.5,206.5L825.0,206.1M812.3,206.3l-3.1,-5.1M829.2,205.9L849.7,204.9M833.9,205.6l-3.2,-5.1M836.4,205.5l-3.2,-5.1M838.9,205.4l-3.2,-5.1M855.3,202.1L874.5,209.1M859.7,203.7l-1.0,-5.9M862.0,204.5l-0.5,-3.0M880.5,198.9L896.4,211.8M884.1,201.8l1.0,-5.9M910.6,194.6L916.1,214.3M911.9,199.1l2.1,-2.1M935.9,194.8L941.1,214.6M937.1,199.4l2.1,-2.1M956.0,197.7L970.2,212.4M956.0,197.7l1.7,-5.8M957.7,199.5l1.7,-5.8M959.5,201.3l1.7,-5.8M961.2,203.1l1.7,-5.8M962.9,204.9l0.8,-2.9M981.6,198.0L994.8,213.7M981.6,198.0l2.0,-5.6M983.2,199.9l2.0,-5.6M984.8,201.9l2.0,-5.6M1007.3,196.4L1012.8,216.1M1007.3,196.4l4.2,-4.3M1008.0,198.8l4.2,-4.3M1008.7,201.2l2.1,-2.1M1029.7,198.7L1046.7,210.2M1029.7,198.7l0.4,-6.0M1031.8,200.1l0.4,-6.0M1033.8,201.5l0.2,-3.0M1054.6,199.6L1069.8,213.4M1054.6,199.6l1.3,-5.9M1056.5,201.3l1.3,-5.9M1058.3,203.0l0.6,-2.9M1076.6,199.5L1095.4,207.7M1076.6,199.5l-0.7,-6.0M1078.9,200.5l-0.7,-6.0M1081.2,201.5l-0.3,-3.0M718.7,226.3L738.8,222.4M726.4,224.8l-3.9,-4.5M741.6,220.9L762.0,222.9M749.4,221.6l-2.5,-5.5M751.8,221.9l-1.2,-2.7M768.1,222.1L788.5,224.1M775.9,222.8l-2.5,-5.5M778.4,223.1l-2.5,-5.5M789.8,221.2L810.2,222.4M797.6,221.6l-2.7,-5.4M800.1,221.8l-2.7,-5.4M815.3,222.4L835.7,224.2M823.1,223.1l-2.5,-5.4M842.1,219.2L861.1,227.0M846.5,220.9l-0.8,-5.9M848.8,221.9l-0.8,-5.9M851.1,222.9l-0.8,-5.9M868.9,214.7L881.9,230.5M871.9,218.3l2.1,-5.6M873.5,220.2l2.1,-5.6M875.1,222.1l1.0,-2.8M897.9,213.4L903.6,233.1M899.2,217.9l4.2,-4.3M899.9,220.3l2.1,-2.2M923.3,213.9L928.1,233.8M924.4,218.5l4.3,-4.1M925.0,220.9l2.2,-2.1M945.5,216.2L958.8,231.8M948.5,219.8l1.0,-2.8M972.0,215.0L977.6,234.8M972.0,215.0l4.2,-4.3M972.7,217.5l4.2,-4.3M973.4,219.9l4.2,-4.3M974.1,222.3l4.2,-4.3M974.7,224.7l2.1,-2.2M998.2,214.6L997.9,235.1M998.2,214.6l5.2,-2.9M998.2,217.1l5.2,-2.9M998.1,219.6l5.2,-2.9M1016.3,216.5L1032.3,229.3M1016.3,216.5l0.9,-5.9M1018.2,218.1l0.9,-5.9M1020.2,219.6l0.5,-3.0M1040.3,221.4L1060.4,225.4M1040.3,221.4l-1.9,-5.7M1042.7,221.9l-1.9,-5.7M1045.2,222.4l-1.0,-2.8M1065.3,219.0L1084.6,225.9M1065.3,219.0l-1.1,-5.9M1067.6,219.9l-1.1,-5.9M1070.0,220.7l-0.5,-3.0M1088.8,220.5L1108.3,226.7M1088.8,220.5l-1.3,-5.9M1091.2,221.2l-1.3,-5.9M1093.6,222.0l-0.6,-2.9M710.0,251.2L718.9,232.7M712.0,246.9l-6.0,0.4M713.1,244.7l-6.0,0.4M714.2,242.5l-6.0,0.4M715.3,240.2l-6.0,0.4M716.4,238.0l-3.0,0.2M728.6,238.5L749.0,240.4M753.8,240.7L774.1,243.6M779.4,237.2L799.6,240.9M787.1,238.6l-1.0,-2.8M803.3,238.1L822.9,244.2M810.8,240.4l-1.3,-5.9M828.7,234.6L845.8,245.8M835.2,238.8l0.2,-3.0M857.8,232.6L867.3,250.7M860.0,236.7l3.2,-5.1M861.1,239.0l3.2,-5.1M862.3,241.2l3.2,-5.1M863.5,243.4l1.6,-2.5M884.3,230.5L889.7,250.3M885.5,235.0l4.2,-4.3M886.2,237.4l4.2,-4.3M886.8,239.9l4.2,-4.3M910.9,232.5L914.9,252.6M911.8,237.1l4.5,-4.0M912.3,239.5l4.5,-4.0M912.8,242.0l4.5,-4.0M913.3,244.4l2.2,-2.0M933.3,230.1L941.5,248.8M935.2,234.4l3.5,-4.8M936.2,236.7l3.5,-4.8M937.2,238.9l1.8,-2.4M962.2,230.1L962.1,250.6M962.2,234.8l2.6,-1.5M988.1,229.2L986.8,249.6M988.1,229.2l5.4,-2.7M988.0,231.7l5.4,-2.7M987.8,234.2l5.4,-2.7M987.6,236.7l5.4,-2.7M1011.3,231.3L1011.9,251.8M1011.3,231.3l5.1,-3.1M1011.4,233.8l5.1,-3.1M1011.4,236.3l2.6,-1.6M1030.3,251.0L1042.2,234.4M1030.3,251.0l-6.0,-0.6M1031.7,249.0l-6.0,-0.6M1033.2,247.0l-3.0,-0.3M1051.1,245.9L1070.4,238.9M1051.1,245.9l-4.6,-3.8M1053.5,245.1l-4.6,-3.8M1055.8,244.2l-2.3,-1.9M1075.6,237.3L1095.1,243.7M1075.6,237.3l-1.2,-5.9M1078.0,238.0l-1.2,-5.9M1080.4,238.8l-0.6,-2.9M719.4,263.3L738.0,254.6M723.6,261.3l-4.9,-3.4M725.9,260.2l-4.9,-3.4M728.2,259.2l-4.9,-3.4M744.2,258.4L764.3,262.3M748.8,259.3l-2.0,-5.7M751.3,259.8l-2.0,-5.7M753.7,260.2l-2.0,-5.7M766.4,255.7L786.3,260.5M771.0,256.8l-1.7,-5.8M773.4,257.4l-1.7,-5.8M775.9,258.0l-1.7,-5.8M793.5,255.1L811.5,264.9M797.7,257.3l-0.2,-6.0M799.9,258.5l-0.2,-6.0M802.0,259.7l-0.2,-6.0M804.2,260.9l-0.2,-6.0M806.4,262.1l-0.1,-3.0M817.7,253.3L832.5,267.5M823.3,258.7l0.7,-2.9M846.3,248.1L855.2,266.6M872.7,250.0L877.5,270.0M873.8,254.6l4.4,-4.1M874.4,257.0l4.4,-4.1M875.0,259.5l4.4,-4.1M875.6,261.9l4.4,-4.1M898.2,247.1L901.4,267.4M898.9,251.8l4.7,-3.8M899.3,254.3l4.7,-3.8M899.7,256.7l4.7,-3.8M900.1,259.2l4.7,-3.8M925.2,250.2L926.4,270.7M925.5,254.9l5.0,-3.3M925.7,257.4l5.0,-3.3M925.8,259.9l5.0,-3.3M950.0,248.6L948.8,269.1M949.7,253.3l5.4,-2.7M975.2,250.3L973.6,270.8M975.2,250.3l5.4,-2.6M975.0,252.8l5.4,-2.6M974.8,255.3l5.4,-2.6M974.6,257.8l5.4,-2.6M974.4,260.3l2.7,-1.3M1001.4,248.5L1000.6,269.0M1001.4,248.5l5.3,-2.8M1001.3,251.0l5.3,-2.8M1001.2,253.5l5.3,-2.8M1020.0,265.8L1032.4,249.5M1020.0,265.8l-6.0,-0.8M1021.5,263.9l-6.0,-0.8M1023.0,261.9l-3.0,-0.4M1042.8,267.5L1054.4,250.6M1042.8,267.5l-6.0,-0.5M1044.2,265.4l-6.0,-0.5M1045.7,263.4l-3.0,-0.2M1065.5,264.1L1083.9,255.1M1065.5,264.1l-5.0,-3.4M1067.8,263.0l-5.0,-3.4M1070.0,261.9l-2.5,-1.7M1088.0,258.5L1108.1,262.6M1088.0,258.5l-1.9,-5.7M1090.4,259.0l-1.9,-5.7M1092.9,259.5l-1.0,-2.8M713.3,287.5L721.5,268.7M715.2,283.2l-6.0,0.7M729.9,276.2L750.1,279.8M734.6,277.0l-2.0,-5.6M737.0,277.4l-1.0,-2.8M754.2,272.4L773.8,278.4M758.7,273.8l-1.4,-5.8M761.0,274.5l-0.7,-2.9M779.3,272.3L796.5,283.5M783.2,274.9l0.3,-6.0M785.3,276.2l0.2,-3.0M808.9,268.7L823.5,283.1M812.3,272.0l1.5,-5.8M814.0,273.7l1.5,-5.8M815.8,275.5l1.5,-5.8M817.6,277.3l1.5,-5.8M819.4,279.0l0.8,-2.9M834.9,266.8L844.8,284.7M838.7,273.6l1.6,-2.6M861.9,265.5L867.7,285.2M864.1,273.0l2.1,-2.2M886.5,267.8L890.4,287.9M887.4,272.4l4.5,-3.9M887.9,274.9l4.5,-3.9M888.4,277.3l4.5,-3.9M888.8,279.8l4.5,-3.9M889.3,282.2l2.3,-2.0M914.1,267.2L915.8,287.6M914.5,271.9l4.9,-3.4M914.7,274.4l4.9,-3.4M914.9,276.8l4.9,-3.4M915.1,279.3l4.9,-3.4M938.1,266.1L939.0,286.6M938.3,270.8l5.1,-3.2M938.4,273.3l2.5,-1.6M961.3,267.7L961.0,288.2M961.3,272.4l2.6,-1.5M986.2,267.5L984.8,287.9M986.2,267.5l5.4,-2.6M986.0,270.0l5.4,-2.6M985.9,272.5l5.4,-2.6M985.7,274.9l5.4,-2.6M1006.3,265.8L1015.9,284.0M1006.3,265.8l3.2,-5.1M1007.5,268.1l3.2,-5.1M1008.7,270.3l1.6,-2.5M1029.0,285.0L1041.3,268.6M1029.0,285.0l-6.0,-0.7M1030.5,283.0l-6.0,-0.7M1032.0,281.0l-3.0,-0.4M1054.4,283.4L1066.8,267.1M1054.4,283.4l-6.0,-0.7M1055.9,281.4l-6.0,-0.7M1057.4,279.4l-3.0,-0.4M1076.9,283.7L1093.7,272.1M1076.9,283.7l-5.4,-2.6M1078.9,282.3l-5.4,-2.6M1081.0,280.9l-2.7,-1.3M719.9,299.7L737.6,289.3M724.0,297.3l-2.6,-1.5M742.6,292.4L761.4,300.7M769.1,289.1L785.5,301.5M772.9,292.0l0.4,-3.0M796.3,287.2L810.3,302.1M799.5,290.6l1.7,-5.7M801.2,292.4l1.7,-5.7M802.9,294.2l0.9,-2.9M821.7,285.7L832.6,303.1M824.2,289.7l2.8,-5.3M825.5,291.8l2.8,-5.3M826.9,293.9l2.8,-5.3M828.2,296.0l1.4,-2.6M848.9,286.1L856.5,305.2M851.8,293.4l1.9,-2.4M873.1,286.0L878.6,305.8M875.2,293.6l4.2,-4.3M898.4,283.8L901.0,304.2M925.9,282.9L926.4,303.4M926.0,287.6l5.1,-3.1M926.1,290.1l5.1,-3.1M926.1,292.6l5.1,-3.1M926.2,295.1l2.6,-1.6M951.8,282.4L951.9,302.9M951.8,287.1l5.2,-3.0M977.5,283.5L975.6,304.0M977.5,283.5l5.5,-2.5M977.3,286.0l5.5,-2.5M977.1,288.5l5.5,-2.5M976.8,291.0l5.5,-2.5M976.6,293.5l2.7,-1.3M998.7,283.9L1003.5,303.8M998.7,283.9l4.4,-4.1M999.3,286.3l4.4,-4.1M999.9,288.7l4.4,-4.1M1016.5,299.9L1034.2,289.6M1016.5,299.9l-5.2,-3.0M1018.7,298.6l-5.2,-3.0M1020.8,297.4l-2.6,-1.5M1039.4,299.2L1058.0,290.4M1039.4,299.2l-4.9,-3.4M1041.7,298.1l-4.9,-3.4M1044.0,297.0l-2.5,-1.7M1066.0,299.8L1085.2,292.6M1066.0,299.8l-4.6,-3.8M1068.4,298.9l-4.6,-3.8M1070.7,298.0l-2.3,-1.9M1089.3,299.7L1105.8,287.4M1089.3,299.7l-5.5,-2.4M1091.4,298.2l-5.5,-2.4M1093.4,296.7l-2.8,-1.2M714.0,320.7L720.5,301.3M714.0,320.7l-5.9,1.2M714.8,318.3l-5.9,1.2M715.6,316.0l-5.9,1.2M716.4,313.6l-5.9,1.2M717.2,311.2l-2.9,0.6M729.0,309.4L748.1,316.8M729.0,309.4l-0.9,-5.9M731.3,310.3l-0.9,-5.9M733.6,311.2l-0.9,-5.9M736.0,312.1l-0.9,-5.9M738.3,313.0l-0.5,-3.0M755.5,304.3L771.8,316.7M755.5,304.3l0.7,-6.0M757.5,305.9l0.7,-6.0M759.5,307.4l0.7,-6.0M761.5,308.9l0.7,-6.0M763.5,310.4l0.4,-3.0M783.0,303.6L797.4,318.2M786.3,307.0l1.6,-5.8M807.2,305.1L819.2,321.7M810.0,308.9l2.5,-5.5M811.4,311.0l1.2,-2.7M835.7,303.5L846.0,321.2M838.0,307.5l3.0,-5.2M839.3,309.7l3.0,-5.2M840.6,311.8l3.0,-5.2M841.8,314.0l3.0,-5.2M859.7,301.3L867.5,320.2M862.6,308.5l1.8,-2.4M886.3,301.3L890.5,321.3M887.9,308.9l4.5,-4.0M912.5,300.7L914.0,321.1M940.9,304.5L933.0,323.4M939.1,308.8l5.9,-0.8M938.1,311.2l3.0,-0.4M969.5,306.9L954.2,320.5M996.7,305.8L979.0,316.1M996.7,305.8l5.2,3.0M994.6,307.1l5.2,3.0M992.4,308.3l5.2,3.0M990.2,309.6l2.6,1.5M1005.3,320.6L1018.2,304.6M1005.3,320.6l-5.9,-0.9M1006.9,318.6l-5.9,-0.9M1008.4,316.7l-3.0,-0.5M1027.0,315.1L1046.0,307.5M1027.0,315.1l-4.7,-3.7M1029.3,314.2l-4.7,-3.7M1031.6,313.2l-2.4,-1.9M1050.9,316.9L1070.2,310.0M1050.9,316.9l-4.6,-3.9M1053.2,316.1l-4.6,-3.9M1055.6,315.3l-4.6,-3.9M1077.7,317.6L1095.0,306.6M1077.7,317.6l-5.3,-2.8M1079.8,316.3l-5.3,-2.8M1081.9,315.0l-5.3,-2.8M1084.0,313.6l-2.7,-1.4M718.9,335.5L736.4,324.9M722.9,333.1l-2.6,-1.5M744.2,324.6L760.8,336.7M771.2,321.7L786.6,335.2M795.3,321.3L809.5,336.1M798.5,324.7l0.8,-2.9M818.4,324.4L831.6,340.1M821.4,328.0l2.0,-5.6M823.0,329.9l1.0,-2.8M846.5,321.7L857.3,339.1M848.9,325.7l2.8,-5.3M850.3,327.8l2.8,-5.3M851.6,330.0l2.8,-5.3M852.9,332.1l2.8,-5.3M873.9,320.8L880.6,340.2M876.5,328.2l2.0,-2.3M900.0,321.9L904.5,342.0M901.7,329.6l4.4,-4.1M928.1,318.4L926.7,338.9M927.8,323.1l5.4,-2.6M927.6,325.6l5.4,-2.6M927.4,328.1l5.4,-2.6M927.2,330.6l2.7,-1.3M958.1,323.4L941.3,335.0M958.1,323.4l5.4,2.6M956.1,324.8l5.4,2.6M954.0,326.2l5.4,2.6M952.0,327.6l2.7,1.3M985.5,328.2L965.8,333.6M985.5,328.2l4.3,4.2M983.1,328.8l4.3,4.2M980.7,329.5l4.3,4.2M978.3,330.2l4.3,4.2M997.4,339.1L1000.5,318.8M997.4,339.1l-5.6,2.2M997.8,336.6l-5.6,2.2M998.2,334.2l-5.6,2.2M998.6,331.7l-2.8,1.1M1016.3,335.3L1032.3,322.4M1016.3,335.3l-5.6,-2.2M1018.3,333.7l-5.6,-2.2M1020.2,332.1l-5.6,-2.2M1022.2,330.6l-2.8,-1.1M1040.9,335.1L1059.1,325.6M1040.9,335.1l-5.1,-3.2M1043.1,333.9l-5.1,-3.2M1045.3,332.8l-5.1,-3.2M1047.5,331.6l-2.5,-1.6M1062.6,335.4L1081.5,327.5M1062.6,335.4l-4.8,-3.6M1064.9,334.4l-4.8,-3.6M1067.2,333.5l-4.8,-3.6M1069.5,332.5l-4.8,-3.6M1071.8,331.5l-2.4,-1.8M1092.3,339.3L1102.5,321.5M1092.3,339.3l-6.0,0.0M1093.5,337.1l-6.0,0.0M1094.8,335.0l-6.0,0.0M1096.0,332.8l-6.0,0.0M1097.2,330.6l-3.0,0.0M713.4,357.7L719.3,338.0M714.8,353.1l-5.8,1.4M715.5,350.7l-2.9,0.7M730.3,343.2L747.8,353.9M734.3,345.7l0.1,-6.0M736.4,347.0l0.1,-3.0M757.5,343.8L774.2,355.7M761.3,346.5l0.3,-3.0M780.5,341.4L796.3,354.5M784.1,344.4l1.0,-5.9M807.8,339.6L822.5,353.8M811.2,342.9l1.4,-5.8M813.0,344.6l1.4,-5.8M814.8,346.3l0.7,-2.9M830.8,341.8L843.5,357.9M833.7,345.5l2.2,-5.6M835.2,347.5l1.1,-2.8M857.7,341.0L868.6,358.4M860.2,345.0l2.8,-5.3M861.5,347.1l2.8,-5.3M862.9,349.2l2.8,-5.3M864.2,351.4l2.8,-5.3M884.9,340.0L894.5,358.1M888.6,346.9l3.2,-5.1M911.8,337.4L918.3,356.9M938.0,336.9L937.3,357.4M938.0,336.9l5.3,-2.8M937.9,339.4l5.3,-2.8M937.8,341.9l2.7,-1.4M970.8,343.7L951.7,351.1M970.8,343.7l4.7,3.8M968.4,344.6l2.3,1.9M985.2,357.2L987.9,336.9M985.2,357.2l-5.5,2.3M985.5,354.7l-5.5,2.3M985.9,352.2l-5.5,2.3M986.2,349.8l-5.5,2.3M1009.5,359.8L1014.5,339.9M1027.8,352.2L1045.4,341.7M1027.8,352.2l-5.2,-2.9M1030.0,350.9l-5.2,-2.9M1032.1,349.6l-5.2,-2.9M1034.3,348.3l-5.2,-2.9M1036.4,347.0l-2.6,-1.5M1051.3,354.9L1068.5,343.8M1076.8,352.2L1093.9,340.9M1080.7,349.6l-2.7,-1.3M719.2,365.7L739.2,370.3M723.8,366.8l-1.8,-5.7M726.2,367.3l-1.8,-5.7M728.7,367.9l-0.9,-2.9M744.1,359.2L761.7,369.7M748.2,361.6l0.1,-6.0M750.3,362.9l0.0,-3.0M767.9,361.0L784.5,373.0M771.7,363.7l0.6,-6.0M795.2,357.8L810.7,371.2M798.7,360.9l1.1,-5.9M821.8,357.0L835.3,372.4M824.9,360.5l1.9,-5.7M826.5,362.4l1.9,-5.7M828.2,364.3l1.0,-2.8M847.3,358.4L859.3,375.0M850.1,362.2l2.5,-5.5M851.6,364.2l2.5,-5.5M853.0,366.3l2.5,-5.5M854.5,368.3l1.2,-2.7M870.4,358.8L881.5,376.0M897.1,355.6L906.9,373.6M900.8,362.5l3.1,-5.1M920.3,358.5L928.0,377.5M920.3,358.5l3.7,-4.7M921.3,360.8l3.7,-4.7M922.2,363.1l3.7,-4.7M923.1,365.4l1.8,-2.4M945.5,359.6L958.3,375.6M945.5,359.6l2.2,-5.6M947.0,361.5l1.1,-2.8M963.7,371.0L982.0,361.7M963.7,371.0l-5.0,-3.3M966.0,369.9l-5.0,-3.3M968.2,368.8l-2.5,-1.6M993.8,375.5L1003.6,357.5M996.0,371.4l-3.0,0.1M1016.4,375.4L1029.0,359.1M1019.3,371.6l-5.9,-0.8M1038.4,370.2L1056.4,360.4M1042.5,367.9l-2.6,-1.6M1063.9,373.2L1081.3,362.3M1067.9,370.7l-5.3,-2.8M1091.9,373.7L1103.5,356.7M1094.6,369.8l-6.0,-0.4M1096.0,367.7l-3.0,-0.2M711.5,393.5L718.1,374.1M713.0,389.1l-5.9,1.2M731.2,380.1L749.5,389.3M735.4,382.2l-0.3,-6.0M737.6,383.3l-0.3,-6.0M739.8,384.4l-0.2,-3.0M755.8,379.4L773.1,390.4M759.8,381.9l0.3,-6.0M761.9,383.2l0.3,-6.0M764.0,384.6l0.3,-6.0M782.4,377.5L798.3,390.5M786.0,380.5l1.0,-5.9M788.0,382.1l0.5,-3.0M805.8,378.2L820.7,392.4M809.2,381.5l1.4,-5.8M832.0,376.2L845.7,391.5M835.1,379.7l1.9,-5.7M836.8,381.6l1.9,-5.7M838.4,383.4l0.9,-2.9M856.6,377.9L870.3,393.1M859.8,381.4l1.9,-5.7M861.4,383.2l1.9,-5.7M863.1,385.1l1.9,-5.7M864.8,387.0l1.9,-5.7M883.3,377.5L895.4,394.0M887.9,383.8l1.2,-2.7M906.2,374.4L916.7,392.1M910.2,381.2l2.9,-5.2M930.7,375.7L944.3,391.0M930.7,375.7l1.9,-5.7M932.4,377.5l1.9,-5.7M934.0,379.4l1.9,-5.7M935.7,381.3l1.0,-2.8M953.7,381.3L974.2,383.2M953.7,381.3l-2.5,-5.4M956.2,381.6l-2.5,-5.4M958.7,381.8l-2.5,-5.4M975.9,387.7L996.0,383.6M980.5,386.8l-4.0,-4.5M1001.2,390.8L1019.4,381.3M1005.4,388.6l-5.1,-3.2M1007.6,387.5l-2.5,-1.6M1027.9,391.3L1045.1,380.2M1031.8,388.7l-5.3,-2.8M1033.9,387.4l-2.7,-1.4M1053.2,389.7L1071.1,379.7M1057.3,387.4l-5.2,-3.1M1059.5,386.1l-5.2,-3.1M1061.7,384.9l-2.6,-1.5M1076.4,390.4L1093.9,379.8M1080.4,388.0l-5.3,-2.9M1082.5,386.7l-5.3,-2.9M1084.7,385.4l-5.3,-2.9M1086.8,384.1l-2.6,-1.4M716.8,402.4L736.8,398.0M721.4,401.4l-2.0,-2.2M742.9,396.5L760.6,406.8M747.0,398.9l0.0,-6.0M767.2,395.7L783.8,407.8M771.0,398.5l0.6,-6.0M773.0,400.0l0.6,-6.0M775.1,401.4l0.3,-3.0M794.0,396.4L810.1,409.1M797.7,399.3l0.9,-5.9M799.7,400.9l0.4,-3.0M819.6,393.2L834.7,407.1M823.0,396.4l1.3,-5.9M824.9,398.1l1.3,-5.9M826.7,399.8l0.7,-2.9M845.0,393.2L860.0,407.1M848.4,396.4l1.3,-5.9M850.3,398.1l1.3,-5.9M852.1,399.8l1.3,-5.9M853.9,401.5l1.3,-5.9M869.0,392.8L883.0,407.7M894.1,392.6L906.9,408.5M898.9,398.6l1.1,-2.8M919.0,397.1L934.9,410.1M925.0,402.0l0.9,-5.9M927.0,403.6l0.5,-3.0M939.4,397.3L958.9,403.5M943.8,398.7l-1.3,-5.9M946.2,399.5l-1.3,-5.9M948.6,400.2l-1.3,-5.9M965.0,401.8L985.5,403.0M969.7,402.1l-2.7,-5.4M972.2,402.3l-1.3,-2.7M990.1,403.1L1010.2,399.1M994.8,402.2l-4.0,-4.5M997.2,401.7l-4.0,-4.5M999.7,401.2l-4.0,-4.5M1016.1,403.9L1035.3,396.7M1020.5,402.3l-4.6,-3.8M1022.9,401.4l-4.6,-3.8M1025.2,400.5l-4.6,-3.8M1038.7,407.8L1057.5,399.8M1043.0,406.0l-4.8,-3.6M1045.3,405.0l-4.8,-3.6M1047.6,404.0l-4.8,-3.6M1049.9,403.0l-2.4,-1.8M1063.3,405.5L1081.6,396.3M1067.5,403.4l-5.0,-3.3M1069.7,402.3l-5.0,-3.3M1071.9,401.2l-5.0,-3.3M1074.2,400.1l-5.0,-3.3M1090.5,406.4L1108.0,395.7M1094.5,404.0l-5.3,-2.8M1096.7,402.7l-5.3,-2.8M1098.8,401.3l-5.3,-2.8M1100.9,400.0l-5.3,-2.8M1103.0,398.7l-2.6,-1.4M712.7,427.7L720.2,408.6M712.7,427.7l-5.9,0.9M713.6,425.3l-5.9,0.9M714.5,423.0l-5.9,0.9M715.4,420.7l-5.9,0.9M716.4,418.4l-3.0,0.4M730.4,416.3L748.5,426.0M756.7,414.7L774.2,425.4M760.7,417.1l0.2,-6.0M782.4,412.5L799.2,424.2M786.2,415.2l0.5,-6.0M788.3,416.6l0.5,-6.0M790.4,418.0l0.5,-6.0M805.2,412.3L821.0,425.4M808.9,415.3l1.0,-5.9M810.8,416.9l1.0,-5.9M812.7,418.5l1.0,-5.9M829.7,412.3L845.5,425.5M833.3,415.3l1.0,-5.9M835.3,416.9l1.0,-5.9M837.2,418.5l1.0,-5.9M856.9,412.5L872.0,426.3M860.4,415.6l1.3,-5.9M862.2,417.3l1.3,-5.9M864.1,419.0l1.3,-5.9M865.9,420.7l1.3,-5.9M867.7,422.4l0.6,-2.9M882.2,411.9L897.3,425.7M904.7,414.9L921.1,427.2M927.7,417.1L946.9,424.0M935.0,419.7l-0.5,-3.0M953.3,418.9L973.3,423.2M960.9,420.5l-0.9,-2.9M975.2,420.6L995.7,421.5M979.9,420.8l-2.8,-5.3M982.4,420.9l-2.8,-5.3M984.9,421.0l-2.8,-5.3M987.4,421.1l-2.8,-5.3M989.9,421.3l-1.4,-2.7M1000.8,420.2L1020.9,416.0M1005.4,419.3l-4.0,-4.5M1007.9,418.7l-4.0,-4.5M1010.3,418.2l-4.0,-4.5M1012.8,417.7l-4.0,-4.5M1025.3,423.6L1045.0,417.7M1029.8,422.3l-4.4,-4.1M1032.2,421.6l-4.4,-4.1M1034.6,420.8l-4.4,-4.1M1037.0,420.1l-2.2,-2.1M1050.5,424.4L1069.5,416.9M1054.8,422.7l-4.7,-3.7M1057.2,421.7l-4.7,-3.7M1059.5,420.8l-4.7,-3.7M1061.8,419.9l-2.3,-1.9M1076.8,422.6L1096.0,415.5M1081.2,421.0l-4.6,-3.8M1083.5,420.1l-4.6,-3.8M1085.9,419.3l-4.6,-3.8M1088.2,418.4l-4.6,-3.8M719.9,433.2L739.5,439.3M719.9,433.2l-1.3,-5.9M722.3,433.9l-1.3,-5.9M724.7,434.7l-1.3,-5.9M727.1,435.4l-1.3,-5.9M744.7,433.1L762.8,442.5M768.9,433.4L786.0,444.7M772.8,436.0l0.4,-6.0M793.7,432.7L809.9,445.2M797.5,435.6l0.8,-5.9M799.4,437.1l0.8,-5.9M801.4,438.6l0.4,-3.0M816.9,431.1L833.3,443.4M820.7,433.9l0.7,-6.0M822.7,435.4l0.7,-6.0M824.7,437.0l0.4,-3.0M844.9,430.2L860.9,443.0M848.5,433.2l0.9,-5.9M850.5,434.7l0.9,-5.9M852.4,436.3l0.9,-5.9M854.4,437.9l0.4,-3.0M869.0,432.7L885.9,444.3M872.9,435.4l0.5,-6.0M875.0,436.8l0.5,-6.0M877.0,438.2l0.5,-6.0M879.1,439.6l0.5,-6.0M891.9,432.9L908.8,444.6M898.3,437.4l0.2,-3.0M916.4,431.4L933.5,442.7M920.3,434.0l0.4,-6.0M922.4,435.4l0.4,-6.0M924.5,436.8l0.4,-6.0M926.6,438.1l0.4,-6.0M940.7,435.4L960.7,440.1M945.3,436.5l-1.7,-5.8M947.7,437.0l-1.7,-5.8M950.2,437.6l-1.7,-5.8M952.6,438.2l-1.7,-5.8M955.0,438.8l-0.9,-2.9M963.5,435.7L983.8,438.7M968.2,436.4l-2.2,-5.6M970.6,436.8l-2.2,-5.6M973.1,437.2l-2.2,-5.6M975.6,437.5l-1.1,-2.8M989.2,437.5L1009.6,436.3M993.9,437.2l-3.3,-5.0M996.4,437.1l-3.3,-5.0M998.9,436.9l-3.3,-5.0M1001.4,436.8l-1.7,-2.5M1013.2,439.1L1033.3,434.7M1017.8,438.1l-4.0,-4.4M1020.3,437.5l-2.0,-2.2M1040.6,439.1L1060.0,432.7M1045.0,437.6l-4.5,-4.0M1047.4,436.9l-4.5,-4.0M1049.8,436.1l-2.2,-2.0M1064.4,440.6L1083.9,434.2M1068.8,439.1l-4.5,-4.0M1071.2,438.3l-4.5,-4.0M1073.6,437.5l-4.5,-4.0M1090.7,441.3L1108.8,431.7M1094.8,439.1l-5.1,-3.2M1097.0,437.9l-5.1,-3.2M1099.2,436.7l-5.1,-3.2M1101.4,435.5l-2.5,-1.6M710.4,466.9L717.6,447.7M710.4,466.9l-5.9,1.0M711.3,464.6l-5.9,1.0M712.1,462.2l-3.0,0.5M731.7,452.1L750.3,460.8M731.7,452.1l-0.5,-6.0M734.0,453.1l-0.5,-6.0M736.2,454.2l-0.5,-6.0M738.5,455.2l-0.3,-3.0M756.8,450.8L774.0,461.9M780.5,450.4L796.8,462.9M784.3,453.3l0.4,-3.0M804.1,449.4L821.2,460.7M808.0,452.0l0.4,-6.0M810.1,453.3l0.2,-3.0M830.4,449.2L846.9,461.3M834.2,451.9l0.7,-6.0M836.2,453.4l0.7,-6.0M838.2,454.9l0.3,-3.0M853.3,448.0L870.3,459.5M857.2,450.7l0.4,-6.0M859.3,452.1l0.4,-6.0M861.4,453.5l0.4,-6.0M879.8,451.4L897.7,461.5M883.9,453.7l-0.1,-6.0M886.1,455.0l-0.1,-6.0M888.3,456.2l-0.1,-6.0M890.4,457.4l-0.1,-6.0M892.6,458.6l-0.0,-3.0M905.3,448.9L921.0,462.1M927.2,451.1L946.1,459.2M931.5,453.0l-0.7,-6.0M933.8,454.0l-0.7,-6.0M936.1,455.0l-0.7,-6.0M938.4,456.0l-0.4,-3.0M953.2,455.6L973.5,458.7M957.9,456.3l-2.2,-5.6M960.4,456.7l-2.2,-5.6M962.8,457.1l-1.1,-2.8M976.5,456.5L997.0,456.8M981.2,456.5l-2.9,-5.2M983.7,456.6l-1.5,-2.6M999.8,455.8L1020.1,453.5M1004.4,455.3l-3.6,-4.8M1026.5,458.5L1046.7,455.0M1031.1,457.7l-3.8,-4.6M1052.8,457.6L1072.6,452.4M1057.3,456.4l-4.2,-4.3M1059.7,455.8l-2.1,-2.1M1074.8,460.4L1094.1,453.5M1079.2,458.8l-4.6,-3.9M1081.6,458.0l-2.3,-1.9M718.6,476.0L738.9,473.0M718.6,476.0l-3.7,-4.7M721.1,475.6l-3.7,-4.7M723.6,475.2l-1.9,-2.4M742.2,470.3L760.1,480.4M742.2,470.3l-0.0,-6.0M744.4,471.6l-0.0,-6.0M746.6,472.8l-0.0,-6.0M748.7,474.0l-0.0,-3.0M770.0,468.4L786.7,480.2M770.0,468.4l0.5,-6.0M772.0,469.8l0.5,-6.0M774.1,471.3l0.5,-6.0M776.1,472.7l0.5,-6.0M778.2,474.2l0.3,-3.0M792.5,468.0L810.3,478.3M819.0,468.2L836.0,479.6M822.9,470.8l0.2,-3.0M840.8,469.7L858.1,480.6M844.8,472.2l0.2,-6.0M846.9,473.5l0.1,-3.0M866.6,468.3L885.2,477.1M870.9,470.3l-0.5,-6.0M873.1,471.4l-0.5,-6.0M875.4,472.4l-0.2,-3.0M893.5,466.0L910.6,477.2M897.4,468.6l0.3,-6.0M899.5,470.0l0.3,-6.0M901.6,471.3l0.3,-6.0M903.7,472.7l0.3,-6.0M916.8,468.4L935.6,476.7M939.4,472.2L959.3,477.1M944.0,473.3l-1.7,-5.8M946.4,473.9l-1.7,-5.8M948.9,474.5l-1.7,-5.8M964.4,474.4L984.9,476.2M969.1,474.8l-2.5,-5.4M990.3,475.4L1010.8,474.7M1015.7,475.0L1036.0,472.4M1039.6,475.5L1059.7,471.5M1044.2,474.6l-2.0,-2.3M1063.8,475.8L1083.4,469.8M1068.3,474.4l-4.4,-4.1M1087.7,478.5L1105.1,467.7M1091.7,476.0l-5.3,-2.8M1093.8,474.7l-5.3,-2.8M1096.0,473.4l-2.6,-1.4M711.1,499.9L723.6,483.6M711.1,499.9l-6.0,-0.8M712.7,497.9l-6.0,-0.8M714.2,495.9l-3.0,-0.4M732.7,487.5L750.3,497.9M732.7,487.5l0.1,-6.0M734.8,488.8l0.1,-6.0M737.0,490.0l0.0,-3.0M757.0,484.7L774.3,495.8M757.0,484.7l0.3,-6.0M759.1,486.1l0.3,-6.0M761.2,487.4l0.3,-6.0M779.4,487.9L797.6,497.4M779.4,487.9l-0.3,-6.0M781.6,489.0l-0.3,-6.0M783.9,490.2l-0.3,-6.0M786.1,491.4l-0.1,-3.0M807.0,488.2L824.6,498.7M807.0,488.2l0.1,-6.0M809.2,489.5l0.1,-6.0M811.3,490.8l0.1,-6.0M813.5,492.1l0.1,-6.0M815.6,493.3l0.0,-3.0M829.8,484.4L847.2,495.2M856.2,487.5L874.7,496.3M860.4,489.5l-0.5,-6.0M878.9,485.8L897.5,494.5M883.2,487.8l-0.5,-6.0M885.4,488.9l-0.5,-6.0M887.7,489.9l-0.5,-6.0M902.3,486.3L921.1,494.5M906.6,488.1l-0.7,-6.0M908.9,489.1l-0.7,-6.0M911.2,490.1l-0.7,-6.0M913.5,491.1l-0.7,-6.0M929.5,488.5L948.4,496.3M936.7,491.4l-0.4,-3.0M952.5,490.6L972.3,495.6M957.0,491.7l-1.6,-5.8M959.4,492.4l-1.6,-5.8M961.9,493.0l-1.6,-5.8M964.3,493.6l-0.8,-2.9M978.6,488.8L998.9,491.3M983.2,489.4l-2.3,-5.5M1003.0,491.8L1023.4,490.4M1007.7,491.5l-1.7,-2.5M1027.7,494.2L1047.8,490.1M1027.7,494.2l-4.0,-4.5M1030.1,493.7l-4.0,-4.5M1032.6,493.2l-4.0,-4.5M1035.0,492.7l-4.0,-4.5M1037.5,492.2l-2.0,-2.2M1049.6,493.1L1069.3,487.6M1054.1,491.8l-2.1,-2.1M1078.3,493.8L1097.3,486.1M1082.6,492.0l-4.7,-3.7M1085.0,491.1l-4.7,-3.7M1087.3,490.2l-2.4,-1.9M718.1,507.8L738.1,512.1M718.1,507.8l-1.9,-5.7M720.5,508.4l-1.9,-5.7M723.0,508.9l-0.9,-2.9M745.5,503.2L763.2,513.6M745.5,503.2l0.0,-6.0M747.6,504.5l0.0,-6.0M749.8,505.7l0.0,-3.0M768.7,503.5L786.9,513.0M768.7,503.5l-0.3,-6.0M770.9,504.7l-0.3,-6.0M773.1,505.8l-0.1,-3.0M791.8,507.2L810.9,514.5M791.8,507.2l-1.0,-5.9M794.1,508.1l-1.0,-5.9M796.4,509.0l-1.0,-5.9M816.5,506.0L834.8,515.1M816.5,506.0l-0.4,-6.0M818.7,507.1l-0.4,-6.0M821.0,508.2l-0.4,-6.0M823.2,509.3l-0.2,-3.0M843.7,504.6L862.0,514.0M866.2,506.9L885.1,515.0M870.5,508.7l-0.7,-6.0M890.6,508.1L910.1,514.5M895.1,509.6l-1.2,-5.9M897.4,510.4l-0.6,-2.9M914.8,505.8L933.9,513.2M919.1,507.5l-0.9,-5.9M921.5,508.4l-0.9,-5.9M923.8,509.3l-0.9,-5.9M926.1,510.2l-0.5,-3.0M940.5,505.4L959.9,512.1M945.0,506.9l-1.1,-5.9M947.3,507.8l-1.1,-5.9M949.7,508.6l-1.1,-5.9M952.0,509.4l-1.1,-5.9M954.4,510.2l-0.6,-2.9M963.7,505.8L983.4,511.6M968.3,507.2l-1.4,-5.8M970.7,507.9l-1.4,-5.8M973.1,508.6l-1.4,-5.8M975.5,509.3l-0.7,-2.9M988.3,507.3L1008.6,509.8M993.0,507.8l-2.3,-5.5M995.4,508.2l-1.2,-2.8M1012.2,510.7L1032.7,509.0M1016.9,510.3l-3.4,-4.9M1038.4,513.6L1058.3,508.7M1063.1,511.8L1082.4,505.0M1067.5,510.2l-4.5,-3.9M1069.9,509.4l-2.3,-2.0M1088.0,507.9L1108.5,507.0M1092.7,507.7l-3.2,-5.0M1095.2,507.6l-3.2,-5.0M1097.7,507.5l-1.6,-2.5M706.5,531.9L723.2,520.0M706.5,531.9l-5.5,-2.5M708.6,530.4l-5.5,-2.5M710.6,529.0l-2.7,-1.2M729.6,520.5L747.4,530.6M729.6,520.5l-0.0,-6.0M731.8,521.7l-0.0,-6.0M734.0,522.9l-0.0,-3.0M754.7,521.5L773.5,529.7M754.7,521.5l-0.7,-6.0M757.0,522.5l-0.7,-6.0M759.3,523.5l-0.3,-3.0M779.1,526.0L798.9,531.2M779.1,526.0l-1.6,-5.8M781.5,526.6l-1.6,-5.8M783.9,527.3l-0.8,-2.9M803.1,523.4L823.0,528.4M803.1,523.4l-1.6,-5.8M805.5,524.0l-1.6,-5.8M808.0,524.6l-0.8,-2.9M829.4,522.8L847.8,531.8M829.4,522.8l-0.4,-6.0M831.7,523.9l-0.4,-6.0M833.9,525.0l-0.4,-6.0M836.1,526.1l-0.2,-3.0M855.6,523.2L874.4,531.4M855.6,523.2l-0.7,-6.0M857.9,524.2l-0.7,-6.0M860.2,525.2l-0.7,-6.0M862.5,526.2l-0.7,-6.0M864.8,527.2l-0.3,-3.0M880.1,523.2L899.9,528.3M884.6,524.4l-0.8,-2.9M901.3,526.3L921.2,531.3M905.9,527.4l-1.6,-5.8M908.3,528.0l-0.8,-2.9M928.4,523.3L947.9,529.6M932.9,524.7l-1.3,-5.9M935.3,525.5l-1.3,-5.9M937.7,526.3l-1.3,-5.9M954.0,522.1L973.3,528.9M958.4,523.6l-1.1,-5.9M960.8,524.5l-1.1,-5.9M963.1,525.3l-1.1,-5.9M965.5,526.1l-1.1,-5.9M967.8,527.0l-0.6,-2.9M977.3,523.5L996.4,531.0M1000.3,527.1L1020.8,527.5M1005.0,527.2l-2.9,-5.3M1007.5,527.2l-2.9,-5.3M1010.0,527.3l-2.9,-5.3M1025.8,528.0L1046.3,528.7M1030.5,528.1l-2.8,-5.3M1051.1,527.8L1071.5,529.2M1055.8,528.1l-2.7,-5.4M1074.7,528.2L1094.4,522.4M1079.2,526.9l-4.3,-4.1M1081.6,526.2l-2.2,-2.1M717.6,541.8L736.7,549.2M717.6,541.8l-0.9,-5.9M719.9,542.7l-0.9,-5.9M722.2,543.6l-0.5,-3.0M742.4,540.3L762.0,546.6M742.4,540.3l-1.3,-5.9M744.8,541.1l-1.3,-5.9M747.2,541.8l-0.6,-2.9M766.1,541.1L786.0,546.0M766.1,541.1l-1.6,-5.8M768.5,541.7l-1.6,-5.8M771.0,542.3l-0.8,-2.9M793.9,542.5L813.7,547.7M793.9,542.5l-1.6,-5.8M796.3,543.2l-1.6,-5.8M798.7,543.8l-0.8,-2.9M817.4,543.3L837.2,548.8M817.4,543.3l-1.5,-5.8M819.8,543.9l-1.5,-5.8M822.3,544.6l-0.7,-2.9M840.1,539.4L858.8,547.9M840.1,539.4l-0.6,-6.0M842.4,540.4l-0.6,-6.0M844.7,541.4l-0.6,-6.0M846.9,542.5l-0.3,-3.0M866.8,541.9L886.5,547.5M866.8,541.9l-1.5,-5.8M869.2,542.6l-1.5,-5.8M871.6,543.3l-1.5,-5.8M874.0,544.0l-1.5,-5.8M876.4,544.7l-0.7,-2.9M889.9,541.2L909.5,547.2M894.4,542.6l-0.7,-2.9M914.2,540.6L933.2,548.3M918.6,542.4l-0.8,-5.9M940.1,539.5L958.0,549.5M944.2,541.8l-0.1,-6.0M946.4,543.0l-0.0,-3.0M965.2,540.2L982.3,551.4M969.1,542.8l0.3,-6.0M971.2,544.2l0.3,-6.0M973.3,545.5l0.3,-6.0M975.4,546.9l0.2,-3.0M990.6,541.2L1009.9,547.9M1013.9,543.8L1034.3,546.3M1018.6,544.4l-2.3,-5.5M1021.1,544.7l-2.3,-5.5M1023.6,545.0l-1.2,-2.8M1039.4,542.3L1059.2,547.5M1043.9,543.5l-1.6,-5.8M1063.0,544.3L1083.1,548.6M1067.6,545.3l-1.8,-5.7M1070.1,545.8l-1.8,-5.7M1072.5,546.4l-1.8,-5.7M1089.4,545.5L1109.9,545.2M1094.1,545.4l-3.1,-5.1M1096.6,545.4l-3.1,-5.1M1099.1,545.4l-3.1,-5.1M1101.6,545.3l-3.1,-5.1M1104.1,545.3l-1.5,-2.6" fill="none" stroke="#222" stroke-width="0.55"/><path d="M706.9,170.1L706.5,164.9L709.6,169.7ZM730.4,171.0L730.6,165.8L733.2,170.9ZM755.5,171.7L755.7,166.5L758.3,171.5ZM780.8,171.5L781.0,166.3L783.6,171.3ZM802.4,171.1L801.8,165.9L805.1,170.5ZM838.1,177.8L833.0,176.9L838.4,175.0ZM857.5,180.0L853.0,177.4L858.7,177.4ZM717.5,188.5L718.0,183.3L720.3,188.4ZM720.6,188.4L721.1,183.2L723.4,188.4ZM741.1,185.6L741.5,180.4L743.9,185.6ZM765.5,189.0L766.0,183.8L768.3,189.0ZM790.2,186.4L790.6,181.2L793.0,186.3ZM816.1,189.9L815.5,184.7L818.9,189.3ZM842.5,187.8L841.8,182.6L845.2,187.2ZM868.8,183.2L871.8,178.9L871.3,184.6ZM707.7,210.3L705.1,205.8L710.0,208.7ZM710.2,208.5L707.6,204.0L712.5,206.9ZM730.8,202.6L731.6,197.5L733.6,202.8ZM733.9,202.8L734.7,197.6L736.7,202.9ZM754.2,202.8L754.9,197.7L757.0,203.0ZM757.3,203.0L758.0,197.8L760.1,203.1ZM777.9,206.4L778.5,201.2L780.7,206.5ZM781.0,206.5L781.6,201.3L783.8,206.6ZM804.5,206.5L804.9,201.3L807.3,206.4ZM807.6,206.4L808.0,201.2L810.4,206.4ZM829.2,205.9L829.4,200.6L832.0,205.7ZM855.3,202.1L857.5,197.4L857.9,203.0ZM880.5,198.9L884.2,195.1L882.7,200.6ZM910.6,194.6L915.8,193.7L911.4,197.3ZM935.9,194.8L941.0,194.0L936.6,197.5ZM718.7,226.3L718.2,221.1L721.5,225.7ZM721.8,225.7L721.3,220.5L724.5,225.2ZM741.6,220.9L742.6,215.7L744.4,221.1ZM744.7,221.2L745.7,216.0L747.5,221.4ZM768.1,222.1L769.1,216.9L770.9,222.3ZM771.2,222.4L772.2,217.2L774.0,222.6ZM789.8,221.2L790.6,216.0L792.6,221.3ZM792.9,221.4L793.7,216.2L795.7,221.5ZM815.3,222.4L816.3,217.3L818.1,222.7ZM818.4,222.7L819.3,217.6L821.2,223.0ZM842.1,219.2L844.6,214.5L844.7,220.2ZM868.9,214.7L873.2,211.7L870.7,216.8ZM897.9,213.4L903.1,212.5L898.7,216.1ZM923.3,213.9L928.5,213.2L924.0,216.6ZM945.5,216.2L949.8,213.2L947.3,218.3ZM710.0,251.2L705.5,248.5L711.2,248.7ZM728.6,238.5L729.6,233.3L731.4,238.7ZM731.7,238.8L732.7,233.6L734.5,239.0ZM753.8,240.7L755.1,235.6L756.6,241.1ZM756.9,241.1L758.1,236.0L759.7,241.5ZM779.4,237.2L780.8,232.2L782.2,237.7ZM782.5,237.8L783.9,232.7L785.2,238.3ZM803.3,238.1L805.3,233.3L806.0,238.9ZM806.3,239.0L808.3,234.2L808.9,239.9ZM828.7,234.6L831.9,230.5L831.0,236.1ZM831.3,236.3L834.5,232.2L833.6,237.8ZM857.8,232.6L862.6,230.6L859.1,235.1ZM884.3,230.5L889.4,229.6L885.0,233.2ZM910.9,232.5L916.1,231.9L911.4,235.2ZM933.3,230.1L938.2,228.4L934.4,232.6ZM962.2,230.1L967.4,230.7L962.2,232.9ZM719.4,263.3L717.6,258.4L721.9,262.1ZM744.2,258.4L745.7,253.4L747.0,259.0ZM766.4,255.7L768.2,250.7L769.2,256.3ZM793.5,255.1L796.5,250.7L796.0,256.4ZM817.7,253.3L821.6,249.9L819.7,255.3ZM819.9,255.5L823.9,252.1L822.0,257.4ZM846.3,248.1L851.2,246.3L847.5,250.7ZM847.7,250.9L852.6,249.1L848.9,253.5ZM872.7,250.0L877.9,249.3L873.4,252.7ZM898.2,247.1L903.4,246.8L898.6,249.9ZM925.2,250.2L930.5,250.4L925.4,253.0ZM950.0,248.6L955.2,249.4L949.9,251.4ZM713.3,287.5L708.8,285.0L714.4,284.9ZM729.9,276.2L731.3,271.1L732.7,276.7ZM754.2,272.4L756.1,267.6L756.8,273.2ZM779.3,272.3L782.6,268.2L781.7,273.9ZM808.9,268.7L813.0,265.3L810.9,270.6ZM834.9,266.8L839.7,264.7L836.3,269.2ZM836.4,269.5L841.2,267.4L837.8,271.9ZM861.9,265.5L867.1,264.6L862.7,268.2ZM862.8,268.5L867.9,267.5L863.6,271.2ZM886.5,267.8L891.7,267.3L887.1,270.6ZM914.1,267.2L919.3,267.2L914.4,270.0ZM938.1,266.1L943.4,266.4L938.3,268.9ZM961.3,267.7L966.5,268.3L961.3,270.5ZM719.9,299.7L717.7,294.9L722.3,298.2ZM742.6,292.4L745.2,287.9L745.2,293.6ZM769.1,289.1L772.6,285.3L771.3,290.8ZM796.3,287.2L800.4,284.0L798.2,289.2ZM821.7,285.7L826.4,283.4L823.2,288.1ZM848.9,286.1L853.9,284.7L849.9,288.7ZM850.1,289.0L855.1,287.6L851.1,291.6ZM873.1,286.0L878.3,285.1L873.9,288.7ZM873.9,289.0L879.1,288.1L874.7,291.7ZM898.4,283.8L903.6,283.7L898.7,286.6ZM898.8,286.9L904.0,286.7L899.1,289.7ZM925.9,282.9L931.1,283.2L925.9,285.7ZM951.8,282.4L957.0,282.9L951.8,285.2ZM783.0,303.6L787.0,300.3L785.0,305.6ZM807.2,305.1L811.7,302.5L808.9,307.4ZM835.7,303.5L840.4,301.3L837.1,305.9ZM859.7,301.3L864.7,299.7L860.7,303.8ZM860.9,304.1L865.8,302.6L861.9,306.7ZM886.3,301.3L891.5,300.7L886.9,304.0ZM886.9,304.3L892.1,303.7L887.5,307.0ZM912.5,300.7L917.8,300.8L912.7,303.5ZM912.8,303.8L918.0,303.9L913.0,306.6ZM940.9,304.5L945.5,307.0L939.8,307.1ZM969.5,306.9L972.6,311.1L967.4,308.7ZM718.9,335.5L716.6,330.8L721.3,334.1ZM744.2,324.6L747.7,320.7L746.5,326.2ZM771.2,321.7L775.0,318.1L773.3,323.5ZM795.3,321.3L799.4,318.1L797.2,323.3ZM818.4,324.4L822.7,321.4L820.2,326.5ZM846.5,321.7L851.2,319.4L847.9,324.1ZM873.9,320.8L879.0,319.6L874.8,323.4ZM874.9,323.7L880.0,322.5L875.8,326.4ZM900.0,321.9L905.2,321.3L900.6,324.7ZM900.7,325.0L905.9,324.3L901.3,327.7ZM928.1,318.4L933.2,319.3L927.9,321.2ZM713.4,357.7L708.6,355.7L714.2,355.0ZM730.3,343.2L733.4,339.0L732.6,344.7ZM757.5,343.8L760.9,339.9L759.8,345.4ZM780.5,341.4L784.2,337.7L782.6,343.2ZM807.8,339.6L811.7,336.2L809.8,341.5ZM830.8,341.8L835.2,339.0L832.5,344.0ZM857.7,341.0L862.4,338.7L859.2,343.4ZM884.9,340.0L889.8,338.0L886.2,342.5ZM886.4,342.7L891.2,340.8L887.7,345.2ZM911.8,337.4L916.8,336.2L912.6,340.1ZM912.7,340.4L917.8,339.2L913.6,343.0ZM1009.5,359.8L1004.6,358.0L1010.2,357.1ZM1051.3,354.9L1048.9,350.3L1053.6,353.4ZM1076.8,352.2L1074.3,347.6L1079.1,350.7ZM719.2,365.7L720.8,360.8L721.9,366.4ZM744.1,359.2L747.2,355.0L746.5,360.6ZM767.9,361.0L771.4,357.1L770.2,362.6ZM795.2,357.8L798.9,354.2L797.3,359.7ZM821.8,357.0L826.0,353.9L823.6,359.1ZM847.3,358.4L851.9,355.8L849.0,360.7ZM870.4,358.8L875.0,356.4L871.9,361.2ZM872.0,361.4L876.7,359.0L873.6,363.8ZM897.1,355.6L901.9,353.6L898.4,358.1ZM898.5,358.3L903.4,356.3L899.9,360.8ZM993.8,375.5L989.5,372.6L995.1,373.0ZM1016.4,375.4L1012.6,371.8L1018.2,373.1ZM1038.4,370.2L1036.3,365.4L1040.8,368.8ZM1063.9,373.2L1061.5,368.5L1066.2,371.7ZM1091.9,373.7L1087.9,370.4L1093.5,371.4ZM711.5,393.5L706.8,391.4L712.4,390.9ZM731.2,380.1L734.0,375.6L733.7,381.3ZM755.8,379.4L759.0,375.3L758.2,380.9ZM782.4,377.5L786.1,373.8L784.6,379.3ZM805.8,378.2L809.8,374.8L807.9,380.2ZM832.0,376.2L836.2,373.1L833.8,378.3ZM856.6,377.9L860.8,374.8L858.5,380.0ZM883.3,377.5L887.8,374.8L884.9,379.8ZM885.1,380.0L889.6,377.3L886.8,382.3ZM906.2,374.4L911.0,372.2L907.7,376.9ZM907.8,377.1L912.5,374.9L909.2,379.5ZM975.9,387.7L975.3,382.5L978.6,387.2ZM1001.2,390.8L999.3,386.0L1003.7,389.5ZM1027.9,391.3L1025.5,386.6L1030.2,389.8ZM1053.2,389.7L1051.1,384.9L1055.7,388.3ZM1076.4,390.4L1074.1,385.7L1078.8,389.0ZM716.8,402.4L716.2,397.2L719.5,401.8ZM742.9,396.5L745.9,392.3L745.3,397.9ZM767.2,395.7L770.7,391.8L769.5,397.4ZM794.0,396.4L797.7,392.6L796.2,398.1ZM819.6,393.2L823.5,389.7L821.7,395.1ZM845.0,393.2L848.9,389.7L847.0,395.1ZM869.0,392.8L873.1,389.6L870.9,394.8ZM871.1,395.0L875.3,391.8L873.0,397.1ZM894.1,392.6L898.4,389.7L895.8,394.8ZM896.0,395.0L900.4,392.1L897.8,397.2ZM919.0,397.1L922.7,393.4L921.2,398.9ZM921.4,399.1L925.1,395.4L923.6,400.9ZM939.4,397.3L941.4,392.5L942.0,398.1ZM965.0,401.8L965.8,396.7L967.8,402.0ZM990.1,403.1L989.6,397.9L992.9,402.6ZM1016.1,403.9L1014.7,398.9L1018.7,402.9ZM1038.7,407.8L1037.1,402.8L1041.3,406.7ZM1063.3,405.5L1061.4,400.7L1065.8,404.3ZM1090.5,406.4L1088.2,401.8L1092.9,405.0ZM730.4,416.3L733.3,411.9L732.9,417.6ZM756.7,414.7L759.9,410.5L759.1,416.1ZM782.4,412.5L785.8,408.5L784.7,414.1ZM805.2,412.3L809.0,408.6L807.4,414.1ZM829.7,412.3L833.5,408.7L831.9,414.1ZM856.9,412.5L860.8,409.0L859.0,414.3ZM882.2,411.9L886.1,408.4L884.2,413.7ZM884.5,413.9L888.3,410.4L886.5,415.8ZM904.7,414.9L908.2,411.1L906.9,416.6ZM907.2,416.8L910.7,412.9L909.4,418.5ZM927.7,417.1L929.9,412.4L930.3,418.1ZM930.6,418.2L932.8,413.4L933.2,419.1ZM953.3,418.9L954.8,413.9L956.0,419.5ZM956.3,419.5L957.9,414.5L959.0,420.1ZM975.2,420.6L976.0,415.4L978.0,420.7ZM1000.8,420.2L1000.3,415.0L1003.6,419.6ZM1025.3,423.6L1024.3,418.5L1028.0,422.8ZM1050.5,424.4L1049.0,419.3L1053.1,423.3ZM1076.8,422.6L1075.5,417.6L1079.4,421.6ZM744.7,433.1L747.5,428.7L747.1,434.4ZM768.9,433.4L772.2,429.3L771.3,434.9ZM793.7,432.7L797.3,428.9L795.9,434.4ZM816.9,431.1L820.5,427.3L819.2,432.8ZM844.9,430.2L848.5,426.5L847.0,432.0ZM869.0,432.7L872.4,428.7L871.3,434.3ZM891.9,432.9L895.3,428.9L894.2,434.5ZM894.5,434.7L897.8,430.7L896.8,436.3ZM916.4,431.4L919.7,427.4L918.7,433.0ZM940.7,435.4L942.4,430.4L943.5,436.0ZM963.5,435.7L964.8,430.7L966.3,436.2ZM989.2,437.5L989.4,432.3L992.0,437.3ZM1013.2,439.1L1012.6,433.9L1016.0,438.5ZM1040.6,439.1L1039.4,434.0L1043.2,438.2ZM1064.4,440.6L1063.2,435.5L1067.0,439.7ZM1090.7,441.3L1088.7,436.4L1093.1,440.0ZM756.8,450.8L760.1,446.7L759.2,452.3ZM780.5,450.4L784.1,446.6L782.8,452.1ZM804.1,449.4L807.4,445.3L806.4,450.9ZM830.4,449.2L833.8,445.3L832.6,450.8ZM853.3,448.0L856.6,444.0L855.6,449.6ZM879.8,451.4L882.8,447.1L882.2,452.8ZM905.3,448.9L909.0,445.3L907.4,450.7ZM907.7,450.9L911.4,447.2L909.8,452.7ZM927.2,451.1L929.7,446.6L929.8,452.2ZM953.2,455.6L954.5,450.5L956.0,456.0ZM976.5,456.5L977.1,451.3L979.3,456.5ZM999.8,455.8L999.7,450.6L1002.5,455.5ZM1026.5,458.5L1026.1,453.3L1029.2,458.0ZM1052.8,457.6L1051.9,452.5L1055.5,456.9ZM1074.8,460.4L1073.5,455.3L1077.4,459.4ZM792.5,468.0L795.6,463.8L795.0,469.4ZM819.0,468.2L822.3,464.1L821.4,469.7ZM840.8,469.7L844.0,465.6L843.2,471.2ZM866.6,468.3L869.3,463.8L869.2,469.5ZM893.5,466.0L896.7,461.9L895.8,467.5ZM916.8,468.4L919.4,463.8L919.4,469.5ZM919.7,469.7L922.2,465.1L922.2,470.8ZM939.4,472.2L941.2,467.3L942.2,472.9ZM964.4,474.4L965.4,469.3L967.2,474.7ZM990.3,475.4L990.7,470.2L993.1,475.3ZM1015.7,475.0L1015.5,469.8L1018.5,474.6ZM1039.6,475.5L1039.0,470.3L1042.3,474.9ZM1063.8,475.8L1062.8,470.7L1066.5,475.0ZM1087.7,478.5L1085.4,473.9L1090.1,477.0ZM829.8,484.4L833.0,480.3L832.2,485.9ZM856.2,487.5L858.8,483.1L858.7,488.7ZM878.9,485.8L881.6,481.3L881.5,487.0ZM902.3,486.3L904.8,481.7L904.9,487.4ZM929.5,488.5L931.9,483.8L932.1,489.5ZM932.3,489.6L934.8,485.0L934.9,490.7ZM952.5,490.6L954.2,485.7L955.2,491.3ZM978.6,488.8L979.7,483.7L981.4,489.1ZM1003.0,491.8L1003.1,486.6L1005.8,491.6ZM1049.6,493.1L1048.7,487.9L1052.3,492.3ZM1078.3,493.8L1076.8,488.7L1080.9,492.7ZM843.7,504.6L846.5,500.2L846.2,505.9ZM866.2,506.9L868.7,502.3L868.8,508.0ZM890.6,508.1L892.7,503.3L893.2,509.0ZM914.8,505.8L917.1,501.1L917.4,506.8ZM940.5,505.4L942.7,500.6L943.2,506.3ZM963.7,505.8L965.7,501.0L966.4,506.6ZM988.3,507.3L989.4,502.2L991.1,507.6ZM1012.2,510.7L1012.3,505.4L1015.0,510.4ZM1038.4,513.6L1037.6,508.4L1041.1,512.9ZM1063.1,511.8L1061.8,506.7L1065.7,510.8ZM1088.0,507.9L1088.3,502.7L1090.8,507.8ZM880.1,523.2L881.8,518.3L882.8,523.9ZM901.3,526.3L903.1,521.3L904.0,526.9ZM928.4,523.3L930.5,518.5L931.1,524.1ZM954.0,522.1L956.2,517.3L956.6,523.0ZM977.3,523.5L979.7,518.8L979.9,524.5ZM980.2,524.6L982.5,519.9L982.8,525.6ZM1000.3,527.1L1000.9,521.9L1003.1,527.1ZM1025.8,528.0L1026.5,522.8L1028.6,528.1ZM1051.1,527.8L1051.9,522.7L1053.9,528.0ZM1074.7,528.2L1073.7,523.1L1077.4,527.4ZM889.9,541.2L891.9,536.4L892.6,542.1ZM914.2,540.6L916.6,536.0L916.8,541.7ZM940.1,539.5L943.0,535.2L942.5,540.8ZM965.2,540.2L968.4,536.2L967.5,541.8ZM990.6,541.2L992.7,536.5L993.2,542.1ZM993.5,542.2L995.7,537.5L996.1,543.1ZM1013.9,543.8L1015.1,538.7L1016.7,544.1ZM1039.4,542.3L1041.2,537.4L1042.1,543.1ZM1063.0,544.3L1064.6,539.4L1065.8,544.9ZM1089.4,545.5L1089.8,540.3L1092.2,545.5Z" fill="#000" stroke="#000" stroke-width="0.3"/>
<path d="M712.0,188.5L714.1,188.6L715.9,188.7L718.3,188.8L722.0,189.0L724.0,189.1L726.2,189.2L728.6,189.3L731.2,189.4L734.0,189.5L736.9,189.6L739.9,189.8L742.9,189.9L745.9,189.9L749.0,190.0L751.6,190.0L754.3,190.1L757.1,190.1L759.9,190.1L762.8,190.1L765.8,190.1L768.7,190.1L771.6,190.1L774.5,190.1L777.4,190.1L780.2,190.0L783.0,190.0L786.0,190.0L789.0,189.9L792.0,189.9L795.0,189.8L798.0,189.8L800.9,189.7L803.7,189.6L806.5,189.5L809.1,189.4L811.6,189.2L814.0,189.0L817.3,188.6L820.1,188.2L822.7,187.7L825.1,187.1L827.5,186.5L830.1,185.8L833.0,185.0L835.6,184.3L838.4,183.5L841.3,182.6L844.3,181.7L847.3,180.8L850.3,179.8L853.1,179.0L855.7,178.2L858.0,177.5L861.5,176.6L864.3,175.9L866.8,175.4L869.2,174.8L872.0,174.0L875.1,173.0L878.3,171.8L881.5,170.5L884.8,169.2L888.0,168.0M904.0,168.0L904.4,170.7L904.7,173.2L905.1,175.7L905.4,178.2L905.8,180.8L906.2,183.6L906.6,186.6L907.0,190.0L907.3,192.5L907.6,195.2L907.9,198.0L908.2,201.0L908.5,204.0L908.9,207.1L909.2,210.3L909.6,213.4L909.9,216.4L910.3,219.4L910.6,222.3L911.0,225.0L911.5,228.0L912.0,230.9L912.5,233.6L913.1,236.3L913.6,238.9L914.2,241.5L914.7,244.2L915.2,246.9L915.6,249.9L916.0,253.0L916.3,255.6L916.5,258.3L916.7,261.2L916.9,264.2L917.1,267.3L917.2,270.3L917.4,273.4L917.5,276.5L917.6,279.4L917.7,282.3L917.8,285.0L917.9,287.6L918.0,290.0L918.1,293.5L918.1,296.5L918.0,299.3L917.9,301.9L917.9,304.3L917.8,306.8L917.9,309.3L918.0,312.0L918.2,314.8L918.5,317.7L918.8,320.6L919.2,323.5L919.6,326.4L920.0,329.3L920.5,332.2L921.0,335.0L921.5,337.8L922.0,340.6L922.6,343.4L923.2,346.1L923.8,348.9L924.5,351.6L925.2,354.3L926.0,357.0L926.8,359.7L927.7,362.6L928.7,365.4L929.7,368.2L930.7,371.0L931.8,373.5L932.9,375.9L934.0,378.0L935.8,380.8L937.8,383.1L939.8,385.0L941.8,386.6L944.0,388.0L946.1,389.2L948.1,390.2L950.3,391.0L952.9,391.6L956.0,392.0L958.4,392.2L961.2,392.3L964.2,392.4L967.3,392.4L970.5,392.3L973.6,392.2L976.4,392.1L979.0,392.0L982.0,391.8L984.6,391.6L987.1,391.3L989.4,391.0L991.7,390.5L994.0,390.0L996.9,389.2L999.9,388.3L1002.7,387.3L1005.5,386.2L1008.0,385.0L1010.2,383.9L1012.0,382.7L1013.8,381.5L1015.7,379.9L1018.0,378.0L1019.7,376.5L1021.6,374.6L1023.5,372.7L1025.6,370.6L1027.7,368.5L1029.8,366.4L1031.9,364.6L1034.0,363.0L1036.3,361.6L1038.6,360.4L1041.0,359.4L1043.3,358.6L1045.7,357.6L1048.3,356.4L1051.0,355.0L1053.2,353.6L1055.5,352.0L1057.9,350.3L1060.3,348.5L1062.8,346.7L1065.3,344.9L1067.9,343.1L1070.4,341.5L1073.0,340.0L1075.9,338.5L1078.9,337.1L1081.9,335.9L1084.9,334.7L1087.9,333.5L1091.0,332.4L1094.0,331.2L1097.0,330.0M712.0,210.5L714.1,210.6L715.9,210.7L718.3,210.8L722.0,211.0L724.0,211.1L726.2,211.3L728.6,211.4L731.2,211.6L734.0,211.8L736.9,212.0L739.9,212.2L742.9,212.5L745.9,212.7L749.0,213.0L751.6,213.3L754.4,213.6L757.2,213.9L760.1,214.2L763.1,214.6L766.1,214.9L769.0,215.3L772.0,215.6L774.9,215.9L777.7,216.2L780.4,216.5L783.0,216.7L786.3,216.9L789.4,217.1L792.3,217.2L795.2,217.2L798.0,217.3L800.8,217.3L803.5,217.3L806.2,217.4L809.0,217.5L811.8,217.6L814.7,217.8L817.6,217.9L820.4,218.1L823.2,218.2L825.9,218.4L828.4,218.6L830.8,218.8L833.0,219.0L836.3,219.3L839.0,219.6L841.4,220.0L843.6,220.7L846.0,221.7L848.1,222.9L850.2,224.3L852.3,225.8L854.3,227.6L856.2,229.6L858.0,231.7L859.4,233.6L860.7,235.7L861.9,237.9L863.0,240.3L864.0,242.7L865.0,245.3L866.0,248.0L866.8,250.5L867.5,253.1L868.1,255.9L868.7,258.8L869.3,261.6L869.8,264.5L870.4,267.3L871.0,270.0L871.7,273.0L872.4,275.9L873.1,278.7L873.9,281.5L874.6,284.3L875.3,287.2L876.0,290.0L876.7,292.8L877.4,295.4L878.0,298.0L878.7,300.7L879.4,303.6L880.2,306.6L881.0,310.0L881.5,312.4L882.1,315.0L882.7,317.8L883.3,320.7L883.9,323.7L884.5,326.7L885.1,329.6L885.8,332.5L886.5,335.2L887.2,337.7L888.0,340.0L889.3,343.1L890.7,345.9L892.2,348.3L893.7,350.5L895.2,352.7L896.7,354.8L898.0,357.0L899.4,359.6L900.7,362.0L901.9,364.3L903.1,366.7L904.5,369.3L906.0,372.0L907.3,374.3L908.6,376.7L909.9,379.3L911.3,382.0L912.8,384.6L914.4,387.1L916.0,389.5L917.7,391.7L919.5,393.7L921.4,395.6L923.4,397.5L925.5,399.2L927.6,400.8L929.8,402.3L931.9,403.7L934.0,405.0L936.4,406.2L938.7,407.3L941.0,408.1L943.4,408.9L945.8,409.6L948.4,410.3L951.0,411.0L953.4,411.7L956.0,412.4L958.6,413.1L961.3,413.8L964.0,414.4L966.7,415.0L969.4,415.5L972.0,416.0L974.8,416.5L977.5,417.0L980.1,417.5L982.8,417.9L985.6,418.1L988.6,418.2L992.0,418.0L994.4,417.8L996.8,417.4L999.5,417.0L1002.2,416.5L1005.0,416.0L1007.8,415.4L1010.7,414.7L1013.5,414.1L1016.4,413.4L1019.2,412.7L1022.0,412.0L1024.8,411.3L1027.5,410.6L1030.4,409.9L1033.2,409.1L1036.0,408.3L1038.8,407.5L1041.6,406.7L1044.3,405.8L1047.0,404.9L1049.5,404.0L1052.0,403.0L1054.9,401.7L1057.6,400.4L1060.2,398.9L1062.8,397.4L1065.2,395.9L1067.7,394.4L1070.1,392.9L1072.5,391.4L1075.0,390.0L1077.8,388.5L1080.6,386.9L1083.3,385.4L1086.1,383.9L1088.8,382.5L1091.5,381.0L1094.3,379.5L1097.0,378.0M712.0,242.5L714.1,242.6L715.9,242.6L718.3,242.7L722.0,243.0L724.0,243.2L726.3,243.4L728.9,243.7L731.7,244.0L734.6,244.3L737.5,244.6L740.5,244.9L743.5,245.3L746.3,245.6L749.0,246.0L751.9,246.4L754.8,246.8L757.8,247.2L760.7,247.7L763.5,248.1L766.3,248.6L769.0,249.0L771.6,249.5L774.0,250.0L777.3,250.7L780.3,251.3L783.0,252.0L785.7,252.8L788.3,253.8L791.0,255.0L793.4,256.3L795.8,257.7L798.3,259.3L800.7,261.0L803.1,262.8L805.4,264.7L807.7,266.7L809.7,268.6L811.8,270.6L813.8,272.8L815.9,275.0L817.8,277.2L819.6,279.3L821.3,281.3L822.7,283.0L824.9,285.6L826.4,287.6L827.6,289.5L829.0,292.0L830.1,294.0L831.1,296.2L832.1,298.6L833.2,301.1L834.5,303.8L836.0,306.7L837.2,308.8L838.5,311.0L839.9,313.4L841.3,315.8L842.8,318.3L844.4,320.8L845.9,323.2L847.5,325.7L849.0,328.0L850.5,330.3L852.0,332.5L853.5,334.7L855.1,336.9L856.6,339.0L858.1,341.2L859.7,343.4L861.2,345.7L862.7,348.0L864.2,350.4L865.7,352.9L867.2,355.4L868.7,357.9L870.1,360.5L871.6,363.0L873.1,365.4L874.5,367.8L876.0,370.0L877.7,372.4L879.3,374.6L881.0,376.8L882.7,378.9L884.4,380.9L886.0,382.9L887.5,384.8L889.0,386.7L890.8,389.1L892.4,391.3L893.9,393.4L895.5,395.5L897.1,397.7L899.0,400.0L900.5,401.9L902.0,404.0L903.6,406.1L905.2,408.2L907.0,410.3L908.8,412.4L910.8,414.3L913.0,416.0L915.1,417.4L917.3,418.7L919.6,419.9L922.0,421.1L924.5,422.2L927.1,423.2L929.7,424.2L932.3,425.1L935.0,426.0L937.7,426.9L940.5,427.6L943.4,428.4L946.4,429.1L949.3,429.7L952.3,430.3L955.2,430.9L958.2,431.4L961.0,432.0L963.8,432.6L966.5,433.1L969.2,433.7L971.8,434.2L974.5,434.7L977.2,435.2L979.9,435.6L982.7,435.8L985.6,436.0L988.3,436.1L991.0,436.1L993.9,436.0L996.7,435.9L999.6,435.8L1002.5,435.5L1005.4,435.2L1008.3,434.9L1011.2,434.5L1014.0,434.0L1016.9,433.4L1019.8,432.8L1022.7,432.0L1025.6,431.2L1028.5,430.4L1031.4,429.5L1034.2,428.6L1036.9,427.7L1039.5,426.8L1042.0,426.0L1044.8,425.0L1047.2,424.1L1049.4,423.2L1051.6,422.3L1053.8,421.4L1056.1,420.4L1058.8,419.2L1062.0,418.0L1064.4,417.1L1067.0,416.1L1069.7,415.1L1072.6,414.0L1075.5,412.9L1078.6,411.8L1081.7,410.7L1084.8,409.5L1087.9,408.4L1091.0,407.2L1094.0,406.1L1097.0,405.0M712.0,291.0L714.3,291.4L716.4,291.8L718.9,292.3L722.0,293.0L724.3,293.5L726.8,294.0L729.6,294.5L732.5,295.1L735.5,295.8L738.3,296.6L741.0,297.5L743.5,298.5L746.0,299.6L748.3,300.8L750.7,302.1L753.0,303.5L755.4,305.0L757.7,306.7L759.8,308.3L761.8,310.0L763.8,311.9L765.8,313.8L767.9,315.8L769.9,317.8L771.9,319.8L774.0,321.7L776.1,323.6L778.3,325.6L780.6,327.5L782.8,329.5L785.0,331.4L787.1,333.3L789.1,335.1L791.0,336.7L793.2,338.6L795.2,340.4L797.1,341.9L798.9,343.5L800.7,345.0L802.7,346.7L804.8,348.5L807.0,350.2L809.3,352.0L811.5,353.9L813.8,355.9L816.0,358.0L817.9,359.9L819.7,362.0L821.6,364.2L823.4,366.4L825.2,368.6L827.1,370.8L829.0,373.0L830.9,375.2L832.8,377.3L834.8,379.5L836.7,381.7L838.7,383.9L840.7,386.0L842.7,388.0L844.7,389.9L846.6,391.7L848.5,393.4L850.4,395.1L852.5,396.9L854.7,398.8L857.0,401.0L858.8,402.7L860.6,404.5L862.6,406.4L864.6,408.4L866.6,410.4L868.7,412.5L870.8,414.5L872.9,416.4L875.0,418.3L877.0,420.0L879.3,421.8L881.7,423.6L884.1,425.3L886.5,427.0L888.9,428.6L891.1,430.1L893.3,431.5L895.3,432.8L897.0,434.0L899.9,435.8L901.8,436.9L903.6,438.0L906.0,440.0L907.6,441.6L909.2,443.5L911.0,445.6L912.8,447.8L914.7,450.1L916.8,452.3L918.8,454.3L921.0,456.0L923.3,457.5L925.6,458.8L928.1,459.9L930.7,461.0L933.2,462.0L935.8,462.9L938.4,463.7L941.0,464.5L943.8,465.3L946.5,466.1L949.2,466.7L952.0,467.2L954.9,467.7L958.1,468.1L961.5,468.5L963.9,468.7L966.4,468.9L969.0,469.1L971.8,469.3L974.6,469.4L977.4,469.5L980.3,469.6L983.2,469.6L986.1,469.6L988.9,469.6L991.7,469.5L994.5,469.4L997.2,469.2L1000.0,469.0L1002.7,468.7L1005.5,468.5L1008.2,468.2L1011.0,467.8L1013.8,467.5L1016.5,467.2L1019.3,466.8L1022.0,466.5L1024.8,466.2L1027.6,465.8L1030.5,465.5L1033.4,465.1L1036.2,464.8L1039.1,464.4L1041.8,464.0L1044.5,463.7L1047.2,463.3L1049.6,462.9L1052.0,462.5L1055.3,461.9L1058.3,461.3L1061.0,460.7L1063.6,460.1L1066.2,459.5L1069.0,458.8L1072.0,458.0L1074.9,457.2L1077.9,456.4L1081.0,455.6L1084.2,454.7L1087.4,453.7L1090.6,452.8L1093.8,451.9L1097.0,451.0M712.0,363.0L714.3,364.1L716.4,365.2L718.9,366.4L722.0,368.0L724.0,369.0L726.2,370.2L728.6,371.4L731.1,372.8L733.6,374.1L736.2,375.5L738.7,376.8L741.0,378.0L743.5,379.3L746.0,380.5L748.3,381.7L750.7,382.9L753.0,384.1L755.4,385.3L757.7,386.7L760.1,388.2L762.6,389.9L765.1,391.6L767.6,393.3L769.9,395.0L772.1,396.6L774.0,398.0L776.6,400.0L778.5,401.6L780.3,403.2L782.7,405.0L784.6,406.3L786.7,407.6L788.9,408.9L791.3,410.4L793.9,412.1L796.6,414.0L798.5,415.5L800.6,417.0L802.7,418.7L804.9,420.5L807.1,422.4L809.5,424.3L811.8,426.2L814.2,428.1L816.7,430.0L818.8,431.6L820.9,433.2L823.1,434.9L825.4,436.5L827.7,438.2L830.0,439.9L832.3,441.6L834.6,443.3L836.8,444.9L838.9,446.5L841.0,448.0L843.4,449.8L845.6,451.5L847.8,453.2L849.9,454.8L851.9,456.4L854.0,458.0L856.2,459.5L858.5,461.0L861.0,462.5L863.4,463.8L865.9,465.1L868.6,466.3L871.3,467.6L874.1,468.8L876.8,470.0L879.5,471.1L882.2,472.3L884.7,473.4L887.0,474.5L889.7,475.9L892.3,477.3L894.8,478.6L897.2,479.9L899.5,481.2L901.7,482.4L903.9,483.5L906.0,484.6L908.7,485.8L911.1,486.8L913.4,487.7L915.8,488.5L918.3,489.5L921.0,490.7L923.1,491.7L925.2,492.8L927.2,494.0L929.4,495.2L931.8,496.5L934.4,497.8L937.5,499.2L941.0,500.7L943.2,501.5L945.5,502.5L948.1,503.4L950.9,504.4L953.8,505.5L956.7,506.5L959.8,507.6L962.8,508.6L965.8,509.7L968.8,510.7L971.7,511.6L974.5,512.5L977.1,513.4L979.4,514.1L981.6,514.8L985.5,516.0L988.8,516.8L991.6,517.5L994.1,518.0L996.5,518.4L999.0,518.7L1001.7,519.0L1004.6,519.2L1007.5,519.4L1010.4,519.5L1013.3,519.4L1016.2,519.3L1019.1,519.2L1022.0,519.0L1024.8,518.8L1027.5,518.6L1030.2,518.3L1032.9,517.9L1035.7,517.5L1038.7,516.8L1042.0,516.0L1044.5,515.3L1047.1,514.4L1049.8,513.5L1052.7,512.5L1055.6,511.4L1058.5,510.3L1061.4,509.2L1064.3,508.1L1067.2,507.0L1070.0,506.0L1073.0,504.9L1076.1,503.8L1079.1,502.7L1082.1,501.6L1085.1,500.4L1088.0,499.3L1091.0,498.2L1094.0,497.1L1097.0,496.0M712.0,440.0L714.3,441.1L716.5,442.2L718.9,443.4L722.0,445.0L724.1,446.1L726.5,447.4L729.0,448.8L731.7,450.2L734.5,451.7L737.3,453.1L740.0,454.4L742.4,455.4L744.9,456.4L747.5,457.3L750.1,458.2L752.7,459.1L755.2,460.1L757.7,461.2L760.0,462.5L762.2,464.0L764.3,465.7L766.3,467.5L768.2,469.4L770.2,471.3L772.2,473.2L774.3,475.0L776.5,476.6L778.8,478.0L781.3,479.3L783.8,480.6L786.3,481.7L788.9,482.9L791.5,484.0L794.1,485.3L796.6,486.6L799.1,488.0L801.6,489.5L804.1,491.0L806.6,492.5L809.1,494.1L811.7,495.6L814.2,497.2L816.7,498.7L819.2,500.2L821.8,501.8L824.3,503.3L826.9,504.9L829.4,506.4L831.9,507.9L834.5,509.4L837.0,510.8L839.5,512.2L842.0,513.5L844.5,514.9L847.0,516.2L849.5,517.4L852.0,518.6L854.5,519.8L857.0,521.0L859.5,522.1L862.0,523.2L864.5,524.3L867.0,525.4L869.5,526.4L872.0,527.3L874.5,528.2L877.0,529.0L879.7,529.8L882.3,530.3L884.9,530.8L887.5,531.3L890.3,531.8L893.5,532.3L897.0,533.0L899.3,533.5L901.9,534.0L904.6,534.6L907.5,535.1L910.5,535.8L913.5,536.4L916.5,537.0L919.5,537.6L922.4,538.2L925.1,538.9L927.7,539.4L930.0,540.0L934.1,541.1L937.6,542.1L940.8,543.1L943.8,544.0L946.8,545.0L950.0,546.0" fill="none" stroke="#1a1a1a" stroke-width="0.8" stroke-linejoin="round"/>
<g transform="translate(829.0,297.0) rotate(55)"><rect x="-10.0" y="-4.0" width="19.9" height="8.0" fill="#fff"/><text x="0" y="2.3" font-size="6.4" text-anchor="middle" fill="#222">10440</text></g>
<g transform="translate(919.0,303.0) rotate(-82)"><rect x="-10.0" y="-4.0" width="19.9" height="8.0" fill="#fff"/><text x="0" y="2.3" font-size="6.4" text-anchor="middle" fill="#222">10200</text></g>
<g transform="translate(952.0,387.0) rotate(12)"><rect x="-10.0" y="-4.0" width="19.9" height="8.0" fill="#fff"/><text x="0" y="2.3" font-size="6.4" text-anchor="middle" fill="#222">10200</text></g>
<g transform="translate(1059.0,351.0) rotate(-35)"><rect x="-10.0" y="-4.0" width="19.9" height="8.0" fill="#fff"/><text x="0" y="2.3" font-size="6.4" text-anchor="middle" fill="#222">10200</text></g>
<g transform="translate(908.0,408.0) rotate(38)"><rect x="-10.0" y="-4.0" width="19.9" height="8.0" fill="#fff"/><text x="0" y="2.3" font-size="6.4" text-anchor="middle" fill="#222">10440</text></g>
<g transform="translate(1002.0,435.0) rotate(-3)"><rect x="-10.0" y="-4.0" width="19.9" height="8.0" fill="#fff"/><text x="0" y="2.3" font-size="6.4" text-anchor="middle" fill="#222">10440</text></g>
<g transform="translate(829.0,440.0) rotate(35)"><rect x="-10.0" y="-4.0" width="19.9" height="8.0" fill="#fff"/><text x="0" y="2.3" font-size="6.4" text-anchor="middle" fill="#222">10680</text></g>
<g transform="translate(958.0,507.0) rotate(18)"><rect x="-10.0" y="-4.0" width="19.9" height="8.0" fill="#fff"/><text x="0" y="2.3" font-size="6.4" text-anchor="middle" fill="#222">10680</text></g>
<g transform="translate(1070.0,506.0) rotate(-20)"><rect x="-10.0" y="-4.0" width="19.9" height="8.0" fill="#fff"/><text x="0" y="2.3" font-size="6.4" text-anchor="middle" fill="#222">10680</text></g>
<text x="724" y="538.6" font-size="10" textLength="283" lengthAdjust="spacingAndGlyphs" fill="#222">CW3E, Scripps, UC San Diego; Contact B. Kawzenuk/M. Ralph</text>
</g>
<rect x="721.5" y="173.3" width="370.5" height="367.90000000000003" fill="none" stroke="#333" stroke-width="1"/>
<line x1="721.50" y1="541.2" x2="721.50" y2="553.2" stroke="#222" stroke-width="1"/>
<line x1="709.5" y1="173.30" x2="721.5" y2="173.30" stroke="#222" stroke-width="1"/>
<line x1="733.85" y1="541.2" x2="733.85" y2="547.2" stroke="#999" stroke-width="1"/>
<line x1="715.5" y1="185.56" x2="721.5" y2="185.56" stroke="#999" stroke-width="1"/>
<line x1="746.20" y1="541.2" x2="746.20" y2="547.2" stroke="#999" stroke-width="1"/>
<line x1="715.5" y1="197.83" x2="721.5" y2="197.83" stroke="#999" stroke-width="1"/>
<line x1="758.55" y1="541.2" x2="758.55" y2="547.2" stroke="#999" stroke-width="1"/>
<line x1="715.5" y1="210.09" x2="721.5" y2="210.09" stroke="#999" stroke-width="1"/>
<line x1="770.90" y1="541.2" x2="770.90" y2="547.2" stroke="#999" stroke-width="1"/>
<line x1="715.5" y1="222.35" x2="721.5" y2="222.35" stroke="#999" stroke-width="1"/>
<line x1="783.25" y1="541.2" x2="783.25" y2="553.2" stroke="#222" stroke-width="1"/>
<line x1="709.5" y1="234.62" x2="721.5" y2="234.62" stroke="#222" stroke-width="1"/>
<line x1="795.60" y1="541.2" x2="795.60" y2="547.2" stroke="#999" stroke-width="1"/>
<line x1="715.5" y1="246.88" x2="721.5" y2="246.88" stroke="#999" stroke-width="1"/>
<line x1="807.95" y1="541.2" x2="807.95" y2="547.2" stroke="#999" stroke-width="1"/>
<line x1="715.5" y1="259.14" x2="721.5" y2="259.14" stroke="#999" stroke-width="1"/>
<line x1="820.30" y1="541.2" x2="820.30" y2="547.2" stroke="#999" stroke-width="1"/>
<line x1="715.5" y1="271.41" x2="721.5" y2="271.41" stroke="#999" stroke-width="1"/>
<line x1="832.65" y1="541.2" x2="832.65" y2="547.2" stroke="#999" stroke-width="1"/>
<line x1="715.5" y1="283.67" x2="721.5" y2="283.67" stroke="#999" stroke-width="1"/>
<line x1="845.00" y1="541.2" x2="845.00" y2="553.2" stroke="#222" stroke-width="1"/>
<line x1="709.5" y1="295.93" x2="721.5" y2="295.93" stroke="#222" stroke-width="1"/>
<line x1="857.35" y1="541.2" x2="857.35" y2="547.2" stroke="#999" stroke-width="1"/>
<line x1="715.5" y1="308.20" x2="721.5" y2="308.20" stroke="#999" stroke-width="1"/>
<line x1="869.70" y1="541.2" x2="869.70" y2="547.2" stroke="#999" stroke-width="1"/>
<line x1="715.5" y1="320.46" x2="721.5" y2="320.46" stroke="#999" stroke-width="1"/>
<line x1="882.05" y1="541.2" x2="882.05" y2="547.2" stroke="#999" stroke-width="1"/>
<line x1="715.5" y1="332.72" x2="721.5" y2="332.72" stroke="#999" stroke-width="1"/>
<line x1="894.40" y1="541.2" x2="894.40" y2="547.2" stroke="#999" stroke-width="1"/>
<line x1="715.5" y1="344.99" x2="721.5" y2="344.99" stroke="#999" stroke-width="1"/>
<line x1="906.75" y1="541.2" x2="906.75" y2="553.2" stroke="#222" stroke-width="1"/>
<line x1="709.5" y1="357.25" x2="721.5" y2="357.25" stroke="#222" stroke-width="1"/>
<line x1="919.10" y1="541.2" x2="919.10" y2="547.2" stroke="#999" stroke-width="1"/>
<line x1="715.5" y1="369.51" x2="721.5" y2="369.51" stroke="#999" stroke-width="1"/>
<line x1="931.45" y1="541.2" x2="931.45" y2="547.2" stroke="#999" stroke-width="1"/>
<line x1="715.5" y1="381.78" x2="721.5" y2="381.78" stroke="#999" stroke-width="1"/>
<line x1="943.80" y1="541.2" x2="943.80" y2="547.2" stroke="#999" stroke-width="1"/>
<line x1="715.5" y1="394.04" x2="721.5" y2="394.04" stroke="#999" stroke-width="1"/>
<line x1="956.15" y1="541.2" x2="956.15" y2="547.2" stroke="#999" stroke-width="1"/>
<line x1="715.5" y1="406.30" x2="721.5" y2="406.30" stroke="#999" stroke-width="1"/>
<line x1="968.50" y1="541.2" x2="968.50" y2="553.2" stroke="#222" stroke-width="1"/>
<line x1="709.5" y1="418.57" x2="721.5" y2="418.57" stroke="#222" stroke-width="1"/>
<line x1="980.85" y1="541.2" x2="980.85" y2="547.2" stroke="#999" stroke-width="1"/>
<line x1="715.5" y1="430.83" x2="721.5" y2="430.83" stroke="#999" stroke-width="1"/>
<line x1="993.20" y1="541.2" x2="993.20" y2="547.2" stroke="#999" stroke-width="1"/>
<line x1="715.5" y1="443.09" x2="721.5" y2="443.09" stroke="#999" stroke-width="1"/>
<line x1="1005.55" y1="541.2" x2="1005.55" y2="547.2" stroke="#999" stroke-width="1"/>
<line x1="715.5" y1="455.36" x2="721.5" y2="455.36" stroke="#999" stroke-width="1"/>
<line x1="1017.90" y1="541.2" x2="1017.90" y2="547.2" stroke="#999" stroke-width="1"/>
<line x1="715.5" y1="467.62" x2="721.5" y2="467.62" stroke="#999" stroke-width="1"/>
<line x1="1030.25" y1="541.2" x2="1030.25" y2="553.2" stroke="#222" stroke-width="1"/>
<line x1="709.5" y1="479.88" x2="721.5" y2="479.88" stroke="#222" stroke-width="1"/>
<line x1="1042.60" y1="541.2" x2="1042.60" y2="547.2" stroke="#999" stroke-width="1"/>
<line x1="715.5" y1="492.15" x2="721.5" y2="492.15" stroke="#999" stroke-width="1"/>
<line x1="1054.95" y1="541.2" x2="1054.95" y2="547.2" stroke="#999" stroke-width="1"/>
<line x1="715.5" y1="504.41" x2="721.5" y2="504.41" stroke="#999" stroke-width="1"/>
<line x1="1067.30" y1="541.2" x2="1067.30" y2="547.2" stroke="#999" stroke-width="1"/>
<line x1="715.5" y1="516.67" x2="721.5" y2="516.67" stroke="#999" stroke-width="1"/>
<line x1="1079.65" y1="541.2" x2="1079.65" y2="547.2" stroke="#999" stroke-width="1"/>
<line x1="715.5" y1="528.94" x2="721.5" y2="528.94" stroke="#999" stroke-width="1"/>
<line x1="1092.00" y1="541.2" x2="1092.00" y2="553.2" stroke="#222" stroke-width="1"/>
<line x1="709.5" y1="541.20" x2="721.5" y2="541.20" stroke="#222" stroke-width="1"/>
<text x="721.5" y="570.2" font-size="11" text-anchor="middle">140<tspan font-size="7.0" dy="-4.7">o</tspan><tspan dy="4.7">W</tspan></text>
<text x="701.5" y="177.5" font-size="11" text-anchor="end">50<tspan font-size="7.0" dy="-4.7">o</tspan><tspan dy="4.7">N</tspan></text>
<text x="783.2" y="570.2" font-size="11" text-anchor="middle">135<tspan font-size="7.0" dy="-4.7">o</tspan><tspan dy="4.7">W</tspan></text>
<text x="701.5" y="238.8" font-size="11" text-anchor="end">45<tspan font-size="7.0" dy="-4.7">o</tspan><tspan dy="4.7">N</tspan></text>
<text x="845.0" y="570.2" font-size="11" text-anchor="middle">130<tspan font-size="7.0" dy="-4.7">o</tspan><tspan dy="4.7">W</tspan></text>
<text x="701.5" y="300.1" font-size="11" text-anchor="end">40<tspan font-size="7.0" dy="-4.7">o</tspan><tspan dy="4.7">N</tspan></text>
<text x="906.8" y="570.2" font-size="11" text-anchor="middle">125<tspan font-size="7.0" dy="-4.7">o</tspan><tspan dy="4.7">W</tspan></text>
<text x="701.5" y="361.4" font-size="11" text-anchor="end">35<tspan font-size="7.0" dy="-4.7">o</tspan><tspan dy="4.7">N</tspan></text>
<text x="968.5" y="570.2" font-size="11" text-anchor="middle">120<tspan font-size="7.0" dy="-4.7">o</tspan><tspan dy="4.7">W</tspan></text>
<text x="701.5" y="422.8" font-size="11" text-anchor="end">30<tspan font-size="7.0" dy="-4.7">o</tspan><tspan dy="4.7">N</tspan></text>
<text x="1030.2" y="570.2" font-size="11" text-anchor="middle">115<tspan font-size="7.0" dy="-4.7">o</tspan><tspan dy="4.7">W</tspan></text>
<text x="701.5" y="484.1" font-size="11" text-anchor="end">25<tspan font-size="7.0" dy="-4.7">o</tspan><tspan dy="4.7">N</tspan></text>
<text x="1092.0" y="570.2" font-size="11" text-anchor="middle">110<tspan font-size="7.0" dy="-4.7">o</tspan><tspan dy="4.7">W</tspan></text>
<text x="701.5" y="545.4" font-size="11" text-anchor="end">20<tspan font-size="7.0" dy="-4.7">o</tspan><tspan dy="4.7">N</tspan></text>
<rect x="1103.4" y="516.40" width="22.2" height="21.50" fill="#ffffff"/>
<rect x="1103.4" y="495.20" width="22.2" height="21.50" fill="#0000cd"/>
<rect x="1103.4" y="474.00" width="22.2" height="21.50" fill="#0066ff"/>
<rect x="1103.4" y="452.80" width="22.2" height="21.50" fill="#00bef8"/>
<rect x="1103.4" y="431.60" width="22.2" height="21.50" fill="#00ecd8"/>
<rect x="1103.4" y="410.40" width="22.2" height="21.50" fill="#00d89a"/>
<rect x="1103.4" y="389.20" width="22.2" height="21.50" fill="#30b818"/>
<rect x="1103.4" y="368.00" width="22.2" height="21.50" fill="#9fe00a"/>
<rect x="1103.4" y="346.80" width="22.2" height="21.50" fill="#fff000"/>
<rect x="1103.4" y="325.60" width="22.2" height="21.50" fill="#ffc800"/>
<rect x="1103.4" y="304.40" width="22.2" height="21.50" fill="#ffa000"/>
<rect x="1103.4" y="283.20" width="22.2" height="21.50" fill="#ff7800"/>
<rect x="1103.4" y="262.00" width="22.2" height="21.50" fill="#ff0a00"/>
<rect x="1103.4" y="240.80" width="22.2" height="21.50" fill="#d2002a"/>
<rect x="1103.4" y="219.60" width="22.2" height="21.50" fill="#a00050"/>
<rect x="1103.4" y="198.40" width="22.2" height="21.50" fill="#7b006b"/>
<rect x="1103.4" y="177.20" width="22.2" height="21.50" fill="#6a1e9c"/>
<rect x="1103.4" y="177.2" width="22.2" height="360.40" fill="none" stroke="#444" stroke-opacity="0.55" stroke-width="0.8"/>
<line x1="1103.4" y1="516.40" x2="1125.6000000000001" y2="516.40" stroke="#000" stroke-opacity="0.55" stroke-width="0.7"/>
<text x="1134.5" y="519.70" font-size="9">70</text>
<line x1="1103.4" y1="495.20" x2="1125.6000000000001" y2="495.20" stroke="#000" stroke-opacity="0.55" stroke-width="0.7"/>
<text x="1134.5" y="498.50" font-size="9">75</text>
<line x1="1103.4" y1="474.00" x2="1125.6000000000001" y2="474.00" stroke="#000" stroke-opacity="0.55" stroke-width="0.7"/>
<text x="1134.5" y="477.30" font-size="9">80</text>
<line x1="1103.4" y1="452.80" x2="1125.6000000000001" y2="452.80" stroke="#000" stroke-opacity="0.55" stroke-width="0.7"/>
<text x="1134.5" y="456.10" font-size="9">85</text>
<line x1="1103.4" y1="431.60" x2="1125.6000000000001" y2="431.60" stroke="#000" stroke-opacity="0.55" stroke-width="0.7"/>
<text x="1134.5" y="434.90" font-size="9">90</text>
<line x1="1103.4" y1="410.40" x2="1125.6000000000001" y2="410.40" stroke="#000" stroke-opacity="0.55" stroke-width="0.7"/>
<text x="1134.5" y="413.70" font-size="9">95</text>
<line x1="1103.4" y1="389.20" x2="1125.6000000000001" y2="389.20" stroke="#000" stroke-opacity="0.55" stroke-width="0.7"/>
<text x="1134.5" y="392.50" font-size="9">100</text>
<line x1="1103.4" y1="368.00" x2="1125.6000000000001" y2="368.00" stroke="#000" stroke-opacity="0.55" stroke-width="0.7"/>
<text x="1134.5" y="371.30" font-size="9">105</text>
<line x1="1103.4" y1="346.80" x2="1125.6000000000001" y2="346.80" stroke="#000" stroke-opacity="0.55" stroke-width="0.7"/>
<text x="1134.5" y="350.10" font-size="9">110</text>
<line x1="1103.4" y1="325.60" x2="1125.6000000000001" y2="325.60" stroke="#000" stroke-opacity="0.55" stroke-width="0.7"/>
<text x="1134.5" y="328.90" font-size="9">120</text>
<line x1="1103.4" y1="304.40" x2="1125.6000000000001" y2="304.40" stroke="#000" stroke-opacity="0.55" stroke-width="0.7"/>
<text x="1134.5" y="307.70" font-size="9">125</text>
<line x1="1103.4" y1="283.20" x2="1125.6000000000001" y2="283.20" stroke="#000" stroke-opacity="0.55" stroke-width="0.7"/>
<text x="1134.5" y="286.50" font-size="9">130</text>
<line x1="1103.4" y1="262.00" x2="1125.6000000000001" y2="262.00" stroke="#000" stroke-opacity="0.55" stroke-width="0.7"/>
<text x="1134.5" y="265.30" font-size="9">135</text>
<line x1="1103.4" y1="240.80" x2="1125.6000000000001" y2="240.80" stroke="#000" stroke-opacity="0.55" stroke-width="0.7"/>
<text x="1134.5" y="244.10" font-size="9">140</text>
<line x1="1103.4" y1="219.60" x2="1125.6000000000001" y2="219.60" stroke="#000" stroke-opacity="0.55" stroke-width="0.7"/>
<text x="1134.5" y="222.90" font-size="9">145</text>
<line x1="1103.4" y1="198.40" x2="1125.6000000000001" y2="198.40" stroke="#000" stroke-opacity="0.55" stroke-width="0.7"/>
<text x="1134.5" y="201.70" font-size="9">150</text>
<g clip-path="url(#clipL)">
<rect x="448.4" y="173" width="64.0" height="44.69999999999999" fill="#fff"/>
<clipPath id="lg480"><circle cx="480.3" cy="188.3" r="14.4"/></clipPath>
<g clip-path="url(#lg480)">
<rect x="465.90000000000003" y="173.9" width="28.8" height="14.4" fill="#f6921e"/>
<rect x="465.90000000000003" y="188.3" width="28.8" height="14.4" fill="#2a8cbb"/>
<rect x="465.90000000000003" y="188.30" width="28.8" height="1.20" fill="#1f6f94"/>
<rect x="465.90000000000003" y="190.70" width="28.8" height="1.20" fill="#1f6f94"/>
<rect x="465.90000000000003" y="193.10" width="28.8" height="1.20" fill="#1f6f94"/>
<rect x="465.90000000000003" y="195.50" width="28.8" height="1.20" fill="#1f6f94"/>
<rect x="465.90000000000003" y="197.90" width="28.8" height="1.20" fill="#1f6f94"/>
<rect x="465.90000000000003" y="200.30" width="28.8" height="1.20" fill="#1f6f94"/>
<rect x="465.90000000000003" y="187.30" width="28.8" height="1.00" fill="#fff"/>
</g>
<circle cx="480.3" cy="188.10" r="8.7" fill="#fff"/>
<path d="M480.30,181.66 C481.07,184.56 484.68,187.13 484.68,190.35 C484.68,192.93 482.62,194.54 480.30,194.54 C477.98,194.54 475.92,192.93 475.92,190.35 C475.92,187.13 479.53,184.56 480.30,181.66Z" fill="#2a8cbb"/>
<path d="M482.68,184.49 L477.47,189.45 L480.17,190.67 L479.21,194.67 L483.20,189.64 L480.82,188.61 Z" fill="#fff"/>
<clipPath id="mc480"><rect x="448.4" y="173" width="64.0" height="44.69999999999999"/></clipPath>
<g clip-path="url(#mc480)">
<text x="480.7" y="212.3" font-size="5.0" font-weight="bold" text-anchor="middle" fill="#1d6a8c" textLength="63.6" lengthAdjust="spacingAndGlyphs">Center for Western Weather</text>
<text x="480.7" y="217.5" font-size="5.0" font-weight="bold" text-anchor="middle" fill="#1d6a8c" textLength="45.4" lengthAdjust="spacingAndGlyphs">and Water Extremes</text>
</g></g>
<g clip-path="url(#clipR)">
<rect x="1027.7" y="173" width="64.09999999999991" height="44.599999999999994" fill="#fff"/>
<clipPath id="lg1059"><circle cx="1059.4" cy="188.3" r="14.4"/></clipPath>
<g clip-path="url(#lg1059)">
<rect x="1045.0" y="173.9" width="28.8" height="14.4" fill="#f6921e"/>
<rect x="1045.0" y="188.3" width="28.8" height="14.4" fill="#2a8cbb"/>
<rect x="1045.0" y="188.30" width="28.8" height="1.20" fill="#1f6f94"/>
<rect x="1045.0" y="190.70" width="28.8" height="1.20" fill="#1f6f94"/>
<rect x="1045.0" y="193.10" width="28.8" height="1.20" fill="#1f6f94"/>
<rect x="1045.0" y="195.50" width="28.8" height="1.20" fill="#1f6f94"/>
<rect x="1045.0" y="197.90" width="28.8" height="1.20" fill="#1f6f94"/>
<rect x="1045.0" y="200.30" width="28.8" height="1.20" fill="#1f6f94"/>
<rect x="1045.0" y="187.30" width="28.8" height="1.00" fill="#fff"/>
</g>
<circle cx="1059.4" cy="188.10" r="8.7" fill="#fff"/>
<path d="M1059.40,181.66 C1060.17,184.56 1063.78,187.13 1063.78,190.35 C1063.78,192.93 1061.72,194.54 1059.40,194.54 C1057.08,194.54 1055.02,192.93 1055.02,190.35 C1055.02,187.13 1058.63,184.56 1059.40,181.66Z" fill="#2a8cbb"/>
<path d="M1061.78,184.49 L1056.57,189.45 L1059.27,190.67 L1058.31,194.67 L1062.30,189.64 L1059.92,188.61 Z" fill="#fff"/>
<clipPath id="mc1059"><rect x="1027.7" y="173" width="64.09999999999991" height="44.599999999999994"/></clipPath>
<g clip-path="url(#mc1059)">
<text x="1059.8000000000002" y="212.3" font-size="5.0" font-weight="bold" text-anchor="middle" fill="#1d6a8c" textLength="63.6" lengthAdjust="spacingAndGlyphs">Center for Western Weather</text>
<text x="1059.8000000000002" y="217.5" font-size="5.0" font-weight="bold" text-anchor="middle" fill="#1d6a8c" textLength="45.4" lengthAdjust="spacingAndGlyphs">and Water Extremes</text>
</g></g>
<line x1="374" y1="480" x2="374" y2="371" stroke="#000" stroke-width="3.6"/>
<path d="M374 361.5 L379.6 372.8 L368.4 372.8 Z" fill="#000"/>
<rect x="317.7" y="480.2" width="114.2" height="28.6" fill="#bfbfbf" stroke="#000" stroke-width="2"/>
<text x="326" y="500.7" font-size="16.8" font-weight="bold" text-anchor="start" fill="#000" textLength="97.5" lengthAdjust="spacingAndGlyphs">Closed Low</text>
<line x1="996" y1="317" x2="930" y2="398" stroke="#000" stroke-width="3.6"/>
<path d="M923.5 406 L926.3 393.5 L935.2 400.6 Z" fill="#000"/>
<rect x="941.6" y="288.4" width="114.6" height="28" fill="#bfbfbf" stroke="#000" stroke-width="2"/>
<text x="956" y="310" font-size="17.3" font-weight="bold" text-anchor="start" fill="#000" textLength="84.7" lengthAdjust="spacingAndGlyphs">Jet Streak</text>
<rect x="19.5" y="605.5" width="1248" height="105" fill="#d9d9d9" stroke="#000" stroke-width="1"/>
<text x="29.3" y="625.6" font-size="16.4" font-weight="bold" text-anchor="start" fill="#000">•</text>
<text x="43.75" y="625.6" font-size="16.4" font-weight="bold" text-anchor="start" fill="#000" textLength="1153.3" lengthAdjust="spacingAndGlyphs">Heavy precipitation on 25–27 Dec was associated with a closed low off the California coast that moved onshore near San Diego, CA</text>
<text x="29.3" y="651.25" font-size="16.4" font-weight="bold" text-anchor="start" fill="#000">•</text>
<text x="43.75" y="651.25" font-size="16.4" font-weight="bold" text-anchor="start" fill="#000" textLength="874.3" lengthAdjust="spacingAndGlyphs">Although moisture was lacking with this storm, there was strong dynamical forcing for precipitation</text>
<text x="29.3" y="676.9" font-size="16.4" font-weight="bold" text-anchor="start" fill="#000">•</text>
<text x="43.75" y="676.9" font-size="16.4" font-weight="bold" text-anchor="start" fill="#000" textLength="998.3" lengthAdjust="spacingAndGlyphs">1200 UTC 26 Dec GFS analysis shows a closed 500-hPa low and 250-hPa jet streak upstream of Southern California</text>
<text x="29.3" y="702.55" font-size="16.4" font-weight="bold" text-anchor="start" fill="#000">•</text>
<text x="43.75" y="702.55" font-size="16.4" font-weight="bold" text-anchor="start" fill="#000" textLength="964.5" lengthAdjust="spacingAndGlyphs">These features imply forcing for ascent via differential cyclonic vorticity advection and upper-level divergence</text>
</svg></body></html>
